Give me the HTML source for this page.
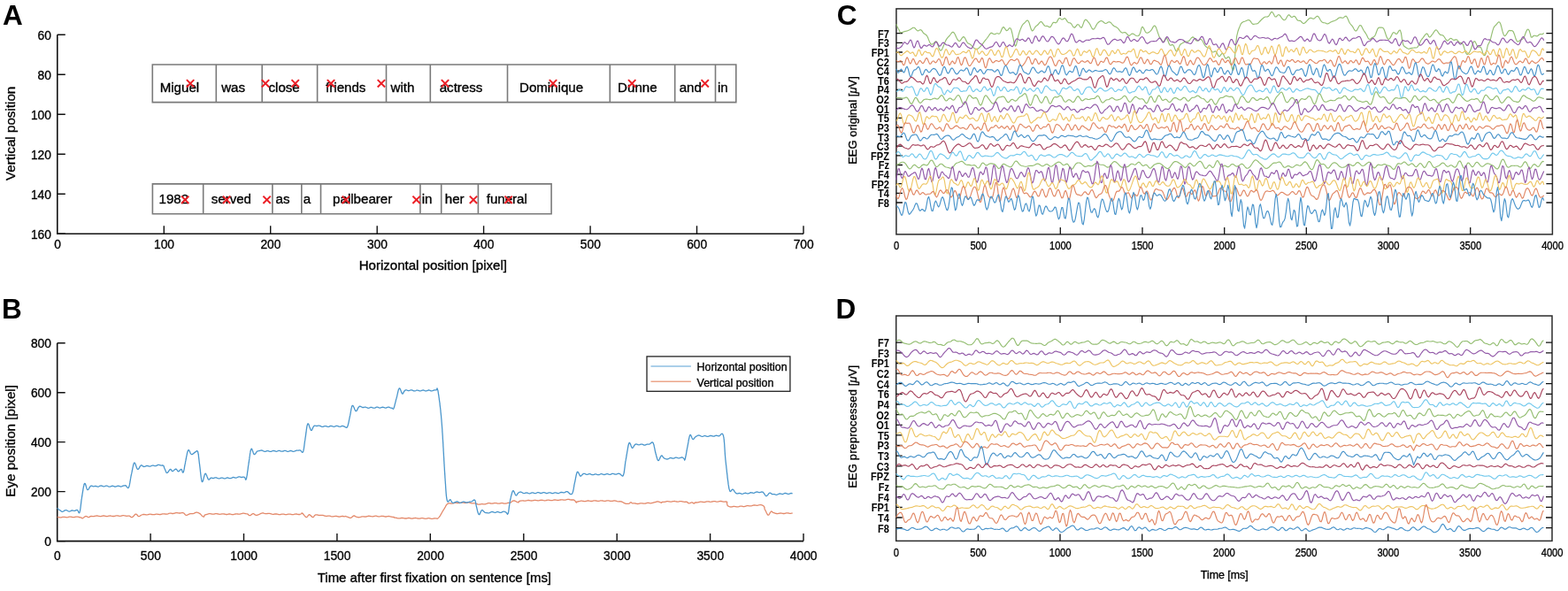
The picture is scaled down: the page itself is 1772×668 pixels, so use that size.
<!DOCTYPE html>
<html><head><meta charset="utf-8"><title>Eye tracking and EEG figure</title>
<style>html,body{margin:0;padding:0;background:#fff;}svg{display:block;}</style></head>
<body><svg width="1772" height="668" viewBox="0 0 1772 668" font-family="'Liberation Sans', Arial, sans-serif" fill="#000">
<rect width="1772" height="668" fill="#fff"/>
<text x="2.9" y="27.9" font-size="31.5" font-weight="bold">A</text>
<path d="M64.8 39.2V264.3H908.0" fill="none" stroke="#111" stroke-width="1.6"/>
<path d="M64.8 39.2h9M64.8 84.2h9M64.8 129.2h9M64.8 174.3h9M64.8 219.3h9M64.8 264.3h9M185.3 264.3v-9M305.7 264.3v-9M426.2 264.3v-9M546.6 264.3v-9M667.1 264.3v-9M787.5 264.3v-9M908 264.3v-9" stroke="#111" stroke-width="1.4"/>
<text transform="translate(57.9 45.1) scale(0.92 1)" font-size="15" text-anchor="end" stroke="#000" stroke-width="0.35">60</text>
<text transform="translate(57.9 90.1) scale(0.92 1)" font-size="15" text-anchor="end" stroke="#000" stroke-width="0.35">80</text>
<text transform="translate(57.9 135.1) scale(0.92 1)" font-size="15" text-anchor="end" stroke="#000" stroke-width="0.35">100</text>
<text transform="translate(57.9 180.2) scale(0.92 1)" font-size="15" text-anchor="end" stroke="#000" stroke-width="0.35">120</text>
<text transform="translate(57.9 225.2) scale(0.92 1)" font-size="15" text-anchor="end" stroke="#000" stroke-width="0.35">140</text>
<text transform="translate(57.9 270.2) scale(0.92 1)" font-size="15" text-anchor="end" stroke="#000" stroke-width="0.35">160</text>
<text transform="translate(65 281.2) scale(0.92 1)" font-size="15" text-anchor="middle" stroke="#000" stroke-width="0.35">0</text>
<text transform="translate(185.5 281.2) scale(0.92 1)" font-size="15" text-anchor="middle" stroke="#000" stroke-width="0.35">100</text>
<text transform="translate(305.9 281.2) scale(0.92 1)" font-size="15" text-anchor="middle" stroke="#000" stroke-width="0.35">200</text>
<text transform="translate(426.4 281.2) scale(0.92 1)" font-size="15" text-anchor="middle" stroke="#000" stroke-width="0.35">300</text>
<text transform="translate(546.8 281.2) scale(0.92 1)" font-size="15" text-anchor="middle" stroke="#000" stroke-width="0.35">400</text>
<text transform="translate(667.3 281.2) scale(0.92 1)" font-size="15" text-anchor="middle" stroke="#000" stroke-width="0.35">500</text>
<text transform="translate(787.7 281.2) scale(0.92 1)" font-size="15" text-anchor="middle" stroke="#000" stroke-width="0.35">600</text>
<text transform="translate(908.2 281.2) scale(0.92 1)" font-size="15" text-anchor="middle" stroke="#000" stroke-width="0.35">700</text>
<text x="489.3" y="305" font-size="15.05" text-anchor="middle" stroke="#000" stroke-width="0.35">Horizontal position [pixel]</text>
<text transform="translate(16.7 150.9) rotate(-90)" font-size="15.2" text-anchor="middle" stroke="#000" stroke-width="0.35">Vertical position</text>
<path d="M172.3 73.0H831.8V115.6H172.3ZM244.3 73.0V115.6M296.2 73.0V115.6M358.6 73.0V115.6M436.5 73.0V115.6M486.3 73.0V115.6M573.5 73.0V115.6M689.3 73.0V115.6M762.7 73.0V115.6M808.5 73.0V115.6" fill="none" stroke="#7a7a7a" stroke-width="1.6"/>
<path d="M172.4 207.9H623.1V241.7H172.4ZM229.7 207.9V241.7M307.9 207.9V241.7M340.8 207.9V241.7M362.5 207.9V241.7M474.9 207.9V241.7M498.7 207.9V241.7M540.4 207.9V241.7" fill="none" stroke="#7a7a7a" stroke-width="1.6"/>
<text x="180.7" y="104.3" font-size="15.1" stroke="#000" stroke-width="0.35">Miguel</text>
<text x="250.2" y="104.3" font-size="15.1" stroke="#000" stroke-width="0.35">was</text>
<text x="303.5" y="104.3" font-size="15.1" stroke="#000" stroke-width="0.35">close</text>
<text x="368.1" y="104.3" font-size="15.1" stroke="#000" stroke-width="0.35">friends</text>
<text x="441.6" y="104.3" font-size="15.1" stroke="#000" stroke-width="0.35">with</text>
<text x="496.7" y="104.3" font-size="15.1" stroke="#000" stroke-width="0.35">actress</text>
<text x="587" y="104.3" font-size="15.1" stroke="#000" stroke-width="0.35">Dominique</text>
<text x="698.1" y="104.3" font-size="15.1" stroke="#000" stroke-width="0.35">Dunne</text>
<text x="767.7" y="104.3" font-size="15.1" stroke="#000" stroke-width="0.35">and</text>
<text x="811" y="104.3" font-size="15.1" stroke="#000" stroke-width="0.35">in</text>
<text x="179.5" y="229.6" font-size="15.1" stroke="#000" stroke-width="0.35">1982</text>
<text x="238.7" y="229.6" font-size="15.1" stroke="#000" stroke-width="0.35">served</text>
<text x="311.6" y="229.6" font-size="15.1" stroke="#000" stroke-width="0.35">as</text>
<text x="342.7" y="229.6" font-size="15.1" stroke="#000" stroke-width="0.35">a</text>
<text x="376.1" y="229.6" font-size="15.1" stroke="#000" stroke-width="0.35">pallbearer</text>
<text x="476.7" y="229.6" font-size="15.1" stroke="#000" stroke-width="0.35">in</text>
<text x="502.8" y="229.6" font-size="15.1" stroke="#000" stroke-width="0.35">her</text>
<text x="549.7" y="229.6" font-size="15.1" stroke="#000" stroke-width="0.35">funeral</text>
<path d="M210.9 90.1l8.4 8.4M210.9 98.5l8.4 -8.4M295.8 90.1l8.4 8.4M295.8 98.5l8.4 -8.4M329.5 90.1l8.4 8.4M329.5 98.5l8.4 -8.4M369.8 90.1l8.4 8.4M369.8 98.5l8.4 -8.4M426.7 90.1l8.4 8.4M426.7 98.5l8.4 -8.4M498.8 90.1l8.4 8.4M498.8 98.5l8.4 -8.4M620.8 90.1l8.4 8.4M620.8 98.5l8.4 -8.4M710 90.1l8.4 8.4M710 98.5l8.4 -8.4M792.5 90.1l8.4 8.4M792.5 98.5l8.4 -8.4M205 221.6l8.4 8.4M205 230l8.4 -8.4M251.9 221.6l8.4 8.4M251.9 230l8.4 -8.4M297.4 221.6l8.4 8.4M297.4 230l8.4 -8.4M386.7 221.6l8.4 8.4M386.7 230l8.4 -8.4M466.4 221.6l8.4 8.4M466.4 230l8.4 -8.4M530.8 221.6l8.4 8.4M530.8 230l8.4 -8.4M570.4 221.6l8.4 8.4M570.4 230l8.4 -8.4" stroke="#ec1f26" stroke-width="2"/>
<text x="1.9" y="360.2" font-size="31.5" font-weight="bold">B</text>
<path d="M64.7 387.7V611.6H908.0" fill="none" stroke="#111" stroke-width="1.6"/>
<path d="M64.7 611.6h9M64.7 555.6h9M64.7 499.6h9M64.7 443.7h9M64.7 387.7h9M170.1 611.6v-8.5M275.5 611.6v-8.5M380.9 611.6v-8.5M486.3 611.6v-8.5M591.8 611.6v-8.5M697.2 611.6v-8.5M802.6 611.6v-8.5M908 611.6v-8.5" stroke="#111" stroke-width="1.4"/>
<text transform="translate(57.9 617.2) scale(0.92 1)" font-size="15" text-anchor="end" stroke="#000" stroke-width="0.35">0</text>
<text transform="translate(57.9 561.2) scale(0.92 1)" font-size="15" text-anchor="end" stroke="#000" stroke-width="0.35">200</text>
<text transform="translate(57.9 505.2) scale(0.92 1)" font-size="15" text-anchor="end" stroke="#000" stroke-width="0.35">400</text>
<text transform="translate(57.9 449.3) scale(0.92 1)" font-size="15" text-anchor="end" stroke="#000" stroke-width="0.35">600</text>
<text transform="translate(57.9 393.3) scale(0.92 1)" font-size="15" text-anchor="end" stroke="#000" stroke-width="0.35">800</text>
<text transform="translate(64.9 632.5) scale(0.92 1)" font-size="15" text-anchor="middle" stroke="#000" stroke-width="0.35">0</text>
<text transform="translate(170.3 632.5) scale(0.92 1)" font-size="15" text-anchor="middle" stroke="#000" stroke-width="0.35">500</text>
<text transform="translate(275.7 632.5) scale(0.92 1)" font-size="15" text-anchor="middle" stroke="#000" stroke-width="0.35">1000</text>
<text transform="translate(381.1 632.5) scale(0.92 1)" font-size="15" text-anchor="middle" stroke="#000" stroke-width="0.35">1500</text>
<text transform="translate(486.5 632.5) scale(0.92 1)" font-size="15" text-anchor="middle" stroke="#000" stroke-width="0.35">2000</text>
<text transform="translate(592 632.5) scale(0.92 1)" font-size="15" text-anchor="middle" stroke="#000" stroke-width="0.35">2500</text>
<text transform="translate(697.4 632.5) scale(0.92 1)" font-size="15" text-anchor="middle" stroke="#000" stroke-width="0.35">3000</text>
<text transform="translate(802.8 632.5) scale(0.92 1)" font-size="15" text-anchor="middle" stroke="#000" stroke-width="0.35">3500</text>
<text transform="translate(908.2 632.5) scale(0.92 1)" font-size="15" text-anchor="middle" stroke="#000" stroke-width="0.35">4000</text>
<text x="490.9" y="657.9" font-size="14.95" text-anchor="middle" stroke="#000" stroke-width="0.35">Time after first fixation on sentence [ms]</text>
<text transform="translate(16.7 498.4) rotate(-90)" font-size="15.2" text-anchor="middle" stroke="#000" stroke-width="0.35">Eye position [pixel]</text>
<path d="M64.7 584.4l0.4 0l0.4 0.1l0.5 0.1l0.6 0.1l0.6 0.2l0.6 0l0.7 0l0.7 -0.1l0.7 -0.2l0.8 -0.2l0.8 -0.1l0.8 0l0.9 0.1l0.8 0.2l0.9 0.1l0.9 0.1l0.8 -0.1l0.9 -0.3l0.9 -0.2l0.9 -0.1l0.8 0l0.9 0.2l0.8 0.2l0.9 0.1l0.8 0l0.7 -0.1l0.8 -0.1l0.7 -0.2l0.7 -0.1l0.6 0l0.6 0l0.6 0.1l0.5 0.1l0.4 0.2l1.9 0.4l1 0.2l0.4 0.3l0.2 0.3l0.2 0.2l0.4 -0.1l0.7 -0.3l0.7 -0.5l0.6 -0.6l0.7 -0.4l0.7 -0.4l0.6 -0.1l0.7 0.2l0.7 0.3l0.6 0.4l0.7 0.3l0.7 0l0.5 -0.2l0.2 -0.3l0.3 -0.3l0.5 -0.3l1 -0.2l1.6 0.2l0.4 0l0.5 0.1l0.5 -0.1l0.6 -0.1l0.6 -0.1l0.6 -0.2l0.6 -0.1l0.7 -0.1l0.6 0l0.8 0.1l0.7 0.2l0.7 0.1l0.8 0.2l0.7 0l0.8 -0.1l0.8 -0.2l0.8 -0.2l0.8 -0.1l0.8 0l0.8 0.2l0.7 0.2l0.8 0.1l0.8 0.1l0.8 0l0.7 -0.2l0.8 -0.2l0.7 -0.1l0.7 -0.1l0.7 0l0.7 0.2l0.8 0.1l0.7 0.2l0.8 0l0.8 0l0.8 -0.2l0.8 -0.2l0.8 -0.2l0.8 -0.1l0.8 0.1l0.7 0.1l0.8 0.2l0.8 0.1l0.8 0l0.7 -0.1l0.7 -0.2l0.8 -0.2l0.7 -0.1l0.7 -0.1l0.6 0.1l0.7 0.1l0.6 0.2l0.6 0.1l0.5 0.1l0.5 0.1l0.5 0l0.5 -0.1l1.4 -0.1l1 0.1l0.6 0.4l0.5 0.4l0.3 0.3l0.4 0.3l0.5 0.1l0.6 -0.1l0.6 -0.3l0.5 -0.5l0.6 -0.5l0.6 -0.7l0.5 -0.6l0.6 -0.5l0.5 -0.4l0.6 0l0.6 0.4l0.6 0.5l0.5 0.7l0.6 0.6l0.7 0.3l0.5 0.1l0.3 -0.2l0.4 -0.2l0.4 -0.3l0.7 -0.5l1 -0.5l1.5 -0.5l0.5 0l0.5 0l0.5 0l0.6 0.1l0.6 0.1l0.6 0.2l0.7 0l0.7 -0.1l0.7 -0.1l0.7 -0.2l0.8 -0.2l0.7 -0.1l0.8 0l0.8 0.1l0.8 0.2l0.8 0.2l0.8 0l0.8 -0.1l0.8 -0.1l0.8 -0.2l0.8 -0.2l0.7 0l0.8 0l0.7 0.2l0.7 0.1l0.7 0.1l0.7 0.1l0.6 -0.1l0.6 -0.1l0.9 -0.3l0.8 -0.2l0.8 -0.1l0.8 0l0.8 0.1l0.8 0.1l0.7 0.1l0.7 0l0.7 -0.1l0.7 -0.2l0.6 -0.2l0.7 -0.3l0.7 -0.1l0.6 -0.1l0.6 0.1l0.7 0l0.6 0.2l0.7 0.1l0.6 0l0.8 -0.1l0.8 -0.2l0.9 -0.2l0.8 -0.3l0.8 -0.1l0.8 0l0.8 0.2l0.7 0.1l0.8 0.1l0.7 0l0.7 -0.1l0.6 -0.1l0.6 -0.1l0.6 -0.1l0.5 -0.1l1 0.3l0.8 0.5l0.5 0.6l0.5 0.6l0.5 0.5l0.7 0.3l0.6 0l0.6 -0.2l0.7 -0.2l0.7 -0.4l0.7 -0.4l0.7 -0.3l0.8 -0.2l0.9 0l0.6 0.1l0.7 0l0.7 -0.1l0.8 -0.2l0.7 -0.3l0.8 -0.4l0.8 -0.3l0.8 -0.2l0.7 0l0.7 0.1l0.7 0.2l0.6 0.3l0.7 0.4l0.6 0.4l0.6 0.5l0.5 0.5l0.5 0.5l0.5 0.6l0.5 0.5l0.5 0.4l0.5 0.3l0.5 0.2l0.5 0l0.2 -0.2l0.1 -0.5l0.1 -0.5l0.3 -0.6l0.7 -0.4l1.1 -0.3l1.7 -0.5l0.4 -0.2l0.5 -0.1l0.5 -0.1l0.5 -0.1l0.6 0l0.6 0l0.6 0.2l0.7 0.1l0.7 0.2l0.7 0l0.7 0l0.7 -0.1l0.8 -0.2l0.8 -0.1l0.7 -0.1l0.8 0l0.9 0.2l0.8 0.2l0.8 0.2l0.8 0.1l0.8 -0.1l0.9 -0.1l0.8 -0.2l0.8 -0.1l0.9 0l0.8 0.2l0.8 0.2l0.8 0.2l0.8 0.1l0.8 0l0.7 -0.2l0.8 -0.2l0.7 -0.1l0.7 0l0.7 0l0.7 0.2l0.6 0.1l0.7 0.2l0.5 0.1l0.6 0l1 -0.1l1 -0.3l0.9 -0.2l0.9 -0.1l0.9 0l0.8 0.1l0.8 0.1l0.8 0.1l0.8 -0.1l0.7 -0.2l0.7 -0.2l0.6 -0.2l0.7 -0.2l0.6 -0.1l0.6 0l0.5 0l0.5 0.1l0.6 0.1l0.5 0.1l0.4 0.1l0.5 0.1l1.3 0.2l0.9 0.3l0.5 0.5l0.5 0.5l0.4 0.3l0.5 0.2l0.7 -0.1l0.6 -0.4l0.6 -0.5l0.7 -0.5l0.6 -0.4l0.6 -0.2l0.6 0.1l0.6 0.3l0.6 0.4l0.6 0.5l0.6 0.3l0.7 0.2l0.6 0l0.6 -0.2l0.7 -0.2l0.7 -0.3l0.7 -0.3l0.7 -0.4l0.7 -0.3l0.6 -0.3l0.6 -0.2l0.5 -0.2l0.5 -0.1l0.7 0l0.7 0.1l1 0.3l1.1 0.3l0.5 0l0.5 0l0.6 0l0.6 -0.1l0.6 -0.1l0.6 0l0.6 -0.1l0.7 0.1l0.6 0.1l0.7 0.2l0.8 0.3l0.7 0.2l0.8 0.1l0.8 0l0.8 -0.2l0.8 -0.1l0.9 -0.1l0.9 0.1l0.9 0.2l1 0.2l0.6 0.2l0.6 0l0.7 0l0.6 -0.1l0.8 -0.2l0.7 -0.1l0.7 -0.1l0.8 0l0.8 0.1l0.8 0.2l0.8 0.2l0.9 0.1l0.8 -0.1l0.8 -0.2l0.9 -0.2l0.8 -0.1l0.8 0l0.9 0.1l0.8 0.2l0.8 0.2l0.8 0.1l0.8 -0.1l0.8 -0.2l0.7 -0.2l0.8 -0.1l0.7 -0.1l0.6 0l0.7 0.1l0.6 0.2l0.6 0.1l0.5 0.1l0.5 0l0.5 0l0.4 0l2.3 -1l-0.1 -0.6l0.2 0l0.5 0.2l0.5 0.4l0.5 0.6l0.6 0.7l0.6 0.8l0.7 0.8l0.5 0.6l0.6 0.4l0.5 0.2l0.8 -0.3l0.6 -0.7l0.7 -0.9l0.6 -0.7l0.7 -0.3l0.6 0.2l0.7 0.6l0.7 0.7l0.7 0.7l0.7 0.5l0.7 0.2l0.6 -0.3l0.4 -0.5l0.4 -0.6l0.6 -0.7l0.8 -0.6l1.2 -0.1l0.5 0l0.5 0.2l0.6 0.1l0.6 0.2l0.6 0.1l0.7 0.1l0.7 -0.1l0.7 0l0.8 -0.1l0.7 0l0.8 0.1l0.8 0.3l0.8 0.3l0.8 0.2l0.8 0.2l0.8 0l0.8 0l0.8 -0.2l0.8 -0.1l0.7 0l0.7 0.1l0.7 0.2l0.7 0.2l0.8 0.2l0.8 0.1l0.8 0l0.7 -0.2l0.8 -0.1l0.8 -0.2l0.8 0l0.8 0.1l0.8 0.2l0.8 0.2l0.7 0.1l0.7 0.1l0.7 -0.1l0.7 -0.1l0.6 -0.2l0.6 -0.1l0.5 -0.1l0.5 0l0.5 0l1.7 0.3l0.7 -0.1l0.4 -0.2l0.6 0.1l0.6 0.2l0.7 0.2l0.7 0.3l0.7 0.3l0.7 0.3l0.6 0.3l0.7 0.2l0.6 0l0.6 -0.2l0.6 -0.4l0.6 -0.5l0.5 -0.5l0.6 -0.5l0.6 -0.3l0.6 -0.1l0.4 0.2l0.4 0.3l0.5 0.3l0.9 0.4l1.3 0.4l0.5 0.1l0.5 0.1l0.5 0.1l0.5 -0.1l0.6 0l0.6 -0.2l0.6 -0.2l0.7 -0.2l0.6 -0.2l0.7 -0.1l0.7 0l0.8 0.1l0.8 0.1l0.7 0.1l0.8 -0.1l0.9 -0.1l0.8 -0.3l0.9 -0.2l0.9 -0.2l0.9 0.1l0.9 0.2l0.6 0.1l0.6 0.1l0.7 0.1l0.7 0l0.7 -0.2l0.7 -0.1l0.7 -0.2l0.8 -0.1l0.8 0l0.8 0.2l0.8 0.2l0.8 0.2l0.8 0l0.8 0l0.9 -0.2l0.8 -0.2l0.8 -0.1l0.8 0l0.9 0.2l0.8 0.2l0.8 0.2l0.7 0.1l0.8 0l0.7 -0.1l0.8 -0.2l0.7 -0.1l0.7 -0.1l0.6 0l0.6 0.2l0.6 0.1l0.6 0.2l0.5 0.1l0.5 0.1l0.4 0.1l1.6 0l0.6 0.1l-0.1 0.3l0 0.3l0.5 0.2l1.5 0l0.4 0.1l0.5 0.1l0.5 0.1l0.6 0.2l0.5 0.1l0.6 0.1l0.7 0l0.6 0l0.7 -0.1l0.7 -0.2l0.7 -0.1l0.8 -0.1l0.7 0.1l0.8 0.1l0.8 0.2l0.7 0.2l0.8 0l0.8 0l0.9 -0.2l0.8 -0.2l0.8 -0.1l0.8 0l0.8 0.1l0.8 0.2l0.8 0.2l0.8 0.1l0.8 -0.1l0.8 -0.1l0.7 -0.2l0.8 -0.1l0.7 -0.1l0.7 0l0.7 0.2l0.8 0.2l0.7 0.1l0.8 0.1l0.8 0l0.8 -0.1l0.8 -0.2l0.8 -0.1l0.8 -0.1l0.8 0.1l0.8 0.2l0.8 0.2l0.8 0.1l0.8 0.1l0.8 -0.1l0.7 -0.2l0.8 -0.2l0.8 -0.1l0.7 0l0.7 0.2l0.7 0.1l0.7 0.2l0.7 0.1l0.6 0.1l0.6 -0.1l0.6 -0.1l0.5 -0.1l0.5 -0.1l0.5 -0.1l0.5 -0.1l0.4 0l2.3 0.4l0.1 0.1l0.3 -0.3l0.5 -0.3l0.4 -0.3l0.5 -0.5l0.5 -0.6l0.5 -0.7l0.6 -0.8l0.5 -0.9l0.3 -0.6l0.4 -0.6l0.4 -0.7l0.3 -0.7l0.4 -0.7l0.4 -0.6l0.4 -0.6l0.3 -0.6l0.4 -0.6l0.4 -0.5l0.3 -0.5l0.4 -0.7l0.4 -0.7l0.4 -0.7l0.3 -0.7l0.4 -0.7l0.4 -0.7l0.5 -0.6l0.6 -0.6l0.5 -0.4l0.6 -0.3l0.5 -0.2l0.6 -0.1l0.6 0.1l0.7 0.1l0.9 0.2l1.1 0l1.2 -0.3l0.5 -0.1l0.6 -0.2l0.5 -0.2l0.6 0l0.7 -0.1l0.7 0.1l0.7 0.1l0.7 0.2l0.7 0l0.8 0l0.7 -0.2l0.8 -0.2l0.8 -0.2l0.8 -0.1l0.7 0l0.8 0.1l0.8 0.1l0.8 0.2l0.7 0.1l0.8 -0.1l0.7 -0.1l0.7 -0.2l0.7 -0.1l0.7 -0.1l0.6 0l0.8 0.2l0.8 0.2l0.8 0.3l0.7 0.2l0.8 0.1l0.7 0l0.7 -0.1l0.7 0l0.7 0l0.7 0.1l0.7 0.2l0.7 0.3l0.6 0.2l0.7 0.3l0.6 0.2l0.7 0l0.6 0l0.7 -0.1l0.6 -0.1l0.8 -0.1l0.7 -0.1l0.7 0l0.6 0.1l0.7 0.1l0.6 0l0.6 0l0.6 -0.1l0.7 -0.2l0.7 -0.2l0.7 -0.3l0.8 -0.2l0.8 -0.2l0.9 0l1 0.2l0.6 0.1l0.6 0.1l0.6 0.1l0.6 -0.1l0.7 -0.1l0.7 -0.2l0.8 -0.2l0.7 0l0.8 0l0.8 0.1l0.8 0.2l0.8 0.2l0.8 0.1l0.8 -0.1l0.8 -0.1l0.8 -0.2l0.8 -0.2l0.8 0l0.7 0.1l0.8 0.2l0.7 0.2l0.7 0.1l0.7 0l0.7 -0.1l0.6 -0.1l0.6 -0.2l0.5 -0.2l0.5 -0.1l0.5 -0.1l1.4 -0.1l1 -0.1l0.7 -0.3l0.5 -0.4l0.4 -0.4l0.4 -0.4l0.4 -0.3l0.6 -0.3l0.7 -0.1l0.6 -0.1l0.7 0.1l0.7 0.3l0.7 0.4l0.7 0.4l0.7 0.4l0.7 0.3l0.6 0.1l0.5 -0.1l0 -0.2l-0.1 -0.2l0 -0.3l0.6 -0.4l1.3 -0.6l2.4 -0.3l0.4 0.1l0.4 0l0.5 0.1l0.5 0.1l0.5 0.1l0.6 0l0.5 -0.1l0.6 -0.1l0.6 -0.2l0.7 -0.1l0.6 -0.2l0.7 0l0.7 0l0.7 0.1l0.7 0.2l0.7 0.1l0.8 0.1l0.7 -0.1l0.8 -0.1l0.8 -0.2l0.8 -0.2l0.8 -0.1l0.8 0.1l0.8 0.2l0.8 0.1l0.8 0.2l0.9 0l0.8 -0.2l0.8 -0.2l0.8 -0.2l0.9 -0.1l0.8 0.1l0.8 0.1l0.8 0.2l0.9 0.2l0.8 0l0.8 -0.1l0.8 -0.2l0.8 -0.2l0.7 -0.1l0.8 0l0.7 0.1l0.8 0.1l0.7 0.2l0.7 0.1l0.7 0l0.7 -0.1l0.7 -0.2l0.6 -0.2l0.6 -0.1l0.6 -0.1l0.6 0l0.6 0.1l0.5 0.1l1.1 0.2l1 0.1l1 -0.1l0.9 -0.2l0.9 -0.2l0.9 -0.2l0.9 0l0.8 0.1l0.8 0.2l0.8 0.1l0.7 0l0.7 -0.1l0.7 -0.2l0.6 -0.2l0.7 -0.1l0.6 -0.2l0.6 0l0.5 0l0.6 0.1l0.5 0.1l0.5 0.2l0.5 0.1l0.5 0.1l0.5 0l0.5 0l0.4 0l1.2 0l1 0.2l0.6 0.4l0.5 0.6l0.3 0.5l0.4 0.6l0.3 0.4l0.5 0.3l0.3 0.1l-0.3 -0.3l-0.2 -0.4l0.2 -0.3l1.2 -0.1l2.8 -0.6l0.4 -0.1l0.4 -0.1l0.5 0l0.5 -0.1l0.5 0.1l0.5 0.1l0.6 0.1l0.6 0.1l0.6 0.1l0.6 0l0.6 0l0.7 -0.1l0.7 -0.2l0.7 -0.2l0.7 -0.1l0.7 0l0.8 0l0.7 0.2l0.8 0.2l0.8 0.1l0.8 0l0.8 -0.2l0.8 -0.2l0.8 -0.2l0.8 -0.1l0.8 0.1l0.9 0.1l0.8 0.2l0.8 0.2l0.9 0l0.8 -0.1l0.9 -0.2l0.8 -0.2l0.8 -0.1l0.9 0l0.8 0.2l0.8 0.2l0.8 0.1l0.8 0.1l0.8 -0.1l0.8 -0.2l0.8 -0.2l0.8 -0.1l0.7 0l0.7 0.1l0.8 0.2l0.7 0.2l0.7 0.1l0.7 0l0.6 0l0.7 -0.1l0.6 -0.2l0.6 -0.1l0.5 -0.1l0.6 0l0.5 0.1l0.5 0.1l0.5 0.1l1.3 0.4l1.3 0.2l1.1 0l1 -0.1l0.9 0.1l0.9 0.2l0.7 0.3l0.7 0.4l0.6 0.4l0.6 0.3l0.5 0.3l0.5 0.2l0.4 0.2l0.4 0.1l0.4 0.1l0.4 0l0.4 0l0.5 0l0.4 0l1.2 0l0.8 -0.2l0.6 -0.4l0.4 -0.4l0.4 -0.4l0.6 -0.1l0.5 0.1l0.2 0.3l0.3 0.3l0.4 0.3l1 0.1l1.6 0l0.5 0l0.5 0.1l0.5 0.1l0.6 0.2l0.7 0.1l0.7 0.1l0.7 0l0.7 -0.2l0.8 -0.2l0.8 -0.2l0.8 -0.1l0.8 0l0.9 0.1l0.8 0.2l0.9 0.1l0.8 0l0.9 -0.2l0.8 -0.2l0.8 -0.3l0.9 -0.1l0.7 0l0.8 0.1l0.7 0.2l0.7 0.1l0.7 0l0.6 -0.1l0.6 -0.1l0.5 -0.2l0.5 -0.1l1.4 -0.5l1 -0.2l0.8 -0.1l0.5 -0.2l0.4 -0.2l0.4 -0.1l0.4 -0.1l0.5 0l0.7 0.1l0.7 0.1l0.7 0.2l0.6 0.3l0.7 0.3l0.6 0.3l0.5 0.1l0.3 -0.1l-0.1 -0.4l0.4 -0.5l2.1 0.1l0.4 0l0.5 -0.1l0.5 -0.1l0.6 -0.1l0.6 -0.2l0.6 -0.2l0.7 0l0.7 0l0.8 0.1l0.7 0.1l0.8 0.2l0.8 0.1l0.9 -0.1l0.8 -0.2l0.9 -0.2l0.8 -0.1l0.9 -0.1l0.8 0.2l0.9 0.2l0.8 0.1l0.8 0.1l0.9 0l0.8 -0.2l0.7 -0.2l0.8 -0.1l0.7 0l0.7 0l0.7 0.2l0.6 0.2l0.6 0.1l0.6 0.1l0.5 0.1l0.4 0l1.6 -0.1l1.1 0.1l0.6 0.3l0.3 0.4l0.2 0.3l0.3 0.3l0.4 0.2l0.8 0.1l0.7 -0.2l0.8 -0.3l0.7 -0.4l0.6 -0.2l0.7 0.1l0.6 0.5l0.6 0.4l0.8 0.2l0.4 -0.1l0 -0.2l0.2 -0.4l0.5 -0.3l1.2 0l2.2 -0.2l0.4 -0.1l0.5 -0.1l0.5 -0.2l0.6 -0.1l0.5 -0.1l0.7 -0.1l0.6 0l0.7 0.2l0.7 0.1l0.7 0.1l0.8 0.1l0.7 -0.1l0.8 -0.2l0.8 -0.2l0.8 -0.2l0.9 -0.1l0.8 0.1l0.9 0.1l0.8 0.2l0.9 0.1l0.9 -0.1l0.8 -0.2l0.9 -0.2l0.8 -0.2l0.9 0l0.8 0.1l0.8 0.2l0.9 0.2l0.8 0l0.7 0l0.8 -0.2l0.7 -0.2l0.8 -0.1l0.6 -0.1l0.7 0l0.6 0.1l0.6 0.2l0.6 0.1l0.5 0.2l0.5 0l0.5 0.1l0.4 0l2.3 -0.2l0.8 0.4l0 0.6l-0.3 0.6l0.1 0.6l0.3 0.6l0.1 0.7l0.1 0.7l0.6 0.7l1.4 0.6l0.4 0.2l0.5 0.1l0.6 0.1l0.5 0.1l0.6 -0.1l0.7 -0.1l0.6 -0.2l0.7 -0.1l0.7 -0.1l0.8 0l0.7 0.2l0.8 0.1l0.8 0.2l0.8 0l0.9 -0.1l0.8 -0.2l0.9 -0.3l0.8 -0.1l0.9 -0.1l0.8 0.1l0.9 0.2l0.8 0.2l0.6 0l0.7 -0.1l0.7 -0.2l0.7 -0.2l0.7 -0.2l0.8 -0.2l0.7 0l0.8 0l0.8 0.1l0.8 0.1l0.8 0l0.8 -0.1l0.8 -0.2l0.8 -0.3l0.8 -0.2l0.8 -0.1l0.8 0l0.7 0.1l0.8 0.1l0.7 0.1l0.7 0l0.7 -0.1l0.7 -0.2l0.6 -0.2l0.7 -0.1l0.5 -0.1l0.6 0l0.5 0.1l0.5 0.1l0.4 0.1l1.3 0.6l0.8 0.6l0.5 0.5l0.2 0.7l0.2 0.7l0 0.7l0.2 0.8l0.3 0.6l0.4 0.6l0.3 0.6l0.3 0.7l0.4 0.8l0.3 0.7l0.4 0.8l0.4 0.6l0.3 0.6l0.3 0.4l0.4 0.3l0.4 0l0.5 -0.3l0.4 -0.6l0.4 -0.7l0.4 -0.8l0.5 -0.7l0.4 -0.6l0.5 -0.4l0.5 -0.1l0.3 0.2l0.3 0.3l0.4 0.4l0.6 0.4l1 0.3l1.4 0.5l0.5 0.2l0.5 0.1l0.6 0.1l0.6 0.1l0.6 0l0.8 -0.2l0.7 -0.1l0.8 -0.2l0.8 -0.1l0.8 0.1l0.8 0.1l0.9 0.2l0.8 0.1l0.9 0l0.8 -0.1l0.9 -0.3l0.8 -0.2l0.8 0l0.8 0l0.8 0.1l0.7 0.2l0.7 0.1l0.7 0.1l0.6 -0.1l0.6 -0.1l0.5 -0.1l0.4 -0.1l0.4 -0.1" fill="none" stroke="#e3896a" stroke-width="1.3" stroke-linejoin="round"/>
<path d="M64.7 574.2l0.3 0.4l0.5 0.5l0.5 0.4l0.5 0.5l0.6 0.4l0.7 0.3l0.6 0.5l0.5 0.4l0.5 0.4l0.7 0.4l0.7 -0.1l0.6 -0.3l0.7 -0.4l0.7 -0.5l0.7 -0.2l0.7 -0.2l0.8 0l0.8 0.3l0.9 0.5l0.8 0.4l0.7 0.2l0.8 -0.2l0.8 -0.3l0.8 -0.4l0.8 -0.2l0.8 0l0.7 0.2l0.9 0.2l0.9 -0.1l0.8 -0.4l0.8 -0.4l0.7 -0.2l0.7 0.4l0.6 1.1l0.5 1.3l0.6 0.7l0.5 -0.5l0.1 -0.3l0.1 -0.3l0.1 -0.5l0.1 -0.5l0.2 -0.5l0.1 -0.6l0.1 -0.6l0.1 -0.7l0.1 -0.8l0.1 -0.7l0.1 -0.8l0.1 -0.8l0.1 -0.9l0.1 -0.8l0.1 -0.9l0.1 -0.8l0.1 -0.9l0.1 -0.9l0.1 -0.8l0.1 -0.9l0.1 -0.8l0.2 -0.8l0.1 -0.8l0.1 -0.7l0.1 -0.8l0.2 -0.9l0.1 -0.9l0.1 -0.9l0.2 -0.9l0.1 -0.9l0.2 -0.9l0.1 -1l0.2 -0.9l0.1 -0.9l0.1 -0.8l0.2 -0.8l0.1 -0.8l0.2 -0.8l0.1 -0.7l0.2 -0.6l0.1 -0.6l0.2 -0.5l0.1 -0.4l0.2 -0.3l0.1 -0.3l0.2 -0.2l0.3 0l0.3 0.3l0.3 0.7l0.3 0.9l0.3 1l0.3 1.1l0.3 1l0.3 1l0.3 0.7l0.4 0.5l0.3 0.1l0.5 -0.2l0.5 -0.7l0.5 -0.8l0.5 -0.8l0.5 -0.8l0.5 -0.7l0.5 -0.4l0.5 -0.2l0.6 0l0.6 0.3l0.5 0.3l0.7 0.2l1 -0.2l0.5 -0.2l0.6 -0.1l0.6 0.1l0.7 0.2l0.7 0.2l0.7 0.2l0.8 0l0.8 -0.3l0.7 -0.4l0.8 -0.3l0.8 -0.1l0.8 0.1l0.7 0.3l0.6 0.3l0.7 0.2l0.6 0l0.7 -0.2l0.6 -0.2l0.7 -0.3l0.7 -0.1l0.7 0.1l0.8 0.3l0.7 0.3l0.8 0.3l0.8 0l0.9 -0.2l0.6 -0.3l0.7 -0.3l0.7 -0.1l0.8 0.2l0.8 0.2l0.8 0.4l0.8 0.1l0.8 -0.1l0.9 -0.4l0.8 -0.3l0.8 -0.1l0.8 0.1l0.8 0.2l0.8 0.3l0.7 0.2l0.7 -0.1l0.6 -0.2l0.6 -0.3l0.5 -0.2l0.5 -0.2l1.5 -0.1l0.5 -0.1l0.3 -0.2l0.4 0.2l0.6 0.7l0.7 1.1l0.7 0.7l0.7 0.2l0.7 -0.9l0.1 -0.4l0.2 -0.4l0.1 -0.5l0.2 -0.6l0.1 -0.6l0.2 -0.7l0.1 -0.7l0.1 -0.8l0.2 -0.7l0.1 -0.8l0.1 -0.8l0.2 -0.8l0.1 -0.8l0.1 -0.8l0.2 -0.8l0.1 -0.8l0.1 -0.7l0.2 -0.8l0.1 -0.7l0.2 -0.6l0.1 -0.7l0.2 -0.7l0.1 -0.7l0.2 -0.8l0.2 -0.9l0.1 -0.8l0.2 -0.9l0.2 -0.8l0.1 -0.9l0.2 -0.9l0.2 -0.8l0.1 -0.8l0.2 -0.7l0.2 -0.7l0.2 -0.7l0.1 -0.6l0.2 -0.5l0.2 -0.4l0.2 -0.3l0.3 -0.2l0.3 0.2l0.4 0.4l0.3 0.7l0.4 0.9l0.3 1l0.4 1l0.3 1.1l0.4 0.9l0.3 0.7l0.4 0.4l0.6 0.1l0.6 -0.4l0.6 -0.8l0.5 -1l0.6 -1l0.6 -0.9l0.5 -0.4l0.7 -0.1l0.5 0.4l0.6 0.6l1.2 0.6l0.5 0.1l0.6 -0.2l0.6 -0.2l0.7 -0.3l0.7 -0.3l0.8 0l0.8 0.1l0.8 0.3l0.8 0.3l0.8 0l0.9 -0.3l0.8 -0.4l0.8 -0.3l0.7 -0.1l0.7 0.1l0.7 0.2l0.8 0.2l0.8 0.1l0.8 -0.2l0.8 -0.4l0.8 -0.5l0.8 -0.2l0.7 0l0.7 0.2l0.7 0.2l0.7 0.2l0.6 0.1l0.5 0l0.5 -0.1l0.8 0l0.6 0.3l0.4 0.6l0.2 0.6l0.2 0.7l0.2 0.7l0.3 0.7l0.4 0.7l0.3 0.9l0.4 0.9l0.4 0.9l0.3 0.8l0.4 0.5l0.5 0.2l0.5 -0.1l0.6 -0.6l0.6 -0.9l0.7 -1l0.6 -0.8l0.5 -0.6l0.5 -0.2l0.8 0.6l0.5 1.1l0.8 0.7l0.6 -0.1l0.6 -0.5l0.8 -0.7l0.7 -0.7l0.7 -0.5l0.6 -0.1l0.8 0.5l0.6 0.9l0.6 0.9l0.7 0.5l0.7 -0.2l0.7 -0.7l0.7 -0.8l0.7 -0.7l0.6 -0.2l0.5 0.6l0.4 1.2l0.4 1.3l0.4 0.8l0.5 -0.2l0.1 -0.3l0.2 -0.3l0.1 -0.5l0.1 -0.5l0.2 -0.5l0.1 -0.7l0.2 -0.6l0.1 -0.8l0.2 -0.8l0.1 -0.8l0.1 -0.8l0.2 -0.9l0.1 -0.8l0.2 -0.9l0.2 -0.9l0.1 -0.8l0.2 -0.9l0.1 -0.8l0.2 -0.7l0.1 -0.7l0.2 -0.9l0.2 -0.9l0.1 -1l0.2 -0.9l0.2 -0.9l0.2 -1l0.2 -0.8l0.1 -0.9l0.2 -0.8l0.2 -0.7l0.2 -0.7l0.2 -0.6l0.2 -0.4l0.2 -0.4l0.2 -0.3l0.2 -0.2l0.4 0.1l0.4 0.5l0.4 0.7l0.4 0.9l0.4 1l0.5 0.8l0.5 0.6l0.5 0.4l0.5 0.1l0.5 -0.3l0.6 -0.5l0.7 -0.5l0.6 -0.5l0.7 -0.5l0.7 -0.5l0.6 -0.5l0.6 -0.5l0.5 -0.3l0.5 0.2l0.2 0.2l0.2 0.3l0.1 0.3l0.2 0.4l0.1 0.5l0.1 0.6l0.1 0.6l0.1 0.6l0.2 0.7l0.1 0.7l0 0.8l0.1 0.8l0.1 0.8l0.1 0.8l0.1 0.9l0.1 0.8l0.1 0.9l0.1 0.8l0.1 0.9l0.1 0.9l0.1 0.8l0.1 0.8l0.1 0.7l0.1 0.8l0.1 0.8l0.1 0.8l0.1 0.8l0.1 0.9l0.1 0.9l0.1 0.9l0.1 0.9l0.1 1l0.1 0.9l0.1 0.9l0.1 0.9l0.1 0.9l0.1 0.9l0.1 0.8l0.1 0.9l0.2 0.7l0.1 0.8l0.1 0.7l0.1 0.6l0.1 0.6l0.1 0.5l0.1 0.4l0.2 0.4l0.1 0.3l0.1 0.2l0.3 0.1l0.2 -0.3l0.3 -0.6l0.3 -0.8l0.3 -1l0.3 -1.2l0.3 -1.1l0.3 -1.2l0.3 -1.1l0.3 -0.9l0.3 -0.7l0.3 -0.5l0.3 -0.1l0.3 0.2l0.4 0.5l0.3 0.7l0.4 0.8l0.3 1l0.4 0.9l0.3 0.8l0.3 0.8l0.4 0.7l0.3 0.4l0.3 0.2l0.6 -0.1l0.5 -0.6l0.5 -0.7l0.6 -0.6l1.1 0l0.5 0.2l0.6 0.1l0.6 0.1l0.7 -0.1l0.7 -0.3l0.8 -0.3l0.7 -0.1l0.8 0.1l0.8 0.4l0.9 0.4l0.8 0.2l0.8 0l0.8 -0.3l0.7 -0.3l0.6 -0.2l0.7 0l0.6 0.1l0.7 0.2l0.6 0.3l0.7 0.2l0.7 0l0.7 -0.1l0.7 -0.3l0.7 -0.3l0.8 -0.2l0.7 0l0.8 0.3l0.8 0.3l0.8 0.1l0.6 0l0.7 -0.3l0.8 -0.3l0.7 -0.4l0.8 -0.2l0.8 0.1l0.8 0.2l0.8 0.3l0.8 0l0.8 -0.2l0.8 -0.4l0.8 -0.4l0.8 -0.2l0.7 0l0.8 0.2l0.7 0.3l0.6 0.1l0.6 0l0.6 -0.1l0.5 -0.2l0.5 -0.1l1.4 0.2l0.7 1.2l0.3 1.2l0.3 0.6l0.4 -0.5l0.1 -0.3l0.1 -0.4l0.2 -0.4l0.1 -0.4l0.1 -0.5l0.1 -0.6l0.1 -0.6l0.1 -0.7l0.2 -0.7l0.1 -0.7l0.1 -0.8l0.1 -0.8l0.1 -0.8l0.1 -0.8l0.1 -0.8l0.2 -0.9l0.1 -0.9l0.1 -0.8l0.1 -0.9l0.1 -0.8l0.1 -0.9l0.1 -0.8l0.2 -0.8l0.1 -0.8l0.1 -0.7l0.1 -0.8l0.2 -0.9l0.1 -0.9l0.1 -0.9l0.1 -0.9l0.2 -0.9l0.1 -0.9l0.1 -0.9l0.1 -1l0.2 -0.9l0.1 -0.8l0.1 -0.9l0.1 -0.8l0.2 -0.8l0.1 -0.8l0.1 -0.7l0.2 -0.6l0.1 -0.6l0.1 -0.5l0.2 -0.5l0.1 -0.3l0.2 -0.3l0.1 -0.3l0.4 -0.1l0.3 0.5l0.4 0.8l0.4 1.1l0.4 1.2l0.4 1.2l0.4 0.9l0.5 0.7l0.4 0.1l0.5 -0.3l0.5 -0.5l0.5 -0.8l0.5 -0.8l0.5 -0.7l0.6 -0.5l0.7 -0.3l0.7 -0.1l0.6 -0.1l0.5 -0.1l0.6 -0.1l0.6 -0.2l0.7 -0.1l0.6 -0.1l0.8 0.2l0.7 0.4l0.9 0.4l0.9 0.4l1 -0.1l0.6 -0.1l0.5 -0.3l0.6 -0.2l0.7 -0.1l0.6 0l0.7 0.2l0.6 0.3l0.7 0.2l0.8 0.1l0.7 -0.1l0.7 -0.3l0.8 -0.3l0.7 -0.2l0.8 0l0.8 0.2l0.7 0.3l0.8 0.2l0.8 0.1l0.8 -0.3l0.8 -0.3l0.8 -0.3l0.7 0l0.6 0.1l0.7 0.3l0.8 0.3l0.7 0.1l0.8 0l0.8 -0.2l0.7 -0.4l0.8 -0.2l0.8 0l0.8 0.3l0.8 0.3l0.8 0.3l0.8 0l0.8 -0.2l0.7 -0.3l0.8 -0.3l0.7 -0.1l0.7 0.2l0.7 0.2l0.6 0.3l0.7 0.2l0.5 0l0.6 -0.1l0.5 -0.2l0.5 -0.2l1.5 -0.6l1 -0.1l0.8 0.1l0.6 -0.1l0.5 -0.1l0.4 -0.1l0.6 0l0.7 0.2l0.7 0.6l0.6 0.7l0.5 0.7l0.6 0.3l0.5 -0.5l0.1 -0.3l0.2 -0.3l0.1 -0.4l0.1 -0.5l0.1 -0.5l0.1 -0.6l0.2 -0.6l0.1 -0.7l0.1 -0.7l0.1 -0.7l0.1 -0.7l0.1 -0.8l0.1 -0.8l0.1 -0.8l0.1 -0.8l0.1 -0.8l0.1 -0.8l0.1 -0.8l0.1 -0.8l0.2 -0.8l0.1 -0.8l0.1 -0.7l0.1 -0.8l0.1 -0.7l0.1 -0.8l0.2 -0.9l0.1 -0.8l0.1 -0.9l0.1 -0.9l0.1 -0.9l0.2 -1l0.1 -0.9l0.1 -0.9l0.1 -0.9l0.1 -0.9l0.2 -0.8l0.1 -0.8l0.1 -0.8l0.1 -0.7l0.2 -0.7l0.1 -0.5l0.2 -0.6l0.1 -0.4l0.1 -0.4l0.2 -0.2l0.3 -0.2l0.4 0.2l0.3 0.6l0.4 0.9l0.3 1l0.4 1.2l0.4 1.1l0.4 1.1l0.4 0.8l0.3 0.6l0.4 0.2l0.4 -0.2l0.4 -0.5l0.4 -0.7l0.3 -0.9l0.4 -0.9l0.5 -0.9l0.5 -0.7l0.5 -0.5l0.7 -0.1l0.5 0.1l0.6 0.1l0.5 0.2l0.6 0l0.7 -0.1l0.6 -0.2l0.7 -0.1l0.7 0l0.8 0.2l0.8 0.4l0.8 0.4l0.9 0.3l0.9 -0.1l0.6 -0.2l0.6 -0.2l0.7 -0.2l0.7 -0.1l0.7 0.1l0.7 0.2l0.8 0.3l0.7 0.2l0.8 0l0.8 -0.3l0.8 -0.4l0.8 -0.2l0.8 0l0.7 0.2l0.8 0.3l0.7 0.2l0.7 0.1l0.7 -0.2l0.7 -0.2l0.6 -0.3l0.6 -0.2l0.9 0l0.9 0.2l0.8 0.4l0.8 0.2l0.8 0.1l0.7 -0.2l0.7 -0.3l0.7 -0.3l0.6 0l0.6 0l0.6 0.2l0.5 0.2l0.5 0.3l1.1 0.5l0.8 0.5l0.6 0.2l0.5 -0.3l0.6 -0.9l0.2 -0.4l0.1 -0.5l0.2 -0.6l0.2 -0.6l0.1 -0.6l0.2 -0.7l0.2 -0.7l0.1 -0.7l0.2 -0.8l0.1 -0.7l0.2 -0.8l0.1 -0.7l0.2 -0.8l0.1 -0.7l0.2 -0.8l0.1 -0.7l0.2 -0.6l0.1 -0.7l0.2 -0.7l0.1 -0.7l0.2 -0.9l0.1 -0.8l0.2 -0.9l0.1 -0.9l0.2 -0.8l0.1 -0.9l0.2 -0.9l0.1 -0.7l0.2 -0.8l0.2 -0.7l0.1 -0.6l0.2 -0.5l0.2 -0.5l0.2 -0.3l0.3 -0.2l0.4 0.2l0.4 0.5l0.4 0.7l0.4 0.9l0.4 1l0.4 1l0.5 0.9l0.4 0.8l0.4 0.4l0.5 0l0.4 -0.3l0.4 -0.7l0.5 -0.8l0.4 -1l0.5 -1l0.7 -0.9l0.7 -0.6l0.5 -0.2l0.6 0.1l0.6 0.3l0.7 0.3l0.6 0.4l0.7 0.2l0.8 0l0.7 -0.2l0.9 -0.1l0.8 0l0.9 0.3l1 0.4l0.6 0.3l0.6 0.1l0.6 -0.1l0.7 -0.2l0.7 -0.3l0.7 -0.3l0.7 0l0.8 0.1l0.7 0.3l0.8 0.3l0.8 0.1l0.7 -0.1l0.8 -0.3l0.8 -0.4l0.7 -0.2l0.8 0l0.7 0.2l0.7 0.3l0.8 0.3l0.6 0.1l0.7 -0.2l0.8 -0.3l0.8 -0.3l0.8 -0.1l0.9 0.1l0.8 0.3l0.8 0.3l0.8 0.2l0.8 -0.1l0.7 -0.3l0.8 -0.3l0.7 -0.2l0.7 0l0.6 0.2l0.7 0.3l0.5 0.3l0.5 0.2l0.5 0l1.3 0.3l0.6 0.6l0.3 0.3l0.5 -0.8l0.2 -0.4l0.1 -0.4l0.2 -0.6l0.2 -0.6l0.2 -0.6l0.2 -0.7l0.1 -0.7l0.2 -0.8l0.2 -0.7l0.2 -0.8l0.2 -0.7l0.2 -0.8l0.2 -0.7l0.1 -0.8l0.2 -0.7l0.2 -0.6l0.2 -0.7l0.2 -0.7l0.2 -0.8l0.2 -0.8l0.2 -0.9l0.2 -0.9l0.2 -0.9l0.2 -0.9l0.2 -0.9l0.2 -0.9l0.2 -0.8l0.2 -0.8l0.2 -0.6l0.3 -0.6l0.2 -0.5l0.2 -0.3l0.4 -0.1l0.4 0.2l0.4 0.7l0.4 0.9l0.4 1.1l0.4 1.1l0.4 1l0.4 0.8l0.4 0.4l0.4 0l0.4 -0.4l0.3 -0.6l0.4 -0.8l0.5 -0.9l0.7 -0.9l0.9 -0.6l0.5 -0.1l0.6 0l0.5 0.2l0.7 0.3l0.6 0.2l0.7 0.1l0.8 -0.2l0.7 -0.2l0.8 -0.3l0.8 -0.1l0.8 0.2l0.9 0.4l0.8 0.4l0.8 0.1l0.9 -0.1l0.8 -0.3l0.7 -0.3l0.6 -0.1l0.7 0l0.8 0.2l0.7 0.4l0.8 0.2l0.8 0l0.8 -0.2l0.7 -0.3l0.8 -0.3l0.8 -0.1l0.8 0.2l0.8 0.3l0.7 0.3l0.7 0.1l0.7 -0.1l0.7 -0.3l0.7 -0.2l0.6 -0.3l0.6 0l0.5 0l1.1 0.4l1 0.4l0.9 0l0.8 -0.1l0.7 -0.3l0.6 -0.3l0.5 -0.1l0.5 -0.1l0.5 0l1.2 0l0.6 -0.2l0.6 -1.9l0.9 2.6l0.1 0.3l0 0.4l0.1 0.4l0 0.4l0.1 0.4l0.1 0.4l0 0.4l0.1 0.5l0.1 0.4l0 0.5l0.1 0.5l0.1 0.5l0.1 0.5l0.1 0.6l0 0.5l0.1 0.6l0.1 0.6l0.1 0.5l0.1 0.6l0 0.7l0.1 0.6l0.1 0.6l0.1 0.7l0.1 0.6l0.1 0.7l0.1 0.7l0.1 0.7l0.1 0.7l0 0.8l0.1 0.7l0.1 0.8l0.1 0.8l0.1 0.7l0.1 0.8l0.1 0.8l0.1 0.9l0.1 0.8l0.1 0.8l0 0.9l0.1 0.8l0.1 0.9l0.1 0.9l0.1 0.9l0.1 0.9l0.1 0.9l0 0.9l0.1 0.9l0.1 0.9l0.1 1l0.1 0.9l0 0.9l0.1 1l0.1 0.9l0 0.6l0.1 0.6l0 0.6l0.1 0.7l0 0.6l0.1 0.6l0 0.7l0.1 0.7l0 0.6l0.1 0.7l0 0.7l0.1 0.7l0 0.7l0 0.7l0.1 0.7l0 0.7l0.1 0.8l0 0.7l0.1 0.7l0 0.8l0.1 0.7l0 0.8l0.1 0.7l0 0.8l0 0.7l0.1 0.8l0 0.8l0.1 0.7l0 0.8l0.1 0.8l0 0.8l0.1 0.7l0 0.8l0.1 0.8l0 0.8l0 0.8l0.1 0.8l0 0.7l0.1 0.8l0 0.8l0.1 0.8l0 0.8l0 0.8l0.1 0.7l0 0.8l0.1 0.8l0 0.8l0.1 0.7l0 0.8l0 0.8l0.1 0.7l0 0.8l0.1 0.7l0 0.8l0.1 0.7l0 0.8l0 0.7l0.1 0.7l0 0.8l0.1 0.7l0 0.7l0 0.7l0.1 0.7l0 0.7l0.1 0.7l0 0.7l0 0.7l0.1 0.6l0 0.7l0.1 0.6l0 0.7l0 0.6l0.1 0.7l0 0.6l0 0.6l0.1 0.6l0 0.6l0.1 0.6l0 0.5l0 0.6l0.1 0.5l0 0.6l0 0.5l0.1 0.5l0 0.5l0.1 1.1l0 1.1l0.1 1l0.1 1l0 1l0.1 1l0.1 0.9l0 1l0.1 0.9l0.1 0.9l0 0.8l0.1 0.9l0 0.8l0.1 0.8l0 0.8l0.1 0.8l0 0.7l0.1 0.7l0 0.7l0.1 0.7l0 0.7l0.1 0.7l0 0.6l0.1 0.6l0 0.6l0.1 0.6l0 0.5l0.1 0.6l0 0.5l0.1 0.5l0.1 0.5l0 0.5l0.1 0.5l0.1 0.4l0 0.5l0.1 0.4l0.1 0.4l0 0.4l0.1 0.4l0.7 1.8l0.7 0.3l0.8 -0.8l0.7 -1.2l0.7 -0.5l0.5 0.2l0.3 0.6l0.4 0.7l0.3 0.7l0.4 0.7l0.5 0.4l0.7 0.3l0.7 0l0.8 -0.1l0.8 -0.4l0.9 -0.4l0.7 -0.3l0.6 -0.1l0.8 0l0.7 0.3l0.7 0.5l0.8 0.4l0.7 0.2l0.7 0l0.7 -0.3l0.7 -0.4l0.8 -0.4l0.7 -0.2l0.7 0l0.7 0.2l0.7 0.4l0.7 0.2l0.7 0.2l0.7 -0.1l0.7 -0.2l0.7 -0.2l0.8 -0.2l0.7 -0.2l0.7 0l0.8 -0.1l0.7 -0.2l0.8 -0.4l0.8 -0.6l0.7 -0.5l0.6 -0.4l0.5 0.1l0.4 0.3l0.3 0.5l0.2 0.7l0.2 0.7l0.2 0.9l0.1 0.9l0.2 1l0.2 0.9l0.2 1.1l0.2 0.7l0.2 0.8l0.2 0.8l0.2 0.9l0.2 0.9l0.2 0.9l0.2 0.9l0.3 0.8l0.2 0.7l0.2 0.7l0.3 0.6l0.2 0.4l0.3 0.3l0.2 0.1l0.4 -0.1l0.4 -0.5l0.3 -0.8l0.4 -0.8l0.4 -0.9l0.4 -0.8l0.5 -0.7l0.4 -0.4l0.4 -0.1l0.5 0.3l0.6 0.6l0.5 0.6l0.6 0.6l0.6 0.5l0.6 0.3l0.7 0.2l0.6 0l0.7 0.1l0.6 0.1l0.7 0.1l0.7 0l0.8 -0.3l0.9 -0.4l0.9 -0.5l0.6 -0.2l0.6 -0.1l0.7 0.2l0.8 0.3l0.7 0.3l0.8 0.1l0.8 0l0.7 -0.3l0.8 -0.3l0.8 -0.2l0.7 0.1l0.7 0.2l0.7 0.3l0.6 0.2l0.9 0.1l0.9 -0.3l0.8 -0.4l0.7 -0.4l0.8 -0.2l0.6 0.1l0.7 0.1l0.6 0.3l0.5 0.2l1 0.9l0.6 1l0.5 0.5l0.6 -0.8l0.1 -0.4l0.1 -0.5l0.2 -0.6l0.1 -0.6l0.1 -0.7l0.1 -0.7l0.1 -0.8l0.1 -0.8l0.1 -0.8l0.1 -0.8l0.1 -0.9l0.1 -0.9l0.2 -0.8l0.1 -0.9l0.1 -0.8l0.1 -0.8l0.1 -0.8l0.1 -0.7l0.2 -0.7l0.1 -0.7l0.2 -0.7l0.1 -0.7l0.2 -0.8l0.2 -0.8l0.1 -0.7l0.2 -0.8l0.2 -0.8l0.2 -0.7l0.2 -0.7l0.2 -0.7l0.2 -0.7l0.1 -0.6l0.2 -0.6l0.2 -0.5l0.2 -0.4l0.2 -0.4l0.2 -0.3l0.4 -0.2l0.3 0.2l0.4 0.5l0.4 0.8l0.4 0.9l0.4 0.9l0.3 0.9l0.4 0.7l0.4 0.4l0.4 0.1l0.4 -0.2l0.4 -0.5l0.4 -0.7l0.4 -0.7l0.6 -0.6l0.8 -0.6l0.5 -0.3l0.6 -0.2l0.5 -0.2l0.6 0.1l0.7 0.2l0.7 0.4l0.7 0.4l0.8 0.3l0.8 0.2l0.8 -0.2l0.9 -0.3l1 -0.1l0.6 0l0.6 0.2l0.6 0.3l0.6 0.2l0.6 0.1l0.7 0l0.6 -0.2l0.7 -0.3l0.7 -0.3l0.7 -0.1l0.8 0l0.7 0.2l0.7 0.3l0.8 0.2l0.8 0l0.7 -0.2l0.8 -0.4l0.8 -0.3l0.9 0l0.8 0.2l0.8 0.3l0.6 0.3l0.7 0l0.7 0l0.7 -0.3l0.7 -0.3l0.7 -0.2l0.8 0l0.7 0.2l0.8 0.3l0.7 0.3l0.8 0.1l0.8 -0.1l0.8 -0.3l0.7 -0.3l0.8 -0.1l0.8 0.1l0.8 0.3l0.7 0.3l0.8 0.2l0.7 -0.1l0.7 -0.2l0.7 -0.3l0.7 -0.2l0.7 -0.1l0.6 0.1l0.6 0.2l0.6 0.2l0.6 0.2l1 0.1l1 -0.3l0.9 -0.5l0.8 -0.3l0.8 -0.1l0.8 0.1l0.7 0.2l0.7 0.2l0.7 -0.1l0.7 -0.2l0.6 -0.3l0.6 -0.3l0.6 -0.3l0.5 -0.1l0.6 0.1l1 0.5l0.8 0.9l0.8 0.7l0.7 0.6l0.6 0.3l0.6 0l0.6 -0.2l0.5 -0.6l0.2 -0.4l0.2 -0.4l0.2 -0.5l0.2 -0.5l0.2 -0.6l0.1 -0.7l0.2 -0.7l0.1 -0.7l0.2 -0.7l0.1 -0.8l0.1 -0.7l0.2 -0.8l0.1 -0.8l0.1 -0.8l0.1 -0.7l0.2 -0.8l0.1 -0.7l0.2 -0.6l0.1 -0.7l0.2 -0.7l0.2 -0.8l0.1 -0.8l0.2 -0.9l0.2 -0.8l0.1 -0.9l0.2 -0.9l0.2 -0.9l0.1 -0.8l0.2 -0.8l0.2 -0.8l0.2 -0.7l0.1 -0.6l0.2 -0.5l0.2 -0.5l0.2 -0.4l0.5 -0.3l0.4 0.3l0.5 0.8l0.5 1l0.6 1.2l0.5 1l0.5 0.6l0.5 0.1l0.5 -0.3l0.4 -0.5l0.6 -0.6l0.7 -0.8l1 -0.6l0.5 -0.1l0.5 0l0.6 0.2l0.6 0.3l0.6 0.3l0.7 0.2l0.7 0l0.7 -0.1l0.7 -0.3l0.8 -0.2l0.8 0l0.8 0.2l0.8 0.4l0.9 0.4l0.8 0l0.6 -0.1l0.7 -0.2l0.6 -0.3l0.7 -0.2l0.7 -0.1l0.7 0.2l0.7 0.3l0.7 0.2l0.7 0.2l0.7 -0.1l0.8 -0.3l0.7 -0.3l0.8 -0.3l0.7 0l0.8 0.2l0.7 0.3l0.8 0.2l0.7 0.1l0.8 -0.1l0.7 -0.3l0.7 -0.3l0.7 -0.2l0.8 0l0.7 0.2l0.8 0.3l0.8 0.2l0.8 0l0.8 -0.2l0.8 -0.4l0.8 -0.3l0.8 -0.1l0.7 0.2l0.8 0.3l0.8 0.2l0.7 0.1l0.7 -0.1l0.7 -0.2l0.6 -0.3l0.6 -0.2l0.6 -0.1l0.5 0.1l0.5 0.1l1.4 0.9l0.9 0.9l0.7 0.6l0.5 0.3l0.5 -0.2l0.5 -1l0.1 -0.5l0.2 -0.4l0.1 -0.5l0.1 -0.6l0.2 -0.5l0.1 -0.7l0.1 -0.6l0.1 -0.7l0.1 -0.7l0.1 -0.8l0.1 -0.7l0.1 -0.8l0.1 -0.8l0.1 -0.8l0.1 -0.8l0.1 -0.8l0.1 -0.8l0.1 -0.8l0.1 -0.8l0.1 -0.8l0.1 -0.8l0.1 -0.7l0.2 -0.8l0.1 -0.7l0.1 -0.6l0.1 -0.7l0.2 -0.7l0.1 -0.7l0.1 -0.7l0.1 -0.8l0.2 -0.8l0.1 -0.8l0.1 -0.8l0.2 -0.8l0.1 -0.9l0.1 -0.8l0.2 -0.8l0.1 -0.8l0.2 -0.8l0.1 -0.8l0.1 -0.8l0.2 -0.8l0.1 -0.7l0.1 -0.7l0.2 -0.7l0.1 -0.6l0.2 -0.6l0.1 -0.5l0.1 -0.5l0.2 -0.4l0.1 -0.4l0.4 -0.6l0.5 0.1l0.4 0.7l0.5 1.1l0.4 1.2l0.5 1.3l0.4 1l0.5 0.5l0.5 0l0.4 -0.3l0.5 -0.7l0.4 -0.8l0.5 -0.9l0.6 -0.8l0.7 -0.6l0.6 -0.2l0.6 0l0.7 0.2l0.7 0.3l0.7 0.2l0.7 0.1l0.8 -0.1l0.7 -0.3l0.8 -0.3l0.7 0l0.7 0.1l0.7 0.2l0.7 0.4l0.8 0.2l0.7 0.1l0.7 -0.1l0.7 -0.3l0.7 -0.3l0.7 -0.2l0.6 0l0.8 0l0.8 -0.1l0.7 -0.3l0.8 -0.5l0.7 -0.7l0.7 -0.5l0.6 -0.3l0.6 0.3l0.3 0.3l0.2 0.4l0.2 0.5l0.2 0.7l0.3 0.6l0.2 0.8l0.1 0.8l0.2 0.9l0.2 0.8l0.2 0.9l0.2 0.9l0.1 0.9l0.2 0.8l0.2 0.9l0.1 0.7l0.2 0.8l0.2 0.6l0.2 0.9l0.3 0.8l0.2 0.9l0.2 0.8l0.2 0.8l0.3 0.8l0.2 0.8l0.2 0.6l0.2 0.6l0.3 0.5l0.2 0.3l0.3 0.3l0.2 0.1l0.3 -0.1l0.4 -0.4l0.3 -0.6l0.4 -0.8l0.4 -0.8l0.3 -0.8l0.4 -0.8l0.4 -0.6l0.3 -0.5l0.4 -0.3l0.5 0.1l0.4 0.4l0.4 0.6l0.4 0.7l0.5 0.6l0.6 0.5l0.8 0.4l0.5 0.2l0.6 0.2l0.7 0.2l0.6 0.2l0.7 0l0.8 -0.3l0.8 -0.4l0.7 -0.5l0.9 -0.3l0.8 0l0.8 0.3l0.9 0.2l0.6 0.1l0.7 -0.1l0.7 -0.2l0.8 -0.4l0.8 -0.3l0.8 0l0.8 0.2l0.8 0.3l0.8 0.2l0.7 0l0.8 -0.1l0.7 -0.4l0.7 -0.2l0.6 -0.1l0.6 0l0.6 0.2l0.4 0.2l1.4 1.5l0.3 1.3l0.4 -0.6l0.1 -0.3l0.2 -0.5l0.1 -0.5l0.1 -0.6l0.2 -0.7l0.1 -0.7l0.2 -0.7l0.1 -0.8l0.2 -0.9l0.2 -0.8l0.1 -0.9l0.2 -0.9l0.1 -0.9l0.2 -0.9l0.1 -0.9l0.2 -0.9l0.1 -0.8l0.2 -0.8l0.2 -0.8l0.1 -0.7l0.1 -0.8l0.2 -0.7l0.1 -0.8l0.2 -0.8l0.1 -0.8l0.2 -0.8l0.1 -0.8l0.1 -0.8l0.2 -0.8l0.1 -0.8l0.2 -0.7l0.1 -0.8l0.2 -0.6l0.1 -0.6l0.1 -0.6l0.2 -0.5l0.1 -0.5l0.2 -0.4l0.1 -0.3l0.2 -0.2l0.3 -0.1l0.4 0.3l0.3 0.6l0.4 0.9l0.4 0.9l0.3 0.9l0.4 0.8l0.4 0.5l0.4 0.3l0.4 -0.1l0.4 -0.4l0.4 -0.5l0.5 -0.6l0.4 -0.6l0.5 -0.5l0.6 -0.5l0.7 -0.4l0.6 -0.2l0.6 -0.4l0.6 -0.2l0.7 -0.2l0.7 0.1l0.7 0.2l0.8 0.5l0.8 0.4l0.8 0.1l0.8 0l0.8 -0.3l0.7 -0.3l0.6 -0.1l0.8 0l0.7 0.2l0.7 0.3l0.8 0.3l0.8 0l0.7 -0.2l0.8 -0.4l0.7 -0.3l0.7 -0.1l0.7 0.1l0.7 0.2l0.6 0.2l0.8 0.3l0.8 0l0.8 -0.2l0.7 -0.4l0.7 -0.2l0.7 -0.2l0.6 0.1l0.6 0.2l0.7 0.2l0.6 0.2l0.9 -0.1l0.9 -0.8l0.8 -0.9l0.8 -0.8l0.8 -0.1l0.7 0.7l0.6 1.6l0.1 0.4l0.1 0.5l0.1 0.5l0.1 0.4l0.1 0.6l0 0.5l0.1 0.6l0.1 0.6l0.1 0.6l0 0.6l0.1 0.7l0 0.6l0.1 0.7l0.1 0.7l0 0.8l0.1 0.7l0 0.7l0.1 0.8l0 0.8l0.1 0.8l0 0.8l0.1 0.7l0 0.9l0.1 0.8l0 0.8l0.1 0.8l0 0.8l0.1 0.9l0 0.8l0.1 0.8l0 0.8l0.1 0.8l0.1 0.9l0 0.8l0.1 0.8l0.1 0.7l0 0.8l0.1 0.8l0.1 0.7l0.1 0.7l0 0.6l0.1 0.7l0.1 0.7l0.1 0.6l0 0.7l0.1 0.8l0.1 0.7l0.1 0.7l0.1 0.7l0 0.8l0.1 0.7l0.1 0.8l0.1 0.8l0.1 0.7l0.1 0.8l0 0.8l0.1 0.8l0.1 0.8l0.1 0.7l0.1 0.8l0.1 0.8l0.1 0.8l0.1 0.7l0 0.8l0.1 0.8l0.1 0.7l0.1 0.8l0.1 0.7l0.1 0.8l0.1 0.7l0.1 0.7l0.1 0.7l0.1 0.7l0 0.7l0.1 0.6l0.1 0.7l0.1 0.6l0.1 0.6l0.1 0.6l0.1 0.6l0.1 0.5l0.1 0.5l0 0.5l0.1 0.5l0.1 0.4l0.1 0.4l0.8 2.5l0.7 0.4l0.8 -0.8l0.8 -1.1l0.8 -0.5l0.5 0.2l0.4 0.4l0.4 0.5l0.5 0.6l0.4 0.8l0.6 0.8l0.6 0.7l0.7 0.6l0.9 0.3l0.5 -0.1l0.6 -0.1l0.6 -0.2l0.6 -0.1l0.6 0l0.7 0.2l0.7 0.2l0.7 0.3l0.7 0.1l0.8 -0.1l0.8 -0.3l0.8 -0.4l0.7 -0.2l0.9 -0.1l0.8 0.3l0.8 0.3l0.8 0.1l0.7 0l0.6 -0.3l0.7 -0.3l0.8 -0.4l0.7 -0.2l0.8 0.1l0.8 0.2l0.8 0.2l0.8 0.1l0.8 -0.2l0.8 -0.4l0.8 -0.4l0.8 -0.3l0.8 0l0.7 0.2l0.7 0.3l0.7 0.1l0.7 0l0.6 -0.1l0.6 -0.2l0.6 -0.2l0.5 -0.1l1.1 0.1l0.8 0.7l0.7 0.9l0.6 0.8l0.5 0.8l0.4 0.6l0.4 0.5l0.4 0.2l0.5 0l0.7 -0.4l0.6 -0.7l0.6 -0.7l0.5 -0.7l0.6 -0.6l0.5 -0.3l0.6 0l0.6 0.2l0.5 0.3l0.4 0.5l0.6 0.3l0.8 0.2l1 -0.1l0.5 0l0.6 0.1l0.6 0.2l0.7 0.2l0.7 0.2l0.7 -0.1l0.8 -0.3l0.8 -0.4l0.8 -0.4l0.8 -0.2l0.8 0.1l0.7 0.2l0.8 0.2l0.8 0.1l0.7 -0.2l0.7 -0.3l0.8 -0.3l0.8 -0.2l0.8 0l0.8 0.3l0.9 0.4l0.8 0.2l0.8 -0.1l0.7 -0.2l0.8 -0.3l0.6 -0.2l0.7 -0.1l0.5 0.1l0.5 0.2l0.4 0.2" fill="none" stroke="#4a96cc" stroke-width="1.3" stroke-linejoin="round"/>
<rect x="731" y="402.9" width="161.9" height="39.4" fill="#fff" stroke="#222" stroke-width="1.3"/>
<path d="M735.5 414.1H780.9" stroke="#8fbfe2" stroke-width="1.5"/>
<path d="M735.5 431.3H780.9" stroke="#eca68a" stroke-width="1.5"/>
<text x="787.6" y="419" font-size="12.4" stroke="#000" stroke-width="0.35">Horizontal position</text>
<text x="787.6" y="436.6" font-size="12.4" stroke="#000" stroke-width="0.35">Vertical position</text>
<text x="945.8" y="28.4" font-size="31.5" font-weight="bold">C</text>
<rect x="1012.9" y="9.9" width="741.5" height="255" fill="none" stroke="#2b2b2b" stroke-width="1.5"/>
<path d="M1105.6 9.9v8M1105.6 264.9v-8M1198.3 9.9v8M1198.3 264.9v-8M1291 9.9v8M1291 264.9v-8M1383.7 9.9v8M1383.7 264.9v-8M1476.3 9.9v8M1476.3 264.9v-8M1569 9.9v8M1569 264.9v-8M1661.7 9.9v8M1661.7 264.9v-8M1012.9 37.7h7M1754.4 37.7h-7M1012.9 48.3h7M1754.4 48.3h-7M1012.9 59h7M1754.4 59h-7M1012.9 69.6h7M1754.4 69.6h-7M1012.9 80.2h7M1754.4 80.2h-7M1012.9 90.8h7M1754.4 90.8h-7M1012.9 101.5h7M1754.4 101.5h-7M1012.9 112.1h7M1754.4 112.1h-7M1012.9 122.7h7M1754.4 122.7h-7M1012.9 133.4h7M1754.4 133.4h-7M1012.9 144h7M1754.4 144h-7M1012.9 154.6h7M1754.4 154.6h-7M1012.9 165.2h7M1754.4 165.2h-7M1012.9 175.9h7M1754.4 175.9h-7M1012.9 186.5h7M1754.4 186.5h-7M1012.9 197.1h7M1754.4 197.1h-7M1012.9 207.7h7M1754.4 207.7h-7M1012.9 218.4h7M1754.4 218.4h-7M1012.9 229h7M1754.4 229h-7" stroke="#111" stroke-width="1.3"/>
<path d="M1012.9 27.3l1.1 2.6l1.1 2.4l1.1 1.8l1.1 2.8l1.2 -0.1l1.1 -0.3l1.1 -0.4l1.1 -0.4l1.1 -0.3l1.1 -0.2l1.1 -0.3l1.1 -0.4l1.2 -0.5l1.1 -0.6l1.1 -0.7l1.1 -0.7l1.1 -0.7l1.1 -0.1l1.1 0.6l1.1 1.3l1.2 1.3l1.1 0.5l1.1 -0.4l1.1 -0.7l1.1 -0.1l1.1 1l1.1 1.6l1.1 1.5l1.2 0.8l1.1 0.7l1.1 1l1.1 2l1.1 2.8l1.1 2.7l1.1 1.8l1.1 0.6l1.2 -0.3l1.1 -1.1l1.1 -1.2l1.1 -0.8l1.1 0.3l1.1 2.4l1.1 3.7l1.1 2.9l1.2 1.1l1.1 -0.7l1.1 -2.1l1.1 -2.7l1.1 -2.8l1.1 -2.5l1.1 -2l1.1 -1.5l1.1 -1.2l1.2 -1.2l1.1 -1.5l1.1 -1.5l1.1 -1.1l1.1 -0.1l1.1 1.2l1.1 2.1l1.1 2.5l1.2 2.3l1.1 1.5l1.1 0.7l1.1 -0.7l1.1 -1.5l1.1 -1.7l1.1 -1.1l1.1 0.3l1.2 1.6l1.1 2.4l1.1 1.9l1.1 1.2l1.1 0.5l1.1 0.5l1.1 0.9l1.1 1.3l1.2 1.2l1.1 1l1.1 0.7l1.1 0.4l1.1 0.1l1.1 -0.5l1.1 -0.9l1.1 -1.1l1.2 -1.2l1.1 -1.3l1.1 -1.4l1.1 -1.5l1.1 -1.5l1.1 -1.4l1.1 -1.3l1.1 -1.5l1.2 -1.7l1.1 -1.7l1.1 -1.2l1.1 -0.2l1.1 0.7l1.1 0.7l1.1 0.2l1.1 -0.5l1.1 -0.5l1.2 0l1.1 0.5l1.1 -0.3l1.1 -1.7l1.1 -2.8l1.1 -2.3l1.1 -0.7l1.1 1.1l1.2 1.9l1.1 1.1l1.1 -0.3l1.1 -1.4l1.1 -1.2l1.1 0.1l1.1 2.3l1.1 4.4l1.2 5.9l1.1 5.4l1.1 2.4l1.1 -1.6l1.1 -5.1l1.1 -5.2l1.1 -3.5l1.1 -3.2l1.2 -2.9l1.1 -2.2l1.1 -1.4l1.1 -0.9l1.1 -1.1l1.1 -1.3l1.1 -0.8l1.1 0.4l1.2 2.4l1.1 3.7l1.1 3.6l1.1 1.8l1.1 -0.4l1.1 -1.8l1.1 -1.9l1.1 -1.2l1.2 -0.8l1.1 -1l1.1 -1.4l1.1 -1.3l1.1 -0.6l1.1 0.6l1.1 1.5l1.1 1.7l1.1 1l1.2 0.2l1.1 -0.2l1.1 0.4l1.1 0.7l1.1 0.4l1.1 -0.8l1.1 -1.9l1.1 -2.1l1.2 -0.8l1.1 0.3l1.1 0.4l1.1 -0.8l1.1 -2l1.1 -2l1.1 -0.6l1.1 0.6l1.2 0.9l1.1 0l1.1 -0.8l1.1 -0.6l1.1 0.6l1.1 1.7l1.1 1.7l1.1 1l1.2 0.2l1.1 0.3l1.1 1.1l1.1 1.8l1.1 1.7l1.1 0.6l1.1 -0.7l1.1 -1.6l1.2 -1.3l1.1 0l1.1 1.3l1.1 1.7l1.1 0.6l1.1 -1.4l1.1 -3l1.1 -3.1l1.2 -1.6l1.1 0.1l1.1 1.2l1.1 1.4l1.1 1.3l1.1 1.7l1.1 2.4l1.1 2l1.1 0.9l1.2 -0.5l1.1 -1.7l1.1 -2.1l1.1 -1.9l1.1 -1.3l1.1 -1l1.1 -0.7l1.1 -0.4l1.2 0.2l1.1 0.7l1.1 1l1.1 0.8l1.1 0.2l1.1 -0.5l1.1 -0.7l1.1 -0.5l1.2 0.1l1.1 0.8l1.1 1.3l1.1 1.3l1.1 1l1.1 0.6l1.1 0.4l1.1 0.6l1.2 1l1.1 1.3l1.1 1.5l1.1 1.3l1.1 0.8l1.1 0.3l1.1 -0.3l1.1 -0.2l1.2 0.3l1.1 1l1.1 1.4l1.1 1l1.1 0l1.1 -0.9l1.1 -1l1.1 -0.4l1.2 0.4l1.1 0.7l1.1 0.8l1.1 0.6l1.1 0.2l1.1 -0.2l1.1 -1l1.1 -2.4l1.2 -5l1.1 -1.9l1.1 1.1l1.1 2.3l1.1 2.2l1.1 1.2l1.1 0.2l1.1 -0.3l1.1 -0.6l1.2 -0.9l1.1 -1.2l1.1 -1.8l1.1 -2l1.1 -1.4l1.1 0.2l1.1 1.9l1.1 3.3l1.2 3.5l1.1 3l1.1 2.2l1.1 1.5l1.1 1.4l1.1 1.2l1.1 0.2l1.1 -2.2l1.2 -2.4l1.1 0.7l1.1 2.5l1.1 3.1l1.1 1.9l1.1 0.3l1.1 -0.7l1.1 -0.1l1.2 1.6l1.1 2.8l1.1 2.5l1.1 0.8l1.1 -1.3l1.1 -2.8l1.1 -2.7l1.1 -1.6l1.2 -0.6l1.1 -0.6l1.1 -0.7l1.1 -0.6l1.1 -0.3l1.1 0.1l1.1 0l1.1 -0.5l1.2 -1.1l1.1 -1.5l1.1 -1.3l1.1 -0.8l1.1 0.2l1.1 1.2l1.1 1.5l1.1 1.2l1.1 0.3l1.2 -0.5l1.1 -0.9l1.1 -0.6l1.1 0.4l1.1 1.3l1.1 2l1.1 2.2l1.1 1.6l1.2 1.2l1.1 0.9l1.1 0.1l1.1 0.2l1.1 1.2l1.1 1.8l1.1 1.5l1.1 0.3l1.2 -0.6l1.1 -0.6l1.1 0.6l1.1 2l1.1 2.3l1.1 1.3l1.1 -0.7l1.1 -1.7l1.2 -1.3l1.1 0.5l1.1 2.1l1.1 2.3l1.1 1l1.1 -0.7l1.1 -1.2l1.1 0l1.2 2.3l1.1 4.7l1.1 5.5l1.1 2.9l1.1 -2l1.1 -12.5l1.1 -15.3l1.1 -9.1l1.2 -5l1.1 -3.3l1.1 -2.6l1.1 -2.7l1.1 -1.4l1.1 -0.8l1.1 -0.5l1.1 -0.3l1.1 -0.4l1.2 -0.6l1.1 -0.5l1.1 -0.1l1.1 0.4l1.1 1.2l1.1 1.6l1.1 1.3l1.1 0.3l1.2 -0.2l1.1 -0.2l1.1 -0.1l1.1 -0.3l1.1 -0.7l1.1 -1.2l1.1 -1.2l1.1 -1.2l1.2 -1l1.1 -1l1.1 -0.8l1.1 -0.5l1.1 0l1.1 0.1l1.1 -0.5l1.1 -1.3l1.2 -2.1l1.1 -1.6l1.1 -0.1l1.1 1.5l1.1 2.3l1.1 1.7l1.1 0l1.1 -1.2l1.2 -1.1l1.1 0l1.1 1l1.1 1.6l1.1 1.5l1.1 1.2l1.1 0.7l1.1 -0.2l1.2 -1.4l1.1 -2.1l1.1 -1.8l1.1 -0.5l1.1 1l1.1 1.4l1.1 0.5l1.1 -0.6l1.1 -0.7l1.2 0.3l1.1 1.5l1.1 1.9l1.1 1.1l1.1 0.2l1.1 0l1.1 0.5l1.1 1.2l1.2 1.2l1.1 0.4l1.1 -0.5l1.1 -1.1l1.1 -1.2l1.1 -1.2l1.1 -1.1l1.1 -0.9l1.2 -0.3l1.1 0.2l1.1 0.6l1.1 0.2l1.1 -0.6l1.1 -1.1l1.1 -1l1.1 -0.4l1.2 0.8l1.1 1.7l1.1 2l1.1 1.7l1.1 0.9l1.1 0.3l1.1 0.1l1.1 0.3l1.2 0.6l1.1 0.3l1.1 -0.2l1.1 -0.6l1.1 -0.8l1.1 -0.6l1.1 -0.4l1.1 -0.4l1.2 -0.4l1.1 -0.5l1.1 -0.5l1.1 -0.8l1.1 -0.9l1.1 -0.8l1.1 -0.3l1.1 0.2l1.1 0.4l1.2 -0.1l1.1 -0.8l1.1 -1l1.1 -0.2l1.1 1.2l1.1 2.4l1.1 2.7l1.1 2l1.2 1.4l1.1 1.2l1.1 1.6l1.1 2l1.1 1.7l1.1 0.7l1.1 -0.8l1.1 -2l1.2 -2.3l1.1 -1.5l1.1 0.2l1.1 1.5l1.1 2.2l1.1 2.1l1.1 1.6l1.1 1.6l1.2 2.1l1.1 2.4l1.1 1.8l1.1 0.6l1.1 -0.6l1.1 -1l1.1 -0.7l1.1 -0.4l1.2 -1l1.1 -2.2l1.1 -3l1.1 -2.8l1.1 -1.6l1.1 -0.3l1.1 0.1l1.1 0l1.2 0.1l1.1 0.9l1.1 2.3l1.1 3.3l1.1 3.4l1.1 2.3l1.1 1l1.1 -0.4l1.1 -1.4l1.2 -2.2l1.1 -2.3l1.1 -1.4l1.1 0l1.1 1.1l1.1 0.8l1.1 -0.6l1.1 -1.9l1.2 -1.9l1.1 -0.1l1.1 3.5l1.1 7.7l1.1 5.1l1.1 1.8l1.1 0.8l1.1 0.8l1.2 0.8l1.1 0.5l1.1 0.1l1.1 -0.3l1.1 -0.3l1.1 -0.2l1.1 -0.2l1.1 -0.2l1.2 -0.1l1.1 0.1l1.1 -0.2l1.1 -1.1l1.1 -2l1.1 -2.4l1.1 -2.3l1.1 -1.7l1.2 -1.5l1.1 -1.5l1.1 -1.5l1.1 -1.3l1.1 -0.6l1.1 0.8l1.1 2.6l1.1 0.8l1.2 -0.9l1.1 -1.5l1.1 -1.4l1.1 -1.7l1.1 -1.6l1.1 -1.1l1.1 0.1l1.1 1.3l1.1 1.9l1.2 1.5l1.1 0.7l1.1 0.2l1.1 0.1l1.1 0.8l1.1 1.5l1.1 1.8l1.1 1.6l1.2 0.7l1.1 -0.6l1.1 -1.3l1.1 -0.8l1.1 0.1l1.1 0.9l1.1 0.8l1.1 0.2l1.2 -0.5l1.1 -0.2l1.1 0.6l1.1 1.4l1.1 1.2l1.1 0.5l1.1 0.1l1.1 0.5l1.2 1.8l1.1 3.3l1.1 3.7l1.1 2.6l1.1 1.1l1.1 -0.4l1.1 -1.4l1.1 -2l1.2 -2.7l1.1 -3.2l1.1 -3.2l1.1 -1.9l1.1 0.1l1.1 2.1l1.1 2.6l1.1 1.6l1.2 0.1l1.1 -0.3l1.1 0.8l1.1 2.7l1.1 3.5l1.1 2.5l1.1 0.3l1.1 -2l1.1 -4.2l1.2 -5.4l1.1 -2.2l1.1 -2.1l1.1 -3.4l1.1 -4.5l1.1 -4.3l1.1 -3.2l1.1 -1.8l1.2 -1.1l1.1 -1.2l1.1 -1.4l1.1 -1l1.1 0.1l1.1 2l1.1 3.8l1.1 4.6l1.2 3.6l1.1 1.6l1.1 -0.4l1.1 -1.5l1.1 -1.8l1.1 -1.8l1.1 -0.7l1.1 0.2l1.2 0l1.1 0.2l1.1 1.2l1.1 2.7l1.1 3.5l1.1 3l1.1 1.7l1.1 0.1l1.2 -0.8l1.1 -0.9l1.1 -0.5l1.1 -0.4l1.1 -0.8l1.1 -1.9l1.1 -2.9l1.1 -3.1l1.2 -2.1l1.1 -0.5l1.1 1.2l1.1 3.6l1.1 4.1l1.1 0.2l1.1 -1.2l1.1 -0.8l1.2 0.1l1.1 0.5l1.1 0.1l1.1 -0.6l1.1 -1l1.1 -0.6l1.1 0l1.1 0.1l1.1 -0.4l1.2 -1.1" fill="none" stroke="#94be72" stroke-width="1.15" stroke-linejoin="round"/>
<path d="M1012.9 53.5l1.1 1l1.1 0.1l1.1 -0.3l1.1 -0.6l1.2 -0.9l1.1 -1.5l1.1 -2l1.1 -1.5l1.1 0l1.1 1.1l1.1 1l1.1 -0.6l1.2 -2.1l1.1 -2l1.1 0.1l1.1 2.8l1.1 3.9l1.1 2.1l1.1 -1.2l1.1 -3.5l1.2 -3l1.1 -0.2l1.1 2.7l1.1 3.5l1.1 2l1.1 -0.3l1.1 -1.7l1.1 -1.2l1.2 0l1.1 0.7l1.1 0.3l1.1 -0.7l1.1 -0.9l1.1 0l1.1 1l1.1 1.2l1.2 0.1l1.1 -1.5l1.1 -2.4l1.1 -1.6l1.1 0.2l1.1 1.8l1.1 2l1.1 0.9l1.2 -0.8l1.1 -1.7l1.1 -1.4l1.1 -0.3l1.1 0.8l1.1 1.2l1.1 0.7l1.1 0.2l1.1 0.1l1.2 0.5l1.1 0.9l1.1 0.6l1.1 -0.4l1.1 -1.6l1.1 -1.8l1.1 -0.9l1.1 0.7l1.2 1.9l1.1 1.9l1.1 0.7l1.1 -0.9l1.1 -2l1.1 -1.9l1.1 -0.8l1.1 0.6l1.2 1.4l1.1 1.6l1.1 1.1l1.1 0.8l1.1 0.6l1.1 0.6l1.1 0.2l1.1 -0.6l1.2 -2l1.1 -2.8l1.1 -2.8l1.1 -1.6l1.1 0.1l1.1 1.2l1.1 1.5l1.1 1.1l1.2 0.7l1.1 0.8l1.1 1.2l1.1 1.4l1.1 1.3l1.1 0.7l1.1 0.1l1.1 -0.6l1.2 -0.7l1.1 -0.5l1.1 -0.3l1.1 -0.2l1.1 -0.7l1.1 -1.4l1.1 -1.9l1.1 -1.4l1.1 0l1.2 1.8l1.1 2.4l1.1 1.3l1.1 -0.9l1.1 -2.4l1.1 -2l1.1 -0.2l1.1 1.8l1.2 2.4l1.1 1.3l1.1 -0.4l1.1 -1.1l1.1 -0.8l1.1 0.4l1.1 1.1l1.1 0.4l1.2 -1.2l1.1 -2.7l1.1 -2.9l1.1 -1.8l1.1 -0.2l1.1 0.8l1.1 0.8l1.1 0l1.2 -0.7l1.1 -0.4l1.1 0.7l1.1 1.1l1.1 0.7l1.1 -0.7l1.1 -1.8l1.1 -1.4l1.2 0.3l1.1 2.3l1.1 2.6l1.1 0.9l1.1 -1.8l1.1 -3.5l1.1 -2.7l1.1 -0.2l1.2 2.1l1.1 2.6l1.1 1.2l1.1 -1l1.1 -2.3l1.1 -2l1.1 -0.7l1.1 0.9l1.1 1.9l1.2 2l1.1 1.3l1.1 0.2l1.1 -1.1l1.1 -1.8l1.1 -1.8l1.1 -1l1.1 0.2l1.2 1.1l1.1 1.7l1.1 1.9l1.1 1.8l1.1 1.4l1.1 0.5l1.1 -0.9l1.1 -1.9l1.2 -2.3l1.1 -1.6l1.1 -0.3l1.1 1l1.1 1.7l1.1 1.2l1.1 0l1.1 -1.6l1.2 -2.7l1.1 -2.8l1.1 -1.5l1.1 0.5l1.1 2.5l1.1 3.3l1.1 2.7l1.1 0.9l1.2 -0.6l1.1 -1.3l1.1 -0.7l1.1 0.3l1.1 0.9l1.1 0.7l1.1 0.1l1.1 -0.7l1.2 -0.9l1.1 -0.6l1.1 0l1.1 0.1l1.1 0l1.1 -0.5l1.1 -0.6l1.1 -0.6l1.1 -0.1l1.2 0.1l1.1 0.1l1.1 -0.1l1.1 -0.3l1.1 0l1.1 0.2l1.1 0.3l1.1 -0.1l1.2 -0.8l1.1 -0.7l1.1 0.2l1.1 1.6l1.1 2.6l1.1 2.4l1.1 1.2l1.1 -0.3l1.2 -1.2l1.1 -1.4l1.1 -1.2l1.1 -1l1.1 -0.7l1.1 -0.3l1.1 0.4l1.1 0.8l1.2 0.4l1.1 -0.3l1.1 -0.7l1.1 -0.1l1.1 1l1.1 1.8l1.1 1.2l1.1 -0.7l1.2 -2.6l1.1 -2.8l1.1 -1.2l1.1 0.9l1.1 2.3l1.1 1.7l1.1 0.3l1.1 -1l1.2 -1l1.1 -0.1l1.1 0.9l1.1 1l1.1 0.3l1.1 -0.7l1.1 -1.5l1.1 -1.6l1.2 -1.1l1.1 -0.2l1.1 1l1.1 1.9l1.1 2.3l1.1 1.8l1.1 0.7l1.1 -0.4l1.1 -0.9l1.2 -0.8l1.1 -0.4l1.1 -0.1l1.1 -0.1l1.1 0l1.1 0.1l1.1 -0.2l1.1 -0.8l1.2 -1.3l1.1 -1.3l1.1 -0.1l1.1 1.4l1.1 2.2l1.1 1.5l1.1 -0.5l1.1 -2.3l1.2 -2.6l1.1 -1.2l1.1 0.8l1.1 2l1.1 1.8l1.1 0.9l1.1 0.2l1.1 0.2l1.2 0.5l1.1 0.2l1.1 -0.3l1.1 -1l1.1 -1.1l1.1 -0.8l1.1 -0.3l1.1 0l1.2 0.1l1.1 0.3l1.1 0.8l1.1 1l1.1 0.9l1.1 0.5l1.1 0.2l1.1 0.3l1.2 0.5l1.1 0.3l1.1 -0.8l1.1 -1.7l1.1 -2.2l1.1 -1.3l1.1 0l1.1 1.1l1.1 1.1l1.2 0.1l1.1 -1.2l1.1 -1.8l1.1 -1.4l1.1 0l1.1 1.7l1.1 3l1.1 3l1.2 1.3l1.1 -1l1.1 -2.8l1.1 -2.5l1.1 -0.6l1.1 1.8l1.1 2.6l1.1 2.3l1.2 0.4l1.1 -0.6l1.1 -0.1l1.1 1.3l1.1 2.1l1.1 1.1l1.1 -0.8l1.1 -2.4l1.2 -2l1.1 -0.3l1.1 2l1.1 3.2l1.1 2.1l1.1 -0.4l1.1 -2.3l1.1 -3.5l1.2 -3.5l1.1 -2l1.1 0.1l1.1 1.9l1.1 2.5l1.1 1.6l1.1 -0.2l1.1 -1.9l1.2 -2.8l1.1 -2.6l1.1 -0.8l1.1 0.2l1.1 0.5l1.1 0.5l1.1 -0.1l1.1 -0.9l1.1 -1.2l1.2 -0.7l1.1 0.3l1.1 1.4l1.1 1.7l1.1 0.9l1.1 -0.4l1.1 -1.5l1.1 -1.5l1.2 -1l1.1 0l1.1 0.6l1.1 0.8l1.1 0.7l1.1 0.4l1.1 0l1.1 -0.3l1.2 -0.2l1.1 0l1.1 0.3l1.1 0.3l1.1 0.1l1.1 -0.3l1.1 0l1.1 0.5l1.2 1l1.1 0.8l1.1 0l1.1 -0.9l1.1 -0.8l1.1 -0.2l1.1 0.4l1.1 0.3l1.2 -0.4l1.1 -0.8l1.1 -0.6l1.1 -0.4l1.1 -0.4l1.1 -1l1.1 -1.4l1.1 -0.8l1.2 1l1.1 2.4l1.1 2.8l1.1 1.7l1.1 0.4l1.1 -0.4l1.1 -0.1l1.1 0.4l1.1 0.3l1.2 -0.3l1.1 -0.8l1.1 -1l1.1 -0.9l1.1 -1l1.1 -1l1.1 -0.5l1.1 0.7l1.2 1.9l1.1 1.9l1.1 0.8l1.1 -0.8l1.1 -1.3l1.1 -0.3l1.1 1.2l1.1 1.5l1.2 -0.3l1.1 -2.4l1.1 -3.6l1.1 -2.4l1.1 0l1.1 2l1.1 2.6l1.1 1.9l1.2 0.9l1.1 0.4l1.1 -0.1l1.1 -1l1.1 -2l1.1 -2.5l1.1 -1.7l1.1 0.5l1.2 2.7l1.1 3.6l1.1 2.9l1.1 0.8l1.1 -1.4l1.1 -2.2l1.1 -1.3l1.1 0.7l1.2 2.5l1.1 2.5l1.1 0.8l1.1 -1.6l1.1 -3l1.1 -2.5l1.1 -0.4l1.1 1.1l1.1 1.3l1.2 -0.1l1.1 -1.5l1.1 -1.6l1.1 -0.3l1.1 1.3l1.1 1.8l1.1 1.1l1.1 -0.2l1.2 -1.1l1.1 -1.1l1.1 -0.6l1.1 -0.2l1.1 0.1l1.1 -0.2l1.1 -0.5l1.1 -0.7l1.2 -0.5l1.1 0.2l1.1 1.7l1.1 2.9l1.1 3.2l1.1 2.1l1.1 0.2l1.1 -1.5l1.2 -1.9l1.1 -1.1l1.1 -0.4l1.1 -0.2l1.1 -0.8l1.1 -1.3l1.1 -1l1.1 0.2l1.2 1.3l1.1 1.5l1.1 0.9l1.1 -0.2l1.1 -0.8l1.1 -0.7l1.1 -0.3l1.1 0l1.2 0l1.1 -0.1l1.1 0.1l1.1 0.1l1.1 0.1l1.1 0l1.1 0.3l1.1 0.8l1.1 1.2l1.2 1l1.1 -0.1l1.1 -1.7l1.1 -2.2l1.1 -1.3l1.1 1l1.1 2.9l1.1 3.1l1.2 1.3l1.1 -1.1l1.1 -2.4l1.1 -2l1.1 -0.7l1.1 0.5l1.1 0.5l1.1 -0.1l1.2 -0.4l1.1 0.2l1.1 1.3l1.1 1.4l1.1 0.5l1.1 -1.4l1.1 -2.8l1.1 -2.6l1.2 -1.1l1.1 1l1.1 2.5l1.1 2.8l1.1 2.1l1.1 1.1l1.1 0l1.1 -0.7l1.2 -1.2l1.1 -1.6l1.1 -1.7l1.1 -1.3l1.1 -0.4l1.1 1.2l1.1 2l1.1 1.9l1.2 0.4l1.1 -1.3l1.1 -2l1.1 -1l1.1 1.1l1.1 2.8l1.1 3.3l1.1 2.3l1.1 0.9l1.2 -0.4l1.1 -1.4l1.1 -2.1l1.1 -2.4l1.1 -2.3l1.1 -1l1.1 0.6l1.1 1.7l1.2 1.4l1.1 -0.1l1.1 -1.5l1.1 -1.3l1.1 0.1l1.1 1.7l1.1 2l1.1 0.7l1.2 -1.2l1.1 -1.9l1.1 -1.1l1.1 0.4l1.1 1.4l1.1 1l1.1 -0.4l1.1 -1.4l1.2 -1.2l1.1 0l1.1 1.5l1.1 1.9l1.1 1l1.1 -0.6l1.1 -2.2l1.1 -2.2l1.2 -0.6l1.1 1.6l1.1 3.4l1.1 3.3l1.1 1.6l1.1 -0.6l1.1 -1.8l1.1 -1.5l1.2 -0.3l1.1 0.2l1.1 -0.5l1.1 -2l1.1 -2.7l1.1 -2.2l1.1 -0.8l1.1 0.4l1.1 0.7l1.2 0.3l1.1 -0.1l1.1 0.2l1.1 0.7l1.1 1.1l1.1 0.7l1.1 0.3l1.1 0.1l1.2 0.6l1.1 1.1l1.1 1l1.1 -0.1l1.1 -1.4l1.1 -2.5l1.1 -2.3l1.1 -1.3l1.2 0.2l1.1 1.5l1.1 1.9l1.1 1.3l1.1 0.1l1.1 -1l1.1 -1.5l1.1 -1l1.2 0l1.1 0.9l1.1 1.2l1.1 1.1l1.1 0.8l1.1 0.8l1.1 0.8l1.1 0.4l1.2 -0.9l1.1 -2.1l1.1 -2.8l1.1 -2.4l1.1 -0.9l1.1 0.9l1.1 2.1l1.1 2.2l1.2 1.4l1.1 0.2l1.1 -0.5l1.1 -0.4l1.1 0.5l1.1 1.5l1.1 1.8l1.1 1.3l1.2 0.1l1.1 -0.9l1.1 -1.4l1.1 -1.5l1.1 -1.7l1.1 -1.9l1.1 -1.7l1.1 -0.7l1.1 0.8l1.2 2.2" fill="none" stroke="#9259a8" stroke-width="1.15" stroke-linejoin="round"/>
<path d="M1012.9 59.8l1.1 -1.3l1.1 0.2l1.1 1.8l1.1 1.8l1.2 0.5l1.1 -0.8l1.1 -1.1l1.1 -0.8l1.1 -0.8l1.1 -1l1.1 -0.7l1.1 0.4l1.2 1.2l1.1 1.1l1.1 -0.2l1.1 -1l1.1 0l1.1 1.8l1.1 2.2l1.1 0.4l1.2 -2.4l1.1 -3.5l1.1 -1.6l1.1 1.6l1.1 3.1l1.1 1.9l1.1 -0.9l1.1 -2.2l1.2 -1.5l1.1 0.2l1.1 1l1.1 0.5l1.1 -0.2l1.1 0.2l1.1 1.5l1.1 2l1.2 0.7l1.1 -1.8l1.1 -3.3l1.1 -3.1l1.1 -1.3l1.1 0.8l1.1 2.3l1.1 2.9l1.2 2.8l1.1 1.9l1.1 -0.1l1.1 -2.3l1.1 -3.7l1.1 -2.9l1.1 -0.4l1.1 2.2l1.1 2.9l1.2 1.2l1.1 -1.1l1.1 -2.3l1.1 -1.5l1.1 0.4l1.1 1.7l1.1 1.8l1.1 0.7l1.2 -0.1l1.1 -0.4l1.1 -0.2l1.1 -0.3l1.1 -0.8l1.1 -1l1.1 -0.7l1.1 0.3l1.2 0.9l1.1 0.3l1.1 -1l1.1 -1.6l1.1 -0.4l1.1 2.2l1.1 3.9l1.1 3.1l1.2 -0.4l1.1 -3.8l1.1 -4.6l1.1 -2.3l1.1 1.3l1.1 3l1.1 2l1.1 -0.3l1.2 -1.8l1.1 -1.2l1.1 0.5l1.1 1.6l1.1 1.7l1.1 1l1.1 -0.1l1.1 -1.1l1.2 -1.9l1.1 -2.1l1.1 -1.4l1.1 0.5l1.1 2.1l1.1 2.6l1.1 1.4l1.1 -0.7l1.1 -2.3l1.2 -2.3l1.1 -0.5l1.1 1.8l1.1 3.3l1.1 2.6l1.1 0l1.1 -3.1l1.1 -4.6l1.2 -3.5l1.1 -0.4l1.1 2.8l1.1 4.3l1.1 3.4l1.1 1.4l1.1 -0.5l1.1 -1.6l1.2 -2.2l1.1 -2.4l1.1 -2.1l1.1 -0.7l1.1 1.3l1.1 2.8l1.1 2.6l1.1 0.4l1.2 -1.7l1.1 -2.4l1.1 -1l1.1 1.3l1.1 2.3l1.1 1.2l1.1 -0.9l1.1 -2.2l1.2 -1.5l1.1 0.4l1.1 1.9l1.1 1.5l1.1 0.1l1.1 -1.4l1.1 -1.8l1.1 -1.1l1.2 0.2l1.1 1.2l1.1 1.6l1.1 1.5l1.1 0.7l1.1 -0.8l1.1 -1.9l1.1 -2l1.1 -0.5l1.2 1.5l1.1 2.2l1.1 0.7l1.1 -1.7l1.1 -2.7l1.1 -1.2l1.1 1.8l1.1 3.8l1.2 2.8l1.1 -0.2l1.1 -3.2l1.1 -3.7l1.1 -2l1.1 0.4l1.1 2.1l1.1 2.1l1.2 1.3l1.1 0.4l1.1 -0.1l1.1 -0.4l1.1 -0.6l1.1 -0.7l1.1 -1l1.1 -1.1l1.2 -0.8l1.1 0.2l1.1 1.6l1.1 2.6l1.1 1.9l1.1 -0.3l1.1 -2.7l1.1 -3.3l1.2 -1.6l1.1 1.5l1.1 3.3l1.1 2.7l1.1 0.1l1.1 -2l1.1 -2.2l1.1 -0.9l1.2 0.7l1.1 0.9l1.1 -0.2l1.1 -1.4l1.1 -1.1l1.1 0.7l1.1 2.7l1.1 3.2l1.1 1.5l1.2 -1.7l1.1 -3.9l1.1 -3.7l1.1 -0.8l1.1 2.4l1.1 3.5l1.1 2.1l1.1 -0.6l1.2 -2.4l1.1 -2.3l1.1 -1l1.1 0.3l1.1 1.5l1.1 2l1.1 2.1l1.1 0.9l1.2 -1.1l1.1 -2.5l1.1 -2.2l1.1 0l1.1 1.8l1.1 1.5l1.1 -0.6l1.1 -2.3l1.2 -1.8l1.1 0.5l1.1 2.3l1.1 2.2l1.1 0.5l1.1 -0.7l1.1 -0.4l1.1 0.4l1.2 0.3l1.1 -0.7l1.1 -1.5l1.1 -0.9l1.1 0.2l1.1 0.5l1.1 -0.7l1.1 -1.8l1.2 -1l1.1 1.8l1.1 4.2l1.1 3.8l1.1 0.8l1.1 -2.8l1.1 -4.1l1.1 -2.5l1.2 0.1l1.1 1.4l1.1 0.9l1.1 -0.4l1.1 -0.7l1.1 0.2l1.1 1.3l1.1 1.4l1.1 0.4l1.2 -0.5l1.1 -0.9l1.1 -0.6l1.1 -0.1l1.1 0.3l1.1 0.6l1.1 0.6l1.1 0.5l1.2 -0.4l1.1 -1.6l1.1 -2.1l1.1 -1.4l1.1 0.5l1.1 2.2l1.1 2.7l1.1 1.6l1.2 0l1.1 -1.2l1.1 -1.6l1.1 -1.6l1.1 -1.1l1.1 -0.3l1.1 1.2l1.1 2.5l1.2 2.5l1.1 0.6l1.1 -2.2l1.1 -3.9l1.1 -2.8l1.1 0.2l1.1 3.2l1.1 3.7l1.2 1.3l1.1 -2.1l1.1 -3.5l1.1 -1.9l1.1 1.3l1.1 3.6l1.1 3.1l1.1 0.4l1.2 -2.3l1.1 -3.2l1.1 -1.7l1.1 0.4l1.1 1.4l1.1 0.9l1.1 -0.2l1.1 -1l1.1 -0.9l1.2 -0.2l1.1 0.5l1.1 1.1l1.1 1.7l1.1 1.9l1.1 1.6l1.1 0.4l1.1 -1.3l1.2 -3.2l1.1 -3.9l1.1 -3.1l1.1 -0.9l1.1 1.8l1.1 3.9l1.1 4.3l1.1 3l1.2 0.6l1.1 -1.8l1.1 -3.1l1.1 -3l1.1 -1.9l1.1 -0.4l1.1 0.9l1.1 1.8l1.2 1.6l1.1 1.3l1.1 0.4l1.1 -0.8l1.1 -2l1.1 -2.5l1.1 -2l1.1 -0.7l1.2 0.4l1.1 1.4l1.1 1.4l1.1 1.5l1.1 1.4l1.1 1l1.1 -0.8l1.1 -2.9l1.2 -3.9l1.1 -2.1l1.1 1.7l1.1 4.8l1.1 4.4l1.1 0.3l1.1 -4.2l1.1 -5.5l1.1 -2.7l1.2 1.9l1.1 4.9l1.1 4.2l1.1 1.1l1.1 -1.4l1.1 -2l1.1 -0.8l1.1 0l1.2 -0.4l1.1 -1.5l1.1 -2.3l1.1 -1.6l1.1 0.7l1.1 3.1l1.1 4.1l1.1 2.5l1.2 -0.7l1.1 -3.4l1.1 -3.5l1.1 -0.9l1.1 2.4l1.1 3.4l1.1 1.6l1.1 -1.9l1.2 -3.9l1.1 -2.8l1.1 0.5l1.1 3.7l1.1 4.2l1.1 1.8l1.1 -2l1.1 -4.6l1.2 -4.3l1.1 -1.1l1.1 3.4l1.1 5.7l1.1 4.2l1.1 -0.1l1.1 -4.2l1.1 -4.8l1.2 -1.7l1.1 1.9l1.1 3l1.1 1.1l1.1 -1.3l1.1 -1.5l1.1 0.3l1.1 1.7l1.1 0.7l1.2 -1.5l1.1 -2.4l1.1 -0.4l1.1 2.7l1.1 3.8l1.1 1.6l1.1 -2.1l1.1 -4.2l1.2 -3l1.1 0.3l1.1 2.8l1.1 2.8l1.1 1l1.1 -1l1.1 -1.7l1.1 -1.2l1.2 -0.1l1.1 0.8l1.1 1.1l1.1 0.8l1.1 0.2l1.1 -0.5l1.1 -0.7l1.1 -0.6l1.2 -0.1l1.1 0.1l1.1 0.1l1.1 0.2l1.1 0.1l1.1 0.2l1.1 0.4l1.1 0.5l1.2 0.3l1.1 -0.2l1.1 -0.7l1.1 -0.8l1.1 -0.2l1.1 0.5l1.1 0.6l1.1 0l1.2 -0.9l1.1 -0.7l1.1 0.7l1.1 2l1.1 1.5l1.1 -0.6l1.1 -2.7l1.1 -2.4l1.1 0l1.2 2.7l1.1 2.9l1.1 0.7l1.1 -2l1.1 -2.5l1.1 -1l1.1 0.9l1.1 1.2l1.2 0.4l1.1 -0.2l1.1 0.1l1.1 0.9l1.1 0.5l1.1 -0.9l1.1 -2l1.1 -1.6l1.2 0.6l1.1 2.5l1.1 2.9l1.1 1.4l1.1 -0.9l1.1 -2.5l1.1 -2.7l1.1 -1.7l1.2 0.3l1.1 1.9l1.1 2.2l1.1 0.8l1.1 -1.4l1.1 -2.4l1.1 -1.1l1.1 1.8l1.2 3.7l1.1 3.2l1.1 0.3l1.1 -2.7l1.1 -3.7l1.1 -2.4l1.1 -0.4l1.1 1.1l1.2 1.2l1.1 0.8l1.1 0.4l1.1 0l1.1 -0.2l1.1 -0.1l1.1 0.5l1.1 1.2l1.1 1.1l1.2 0l1.1 -1.3l1.1 -1.6l1.1 -0.4l1.1 1.1l1.1 1.2l1.1 -0.3l1.1 -1.9l1.2 -2l1.1 -0.5l1.1 1.3l1.1 1.7l1.1 1.2l1.1 0.3l1.1 0.2l1.1 0.6l1.2 0.7l1.1 -0.1l1.1 -1.1l1.1 -1.6l1.1 -1.3l1.1 -0.8l1.1 0.2l1.1 0.8l1.2 1.1l1.1 0.9l1.1 0.2l1.1 -0.4l1.1 -0.3l1.1 0.4l1.1 0.7l1.1 0l1.2 -0.7l1.1 -0.8l1.1 0.4l1.1 1.2l1.1 0.2l1.1 -2l1.1 -3.1l1.1 -1.5l1.2 2.4l1.1 5.3l1.1 4.5l1.1 0.3l1.1 -4.2l1.1 -5.7l1.1 -3.5l1.1 0.6l1.1 3.6l1.2 3.7l1.1 1.9l1.1 -0.5l1.1 -1.9l1.1 -1.7l1.1 -0.7l1.1 0.4l1.1 0.9l1.2 0.7l1.1 -0.1l1.1 -0.6l1.1 -0.8l1.1 -0.2l1.1 0.4l1.1 0.9l1.1 0.9l1.2 0.5l1.1 -0.3l1.1 -0.9l1.1 -1.1l1.1 -0.4l1.1 0.5l1.1 0.8l1.1 0.4l1.2 -0.5l1.1 -1l1.1 -0.6l1.1 0.3l1.1 1.3l1.1 1.4l1.1 0.8l1.1 0l1.2 -0.8l1.1 -1l1.1 -0.9l1.1 -0.6l1.1 0l1.1 0.4l1.1 0.3l1.1 0.1l1.2 -0.3l1.1 -0.1l1.1 0.5l1.1 1.1l1.1 1.1l1.1 0.4l1.1 -0.9l1.1 -1.8l1.1 -1.4l1.2 0.3l1.1 1.9l1.1 1.9l1.1 -0.1l1.1 -2.3l1.1 -2.7l1.1 -0.6l1.1 2.5l1.2 3.6l1.1 1.6l1.1 -2.1l1.1 -4.1l1.1 -2.6l1.1 1.4l1.1 4.6l1.1 4.1l1.2 0.4l1.1 -3.7l1.1 -4.8l1.1 -2.4l1.1 1.5l1.1 3.8l1.1 2.8l1.1 -0.5l1.2 -3.2l1.1 -3l1.1 0.3l1.1 3.6l1.1 4.5l1.1 2l1.1 -1.9l1.1 -4.3l1.2 -3.5l1.1 -0.8l1.1 1.2l1.1 1.3l1.1 0.1l1.1 -0.6l1.1 0.4l1.1 2.2l1.2 3l1.1 1.8l1.1 -0.6l1.1 -2.6l1.1 -3l1.1 -1.8l1.1 -0.3l1.1 0.5l1.2 0.7l1.1 0.8l1.1 1.4l1.1 1.8l1.1 1.1l1.1 -0.9l1.1 -3l1.1 -3.4l1.1 -1l1.2 2.5" fill="none" stroke="#eec564" stroke-width="1.15" stroke-linejoin="round"/>
<path d="M1012.9 68.4l1.1 0.9l1.1 0.6l1.1 -0.4l1.1 -0.9l1.2 0.4l1.1 2.1l1.1 2.4l1.1 0.1l1.1 -2.9l1.1 -4.1l1.1 -1.9l1.1 1.7l1.2 3.5l1.1 2.2l1.1 -1l1.1 -2.9l1.1 -1.9l1.1 0.9l1.1 2.9l1.1 2.5l1.2 0.3l1.1 -1.7l1.1 -2l1.1 -0.8l1.1 0.9l1.1 1.6l1.1 0.8l1.1 -0.9l1.2 -2.4l1.1 -2.3l1.1 -0.5l1.1 1.8l1.1 2.9l1.1 2l1.1 -0.1l1.1 -1.8l1.2 -1.4l1.1 0l1.1 1.2l1.1 0.7l1.1 -0.9l1.1 -2l1.1 -1.5l1.1 0.5l1.2 2.6l1.1 3.2l1.1 1.5l1.1 -1.6l1.1 -4l1.1 -3.7l1.1 -0.7l1.1 2.8l1.1 4.1l1.2 2.3l1.1 -0.9l1.1 -2.5l1.1 -1.2l1.1 1.2l1.1 1.8l1.1 -0.3l1.1 -3l1.2 -3.3l1.1 -0.7l1.1 2.9l1.1 4.1l1.1 2.2l1.1 -1.2l1.1 -3.6l1.1 -3.2l1.2 -1l1.1 1.7l1.1 3.2l1.1 3.1l1.1 1.7l1.1 -0.1l1.1 -1.4l1.1 -1.8l1.2 -1.8l1.1 -1.7l1.1 -1.4l1.1 -0.3l1.1 1.2l1.1 2.2l1.1 1.3l1.1 -1l1.2 -2.6l1.1 -1.8l1.1 1.4l1.1 4.4l1.1 4.5l1.1 1.3l1.1 -2.7l1.1 -4.7l1.2 -3.3l1.1 -0.5l1.1 1.8l1.1 2.2l1.1 1.2l1.1 -0.3l1.1 -1.1l1.1 -0.9l1.1 -0.1l1.2 0.6l1.1 0.5l1.1 -0.3l1.1 -1l1.1 -0.8l1.1 0.5l1.1 2l1.1 2.4l1.2 1.3l1.1 -0.3l1.1 -1.5l1.1 -1.8l1.1 -1.5l1.1 -1l1.1 -0.4l1.1 0.3l1.2 0.8l1.1 0.3l1.1 -0.5l1.1 -1.2l1.1 -0.4l1.1 1.3l1.1 2.9l1.1 2.9l1.2 1.4l1.1 -0.3l1.1 -1.3l1.1 -1.5l1.1 -1.6l1.1 -2.1l1.1 -2.5l1.1 -1.5l1.2 0.6l1.1 2.8l1.1 3.3l1.1 1.7l1.1 -1.1l1.1 -2.9l1.1 -2.2l1.1 0.3l1.2 2.4l1.1 2.6l1.1 0.8l1.1 -1.3l1.1 -1.8l1.1 -0.3l1.1 1.6l1.1 2.1l1.1 1l1.2 -1.1l1.1 -2.4l1.1 -2.7l1.1 -2.2l1.1 -1.2l1.1 -0.2l1.1 1.3l1.1 2.7l1.2 3.4l1.1 2.6l1.1 0.6l1.1 -1.6l1.1 -2.7l1.1 -2l1.1 -0.3l1.1 1.4l1.2 1.8l1.1 0.7l1.1 -1.4l1.1 -2.9l1.1 -2.3l1.1 0l1.1 2.8l1.1 3.9l1.2 2.5l1.1 -0.4l1.1 -2.8l1.1 -3.3l1.1 -2.1l1.1 0l1.1 1.4l1.1 2l1.2 1.7l1.1 0.8l1.1 -0.4l1.1 -1.2l1.1 -1.2l1.1 -0.3l1.1 0.7l1.1 0.8l1.2 0.1l1.1 -0.8l1.1 -0.9l1.1 0.3l1.1 1.4l1.1 1.4l1.1 -0.3l1.1 -2.2l1.1 -2.9l1.2 -1.3l1.1 1.4l1.1 3.4l1.1 3.2l1.1 1.1l1.1 -1.4l1.1 -2.3l1.1 -1.2l1.2 0.4l1.1 0.8l1.1 -0.5l1.1 -2.1l1.1 -2.3l1.1 -0.6l1.1 2l1.1 3.3l1.2 2.3l1.1 0.3l1.1 -1.4l1.1 -1.5l1.1 -0.6l1.1 0.3l1.1 0.4l1.1 -0.1l1.2 -0.3l1.1 -0.1l1.1 0.2l1.1 0.6l1.1 0.6l1.1 0.3l1.1 -0.5l1.1 -1.8l1.2 -2.5l1.1 -2l1.1 -0.1l1.1 2.3l1.1 3.6l1.1 2.9l1.1 0.7l1.1 -1.2l1.2 -1.6l1.1 -0.6l1.1 0.8l1.1 0.9l1.1 -0.3l1.1 -1.9l1.1 -2.9l1.1 -2l1.2 0.1l1.1 2.3l1.1 3l1.1 1.6l1.1 -0.9l1.1 -2.3l1.1 -1.7l1.1 0.6l1.1 2.5l1.2 2.3l1.1 0.2l1.1 -1.6l1.1 -2.1l1.1 -0.9l1.1 0.4l1.1 0.6l1.1 0.4l1.2 0.4l1.1 1.2l1.1 1.6l1.1 0.6l1.1 -2.1l1.1 -4.2l1.1 -3.9l1.1 -0.8l1.2 3.2l1.1 5.1l1.1 3.7l1.1 0.3l1.1 -2.5l1.1 -2.8l1.1 -1.1l1.1 0.9l1.2 1.2l1.1 0.2l1.1 -1l1.1 -1l1.1 0.5l1.1 1.9l1.1 1.6l1.1 -0.6l1.2 -3.1l1.1 -3.7l1.1 -1.6l1.1 1.9l1.1 4.3l1.1 3.7l1.1 0.6l1.1 -2.2l1.2 -2.8l1.1 -0.8l1.1 1.7l1.1 2.3l1.1 0.9l1.1 -1.6l1.1 -2.9l1.1 -2.5l1.1 -1.1l1.2 0.4l1.1 1.3l1.1 1.9l1.1 1.9l1.1 1.7l1.1 1.1l1.1 0.2l1.1 -0.4l1.2 -1.1l1.1 -1.7l1.1 -2.1l1.1 -1.9l1.1 -0.7l1.1 1l1.1 2l1.1 1.3l1.2 -0.2l1.1 -0.9l1.1 0.1l1.1 1.8l1.1 2.3l1.1 0.5l1.1 -2l1.1 -3.2l1.2 -2l1.1 0.6l1.1 2.1l1.1 1.6l1.1 -0.2l1.1 -1.6l1.1 -0.8l1.1 1l1.2 2.3l1.1 2l1.1 0l1.1 -2.3l1.1 -3.2l1.1 -2.3l1.1 0.2l1.1 2.6l1.2 3.1l1.1 1.3l1.1 -1.6l1.1 -3.5l1.1 -2.5l1.1 0.2l1.1 2.7l1.1 3.3l1.1 1.7l1.2 -0.1l1.1 -0.5l1.1 0.1l1.1 0.4l1.1 -0.5l1.1 -1.9l1.1 -2.7l1.1 -1.7l1.2 -0.3l1.1 0.4l1.1 0.2l1.1 -0.1l1.1 0.8l1.1 2.2l1.1 2.5l1.1 1.1l1.2 -1l1.1 -1.7l1.1 -0.5l1.1 1.2l1.1 1.3l1.1 -0.4l1.1 -1.7l1.1 -0.9l1.2 1.1l1.1 1.8l1.1 -0.4l1.1 -3.6l1.1 -4.4l1.1 -1.5l1.1 2.8l1.1 4.7l1.2 2.6l1.1 -1.1l1.1 -2.7l1.1 -0.6l1.1 2.4l1.1 3.5l1.1 1.3l1.1 -1.9l1.2 -3.2l1.1 -2l1.1 0.2l1.1 1l1.1 0.2l1.1 -1.1l1.1 -1l1.1 0.4l1.1 1.5l1.2 1.3l1.1 -0.1l1.1 -1.1l1.1 -0.8l1.1 0.4l1.1 1.1l1.1 0.6l1.1 -0.6l1.2 -1l1.1 -0.2l1.1 1.2l1.1 1.5l1.1 0.5l1.1 -1.2l1.1 -2l1.1 -1.4l1.2 -0.1l1.1 0.9l1.1 0.9l1.1 0.8l1.1 0.8l1.1 0.8l1.1 0.2l1.1 -0.7l1.2 -1.3l1.1 -0.9l1.1 -0.2l1.1 0.2l1.1 -0.2l1.1 -0.9l1.1 -0.4l1.1 0.8l1.2 1.8l1.1 1.3l1.1 -0.2l1.1 -1.7l1.1 -1.4l1.1 0.5l1.1 2.4l1.1 2.9l1.2 1.5l1.1 -0.9l1.1 -3.1l1.1 -4l1.1 -3.1l1.1 -0.5l1.1 2.1l1.1 3.2l1.1 2.2l1.2 -0.1l1.1 -1.5l1.1 -0.8l1.1 0.9l1.1 1.8l1.1 0.7l1.1 -1.1l1.1 -1.9l1.2 -0.6l1.1 1.1l1.1 1.3l1.1 -0.1l1.1 -1.8l1.1 -1.3l1.1 0.8l1.1 2.5l1.2 1.9l1.1 -0.7l1.1 -3l1.1 -3l1.1 -1l1.1 1.4l1.1 2.1l1.1 1l1.2 -0.3l1.1 -0.4l1.1 0.9l1.1 2.1l1.1 1.6l1.1 -0.5l1.1 -2.6l1.1 -2.6l1.2 -0.3l1.1 2.3l1.1 2.7l1.1 0.3l1.1 -3l1.1 -4.3l1.1 -2.1l1.1 1.5l1.2 3.9l1.1 3.3l1.1 0.7l1.1 -1.7l1.1 -2.4l1.1 -1.4l1.1 0l1.1 0.9l1.1 1.5l1.2 1.7l1.1 1.5l1.1 0.7l1.1 -0.7l1.1 -1.6l1.1 -2l1.1 -1.7l1.1 -1.1l1.2 -0.1l1.1 1.1l1.1 1.9l1.1 1.3l1.1 -0.8l1.1 -2.9l1.1 -2.7l1.1 0.2l1.2 4.1l1.1 5.5l1.1 3.1l1.1 -1.3l1.1 -4.3l1.1 -3.9l1.1 -1.2l1.1 1.2l1.2 1.8l1.1 0.9l1.1 0.2l1.1 -0.2l1.1 -0.5l1.1 -1.2l1.1 -1.7l1.1 -1.1l1.2 0.1l1.1 1.5l1.1 1.9l1.1 1.5l1.1 0.8l1.1 0.3l1.1 0l1.1 -0.7l1.2 -1.1l1.1 -1l1.1 -0.2l1.1 0.5l1.1 0.5l1.1 -0.2l1.1 -1l1.1 -1.4l1.1 -0.8l1.2 0.2l1.1 1.1l1.1 1.7l1.1 1.4l1.1 0.7l1.1 0l1.1 -0.5l1.1 -0.3l1.2 0.1l1.1 0.2l1.1 -0.5l1.1 -1.1l1.1 -1.6l1.1 -1.6l1.1 -1.5l1.1 -1.1l1.2 0.1l1.1 2.3l1.1 4.4l1.1 4.9l1.1 2.4l1.1 -1.4l1.1 -4l1.1 -3.4l1.2 -0.8l1.1 1.3l1.1 0.8l1.1 -1.6l1.1 -3.2l1.1 -2.1l1.1 1.1l1.1 3.6l1.2 3.3l1.1 0.5l1.1 -2.4l1.1 -2.7l1.1 -0.2l1.1 3.1l1.1 4.4l1.1 2.1l1.2 -2l1.1 -4.7l1.1 -3.9l1.1 0l1.1 3.4l1.1 3.5l1.1 0.3l1.1 -3.6l1.1 -4.6l1.2 -1.8l1.1 2.3l1.1 4.4l1.1 3.2l1.1 0.3l1.1 -1.3l1.1 -0.6l1.1 0.7l1.2 0.3l1.1 -2.3l1.1 -4.5l1.1 -3.5l1.1 0.9l1.1 5.2l1.1 6.2l1.1 2.6l1.2 -2.2l1.1 -4.2l1.1 -2.3l1.1 0.9l1.1 2l1.1 0.1l1.1 -2.6l1.1 -3.2l1.2 -1.4l1.1 1.5l1.1 3.1l1.1 2.7l1.1 1.4l1.1 0.1l1.1 -0.9l1.1 -1.4l1.2 -1.2l1.1 -0.3l1.1 0.9l1.1 1l1.1 -0.4l1.1 -2.1l1.1 -2.2l1.1 -0.2l1.2 2.1l1.1 2.9l1.1 1.2l1.1 -0.9l1.1 -1.8l1.1 -0.8l1.1 0.7l1.1 1.2l1.2 0.7l1.1 0l1.1 -0.6l1.1 -0.8l1.1 -1.1l1.1 -1.5l1.1 -1.3l1.1 -0.5l1.1 0.8l1.2 2.2" fill="none" stroke="#e18764" stroke-width="1.15" stroke-linejoin="round"/>
<path d="M1012.9 77.9l1.1 3.1l1.1 1.4l1.1 -1.1l1.1 -2.2l1.2 -0.9l1.1 1.3l1.1 2.1l1.1 0.3l1.1 -2.4l1.1 -3.2l1.1 -1.2l1.1 2.6l1.2 4.8l1.1 3.8l1.1 0.4l1.1 -2.6l1.1 -3.1l1.1 -1.7l1.1 -0.4l1.1 -0.4l1.2 -1.4l1.1 -1.5l1.1 0.2l1.1 2.5l1.1 3.8l1.1 2.6l1.1 -0.1l1.1 -2.3l1.2 -2.7l1.1 -1.2l1.1 0.7l1.1 1.6l1.1 1.1l1.1 -0.1l1.1 -1.3l1.1 -1.5l1.2 -1.1l1.1 -0.4l1.1 0.3l1.1 0.8l1.1 1.5l1.1 1.9l1.1 2.1l1.1 1.3l1.2 -0.4l1.1 -2.4l1.1 -3.6l1.1 -2.9l1.1 -0.7l1.1 1.8l1.1 3.1l1.1 2.4l1.1 0.3l1.2 -1.7l1.1 -2.5l1.1 -1.6l1.1 0l1.1 1.4l1.1 2.1l1.1 1.9l1.1 1.1l1.2 0l1.1 -1.1l1.1 -1.7l1.1 -1.3l1.1 -0.4l1.1 0.5l1.1 0.6l1.1 -0.4l1.2 -1.5l1.1 -1.4l1.1 0.1l1.1 2.3l1.1 3.3l1.1 2.4l1.1 -0.3l1.1 -2.9l1.2 -3.4l1.1 -1.8l1.1 0.7l1.1 2.2l1.1 1.8l1.1 0l1.1 -1.4l1.1 -1.3l1.2 0.3l1.1 1.9l1.1 2l1.1 0.8l1.1 -1l1.1 -2l1.1 -1.6l1.1 -0.5l1.2 0.3l1.1 0.1l1.1 -0.1l1.1 0l1.1 0.7l1.1 1.2l1.1 0.6l1.1 -0.6l1.1 -1.5l1.2 -0.6l1.1 1.2l1.1 2.8l1.1 2.5l1.1 0.3l1.1 -2.5l1.1 -4l1.1 -3.5l1.2 -1.3l1.1 1l1.1 2.5l1.1 2.7l1.1 1.9l1.1 0.5l1.1 -0.4l1.1 -0.6l1.2 0.2l1.1 1.1l1.1 1.4l1.1 -0.1l1.1 -2.4l1.1 -4l1.1 -3.6l1.1 -1.1l1.2 1.6l1.1 3l1.1 2.6l1.1 1.3l1.1 0.4l1.1 0.4l1.1 0.9l1.1 0.6l1.2 -0.5l1.1 -2l1.1 -2.7l1.1 -2.1l1.1 -0.7l1.1 0.9l1.1 1.7l1.1 1.9l1.2 1.4l1.1 0.7l1.1 -0.3l1.1 -1.1l1.1 -1l1.1 -0.2l1.1 0.9l1.1 1.1l1.1 -0.1l1.2 -1.9l1.1 -3.1l1.1 -2.2l1.1 0.4l1.1 3.3l1.1 4.1l1.1 2.5l1.1 -0.6l1.2 -2.7l1.1 -2.5l1.1 -0.3l1.1 2l1.1 2.4l1.1 0.6l1.1 -2.3l1.1 -4l1.2 -3.3l1.1 -0.6l1.1 2.4l1.1 4l1.1 3.5l1.1 1.2l1.1 -1.1l1.1 -2.1l1.2 -1.3l1.1 0.2l1.1 1l1.1 0.3l1.1 -1.8l1.1 -3.1l1.1 -2.4l1.1 0.5l1.2 3.7l1.1 4.7l1.1 2.7l1.1 -0.9l1.1 -3.6l1.1 -3.4l1.1 -1.1l1.1 1.4l1.2 2.2l1.1 1l1.1 -0.7l1.1 -1.4l1.1 -0.7l1.1 0.6l1.1 1.1l1.1 0.6l1.1 -0.2l1.2 -0.8l1.1 -0.6l1.1 0l1.1 0.4l1.1 0.3l1.1 0.2l1.1 0l1.1 -0.1l1.2 0l1.1 -0.3l1.1 -0.6l1.1 -0.7l1.1 -0.2l1.1 0.8l1.1 1.8l1.1 1.9l1.2 0.8l1.1 -1l1.1 -2.5l1.1 -2.6l1.1 -1.1l1.1 0.8l1.1 1.8l1.1 1.5l1.2 0.4l1.1 -0.3l1.1 -0.2l1.1 0.4l1.1 0.5l1.1 -0.3l1.1 -1.6l1.1 -2.1l1.2 -1l1.1 1.2l1.1 3.1l1.1 3.2l1.1 1.3l1.1 -1.4l1.1 -3.5l1.1 -3.3l1.2 -1.3l1.1 1.2l1.1 2.5l1.1 1.9l1.1 0l1.1 -1.3l1.1 -1.1l1.1 0.4l1.2 1.6l1.1 1.5l1.1 0.2l1.1 -1.3l1.1 -1.7l1.1 -1l1.1 0.1l1.1 0.6l1.1 0.3l1.2 -0.4l1.1 -0.6l1.1 -0.3l1.1 0.6l1.1 1.3l1.1 1.8l1.1 1.5l1.1 0.3l1.2 -1.5l1.1 -3.1l1.1 -3.1l1.1 -1.4l1.1 1.7l1.1 4.1l1.1 4.3l1.1 1.8l1.2 -1.9l1.1 -4.4l1.1 -4.3l1.1 -2.1l1.1 0.8l1.1 2.5l1.1 2.4l1.1 1.3l1.2 0.8l1.1 1l1.1 1.3l1.1 0.8l1.1 -1.1l1.1 -3.1l1.1 -3.6l1.1 -2.1l1.2 0.7l1.1 2.7l1.1 2.8l1.1 1.2l1.1 -0.6l1.1 -1.5l1.1 -1.1l1.1 -0.5l1.2 0.1l1.1 0.4l1.1 1.1l1.1 1.8l1.1 1.8l1.1 0.6l1.1 -1.4l1.1 -3.3l1.1 -3.7l1.2 -2.5l1.1 -0.1l1.1 2.8l1.1 4.6l1.1 4.6l1.1 2.4l1.1 -1.4l1.1 -4.9l1.2 -5.8l1.1 -3.3l1.1 1.6l1.1 5.3l1.1 5.5l1.1 2l1.1 -2.5l1.1 -4.5l1.2 -3.1l1.1 0.2l1.1 2.4l1.1 2.1l1.1 -0.2l1.1 -2.3l1.1 -2.4l1.1 -0.5l1.2 1.7l1.1 3.1l1.1 2.5l1.1 0.4l1.1 -1.6l1.1 -2l1.1 -0.6l1.1 1.4l1.2 2.5l1.1 1.1l1.1 -1.9l1.1 -4.4l1.1 -4.5l1.1 -1.5l1.1 2.4l1.1 4.8l1.2 4.1l1.1 0.8l1.1 -2.7l1.1 -3.7l1.1 -1.8l1.1 1.9l1.1 4.7l1.1 4.6l1.1 1.4l1.2 -3.2l1.1 -6.3l1.1 -5.6l1.1 -1.9l1.1 2.1l1.1 3.8l1.1 2.4l1.1 0.1l1.2 -0.7l1.1 1.2l1.1 3.5l1.1 3.5l1.1 0.3l1.1 -3.8l1.1 -5.9l1.1 -4.4l1.2 -0.4l1.1 2.7l1.1 3.1l1.1 1.1l1.1 -0.9l1.1 -1.3l1.1 0l1.1 2l1.2 2.8l1.1 2.2l1.1 0.3l1.1 -1.8l1.1 -3.2l1.1 -3.2l1.1 -1.6l1.1 0.4l1.2 1.8l1.1 2.1l1.1 1.3l1.1 0.4l1.1 0.2l1.1 0.3l1.1 0.2l1.1 -0.7l1.2 -2.1l1.1 -2.7l1.1 -1.7l1.1 0.3l1.1 2.5l1.1 3.3l1.1 2.5l1.1 0.8l1.1 -1l1.2 -2l1.1 -1.8l1.1 -0.8l1.1 0l1.1 0.1l1.1 -0.4l1.1 -0.9l1.1 -0.3l1.2 1.4l1.1 3.1l1.1 3.2l1.1 1l1.1 -2.5l1.1 -5l1.1 -4.6l1.1 -1.4l1.2 2.5l1.1 4.7l1.1 3.8l1.1 0.8l1.1 -2.3l1.1 -3.5l1.1 -1.8l1.1 1.6l1.2 4.1l1.1 3.9l1.1 0.8l1.1 -3.2l1.1 -5.5l1.1 -4.6l1.1 -1.2l1.1 2.3l1.2 3.4l1.1 1.9l1.1 -0.4l1.1 -1.5l1.1 -0.1l1.1 2.3l1.1 3.7l1.1 2.9l1.2 0.4l1.1 -2.2l1.1 -4l1.1 -4.2l1.1 -3.3l1.1 -1.7l1.1 0.4l1.1 2.6l1.1 3.8l1.2 3.6l1.1 2.1l1.1 0.2l1.1 -1.3l1.1 -1.7l1.1 -1.3l1.1 -0.8l1.1 -0.1l1.2 0.3l1.1 0.1l1.1 -0.5l1.1 -1.1l1.1 -0.9l1.1 0l1.1 1.1l1.1 1.5l1.2 0.4l1.1 -0.8l1.1 -1l1.1 0.5l1.1 2.3l1.1 2.4l1.1 0l1.1 -3.2l1.2 -4.1l1.1 -1.7l1.1 2.7l1.1 5.5l1.1 4.2l1.1 -0.3l1.1 -5l1.1 -6.5l1.2 -4.1l1.1 0.6l1.1 4.2l1.1 5.2l1.1 3l1.1 -0.6l1.1 -3.5l1.1 -3.7l1.2 -1.1l1.1 2.8l1.1 5.2l1.1 4.2l1.1 0.2l1.1 -4.1l1.1 -5.6l1.1 -3.6l1.1 0l1.2 2.4l1.1 2.2l1.1 0.3l1.1 -0.7l1.1 -0.1l1.1 1.6l1.1 2.3l1.1 1.2l1.2 -1.1l1.1 -2.9l1.1 -3l1.1 -1.5l1.1 0.8l1.1 2.4l1.1 2.7l1.1 1.6l1.2 0l1.1 -0.8l1.1 -0.5l1.1 0.9l1.1 1.4l1.1 0.1l1.1 -3l1.1 -5.4l1.2 -4.5l1.1 -0.5l1.1 4.4l1.1 6.7l1.1 4.7l1.1 0.1l1.1 -4l1.1 -4.7l1.2 -2.4l1.1 0.8l1.1 2.9l1.1 3.4l1.1 2.6l1.1 1.4l1.1 -0.3l1.1 -2.4l1.2 -4.3l1.1 -4.5l1.1 -2.3l1.1 1l1.1 3.3l1.1 3l1.1 0.6l1.1 -1.5l1.1 -1.6l1.2 0.8l1.1 3.1l1.1 3.4l1.1 1.1l1.1 -1.7l1.1 -2.6l1.1 -0.9l1.1 1.1l1.2 0.9l1.1 -1.9l1.1 -5.1l1.1 -5.1l1.1 -0.9l1.1 4.9l1.1 8l1.1 6.2l1.2 0.8l1.1 -4.4l1.1 -6.2l1.1 -4.1l1.1 -0.5l1.1 2.1l1.1 2.5l1.1 1.8l1.2 0.9l1.1 0.6l1.1 0.7l1.1 0.4l1.1 -0.5l1.1 -1.6l1.1 -2.6l1.1 -2.6l1.2 -1.3l1.1 1.1l1.1 3.1l1.1 3.3l1.1 1.5l1.1 -1l1.1 -2.1l1.1 -1.1l1.2 0.7l1.1 1.2l1.1 -0.5l1.1 -2.6l1.1 -3l1.1 -0.7l1.1 2.5l1.1 4.1l1.1 2.7l1.2 -0.5l1.1 -2.5l1.1 -2l1.1 0.3l1.1 2.3l1.1 2.4l1.1 0.6l1.1 -1.8l1.2 -3.5l1.1 -3.4l1.1 -2l1.1 0.6l1.1 2.8l1.1 3.5l1.1 2.1l1.1 -0.5l1.2 -2.5l1.1 -2.1l1.1 0.2l1.1 2.4l1.1 2.8l1.1 0.9l1.1 -1.4l1.1 -2.2l1.2 -1.1l1.1 0.3l1.1 0.7l1.1 -0.5l1.1 -1.9l1.1 -1.8l1.1 0.1l1.1 2.4l1.2 3.5l1.1 2.5l1.1 -0.2l1.1 -2.8l1.1 -3.8l1.1 -2.6l1.1 0.3l1.1 2.8l1.2 3.3l1.1 1.6l1.1 -1.3l1.1 -2.8l1.1 -1.7l1.1 1.3l1.1 3.6l1.1 3.1l1.2 -0.3l1.1 -4.1l1.1 -5.3l1.1 -2.9l1.1 1l1.1 4l1.1 4.1l1.1 2.1l1.1 -0.1l1.2 -1.3" fill="none" stroke="#4893ca" stroke-width="1.15" stroke-linejoin="round"/>
<path d="M1012.9 89.2l1.1 0.1l1.1 0.5l1.1 1.3l1.1 1.6l1.2 1.2l1.1 0.3l1.1 -0.6l1.1 -0.8l1.1 -0.3l1.1 -0.1l1.1 -0.3l1.1 -1l1.2 -1.5l1.1 -1.5l1.1 -0.8l1.1 0.1l1.1 0.6l1.1 1l1.1 1l1.1 1.2l1.2 1.1l1.1 0.4l1.1 -0.2l1.1 -0.2l1.1 0.5l1.1 1.4l1.1 0.9l1.1 -1l1.2 -3.2l1.1 -3.8l1.1 -1.9l1.1 1.5l1.1 3.8l1.1 3.4l1.1 0.7l1.1 -2.3l1.2 -3.1l1.1 -1.5l1.1 1l1.1 2.4l1.1 1.8l1.1 0.2l1.1 -1.1l1.1 -1.3l1.2 -0.6l1.1 -0.3l1.1 -0.5l1.1 -1l1.1 -0.8l1.1 0.2l1.1 1.7l1.1 2.8l1.1 2.5l1.2 1.1l1.1 -0.8l1.1 -2.1l1.1 -2.1l1.1 -1.1l1.1 0.1l1.1 0.5l1.1 -0.1l1.2 -0.9l1.1 -1.2l1.1 -0.2l1.1 0.9l1.1 1.7l1.1 1.3l1.1 0.5l1.1 -0.1l1.2 0.3l1.1 0.9l1.1 1.1l1.1 0.4l1.1 -0.9l1.1 -1.7l1.1 -1.5l1.1 -1.1l1.2 -1l1.1 -1.4l1.1 -1.4l1.1 -0.4l1.1 1.6l1.1 3.1l1.1 3l1.1 1l1.2 -1.4l1.1 -2.6l1.1 -1.9l1.1 -0.3l1.1 0.9l1.1 0.7l1.1 -0.1l1.1 0l1.2 1.2l1.1 2.9l1.1 3.2l1.1 1.7l1.1 -0.9l1.1 -3l1.1 -3.6l1.1 -2.7l1.1 -1.3l1.2 -0.5l1.1 0.1l1.1 0.5l1.1 1l1.1 1.3l1.1 1.2l1.1 0.9l1.1 0.5l1.2 0.4l1.1 0.6l1.1 0.4l1.1 0l1.1 -0.3l1.1 -0.3l1.1 0.2l1.1 0.5l1.2 0.3l1.1 -0.4l1.1 -1.2l1.1 -1.8l1.1 -2.1l1.1 -2.3l1.1 -1.9l1.1 -0.9l1.2 0.9l1.1 2.8l1.1 3.6l1.1 2.8l1.1 0.6l1.1 -1.6l1.1 -2.6l1.1 -2l1.2 -0.4l1.1 1.3l1.1 2.5l1.1 2.8l1.1 2.3l1.1 1.2l1.1 -0.3l1.1 -1.7l1.2 -2.1l1.1 -1.5l1.1 -0.2l1.1 0.8l1.1 0.5l1.1 -0.8l1.1 -1.9l1.1 -1.8l1.1 -0.3l1.2 1.2l1.1 1.7l1.1 0.3l1.1 -1.8l1.1 -3l1.1 -2.3l1.1 -0.1l1.1 2.2l1.2 3.1l1.1 2l1.1 0.2l1.1 -0.9l1.1 -0.5l1.1 1l1.1 2l1.1 1.5l1.2 -0.2l1.1 -2.1l1.1 -2.4l1.1 -1.1l1.1 0.8l1.1 2.2l1.1 2.2l1.1 1l1.2 -0.3l1.1 -1l1.1 -0.9l1.1 -0.6l1.1 -0.5l1.1 -0.5l1.1 -0.6l1.1 -0.8l1.2 -0.8l1.1 -0.6l1.1 -0.4l1.1 0.1l1.1 0.5l1.1 0.6l1.1 0.4l1.1 0.2l1.2 0l1.1 0l1.1 -0.3l1.1 -0.7l1.1 -1.3l1.1 -0.8l1.1 0.9l1.1 3.1l1.1 4.3l1.2 3.5l1.1 0.8l1.1 -2.2l1.1 -3.8l1.1 -3.2l1.1 -1.7l1.1 -0.8l1.1 -0.9l1.2 -1.1l1.1 -0.2l1.1 2.1l1.1 4.2l1.1 4.4l1.1 2.2l1.1 -1.2l1.1 -3.7l1.2 -3.7l1.1 -1.7l1.1 0.5l1.1 1.5l1.1 0.7l1.1 -0.7l1.1 -1.1l1.1 -0.2l1.2 1.1l1.1 1.5l1.1 0.5l1.1 -0.8l1.1 -1.6l1.1 -0.7l1.1 1l1.1 2.2l1.2 2l1.1 0.4l1.1 -1.1l1.1 -1.9l1.1 -1.6l1.1 -1l1.1 -0.5l1.1 -0.1l1.2 0.5l1.1 1.3l1.1 1.8l1.1 1.3l1.1 0.2l1.1 -1.2l1.1 -1.6l1.1 -1l1.2 0l1.1 0.4l1.1 0l1.1 -0.7l1.1 -1l1.1 -0.4l1.1 0.6l1.1 1.4l1.1 1.5l1.2 1.2l1.1 0.7l1.1 0.1l1.1 -0.4l1.1 -0.7l1.1 -0.4l1.1 0.6l1.1 1.7l1.2 2.2l1.1 1.1l1.1 -0.9l1.1 -3.1l1.1 -4.2l1.1 -3.3l1.1 -1.2l1.1 1.2l1.2 2.4l1.1 2.1l1.1 0.6l1.1 -0.9l1.1 -1.4l1.1 -0.7l1.1 0.6l1.1 1.6l1.2 1.2l1.1 0.2l1.1 -0.7l1.1 -0.7l1.1 0.2l1.1 1l1.1 1l1.1 -0.1l1.2 -1.3l1.1 -1.8l1.1 -1.1l1.1 0.3l1.1 1.4l1.1 1.8l1.1 1.6l1.1 1l1.2 0.3l1.1 -0.6l1.1 -1.3l1.1 -1.5l1.1 -1l1.1 0.1l1.1 0.7l1.1 0.5l1.1 -0.2l1.2 -0.9l1.1 -0.7l1.1 0l1.1 0.6l1.1 0.7l1.1 0l1.1 -0.6l1.1 -1l1.2 -1l1.1 -1l1.1 -0.5l1.1 0.5l1.1 2.3l1.1 3.8l1.1 4l1.1 2.1l1.2 -0.7l1.1 -2.9l1.1 -3.5l1.1 -2.2l1.1 -0.8l1.1 -0.3l1.1 -0.9l1.1 -1.3l1.2 -0.7l1.1 0.9l1.1 2.3l1.1 2.2l1.1 0.6l1.1 -1.5l1.1 -2.5l1.1 -1.7l1.2 0.2l1.1 2.1l1.1 2.8l1.1 1.8l1.1 -0.1l1.1 -1.7l1.1 -1.7l1.1 -0.4l1.2 1.6l1.1 2.8l1.1 2.5l1.1 0.8l1.1 -1.2l1.1 -2.4l1.1 -2.6l1.1 -2.1l1.1 -1.3l1.2 -0.3l1.1 0.8l1.1 1.8l1.1 2.1l1.1 1.3l1.1 -0.1l1.1 -1.3l1.1 -1.8l1.2 -1l1.1 -0.1l1.1 0.3l1.1 -0.2l1.1 -0.9l1.1 -1l1.1 -0.1l1.1 1.7l1.2 3l1.1 3.1l1.1 1.6l1.1 -0.7l1.1 -2.7l1.1 -3.3l1.1 -2.1l1.1 -0.3l1.2 1.2l1.1 1.3l1.1 0.2l1.1 -0.7l1.1 -0.5l1.1 0.9l1.1 2.6l1.1 3.4l1.2 2.2l1.1 -0.5l1.1 -3.1l1.1 -4.2l1.1 -3.3l1.1 -1.1l1.1 0.7l1.1 1.6l1.2 1.5l1.1 1.2l1.1 1.5l1.1 1.8l1.1 1.3l1.1 -0.6l1.1 -2.6l1.1 -3.4l1.1 -2.2l1.2 0.3l1.1 2.1l1.1 1.9l1.1 0l1.1 -1.5l1.1 -1.3l1.1 0.4l1.1 1.9l1.2 1.9l1.1 0.6l1.1 -0.9l1.1 -1.1l1.1 -0.5l1.1 0.1l1.1 -0.1l1.1 -0.7l1.2 -0.8l1.1 0l1.1 1.3l1.1 1.8l1.1 1.3l1.1 0.3l1.1 -0.4l1.1 -0.4l1.2 0.4l1.1 1.2l1.1 1.4l1.1 0.8l1.1 -0.5l1.1 -2.5l1.1 -4l1.1 -4.4l1.2 -2.6l1.1 0.4l1.1 3.1l1.1 3.7l1.1 2.1l1.1 -0.6l1.1 -2.5l1.1 -2.4l1.2 -0.6l1.1 1.7l1.1 3l1.1 2.8l1.1 1.4l1.1 -0.1l1.1 -1l1.1 -1l1.1 -0.6l1.2 -0.1l1.1 -0.1l1.1 -0.2l1.1 -0.4l1.1 -0.2l1.1 0.1l1.1 0.1l1.1 -0.2l1.2 -0.6l1.1 -0.7l1.1 0.2l1.1 1.1l1.1 1.7l1.1 1.4l1.1 0.5l1.1 -0.4l1.2 -1.1l1.1 -1.4l1.1 -2l1.1 -2.4l1.1 -2.6l1.1 -1.6l1.1 0.3l1.1 2.4l1.2 3.6l1.1 3.2l1.1 1.4l1.1 -0.7l1.1 -1.7l1.1 -1.1l1.1 0.7l1.1 2.2l1.2 2l1.1 -0.3l1.1 -2.6l1.1 -3.4l1.1 -1.4l1.1 1.6l1.1 3.6l1.1 2.9l1.2 -0.1l1.1 -2.6l1.1 -3.2l1.1 -1.4l1.1 0.7l1.1 1.3l1.1 0.3l1.1 -1.1l1.1 -1.1l1.2 -0.1l1.1 1.2l1.1 1.1l1.1 -0.2l1.1 -1.7l1.1 -1.9l1.1 -0.5l1.1 1.3l1.2 2.5l1.1 2l1.1 0.5l1.1 -1.1l1.1 -1.5l1.1 -0.6l1.1 0.9l1.1 2.2l1.2 2.1l1.1 1.1l1.1 -0.6l1.1 -1.7l1.1 -1.6l1.1 -0.5l1.1 0.8l1.1 1.4l1.2 1.2l1.1 0.1l1.1 -1.5l1.1 -2.8l1.1 -3.5l1.1 -2.6l1.1 -0.7l1.1 1.6l1.2 3l1.1 2.3l1.1 0.6l1.1 -1.2l1.1 -1.5l1.1 -0.1l1.1 1.6l1.1 2.1l1.2 0.9l1.1 -1.2l1.1 -2.4l1.1 -2.1l1.1 -0.5l1.1 0.8l1.1 1.2l1.1 0.6l1.1 0l1.2 0.2l1.1 1.3l1.1 2.2l1.1 2.2l1.1 1.2l1.1 0l1.1 -0.8l1.1 -0.8l1.2 -0.8l1.1 -0.9l1.1 -1.4l1.1 -1.5l1.1 -1.2l1.1 -0.3l1.1 0.3l1.1 0.4l1.2 0l1.1 -0.5l1.1 -0.9l1.1 -1l1.1 -0.9l1.1 -0.5l1.1 0.5l1.1 1.9l1.2 3.1l1.1 2.8l1.1 0.8l1.1 -1.8l1.1 -3.3l1.1 -2.4l1.1 0.6l1.1 3.6l1.2 4.3l1.1 2.2l1.1 -1.2l1.1 -3.6l1.1 -3.4l1.1 -1.6l1.1 0.5l1.1 1.3l1.2 0.7l1.1 -0.2l1.1 -0.5l1.1 0.1l1.1 0.6l1.1 0.6l1.1 0l1.1 -0.9l1.1 -1l1.2 -0.4l1.1 0.4l1.1 0.8l1.1 0.5l1.1 -0.1l1.1 -0.4l1.1 -0.1l1.1 0.4l1.2 0.5l1.1 0l1.1 -1l1.1 -1.5l1.1 -1.1l1.1 0.3l1.1 1.6l1.1 2.1l1.2 1.4l1.1 0.2l1.1 -0.5l1.1 -0.4l1.1 0.1l1.1 0.4l1.1 0l1.1 -0.8l1.2 -1.1l1.1 -0.7l1.1 -0.1l1.1 0.4l1.1 0.1l1.1 -0.5l1.1 -0.6l1.1 0.2l1.2 1.4l1.1 1.7l1.1 0.7l1.1 -1.3l1.1 -2.9l1.1 -2.6l1.1 -0.6l1.1 2.2l1.2 3.6l1.1 3l1.1 0.9l1.1 -1.5l1.1 -2.8l1.1 -2.5l1.1 -1.6l1.1 -0.8l1.2 0l1.1 0.6l1.1 1.8l1.1 2.7l1.1 2.7l1.1 1.4l1.1 -0.8l1.1 -2l1.1 -1.6l1.2 0.2" fill="none" stroke="#aa4660" stroke-width="1.15" stroke-linejoin="round"/>
<path d="M1012.9 103.4l1.1 -0.2l1.1 -1.2l1.1 -1l1.1 0.2l1.2 1.2l1.1 1l1.1 -0.4l1.1 -1.8l1.1 -2.1l1.1 -1.2l1.1 0l1.1 0.6l1.2 0.4l1.1 -0.4l1.1 -0.6l1.1 0l1.1 1.3l1.1 2.6l1.1 3.2l1.1 2.5l1.2 0.7l1.1 -1.4l1.1 -3l1.1 -2.9l1.1 -1.3l1.1 0.8l1.1 1.9l1.1 1.1l1.2 -0.7l1.1 -2.1l1.1 -1.7l1.1 0.5l1.1 2.8l1.1 3.4l1.1 1.8l1.1 -1.3l1.2 -3.8l1.1 -4.4l1.1 -2.9l1.1 -0.6l1.1 1.2l1.1 1.6l1.1 0.9l1.1 0.3l1.2 0.6l1.1 1.9l1.1 2.9l1.1 2.6l1.1 0.6l1.1 -1.5l1.1 -2.4l1.1 -1.3l1.1 0.5l1.2 1.5l1.1 0.8l1.1 -0.9l1.1 -2l1.1 -1.7l1.1 -0.8l1.1 0l1.1 0.1l1.2 0.1l1.1 0.5l1.1 1.3l1.1 1.5l1.1 0.8l1.1 -0.1l1.1 -0.5l1.1 -0.2l1.2 0.3l1.1 -0.2l1.1 -1.5l1.1 -2.3l1.1 -1.8l1.1 0.2l1.1 2.2l1.1 2.6l1.2 1.5l1.1 -0.4l1.1 -1.4l1.1 -1.1l1.1 -0.1l1.1 1l1.1 1.2l1.1 0.6l1.2 -0.4l1.1 -1.5l1.1 -2.1l1.1 -1.5l1.1 0.1l1.1 1.6l1.1 2l1.1 0.6l1.2 -1l1.1 -1.5l1.1 0.2l1.1 2.6l1.1 3.6l1.1 2.2l1.1 -1.2l1.1 -3.8l1.1 -4.1l1.2 -1.7l1.1 1l1.1 2.5l1.1 1.7l1.1 -0.3l1.1 -1.9l1.1 -1.8l1.1 -0.5l1.2 1.3l1.1 2.1l1.1 1.6l1.1 0.2l1.1 -1l1.1 -1.1l1.1 -0.2l1.1 0.5l1.2 0.3l1.1 -0.8l1.1 -1.9l1.1 -1.4l1.1 0.5l1.1 2.8l1.1 3.3l1.1 1.6l1.2 -1l1.1 -2.9l1.1 -2.5l1.1 -0.6l1.1 1.3l1.1 1.6l1.1 0.6l1.1 -0.8l1.2 -1.2l1.1 -0.5l1.1 0.7l1.1 1.3l1.1 1l1.1 0.1l1.1 -1.1l1.1 -1.6l1.2 -1.1l1.1 0.2l1.1 1.7l1.1 2.3l1.1 1.7l1.1 -0.2l1.1 -2l1.1 -2.8l1.1 -2.4l1.2 -1l1.1 0.4l1.1 1.1l1.1 1.3l1.1 1.1l1.1 0.9l1.1 0.6l1.1 0l1.2 -0.3l1.1 -0.1l1.1 0.7l1.1 1.5l1.1 1.8l1.1 0.9l1.1 -0.8l1.1 -2.2l1.2 -2.5l1.1 -1.7l1.1 -0.4l1.1 0.6l1.1 0.7l1.1 0l1.1 -0.8l1.1 -1l1.2 -0.8l1.1 0.1l1.1 1l1.1 1.5l1.1 1.4l1.1 0.6l1.1 -0.4l1.1 -1l1.2 -0.7l1.1 0.5l1.1 1.7l1.1 2.4l1.1 1.6l1.1 0.1l1.1 -1.5l1.1 -2.4l1.2 -2.1l1.1 -1.4l1.1 -0.6l1.1 -0.3l1.1 -0.1l1.1 0.1l1.1 0.9l1.1 1.5l1.1 1.8l1.2 1.4l1.1 0.6l1.1 -0.5l1.1 -1.2l1.1 -1.5l1.1 -1.3l1.1 -0.7l1.1 0.2l1.2 0.8l1.1 1.1l1.1 0.9l1.1 0.5l1.1 0l1.1 -0.4l1.1 -0.6l1.1 -0.8l1.2 -1l1.1 -0.7l1.1 0l1.1 1l1.1 1.6l1.1 1.3l1.1 0.2l1.1 -0.9l1.2 -1.2l1.1 -0.5l1.1 0.5l1.1 0.8l1.1 0l1.1 -1.4l1.1 -2l1.1 -1.3l1.2 0.5l1.1 2.1l1.1 2.6l1.1 1.9l1.1 0.7l1.1 -0.4l1.1 -0.7l1.1 -0.4l1.2 -0.1l1.1 -0.3l1.1 -1l1.1 -1.8l1.1 -2l1.1 -1.3l1.1 0.1l1.1 1.5l1.2 1.9l1.1 1l1.1 -0.7l1.1 -1.9l1.1 -1.2l1.1 0.8l1.1 3l1.1 3.5l1.1 1.9l1.2 -0.6l1.1 -2.4l1.1 -2.3l1.1 -0.9l1.1 0l1.1 -0.2l1.1 -1.3l1.1 -1.5l1.2 -0.1l1.1 2l1.1 3l1.1 1.8l1.1 -0.7l1.1 -2.7l1.1 -2.3l1.1 0l1.2 2.2l1.1 2.3l1.1 0.5l1.1 -1.7l1.1 -2.2l1.1 -0.5l1.1 1.8l1.1 2.7l1.2 1.5l1.1 -1l1.1 -2.6l1.1 -2.4l1.1 -0.6l1.1 1.1l1.1 1.5l1.1 0.6l1.2 -0.7l1.1 -1.8l1.1 -1.6l1.1 -0.8l1.1 0.4l1.1 1.5l1.1 2l1.1 1.8l1.2 1.1l1.1 -0.1l1.1 -0.8l1.1 -0.6l1.1 0.3l1.1 1.1l1.1 0.9l1.1 -0.5l1.1 -2.2l1.2 -2.8l1.1 -1.6l1.1 0.6l1.1 2.1l1.1 2l1.1 0.3l1.1 -1.4l1.1 -1.5l1.2 -0.2l1.1 1.7l1.1 2l1.1 0.6l1.1 -1.3l1.1 -2.2l1.1 -1.3l1.1 0.5l1.2 1.4l1.1 0.7l1.1 -0.5l1.1 -0.8l1.1 0.2l1.1 1.7l1.1 1.9l1.1 0.3l1.2 -1.9l1.1 -2.7l1.1 -1.6l1.1 0.8l1.1 2.3l1.1 1.9l1.1 -0.2l1.1 -1.8l1.2 -1.8l1.1 -0.3l1.1 1.2l1.1 1.5l1.1 0.4l1.1 -0.8l1.1 -1.5l1.1 -0.9l1.2 0.1l1.1 1.2l1.1 1.8l1.1 2.1l1.1 1.9l1.1 1.1l1.1 -0.2l1.1 -1.7l1.1 -2.4l1.2 -2.5l1.1 -2l1.1 -1.3l1.1 -0.8l1.1 -0.5l1.1 0.2l1.1 1.2l1.1 2.1l1.2 2.3l1.1 1.7l1.1 0.4l1.1 -0.6l1.1 -0.9l1.1 -0.4l1.1 0.3l1.1 0.8l1.2 0.5l1.1 -0.3l1.1 -1.3l1.1 -1.6l1.1 -0.7l1.1 0.8l1.1 2.1l1.1 2.1l1.2 0.4l1.1 -1.9l1.1 -3.2l1.1 -2.6l1.1 -0.3l1.1 1.9l1.1 3l1.1 2.1l1.2 0.5l1.1 -1.2l1.1 -1.7l1.1 -1.5l1.1 -0.7l1.1 0.2l1.1 0.8l1.1 1l1.2 0.5l1.1 -0.5l1.1 -1.2l1.1 -1l1.1 0.2l1.1 1.6l1.1 2.1l1.1 1.1l1.1 -0.4l1.2 -1.6l1.1 -1.5l1.1 -0.4l1.1 0.6l1.1 1.1l1.1 0.6l1.1 -0.1l1.1 -0.4l1.2 -0.5l1.1 -0.5l1.1 -0.4l1.1 -0.5l1.1 -0.3l1.1 -0.1l1.1 0.2l1.1 0.4l1.2 0.4l1.1 0.4l1.1 0.1l1.1 0l1.1 0.1l1.1 0.5l1.1 1.1l1.1 1.6l1.2 1.3l1.1 0l1.1 -1.6l1.1 -2.5l1.1 -2.2l1.1 -1.1l1.1 0.3l1.1 0.7l1.2 0.3l1.1 -0.3l1.1 -0.6l1.1 0l1.1 0.8l1.1 1.4l1.1 1l1.1 0.1l1.2 -0.8l1.1 -1l1.1 -0.2l1.1 1.1l1.1 1.9l1.1 1.8l1.1 0.3l1.1 -1.4l1.1 -2.3l1.2 -2l1.1 -0.8l1.1 0.5l1.1 1l1.1 0.8l1.1 0.5l1.1 0.5l1.1 0.6l1.2 0.5l1.1 0l1.1 -0.6l1.1 -0.9l1.1 -0.7l1.1 -0.1l1.1 0.3l1.1 0.1l1.2 -0.4l1.1 -0.6l1.1 0l1.1 0.9l1.1 1.5l1.1 0.8l1.1 -0.9l1.1 -2.6l1.2 -3.2l1.1 -1.7l1.1 1l1.1 3.7l1.1 4.4l1.1 2.7l1.1 -0.4l1.1 -2.9l1.2 -3.4l1.1 -1.7l1.1 0.8l1.1 2.5l1.1 2.5l1.1 1l1.1 -0.7l1.1 -1.8l1.2 -2.2l1.1 -1.7l1.1 -0.7l1.1 0.4l1.1 1.3l1.1 1.6l1.1 1.1l1.1 0.1l1.1 -0.6l1.2 -0.6l1.1 0l1.1 0.3l1.1 -0.3l1.1 -1.7l1.1 -2.5l1.1 -1.6l1.1 1.1l1.2 4.4l1.1 5.8l1.1 3.9l1.1 -0.4l1.1 -4.3l1.1 -5.5l1.1 -3.1l1.1 0.6l1.2 2.7l1.1 1.8l1.1 -1.1l1.1 -3.1l1.1 -2.5l1.1 0.1l1.1 2.4l1.1 2.8l1.2 1l1.1 -0.7l1.1 -1.1l1.1 0.1l1.1 1.4l1.1 1.4l1.1 0.3l1.1 -0.6l1.2 -0.6l1.1 0.3l1.1 0.8l1.1 0.2l1.1 -1l1.1 -1.9l1.1 -1.5l1.1 -0.3l1.2 0.6l1.1 1l1.1 0.8l1.1 0.7l1.1 0.7l1.1 0.2l1.1 -0.7l1.1 -1.8l1.1 -2l1.2 -0.9l1.1 1l1.1 2.6l1.1 2.3l1.1 0.5l1.1 -1.9l1.1 -2.8l1.1 -1.7l1.2 0.6l1.1 2.5l1.1 2.9l1.1 1.5l1.1 -0.1l1.1 -0.9l1.1 -0.4l1.1 0l1.2 -0.6l1.1 -2.2l1.1 -3.5l1.1 -2.6l1.1 0.4l1.1 3.9l1.1 5.1l1.1 3.2l1.2 -0.8l1.1 -4.1l1.1 -4.7l1.1 -2.7l1.1 0.3l1.1 2.6l1.1 3.2l1.1 2.2l1.2 0.6l1.1 -1l1.1 -1.7l1.1 -1.2l1.1 0.3l1.1 1.7l1.1 2.3l1.1 1.3l1.2 -0.3l1.1 -1.5l1.1 -1.5l1.1 -0.5l1.1 0.2l1.1 -0.1l1.1 -0.8l1.1 -1.4l1.1 -1.2l1.2 -0.5l1.1 0l1.1 0.3l1.1 0.4l1.1 0.7l1.1 0.6l1.1 0.2l1.1 -0.5l1.2 -0.5l1.1 0.3l1.1 1.7l1.1 2.4l1.1 1.9l1.1 0.2l1.1 -1.4l1.1 -1.8l1.2 -1l1.1 -0.2l1.1 0l1.1 -0.5l1.1 -0.5l1.1 0l1.1 1.1l1.1 1.6l1.2 0.9l1.1 -0.7l1.1 -2.2l1.1 -2.5l1.1 -1.4l1.1 0.6l1.1 1.9l1.1 2.3l1.2 1.2l1.1 -0.2l1.1 -1.2l1.1 -1l1.1 -0.1l1.1 0.6l1.1 0.4l1.1 -0.6l1.2 -1.3l1.1 -0.9l1.1 0.2l1.1 1.2l1.1 1l1.1 -0.1l1.1 -0.7l1.1 0l1.2 1.5l1.1 2.6l1.1 2.1l1.1 0l1.1 -2l1.1 -2.7l1.1 -1.7l1.1 -0.4l1.1 0.3l1.2 -0.2" fill="none" stroke="#72c9ed" stroke-width="1.15" stroke-linejoin="round"/>
<path d="M1012.9 110.2l1.1 0.2l1.1 0.1l1.1 0.1l1.1 0l1.2 0.2l1.1 0.2l1.1 0.1l1.1 -0.2l1.1 -0.5l1.1 -0.4l1.1 0.4l1.1 1.3l1.2 2.2l1.1 2.3l1.1 1.2l1.1 -0.3l1.1 -1.9l1.1 -2.5l1.1 -2l1.1 -0.5l1.2 1.2l1.1 2l1.1 2l1.1 1l1.1 -0.2l1.1 -1.1l1.1 -1.3l1.1 -1l1.2 -0.5l1.1 -0.2l1.1 0l1.1 0.2l1.1 0.2l1.1 0.1l1.1 0l1.1 -0.3l1.2 -0.6l1.1 -0.5l1.1 -0.1l1.1 0.3l1.1 0.5l1.1 0.1l1.1 -0.8l1.1 -1.4l1.2 -1.5l1.1 -0.7l1.1 0.6l1.1 1.8l1.1 2.2l1.1 1.5l1.1 0.3l1.1 -0.8l1.1 -1.3l1.2 -0.8l1.1 0l1.1 0.7l1.1 1l1.1 0.4l1.1 -0.5l1.1 -1.4l1.1 -1.8l1.2 -1.5l1.1 -0.5l1.1 0.7l1.1 2l1.1 2.8l1.1 2.7l1.1 1.8l1.1 0.4l1.2 -1.2l1.1 -2.4l1.1 -2.9l1.1 -2.4l1.1 -1.3l1.1 0.1l1.1 1.1l1.1 1.4l1.2 0.8l1.1 0l1.1 -0.5l1.1 -0.2l1.1 1l1.1 2.2l1.1 2.9l1.1 2.1l1.2 0.3l1.1 -1.8l1.1 -3.2l1.1 -3.3l1.1 -2.2l1.1 -0.6l1.1 0.8l1.1 1.5l1.2 1.7l1.1 1.6l1.1 1.5l1.1 1.4l1.1 0.8l1.1 0l1.1 -1.1l1.1 -1.9l1.1 -2l1.2 -1.4l1.1 -0.7l1.1 -0.1l1.1 -0.1l1.1 -0.4l1.1 -0.4l1.1 0.1l1.1 0.9l1.2 1.8l1.1 2.1l1.1 1.5l1.1 0.4l1.1 -0.8l1.1 -1.4l1.1 -1.1l1.1 -0.2l1.2 0.6l1.1 0.9l1.1 0.5l1.1 -0.5l1.1 -1.2l1.1 -1.5l1.1 -1.2l1.1 -0.7l1.2 -0.5l1.1 -0.7l1.1 -1.1l1.1 -1l1.1 -0.2l1.1 1.5l1.1 3.1l1.1 4l1.2 3.4l1.1 1.5l1.1 -0.9l1.1 -2.7l1.1 -3.5l1.1 -3l1.1 -1.7l1.1 -0.1l1.2 1.1l1.1 2l1.1 2.4l1.1 2.1l1.1 1.3l1.1 -0.1l1.1 -1.6l1.1 -2.5l1.1 -2.2l1.2 -0.8l1.1 1.1l1.1 2.7l1.1 2.8l1.1 1.7l1.1 -0.3l1.1 -1.9l1.1 -2.6l1.2 -2.1l1.1 -0.8l1.1 0l1.1 0.3l1.1 -0.3l1.1 -0.7l1.1 -0.8l1.1 0l1.2 1.1l1.1 2l1.1 2.2l1.1 1.6l1.1 0.3l1.1 -0.6l1.1 -1.1l1.1 -0.8l1.2 -0.1l1.1 0.7l1.1 1.1l1.1 0.9l1.1 0.1l1.1 -1l1.1 -1.9l1.1 -2.1l1.2 -1.4l1.1 -0.2l1.1 1.1l1.1 1.7l1.1 1.6l1.1 0.6l1.1 -0.4l1.1 -1l1.2 -0.7l1.1 -0.1l1.1 0.4l1.1 0.4l1.1 0l1.1 -0.4l1.1 -0.4l1.1 -0.2l1.1 0l1.2 -0.1l1.1 -0.6l1.1 -1.2l1.1 -1.1l1.1 -0.2l1.1 1.1l1.1 2.3l1.1 2.4l1.2 1.7l1.1 0.3l1.1 -0.8l1.1 -1.2l1.1 -0.9l1.1 -0.4l1.1 0l1.1 -0.3l1.2 -0.7l1.1 -0.7l1.1 -0.5l1.1 0.2l1.1 0.8l1.1 0.9l1.1 0.5l1.1 0.1l1.2 -0.2l1.1 -0.3l1.1 -0.3l1.1 -0.4l1.1 -0.8l1.1 -1.2l1.1 -1.1l1.1 -0.5l1.2 0.5l1.1 1.6l1.1 2.1l1.1 1.8l1.1 1l1.1 0l1.1 -1.1l1.1 -1.5l1.2 -1.6l1.1 -1.3l1.1 -0.5l1.1 0.3l1.1 0.8l1.1 0.9l1.1 0.6l1.1 0.1l1.2 -0.3l1.1 0l1.1 0.7l1.1 1.5l1.1 1.8l1.1 1.1l1.1 -0.5l1.1 -2.1l1.1 -2.8l1.2 -2.2l1.1 -0.3l1.1 1.7l1.1 2.6l1.1 2l1.1 0.2l1.1 -1.9l1.1 -2.8l1.2 -2.3l1.1 -0.6l1.1 1.2l1.1 2.1l1.1 1.8l1.1 0.6l1.1 -0.5l1.1 -0.7l1.2 -0.1l1.1 0.8l1.1 1.3l1.1 1.1l1.1 0.1l1.1 -0.8l1.1 -1.4l1.1 -1.5l1.2 -0.9l1.1 -0.4l1.1 0.1l1.1 0.5l1.1 0.7l1.1 0.7l1.1 0.5l1.1 -0.1l1.2 -0.8l1.1 -1.1l1.1 -0.8l1.1 0.1l1.1 1.1l1.1 1.6l1.1 1.1l1.1 0.1l1.2 -1l1.1 -1.3l1.1 -1.1l1.1 -0.5l1.1 0l1.1 -0.2l1.1 -0.6l1.1 -0.8l1.1 -0.6l1.2 0.2l1.1 0.9l1.1 1l1.1 0.8l1.1 0.3l1.1 0.2l1.1 0.7l1.1 1.3l1.2 1.4l1.1 0.8l1.1 -0.3l1.1 -1.3l1.1 -1.5l1.1 -0.6l1.1 0.8l1.1 2l1.2 2.2l1.1 1.2l1.1 -0.3l1.1 -1.7l1.1 -2.3l1.1 -1.9l1.1 -1.2l1.1 -0.3l1.2 -0.1l1.1 -0.2l1.1 -0.7l1.1 -0.7l1.1 -0.5l1.1 0.1l1.1 0.5l1.1 0.4l1.2 0.1l1.1 -0.3l1.1 0.1l1.1 1l1.1 2.1l1.1 2.7l1.1 2.3l1.1 0.9l1.2 -1l1.1 -2.5l1.1 -2.8l1.1 -2.3l1.1 -1l1.1 0.2l1.1 1.1l1.1 1.6l1.1 1.8l1.2 1.5l1.1 1l1.1 -0.1l1.1 -1l1.1 -1.7l1.1 -1.7l1.1 -0.9l1.1 0.1l1.2 1l1.1 1.2l1.1 0.7l1.1 0l1.1 -0.7l1.1 -0.9l1.1 -0.4l1.1 0.2l1.2 0.6l1.1 0.3l1.1 -0.4l1.1 -1l1.1 -1.2l1.1 -0.4l1.1 1l1.1 2.4l1.2 2.8l1.1 2.1l1.1 0.5l1.1 -1.2l1.1 -2.4l1.1 -2.5l1.1 -2l1.1 -1.4l1.2 -1.2l1.1 -1.3l1.1 -1.4l1.1 -0.8l1.1 0.5l1.1 2.1l1.1 3.1l1.1 3.1l1.2 2.2l1.1 0.8l1.1 -0.6l1.1 -1.3l1.1 -1.6l1.1 -1.3l1.1 -0.7l1.1 0.2l1.1 1.1l1.2 1.9l1.1 1.8l1.1 1.2l1.1 -0.1l1.1 -1.1l1.1 -1.8l1.1 -1.4l1.1 -0.7l1.2 0.2l1.1 0.5l1.1 0.2l1.1 -0.3l1.1 -1l1.1 -1.3l1.1 -1l1.1 -0.1l1.2 1.1l1.1 2.2l1.1 2.8l1.1 2.3l1.1 0.7l1.1 -1.3l1.1 -3l1.1 -3.7l1.2 -2.9l1.1 -1l1.1 0.9l1.1 2.4l1.1 2.6l1.1 2l1.1 1.1l1.1 0.3l1.2 -0.1l1.1 -0.4l1.1 -0.5l1.1 -0.4l1.1 -0.4l1.1 0l1.1 0.2l1.1 0.2l1.2 0l1.1 -0.5l1.1 -0.9l1.1 -0.9l1.1 -0.6l1.1 -0.1l1.1 0.2l1.1 -0.1l1.1 -0.6l1.2 -1.1l1.1 -0.9l1.1 -0.1l1.1 0.9l1.1 1.7l1.1 1.6l1.1 0.7l1.1 -0.4l1.2 -1.3l1.1 -1.5l1.1 -0.9l1.1 0.1l1.1 1.1l1.1 1.5l1.1 1.3l1.1 0.8l1.2 0.4l1.1 0.2l1.1 0.4l1.1 0.4l1.1 0.2l1.1 -0.1l1.1 -0.4l1.1 -0.5l1.2 0.1l1.1 0.8l1.1 1.5l1.1 1.2l1.1 0.2l1.1 -1.6l1.1 -3.2l1.1 -4.1l1.2 -3.5l1.1 -2l1.1 0l1.1 1.6l1.1 2.2l1.1 1.7l1.1 0.8l1.1 -0.1l1.2 -0.5l1.1 -0.1l1.1 0.7l1.1 1.4l1.1 1.8l1.1 1.8l1.1 1.4l1.1 0.6l1.1 -0.2l1.2 -0.9l1.1 -1.4l1.1 -1.5l1.1 -1.4l1.1 -0.9l1.1 -0.2l1.1 0.1l1.1 0.3l1.2 0.2l1.1 0l1.1 -0.2l1.1 -0.3l1.1 -0.2l1.1 -0.1l1.1 0.1l1.1 0.6l1.2 1.1l1.1 1.5l1.1 1.2l1.1 0.5l1.1 -0.7l1.1 -1.8l1.1 -2.3l1.1 -1.8l1.2 -0.6l1.1 0.8l1.1 1.7l1.1 1.7l1.1 1l1.1 -0.2l1.1 -1.1l1.1 -1.3l1.2 -1.2l1.1 -0.6l1.1 -0.1l1.1 0.5l1.1 0.9l1.1 1.2l1.1 1.1l1.1 0.9l1.2 0.2l1.1 -0.4l1.1 -0.7l1.1 -0.4l1.1 0.4l1.1 1.1l1.1 1.4l1.1 1.1l1.1 0.3l1.2 -0.6l1.1 -1.1l1.1 -1l1.1 -0.7l1.1 -0.2l1.1 -0.2l1.1 -0.3l1.1 -0.6l1.2 -0.5l1.1 0l1.1 0.7l1.1 1.4l1.1 1.6l1.1 1.1l1.1 0l1.1 -1.3l1.2 -2.3l1.1 -2.6l1.1 -2.2l1.1 -1.3l1.1 -0.1l1.1 0.9l1.1 1.3l1.1 1.4l1.2 1.3l1.1 1l1.1 1l1.1 0.8l1.1 0.4l1.1 -0.1l1.1 -0.6l1.1 -0.8l1.2 -0.6l1.1 -0.2l1.1 0.2l1.1 0.1l1.1 -0.3l1.1 -0.5l1.1 -0.2l1.1 0.7l1.2 1.4l1.1 1.7l1.1 0.8l1.1 -0.7l1.1 -2.1l1.1 -2.8l1.1 -2.2l1.1 -0.9l1.1 0.5l1.2 1.4l1.1 1.5l1.1 1.2l1.1 0.7l1.1 0.3l1.1 -0.3l1.1 -0.9l1.1 -1.4l1.2 -1.4l1.1 -0.6l1.1 0.6l1.1 1.9l1.1 2.5l1.1 2.1l1.1 1l1.1 -0.2l1.2 -1.1l1.1 -1.5l1.1 -1.5l1.1 -1.3l1.1 -1l1.1 -0.3l1.1 0.3l1.1 1l1.2 1.3l1.1 1.3l1.1 0.8l1.1 0.4l1.1 0.2l1.1 0.3l1.1 0.3l1.1 0l1.2 -0.8l1.1 -1.7l1.1 -2.1l1.1 -1.8l1.1 -1.1l1.1 0l1.1 0.8l1.1 1l1.2 0.9l1.1 0.5l1.1 0.3l1.1 0.6l1.1 0.7l1.1 0.9l1.1 0.7l1.1 0l1.2 -0.7l1.1 -1.3l1.1 -1.3l1.1 -1l1.1 -0.3l1.1 0.3l1.1 0.4l1.1 0.4l1.1 0.3l1.2 0.4" fill="none" stroke="#94be72" stroke-width="1.15" stroke-linejoin="round"/>
<path d="M1012.9 124.7l1.1 -1.2l1.1 -1.3l1.1 -0.7l1.1 0l1.2 0.4l1.1 0.4l1.1 0.4l1.1 0.4l1.1 0.4l1.1 0.2l1.1 -0.1l1.1 -0.7l1.2 -1l1.1 -1.4l1.1 -1.1l1.1 -0.5l1.1 0.4l1.1 1.4l1.1 2l1.1 2.1l1.2 1.2l1.1 -0.1l1.1 -1.5l1.1 -2.4l1.1 -2.1l1.1 -0.6l1.1 1.4l1.1 2.6l1.2 2.4l1.1 0.5l1.1 -1.5l1.1 -2.5l1.1 -1.5l1.1 0.5l1.1 1.8l1.1 1.4l1.2 -0.1l1.1 -1.5l1.1 -1.2l1.1 0.3l1.1 1.5l1.1 1.4l1.1 -0.1l1.1 -1.1l1.2 -0.9l1.1 0.5l1.1 1.3l1.1 0.7l1.1 -1l1.1 -1.9l1.1 -1.4l1.1 0.4l1.1 1.4l1.2 0.6l1.1 -1.2l1.1 -2l1.1 -1l1.1 1.5l1.1 3.4l1.1 2.9l1.1 0.6l1.2 -1.7l1.1 -2.5l1.1 -1.6l1.1 -0.5l1.1 -0.2l1.1 -1.1l1.1 -2.1l1.1 -2.1l1.2 -0.8l1.1 1.1l1.1 2.8l1.1 3.7l1.1 3.5l1.1 2.6l1.1 0.8l1.1 -1l1.2 -2.5l1.1 -2.7l1.1 -1.7l1.1 0l1.1 1.2l1.1 1.4l1.1 0.6l1.1 -0.6l1.2 -1.3l1.1 -0.9l1.1 -0.1l1.1 1l1.1 1.6l1.1 1.3l1.1 0.5l1.1 -0.3l1.2 -0.7l1.1 -0.7l1.1 -0.4l1.1 -0.7l1.1 -1.6l1.1 -2.6l1.1 -2.6l1.1 -1.4l1.1 1l1.2 3.1l1.1 3.9l1.1 2.7l1.1 0.7l1.1 -1.2l1.1 -1.9l1.1 -1.4l1.1 -0.2l1.2 1l1.1 1.1l1.1 0.5l1.1 -0.9l1.1 -1.8l1.1 -1.8l1.1 -0.4l1.1 1.6l1.2 2.7l1.1 2l1.1 -0.1l1.1 -2.3l1.1 -2.8l1.1 -1.1l1.1 1.5l1.1 3.2l1.2 2.8l1.1 0.4l1.1 -2.3l1.1 -3.7l1.1 -2.9l1.1 -1.1l1.1 0.8l1.1 1.7l1.2 1.5l1.1 0.5l1.1 -0.2l1.1 -0.4l1.1 0l1.1 0.8l1.1 1.4l1.1 1.3l1.2 0.8l1.1 -0.1l1.1 -0.7l1.1 -0.7l1.1 -0.2l1.1 0.4l1.1 0.8l1.1 0.9l1.1 0.5l1.2 0.1l1.1 -0.5l1.1 -1l1.1 -1.5l1.1 -1.8l1.1 -1.6l1.1 -0.9l1.1 -0.1l1.2 0.5l1.1 0.6l1.1 0.3l1.1 -0.1l1.1 -0.6l1.1 -0.4l1.1 -0.1l1.1 0.7l1.2 1.3l1.1 1.4l1.1 0.9l1.1 0l1.1 -1.1l1.1 -1.5l1.1 -0.8l1.1 0.5l1.2 1.5l1.1 1.5l1.1 0.7l1.1 -0.5l1.1 -0.6l1.1 0l1.1 1.2l1.1 1.5l1.2 0.9l1.1 -0.5l1.1 -1.4l1.1 -1.3l1.1 -0.5l1.1 0.2l1.1 0.3l1.1 -0.4l1.2 -1l1.1 -0.9l1.1 -0.4l1.1 0.4l1.1 0.5l1.1 0.1l1.1 -0.7l1.1 -1.1l1.1 -1.2l1.2 -0.9l1.1 -0.3l1.1 0.3l1.1 1.1l1.1 1.9l1.1 2.6l1.1 2.5l1.1 1.6l1.2 0.1l1.1 -1l1.1 -1.6l1.1 -1.3l1.1 -0.8l1.1 -0.8l1.1 -1.1l1.1 -1.3l1.2 -0.6l1.1 0.8l1.1 2.3l1.1 2.4l1.1 1l1.1 -1.1l1.1 -2.5l1.1 -2.2l1.2 -0.2l1.1 1.8l1.1 2.6l1.1 1.6l1.1 -0.7l1.1 -2.9l1.1 -3.7l1.1 -2.5l1.2 0.4l1.1 3.3l1.1 4.8l1.1 3.4l1.1 -0.1l1.1 -3.4l1.1 -4.5l1.1 -2.5l1.2 1.5l1.1 4.1l1.1 3.8l1.1 1l1.1 -2l1.1 -2.8l1.1 -1.5l1.1 0.5l1.2 1l1.1 -0.2l1.1 -1.7l1.1 -1.8l1.1 -0.5l1.1 1.2l1.1 1.8l1.1 0.9l1.1 -0.1l1.2 -0.2l1.1 0.8l1.1 1.7l1.1 1.3l1.1 -0.5l1.1 -2.3l1.1 -3l1.1 -1.9l1.2 0.3l1.1 2l1.1 2.5l1.1 1.8l1.1 0.5l1.1 -0.7l1.1 -1.1l1.1 -0.8l1.2 -0.3l1.1 0.2l1.1 0.4l1.1 -0.4l1.1 -1.4l1.1 -2.3l1.1 -2l1.1 -0.3l1.2 1.9l1.1 3.1l1.1 2.6l1.1 0.7l1.1 -1.1l1.1 -1.3l1.1 0.1l1.1 1.7l1.2 1.6l1.1 -0.3l1.1 -2.9l1.1 -3.7l1.1 -2.1l1.1 1l1.1 3.2l1.1 3.2l1.2 1.3l1.1 -0.6l1.1 -1.3l1.1 -0.8l1.1 -0.4l1.1 -1l1.1 -1.7l1.1 -1.5l1.1 0.4l1.2 2.5l1.1 3.4l1.1 1.9l1.1 -0.6l1.1 -2.2l1.1 -1.8l1.1 -0.3l1.1 0.8l1.2 0.1l1.1 -1.7l1.1 -2.4l1.1 -1.1l1.1 1.7l1.1 3.7l1.1 3.3l1.1 0.7l1.2 -2.2l1.1 -3.3l1.1 -1.8l1.1 0.8l1.1 2.5l1.1 1.5l1.1 -1.1l1.1 -3.1l1.2 -2.7l1.1 0l1.1 3l1.1 4.1l1.1 2.6l1.1 -0.3l1.1 -1.9l1.1 -1.3l1.2 0.3l1.1 1.3l1.1 0.2l1.1 -2l1.1 -3.4l1.1 -2.6l1.1 -0.1l1.1 2.1l1.2 2.2l1.1 0.8l1.1 -0.8l1.1 -1l1.1 0l1.1 1.2l1.1 1.5l1.1 0.6l1.1 -0.5l1.2 -1.1l1.1 -0.8l1.1 -0.2l1.1 0.3l1.1 0.5l1.1 0.5l1.1 0.6l1.1 0.7l1.2 0.6l1.1 0.4l1.1 0l1.1 -0.5l1.1 -0.9l1.1 -1.1l1.1 -0.9l1.1 -0.6l1.2 -0.1l1.1 0.1l1.1 0.2l1.1 0.4l1.1 0.6l1.1 0.6l1.1 0.1l1.1 -0.9l1.2 -1.9l1.1 -2.3l1.1 -1.7l1.1 0l1.1 1.4l1.1 2.4l1.1 2.5l1.1 2.2l1.2 2.1l1.1 1.6l1.1 0.8l1.1 -0.4l1.1 -1.5l1.1 -1.8l1.1 -1.3l1.1 -0.2l1.2 0.6l1.1 0.5l1.1 -0.4l1.1 -1.2l1.1 -1.4l1.1 -1.3l1.1 -0.9l1.1 -1.1l1.1 -1.9l1.2 -2.5l1.1 -2.1l1.1 -0.1l1.1 2.9l1.1 5.4l1.1 5.6l1.1 3.3l1.1 -0.1l1.2 -2.7l1.1 -3l1.1 -1.3l1.1 0.8l1.1 1.8l1.1 1.2l1.1 0.2l1.1 -0.7l1.2 -0.9l1.1 -1.1l1.1 -1.5l1.1 -1.9l1.1 -1.4l1.1 0.1l1.1 1.8l1.1 2.4l1.2 1.4l1.1 -0.7l1.1 -2.4l1.1 -2.4l1.1 -1l1.1 0.8l1.1 2l1.1 2l1.2 1.2l1.1 0.4l1.1 -0.1l1.1 -0.4l1.1 -0.3l1.1 -0.2l1.1 0.3l1.1 0.6l1.2 0.9l1.1 0.4l1.1 -0.8l1.1 -1.9l1.1 -2.5l1.1 -2.1l1.1 -0.5l1.1 1.3l1.1 2.6l1.2 2.6l1.1 1.4l1.1 -0.4l1.1 -1.7l1.1 -2.1l1.1 -1.7l1.1 -0.7l1.1 0.1l1.2 0.7l1.1 1.2l1.1 1.5l1.1 1.4l1.1 1.1l1.1 0.3l1.1 -0.3l1.1 -0.9l1.2 -1.1l1.1 -1l1.1 -0.6l1.1 -0.2l1.1 0.5l1.1 0.7l1.1 0.3l1.1 -0.5l1.2 -1.3l1.1 -1.2l1.1 0l1.1 1.1l1.1 1.5l1.1 0.7l1.1 -0.7l1.1 -1.2l1.2 -0.6l1.1 0.8l1.1 2l1.1 1.9l1.1 1.1l1.1 0.1l1.1 -0.4l1.1 -0.7l1.2 -1l1.1 -1.4l1.1 -1.5l1.1 -0.9l1.1 0.3l1.1 1.2l1.1 1.2l1.1 0.2l1.1 -1.3l1.2 -2.3l1.1 -1.9l1.1 -0.5l1.1 1.1l1.1 2.2l1.1 1.7l1.1 0.5l1.1 -0.8l1.2 -1l1.1 0l1.1 1.2l1.1 1.6l1.1 0.7l1.1 -0.5l1.1 -0.9l1.1 0.3l1.2 1.8l1.1 2.1l1.1 0.3l1.1 -2.4l1.1 -3.9l1.1 -3l1.1 -0.5l1.1 1.6l1.2 1.4l1.1 0l1.1 -1l1.1 0.2l1.1 2.5l1.1 3.7l1.1 2.3l1.1 -1.3l1.2 -4.3l1.1 -4.6l1.1 -2.1l1.1 1.4l1.1 3.5l1.1 2.9l1.1 0.9l1.1 -1.2l1.2 -1.7l1.1 -0.7l1.1 0.9l1.1 1.9l1.1 1.6l1.1 -0.2l1.1 -2.3l1.1 -3.3l1.1 -2.5l1.2 0l1.1 2.6l1.1 3.7l1.1 2.2l1.1 -0.6l1.1 -3l1.1 -3.4l1.1 -1.9l1.2 0.5l1.1 2.2l1.1 2.8l1.1 2.6l1.1 1.5l1.1 0.2l1.1 -1.3l1.1 -2.2l1.2 -2l1.1 -0.8l1.1 0.6l1.1 0.9l1.1 0.3l1.1 -0.7l1.1 -0.7l1.1 0.5l1.2 1.9l1.1 2.2l1.1 0.9l1.1 -1.3l1.1 -2.8l1.1 -2.9l1.1 -1.6l1.1 0.2l1.2 1.6l1.1 2.4l1.1 2.2l1.1 1.4l1.1 0.3l1.1 -0.7l1.1 -0.8l1.1 -0.3l1.2 -0.1l1.1 -0.6l1.1 -2.2l1.1 -3.3l1.1 -2.8l1.1 -0.5l1.1 2.6l1.1 4.6l1.1 4.1l1.2 1.7l1.1 -0.9l1.1 -2.3l1.1 -2.2l1.1 -1.2l1.1 -0.1l1.1 0.5l1.1 0.5l1.2 0.2l1.1 0l1.1 -0.3l1.1 -0.4l1.1 -0.2l1.1 0.4l1.1 1l1.1 1.2l1.2 0.8l1.1 -0.3l1.1 -1.4l1.1 -2l1.1 -2l1.1 -0.9l1.1 0.4l1.1 1.6l1.2 2.3l1.1 2.4l1.1 1.8l1.1 0.7l1.1 -0.6l1.1 -1.8l1.1 -2.3l1.1 -1.8l1.2 -0.5l1.1 0.8l1.1 1.2l1.1 0.4l1.1 -0.8l1.1 -1.6l1.1 -1.2l1.1 0.3l1.2 1.9l1.1 2.5l1.1 1.8l1.1 0.4l1.1 -1l1.1 -1.7l1.1 -1.3l1.1 -0.6l1.2 0l1.1 0.3l1.1 -0.2l1.1 -0.8l1.1 -0.9l1.1 0l1.1 1.4l1.1 2.4l1.1 2.2l1.2 0.4" fill="none" stroke="#9259a8" stroke-width="1.15" stroke-linejoin="round"/>
<path d="M1012.9 136.7l1.1 -1l1.1 -3.3l1.1 -3.4l1.1 -1.2l1.2 2l1.1 4.5l1.1 4.4l1.1 1.9l1.1 -1.2l1.1 -3.4l1.1 -3.6l1.1 -2.1l1.2 -0.5l1.1 0.4l1.1 0.5l1.1 0.6l1.1 1.2l1.1 2l1.1 2.1l1.1 0.5l1.2 -2.1l1.1 -4l1.1 -3.7l1.1 -0.6l1.1 3.6l1.1 5.6l1.1 4.2l1.1 0.2l1.2 -3.2l1.1 -3.8l1.1 -1.6l1.1 0.8l1.1 1.4l1.1 0.1l1.1 -1.3l1.1 -1.3l1.2 -0.3l1.1 0.5l1.1 0.2l1.1 -0.3l1.1 0.2l1.1 1.7l1.1 2.8l1.1 1.8l1.2 -0.9l1.1 -3.2l1.1 -3.4l1.1 -1.4l1.1 1l1.1 2.4l1.1 2.4l1.1 1.8l1.1 0.7l1.2 -0.6l1.1 -2.5l1.1 -3.8l1.1 -3.1l1.1 -0.1l1.1 3.4l1.1 4.9l1.1 3.2l1.2 -0.2l1.1 -2.8l1.1 -2.7l1.1 -0.8l1.1 0.7l1.1 0.8l1.1 -0.4l1.1 -1.6l1.2 -1.5l1.1 -0.2l1.1 1.2l1.1 1.7l1.1 1.2l1.1 0.2l1.1 -0.5l1.1 -0.5l1.2 0l1.1 0.9l1.1 1.3l1.1 1l1.1 0.2l1.1 -0.9l1.1 -2.1l1.1 -2.9l1.2 -2.5l1.1 -0.4l1.1 2.4l1.1 4.3l1.1 3.2l1.1 -0.4l1.1 -4l1.1 -4.5l1.2 -1.2l1.1 3l1.1 4.5l1.1 2.2l1.1 -1.5l1.1 -3.1l1.1 -1.3l1.1 1.9l1.1 3.1l1.2 1.1l1.1 -2.1l1.1 -3.4l1.1 -1.9l1.1 1l1.1 2.3l1.1 1.1l1.1 -1.3l1.2 -2.6l1.1 -2l1.1 -0.2l1.1 1.4l1.1 2.1l1.1 2l1.1 2.1l1.1 1.8l1.2 1.1l1.1 -0.3l1.1 -1.8l1.1 -2.4l1.1 -1.8l1.1 -0.7l1.1 -0.2l1.1 -0.2l1.2 -0.3l1.1 -0.1l1.1 0l1.1 -0.4l1.1 -1.1l1.1 -1.2l1.1 0.1l1.1 2.3l1.2 3.8l1.1 3.2l1.1 1.2l1.1 -0.7l1.1 -1.2l1.1 -0.9l1.1 -0.6l1.1 -1l1.2 -1.3l1.1 -0.8l1.1 0.1l1.1 0.5l1.1 -0.5l1.1 -1.9l1.1 -2.6l1.1 -1.6l1.1 0.6l1.2 2.4l1.1 3.1l1.1 2.7l1.1 1.6l1.1 0.3l1.1 -0.7l1.1 -1.1l1.1 -0.8l1.2 0.2l1.1 0.8l1.1 0.4l1.1 -1.1l1.1 -2.7l1.1 -2.9l1.1 -1.6l1.1 1l1.2 2.8l1.1 2.9l1.1 1l1.1 -1.1l1.1 -1.6l1.1 -0.2l1.1 1.8l1.1 2.2l1.2 0.3l1.1 -2.3l1.1 -3.5l1.1 -2l1.1 0.7l1.1 2.2l1.1 1.7l1.1 0.3l1.2 -0.3l1.1 -0.1l1.1 0.3l1.1 -0.4l1.1 -1.2l1.1 -0.8l1.1 0.9l1.1 2.3l1.2 1.9l1.1 -0.5l1.1 -2.3l1.1 -2l1.1 0.3l1.1 2.2l1.1 2.1l1.1 -0.3l1.1 -2.8l1.2 -3.7l1.1 -2.2l1.1 0.5l1.1 2.9l1.1 3.5l1.1 2.3l1.1 0.2l1.1 -1.6l1.2 -1.9l1.1 -0.9l1.1 0.4l1.1 1l1.1 0.7l1.1 0.2l1.1 -0.4l1.1 -1l1.2 -1.8l1.1 -1.6l1.1 -0.2l1.1 1.9l1.1 3.1l1.1 1.9l1.1 -0.7l1.1 -2.4l1.2 -1.9l1.1 0.3l1.1 1.8l1.1 1.4l1.1 0.1l1.1 -0.7l1.1 -0.6l1.1 -0.5l1.2 -1.4l1.1 -1.9l1.1 -0.5l1.1 2.4l1.1 4.3l1.1 3l1.1 -1.4l1.1 -5.2l1.2 -5.6l1.1 -2.3l1.1 1.9l1.1 4l1.1 3.7l1.1 2.3l1.1 1.2l1.1 0.6l1.2 -0.1l1.1 -0.8l1.1 -1.4l1.1 -1.3l1.1 -1.3l1.1 -1.8l1.1 -2.4l1.1 -2.2l1.1 -0.6l1.2 1.9l1.1 3.4l1.1 2.8l1.1 0.7l1.1 -1.3l1.1 -1.2l1.1 0.7l1.1 2.7l1.2 2.5l1.1 -0.3l1.1 -3.7l1.1 -4.6l1.1 -2.2l1.1 2l1.1 4.4l1.1 3l1.2 -1.1l1.1 -4.3l1.1 -3.6l1.1 0l1.1 3.4l1.1 4.1l1.1 1.4l1.1 -1.8l1.2 -3.3l1.1 -2.2l1.1 0.3l1.1 2.1l1.1 2.3l1.1 1.1l1.1 -0.1l1.1 -0.6l1.2 -0.4l1.1 -0.2l1.1 -1l1.1 -2l1.1 -2.5l1.1 -1l1.1 1.7l1.1 3.8l1.2 3.6l1.1 1.3l1.1 -1.2l1.1 -1.9l1.1 -0.9l1.1 -0.1l1.1 -1l1.1 -2.6l1.1 -2.9l1.2 -0.8l1.1 2.6l1.1 4.3l1.1 2.8l1.1 -0.6l1.1 -3.1l1.1 -2.6l1.1 0.1l1.2 3l1.1 3.7l1.1 2.2l1.1 -0.4l1.1 -2.8l1.1 -3.5l1.1 -2.4l1.1 -0.4l1.2 1.5l1.1 1.7l1.1 0.3l1.1 -1.3l1.1 -1.6l1.1 0.1l1.1 1.9l1.1 1.9l1.2 -0.1l1.1 -1.9l1.1 -1.4l1.1 1.2l1.1 3.3l1.1 2.1l1.1 -1.2l1.1 -3.5l1.2 -2l1.1 1.8l1.1 3.9l1.1 1.6l1.1 -2.9l1.1 -5.1l1.1 -2.6l1.1 2l1.2 4.1l1.1 2l1.1 -1.9l1.1 -3.2l1.1 -0.8l1.1 2l1.1 2.5l1.1 0.6l1.1 -0.7l1.2 0.1l1.1 1.8l1.1 1.2l1.1 -1.9l1.1 -4.3l1.1 -2.9l1.1 1.5l1.1 5l1.2 3.8l1.1 -0.9l1.1 -4.6l1.1 -4.2l1.1 -0.4l1.1 2.9l1.1 3l1.1 0.7l1.2 -1.2l1.1 -0.9l1.1 0.6l1.1 0.6l1.1 -1l1.1 -2.5l1.1 -1.8l1.1 1.6l1.2 4.8l1.1 5.1l1.1 1.4l1.1 -3.7l1.1 -6.2l1.1 -4.3l1.1 0.7l1.1 4.6l1.2 4.6l1.1 0.9l1.1 -3.6l1.1 -5.2l1.1 -3.2l1.1 0.5l1.1 3.1l1.1 3.4l1.2 2.5l1.1 1.2l1.1 0.2l1.1 -1.1l1.1 -2.7l1.1 -3l1.1 -1.1l1.1 2.2l1.1 4.1l1.2 2.9l1.1 -0.7l1.1 -3.8l1.1 -3.6l1.1 -0.5l1.1 2.5l1.1 2.9l1.1 0.9l1.2 -1.5l1.1 -2.3l1.1 -1.5l1.1 -0.3l1.1 0.3l1.1 0.5l1.1 0.4l1.1 0.7l1.2 0.6l1.1 0.2l1.1 0.1l1.1 0.5l1.1 1.1l1.1 0.9l1.1 -0.2l1.1 -1.1l1.2 -0.9l1.1 0.3l1.1 0.9l1.1 -0.4l1.1 -2.2l1.1 -2.8l1.1 -0.5l1.1 2.6l1.2 3.9l1.1 1.7l1.1 -2.1l1.1 -4.3l1.1 -2.8l1.1 0.7l1.1 3.5l1.1 3.6l1.2 1.6l1.1 -0.5l1.1 -1.7l1.1 -1.8l1.1 -1.6l1.1 -1l1.1 0.2l1.1 1.6l1.1 2.3l1.2 1.4l1.1 -0.4l1.1 -1.7l1.1 -1.6l1.1 -0.5l1.1 0.1l1.1 -0.4l1.1 -0.9l1.2 -0.7l1.1 0.7l1.1 2.2l1.1 2.4l1.1 1.4l1.1 0.1l1.1 -0.8l1.1 -1.2l1.2 -2l1.1 -2.8l1.1 -2.7l1.1 -0.6l1.1 3.1l1.1 5.8l1.1 5.3l1.1 1.1l1.2 -4l1.1 -6.8l1.1 -5.3l1.1 -0.8l1.1 3.5l1.1 5l1.1 3.2l1.1 0l1.2 -2.4l1.1 -2.6l1.1 -0.7l1.1 1.8l1.1 2.9l1.1 1.9l1.1 -0.6l1.1 -3l1.2 -3.6l1.1 -2l1.1 0.5l1.1 2l1.1 1.6l1.1 0l1.1 -1.3l1.1 -0.8l1.1 0.8l1.2 2.4l1.1 2.7l1.1 1.6l1.1 0.2l1.1 -0.9l1.1 -1.5l1.1 -1.5l1.1 -1.7l1.2 -1.7l1.1 -1.4l1.1 -0.6l1.1 0.4l1.1 1.3l1.1 1.8l1.1 1.4l1.1 0.1l1.2 -1.4l1.1 -2.3l1.1 -1.5l1.1 1l1.1 3.8l1.1 5.1l1.1 3.7l1.1 0.3l1.2 -3l1.1 -4.4l1.1 -3.5l1.1 -1.6l1.1 -0.7l1.1 -0.9l1.1 -1.4l1.1 -0.7l1.2 1.3l1.1 3.4l1.1 3.7l1.1 1.8l1.1 -1l1.1 -2.3l1.1 -1.2l1.1 1.4l1.2 3l1.1 2.5l1.1 0.1l1.1 -2.3l1.1 -3.6l1.1 -3.4l1.1 -1.8l1.1 0.1l1.1 2l1.2 3l1.1 2.3l1.1 0.4l1.1 -1.6l1.1 -2.6l1.1 -1.8l1.1 -0.4l1.1 0.5l1.2 0.9l1.1 1.2l1.1 2.1l1.1 3l1.1 2.5l1.1 0l1.1 -3l1.1 -4.4l1.2 -2.7l1.1 0.7l1.1 3.4l1.1 2.9l1.1 -0.4l1.1 -3.8l1.1 -4.7l1.1 -2.1l1.2 1.8l1.1 4.2l1.1 3.2l1.1 0.4l1.1 -1.8l1.1 -1.1l1.1 1.3l1.1 2.8l1.2 1.5l1.1 -1.2l1.1 -2.5l1.1 -1.2l1.1 1l1.1 1.6l1.1 -0.6l1.1 -3.4l1.2 -3.6l1.1 -0.7l1.1 2.9l1.1 3.8l1.1 1.8l1.1 -1.2l1.1 -2.6l1.1 -1.2l1.1 1l1.2 2.4l1.1 2l1.1 0.5l1.1 -1.2l1.1 -2.2l1.1 -2.1l1.1 -1.1l1.1 0.5l1.2 1.5l1.1 1.4l1.1 0.2l1.1 -0.5l1.1 -0.3l1.1 0.7l1.1 1.2l1.1 0.7l1.2 -0.2l1.1 -0.4l1.1 -0.1l1.1 0.1l1.1 -0.8l1.1 -2.1l1.1 -2.5l1.1 -1.1l1.2 1l1.1 1.9l1.1 0.8l1.1 -1l1.1 -1.5l1.1 0.8l1.1 4l1.1 5.5l1.2 3.4l1.1 -1.2l1.1 -5.1l1.1 -5.7l1.1 -3.1l1.1 0.4l1.1 2.2l1.1 1.5l1.2 -0.1l1.1 -1l1.1 -0.4l1.1 0.4l1.1 0.9l1.1 0.9l1.1 0.8l1.1 1.2l1.2 1.1l1.1 0l1.1 -1.3l1.1 -1.8l1.1 -0.8l1.1 0.5l1.1 1l1.1 0.1l1.1 -1.1l1.2 -1" fill="none" stroke="#eec564" stroke-width="1.15" stroke-linejoin="round"/>
<path d="M1012.9 142.8l1.1 -1.5l1.1 0.3l1.1 2.9l1.1 3.8l1.2 2l1.1 -1.5l1.1 -4.1l1.1 -4l1.1 -1.8l1.1 0l1.1 0.5l1.1 -0.2l1.2 -0.1l1.1 1.1l1.1 2.9l1.1 3.7l1.1 2.9l1.1 0.6l1.1 -1.8l1.1 -3.3l1.2 -3l1.1 -0.8l1.1 2l1.1 3.5l1.1 2.3l1.1 -0.9l1.1 -3.8l1.1 -3.9l1.2 -1.1l1.1 2.1l1.1 3.2l1.1 1.5l1.1 -1.2l1.1 -2.7l1.1 -2.2l1.1 -0.5l1.2 1.1l1.1 1.7l1.1 1.7l1.1 1.3l1.1 0.6l1.1 -0.5l1.1 -1.2l1.1 -0.7l1.2 0.9l1.1 2l1.1 1.7l1.1 -0.3l1.1 -2.7l1.1 -3.4l1.1 -2.1l1.1 0.2l1.1 1.9l1.2 2.2l1.1 1.3l1.1 0.3l1.1 -0.4l1.1 -0.8l1.1 -1l1.1 -1l1.1 -0.4l1.2 0.3l1.1 1l1.1 1.1l1.1 0.6l1.1 -0.2l1.1 -0.5l1.1 -0.1l1.1 0.5l1.2 0.9l1.1 0.5l1.1 -0.5l1.1 -1.6l1.1 -2l1.1 -1.5l1.1 -0.3l1.1 1.1l1.2 2.1l1.1 1.9l1.1 0.8l1.1 -0.6l1.1 -1.4l1.1 -0.7l1.1 0.7l1.1 1.7l1.2 1.1l1.1 -1.3l1.1 -3.3l1.1 -3.1l1.1 -0.4l1.1 2.8l1.1 4.1l1.1 2.5l1.2 -0.4l1.1 -2l1.1 -1.7l1.1 -0.3l1.1 0.3l1.1 -0.4l1.1 -1.3l1.1 -1l1.1 0.5l1.2 1.6l1.1 1.2l1.1 -0.2l1.1 -1.3l1.1 -0.7l1.1 0.7l1.1 1.4l1.1 0.5l1.2 -1l1.1 -1.4l1.1 -0.2l1.1 1.6l1.1 1.9l1.1 0.2l1.1 -1.9l1.1 -2.2l1.2 -0.3l1.1 2.3l1.1 3.2l1.1 1.4l1.1 -1.3l1.1 -3.2l1.1 -2.9l1.1 -1.2l1.2 0.4l1.1 1l1.1 1l1.1 0.9l1.1 0.7l1.1 0.2l1.1 -0.6l1.1 -1.1l1.2 -0.4l1.1 1.1l1.1 2.2l1.1 2.2l1.1 0.6l1.1 -1.3l1.1 -2.6l1.1 -2.5l1.2 -1l1.1 0.7l1.1 1.9l1.1 1.7l1.1 0.4l1.1 -0.8l1.1 -1.1l1.1 -0.5l1.1 0.2l1.2 -0.2l1.1 -1.2l1.1 -1.7l1.1 -0.2l1.1 2.3l1.1 4l1.1 3.3l1.1 0.4l1.2 -2.5l1.1 -3.6l1.1 -2.7l1.1 -0.9l1.1 0.2l1.1 0.7l1.1 0.8l1.1 1.3l1.2 1.9l1.1 1.6l1.1 0.6l1.1 -1l1.1 -2.4l1.1 -2.6l1.1 -1.5l1.1 0.4l1.2 2.2l1.1 2.7l1.1 1.7l1.1 -0.5l1.1 -2.3l1.1 -2.4l1.1 -0.9l1.1 1.5l1.2 2.6l1.1 1.8l1.1 -0.1l1.1 -1.9l1.1 -2l1.1 -0.9l1.1 0.5l1.1 1.1l1.2 0.8l1.1 0.6l1.1 0.8l1.1 1.1l1.1 0.4l1.1 -1.1l1.1 -2.7l1.1 -3l1.1 -1.7l1.2 0.2l1.1 1.5l1.1 1.6l1.1 1.4l1.1 1l1.1 0.7l1.1 -0.1l1.1 -0.8l1.2 -0.6l1.1 0.8l1.1 2.4l1.1 2.3l1.1 0.2l1.1 -2.4l1.1 -3.4l1.1 -2.1l1.2 0.1l1.1 1.1l1.1 0.6l1.1 -0.3l1.1 -0.1l1.1 0.8l1.1 1l1.1 0l1.2 -1.2l1.1 -1.2l1.1 0.2l1.1 1.3l1.1 0.8l1.1 -1.1l1.1 -2.3l1.1 -1.1l1.2 1.9l1.1 3.7l1.1 2.9l1.1 -0.1l1.1 -2.8l1.1 -3.1l1.1 -1.1l1.1 1.2l1.2 2.1l1.1 1.5l1.1 0.3l1.1 -0.5l1.1 -1l1.1 -1.3l1.1 -1.5l1.1 -0.8l1.2 0.6l1.1 1.7l1.1 1.5l1.1 -0.3l1.1 -2.1l1.1 -2.2l1.1 -0.1l1.1 2.7l1.1 3.7l1.2 2.1l1.1 -0.9l1.1 -3.3l1.1 -3.4l1.1 -1.7l1.1 0.5l1.1 1.9l1.1 1.9l1.2 1.1l1.1 0l1.1 -0.6l1.1 -0.7l1.1 -0.1l1.1 0.4l1.1 0.6l1.1 -0.2l1.2 -1l1.1 -0.7l1.1 1l1.1 2.6l1.1 2.3l1.1 -0.7l1.1 -3.9l1.1 -4.6l1.2 -1.4l1.1 3.3l1.1 5.3l1.1 2.5l1.1 -2.9l1.1 -6l1.1 -4.4l1.1 1l1.2 5.2l1.1 5.3l1.1 1.9l1.1 -1.4l1.1 -2.2l1.1 -0.7l1.1 0.4l1.1 -0.5l1.2 -2l1.1 -2.2l1.1 -0.4l1.1 2l1.1 3l1.1 1.4l1.1 -0.9l1.1 -2.2l1.1 -1.4l1.2 0.4l1.1 1.8l1.1 1.6l1.1 -0.1l1.1 -1.9l1.1 -2.8l1.1 -1.7l1.1 0.7l1.2 2.9l1.1 3.2l1.1 1.3l1.1 -1.3l1.1 -2.7l1.1 -1.8l1.1 0.1l1.1 1.7l1.2 1.8l1.1 1l1.1 0.1l1.1 -0.4l1.1 -0.9l1.1 -1.3l1.1 -1.3l1.1 -0.4l1.2 0.8l1.1 1.1l1.1 0l1.1 -1.6l1.1 -2.1l1.1 -0.8l1.1 1.2l1.1 2.3l1.2 1.7l1.1 0.3l1.1 -0.2l1.1 0.2l1.1 0.6l1.1 0.3l1.1 -0.7l1.1 -1.1l1.2 -0.5l1.1 0.6l1.1 1.4l1.1 1.2l1.1 0.4l1.1 -0.5l1.1 -1.5l1.1 -2.3l1.1 -2.9l1.2 -2.5l1.1 -0.7l1.1 1.7l1.1 3l1.1 2.8l1.1 1.1l1.1 -0.3l1.1 -0.9l1.2 -0.2l1.1 0.8l1.1 1.5l1.1 1.6l1.1 0.7l1.1 -0.8l1.1 -2.3l1.1 -3l1.2 -2.4l1.1 -0.5l1.1 1.2l1.1 2.2l1.1 2.1l1.1 1.3l1.1 0.1l1.1 -1.1l1.2 -2.1l1.1 -2.5l1.1 -1.4l1.1 0.6l1.1 2l1.1 2.1l1.1 0.8l1.1 -0.5l1.2 -0.3l1.1 0.6l1.1 1.4l1.1 0.7l1.1 -0.8l1.1 -1.6l1.1 -1.5l1.1 -0.3l1.2 0.5l1.1 0.7l1.1 0.9l1.1 0.8l1.1 0.5l1.1 -0.5l1.1 -2.1l1.1 -3l1.1 -2.4l1.2 -0.4l1.1 1.6l1.1 2.7l1.1 2.6l1.1 2l1.1 1.4l1.1 0.9l1.1 0.3l1.2 -0.8l1.1 -1.8l1.1 -2.2l1.1 -2.1l1.1 -1.5l1.1 -1l1.1 -0.3l1.1 0.7l1.2 1.7l1.1 2.7l1.1 2.7l1.1 1.1l1.1 -1.4l1.1 -3.4l1.1 -3.3l1.1 -1l1.2 2l1.1 3.5l1.1 2.5l1.1 -0.1l1.1 -2.2l1.1 -2.5l1.1 -1l1.1 0.9l1.2 1.8l1.1 1.3l1.1 0l1.1 -1.4l1.1 -1.6l1.1 -0.6l1.1 1.5l1.1 2.7l1.2 1.9l1.1 -0.7l1.1 -3.4l1.1 -4l1.1 -1.6l1.1 2l1.1 4.2l1.1 3.2l1.1 0.4l1.2 -1.9l1.1 -2.2l1.1 -1.2l1.1 -0.3l1.1 -0.2l1.1 -0.7l1.1 -0.5l1.1 0.3l1.2 1.4l1.1 1.8l1.1 1.3l1.1 0.6l1.1 -0.3l1.1 -0.6l1.1 -0.3l1.1 0.3l1.2 0.6l1.1 -0.2l1.1 -1.9l1.1 -3.5l1.1 -3.3l1.1 -0.8l1.1 2.7l1.1 4.8l1.2 4l1.1 1.2l1.1 -1.3l1.1 -1.7l1.1 -0.7l1.1 0l1.1 -0.8l1.1 -2.2l1.2 -2.3l1.1 -0.5l1.1 2l1.1 3l1.1 1.6l1.1 -0.9l1.1 -2.1l1.1 -1.4l1.2 0.5l1.1 1.6l1.1 1.3l1.1 0l1.1 -0.7l1.1 -0.7l1.1 -0.3l1.1 0.1l1.1 0.5l1.2 0.9l1.1 1.1l1.1 0l1.1 -1.8l1.1 -3.1l1.1 -2.3l1.1 0.4l1.1 2.9l1.2 3.5l1.1 1.8l1.1 -0.4l1.1 -1.2l1.1 -1l1.1 -1l1.1 -1.7l1.1 -2.3l1.2 -1.3l1.1 1.2l1.1 3.1l1.1 3l1.1 1.3l1.1 -0.5l1.1 -0.8l1.1 -0.1l1.2 0.1l1.1 -0.5l1.1 -1.2l1.1 -1l1.1 0.1l1.1 0.8l1.1 0.1l1.1 -1.3l1.2 -1.9l1.1 -1.1l1.1 0.5l1.1 1.6l1.1 1.6l1.1 1.1l1.1 0.3l1.1 -0.2l1.2 -0.6l1.1 -0.6l1.1 0.1l1.1 1.4l1.1 1.7l1.1 0.3l1.1 -1.8l1.1 -3l1.1 -1.8l1.2 1l1.1 2.7l1.1 1.9l1.1 -0.9l1.1 -2.8l1.1 -2l1.1 0.8l1.1 3.1l1.2 2.8l1.1 0.3l1.1 -2.2l1.1 -3.2l1.1 -2l1.1 0.2l1.1 1.9l1.1 2.8l1.2 2.4l1.1 0.8l1.1 -1.2l1.1 -2.8l1.1 -2.5l1.1 -0.5l1.1 1.7l1.1 2.3l1.2 0.5l1.1 -1.9l1.1 -2.7l1.1 -1.2l1.1 1.4l1.1 2.8l1.1 1.8l1.1 -0.4l1.2 -2l1.1 -1.6l1.1 0.3l1.1 1.9l1.1 2.3l1.1 1l1.1 -0.7l1.1 -1.8l1.2 -1.6l1.1 -0.4l1.1 0.7l1.1 1.1l1.1 0.3l1.1 -0.7l1.1 -1.1l1.1 -0.8l1.1 -0.1l1.2 0.2l1.1 0.2l1.1 0.5l1.1 0.8l1.1 1.2l1.1 0.8l1.1 -0.2l1.1 -1.2l1.2 -1.3l1.1 -0.8l1.1 -0.2l1.1 0l1.1 -0.3l1.1 -0.4l1.1 -0.4l1.1 0.2l1.2 1.1l1.1 2.2l1.1 3.1l1.1 2.6l1.1 0.2l1.1 -3l1.1 -4.8l1.1 -3.1l1.2 1.3l1.1 4.7l1.1 4.1l1.1 -0.6l1.1 -5.5l1.1 -6.4l1.1 -2.3l1.1 3.4l1.2 6l1.1 3.7l1.1 -1l1.1 -4.2l1.1 -3.6l1.1 -0.6l1.1 2.2l1.1 3l1.2 1.9l1.1 0.9l1.1 0.3l1.1 0l1.1 -0.7l1.1 -1.3l1.1 -1l1.1 0.5l1.2 2.3l1.1 2.2l1.1 -0.2l1.1 -3.6l1.1 -5.5l1.1 -4l1.1 0.3l1.1 4.1l1.1 4.5l1.2 1.2" fill="none" stroke="#e18764" stroke-width="1.15" stroke-linejoin="round"/>
<path d="M1012.9 154.2l1.1 -0.4l1.1 0.2l1.1 0.4l1.1 -0.1l1.2 -0.9l1.1 -1.8l1.1 -1.4l1.1 0l1.1 2l1.1 3.3l1.1 2.7l1.1 0.9l1.2 -1.1l1.1 -2.2l1.1 -1.9l1.1 -1l1.1 -0.3l1.1 -0.2l1.1 -0.4l1.1 0l1.2 1l1.1 2l1.1 2.3l1.1 1.5l1.1 0l1.1 -1.3l1.1 -1.5l1.1 -0.8l1.2 0.3l1.1 0.9l1.1 0.6l1.1 -0.3l1.1 -1.3l1.1 -1.5l1.1 -1.2l1.1 -0.5l1.2 0.1l1.1 0.1l1.1 -0.2l1.1 -0.5l1.1 -0.3l1.1 0.7l1.1 1.5l1.1 1.9l1.2 1.5l1.1 0.4l1.1 -0.7l1.1 -1.2l1.1 -1.1l1.1 -0.7l1.1 -0.4l1.1 -0.2l1.1 0l1.2 0.5l1.1 1.1l1.1 1.6l1.1 1.4l1.1 0.5l1.1 -0.5l1.1 -1.1l1.1 -1l1.2 -0.6l1.1 -0.4l1.1 -0.7l1.1 -1l1.1 -1.1l1.1 -0.3l1.1 0.5l1.1 1.2l1.2 1.2l1.1 0.8l1.1 0.6l1.1 0.6l1.1 0.6l1.1 0.1l1.1 -1l1.1 -2l1.2 -2.2l1.1 -0.8l1.1 1.6l1.1 3.2l1.1 3.2l1.1 1.1l1.1 -1.7l1.1 -3.8l1.2 -3.7l1.1 -2l1.1 0.1l1.1 1.5l1.1 1.6l1.1 1.1l1.1 0.6l1.1 0.4l1.2 0.5l1.1 0.3l1.1 -0.1l1.1 -0.4l1.1 -0.2l1.1 0.5l1.1 1.3l1.1 1.5l1.1 1.1l1.2 0.1l1.1 -0.7l1.1 -1.1l1.1 -1l1.1 -0.7l1.1 -0.8l1.1 -1l1.1 -1.3l1.2 -0.8l1.1 0.3l1.1 1.7l1.1 2.6l1.1 2.2l1.1 0.5l1.1 -1.9l1.1 -3.6l1.2 -3.5l1.1 -1.8l1.1 0.7l1.1 2.4l1.1 2.5l1.1 1.1l1.1 -0.6l1.1 -1.2l1.2 -0.6l1.1 0.8l1.1 1.4l1.1 1l1.1 -0.2l1.1 -1.1l1.1 -1.1l1.1 -0.1l1.2 1.2l1.1 2l1.1 1.9l1.1 1.2l1.1 0.4l1.1 -0.5l1.1 -1.1l1.1 -1.5l1.2 -1.6l1.1 -1.3l1.1 -0.6l1.1 -0.1l1.1 0.1l1.1 0l1.1 -0.2l1.1 -0.3l1.1 0.1l1.2 0.7l1.1 1.1l1.1 1.3l1.1 1.1l1.1 0.7l1.1 0.1l1.1 -0.6l1.1 -1l1.2 -1l1.1 -0.6l1.1 0.2l1.1 0.6l1.1 0.6l1.1 -0.1l1.1 -0.9l1.1 -1.1l1.2 -0.6l1.1 0.2l1.1 0.7l1.1 0.5l1.1 -0.1l1.1 -0.6l1.1 -0.6l1.1 -0.2l1.2 0.1l1.1 0.2l1.1 0.1l1.1 0.1l1.1 0.1l1.1 0.5l1.1 0.5l1.1 0.1l1.2 -0.4l1.1 -0.7l1.1 -0.5l1.1 -0.1l1.1 0.6l1.1 0.6l1.1 0.2l1.1 -0.2l1.2 -0.3l1.1 -0.2l1.1 0.3l1.1 0.6l1.1 0.5l1.1 0.4l1.1 0.1l1.1 0.1l1.1 0.4l1.2 0.4l1.1 0.4l1.1 0.2l1.1 -0.1l1.1 -0.4l1.1 -0.5l1.1 -0.5l1.1 -0.8l1.2 -1l1.1 -1.2l1.1 -0.9l1.1 -0.4l1.1 0.5l1.1 1.2l1.1 1.9l1.1 2l1.2 1.7l1.1 0.9l1.1 -0.1l1.1 -1.3l1.1 -2.1l1.1 -2.3l1.1 -2l1.1 -1.5l1.2 -0.8l1.1 -0.6l1.1 -0.2l1.1 0.1l1.1 0.7l1.1 1.4l1.1 1.7l1.1 1.5l1.2 1l1.1 0.2l1.1 -0.2l1.1 -0.3l1.1 0.3l1.1 0.8l1.1 1.2l1.1 1.4l1.2 1.1l1.1 0.4l1.1 -0.5l1.1 -1.3l1.1 -1.8l1.1 -1.4l1.1 -0.5l1.1 0.3l1.2 0.7l1.1 0l1.1 -1.4l1.1 -2.6l1.1 -2.9l1.1 -1.6l1.1 0.5l1.1 2.5l1.1 3.3l1.2 2.9l1.1 1.5l1.1 0.2l1.1 -0.5l1.1 -0.3l1.1 0l1.1 0.3l1.1 0.2l1.2 0.1l1.1 0.1l1.1 0.1l1.1 -0.1l1.1 -0.6l1.1 -1.2l1.1 -1.4l1.1 -1.1l1.2 -0.6l1.1 -0.2l1.1 -0.3l1.1 -0.6l1.1 -0.6l1.1 0.1l1.1 1l1.1 1.6l1.2 1.3l1.1 0.4l1.1 -0.3l1.1 -0.4l1.1 0.2l1.1 0.5l1.1 0l1.1 -1.2l1.2 -2.2l1.1 -2.2l1.1 -0.8l1.1 1.1l1.1 2.4l1.1 2.5l1.1 1.8l1.1 0.7l1.2 0.3l1.1 0.1l1.1 0.1l1.1 -0.2l1.1 -0.5l1.1 -0.7l1.1 -0.4l1.1 -0.2l1.1 -0.4l1.2 -1.2l1.1 -2.1l1.1 -2.3l1.1 -1.6l1.1 -0.1l1.1 1l1.1 1.5l1.1 1.1l1.2 0.4l1.1 0.1l1.1 0.3l1.1 0.8l1.1 1.1l1.1 1.4l1.1 1.2l1.1 1.1l1.2 0.9l1.1 0.1l1.1 -0.9l1.1 -1.8l1.1 -2.4l1.1 -1.8l1.1 -0.4l1.1 1.1l1.2 2l1.1 1.7l1.1 0.5l1.1 -0.9l1.1 -1.9l1.1 -1.6l1.1 -0.3l1.1 1.5l1.2 2.7l1.1 2.7l1.1 1.4l1.1 -0.8l1.1 -2.8l1.1 -3.6l1.1 -3l1.1 -1.7l1.2 -0.6l1.1 -0.2l1.1 -0.7l1.1 -0.9l1.1 -0.6l1.1 0.8l1.1 2.7l1.1 3.7l1.1 3.6l1.2 2l1.1 0.3l1.1 -0.8l1.1 -0.6l1.1 0.6l1.1 1.6l1.1 1.8l1.1 0.9l1.2 -0.8l1.1 -2.2l1.1 -2.8l1.1 -2.5l1.1 -2l1.1 -1.5l1.1 -1.4l1.1 -1l1.2 -0.4l1.1 0.8l1.1 1.6l1.1 1.9l1.1 1.7l1.1 1.1l1.1 0.8l1.1 0.5l1.2 0.4l1.1 -0.1l1.1 -0.4l1.1 -0.5l1.1 0.3l1.1 1.2l1.1 1.3l1.1 0.4l1.2 -1.7l1.1 -3.2l1.1 -3.3l1.1 -1.6l1.1 0.9l1.1 2.4l1.1 2.4l1.1 0.8l1.2 -0.7l1.1 -1.2l1.1 -0.9l1.1 0l1.1 0.5l1.1 0.4l1.1 0.2l1.1 0.3l1.1 0.5l1.2 0.1l1.1 -0.6l1.1 -1.3l1.1 -1.4l1.1 -0.3l1.1 1.3l1.1 2.2l1.1 1.9l1.2 0.6l1.1 -0.4l1.1 -0.5l1.1 0.4l1.1 1.2l1.1 0.7l1.1 -0.6l1.1 -2.2l1.2 -2.6l1.1 -1.6l1.1 -0.1l1.1 0.8l1.1 0.4l1.1 -0.8l1.1 -1.7l1.1 -1.4l1.2 -0.1l1.1 1.7l1.1 2.6l1.1 2.5l1.1 1.3l1.1 0.3l1.1 -0.3l1.1 -0.1l1.2 0.3l1.1 0.6l1.1 0.6l1.1 -0.1l1.1 -0.9l1.1 -1.5l1.1 -1.7l1.1 -1.5l1.2 -1.1l1.1 -0.6l1.1 -0.4l1.1 -0.3l1.1 -0.1l1.1 0.3l1.1 0.7l1.1 1l1.1 1l1.2 0.7l1.1 0.3l1.1 0.2l1.1 0.4l1.1 0.8l1.1 1l1.1 0.8l1.1 0.1l1.2 -0.5l1.1 -0.6l1.1 -0.1l1.1 0.9l1.1 1.6l1.1 1.6l1.1 0.6l1.1 -1l1.2 -2.1l1.1 -2.1l1.1 -1.1l1.1 0.2l1.1 0.7l1.1 0.2l1.1 -0.8l1.1 -1.5l1.2 -1.6l1.1 -0.8l1.1 0.1l1.1 0.3l1.1 0.2l1.1 -0.2l1.1 -0.1l1.1 0.5l1.2 1.3l1.1 1.8l1.1 1.3l1.1 0.1l1.1 -1.3l1.1 -2.4l1.1 -2.4l1.1 -1.6l1.2 0l1.1 1.2l1.1 1.6l1.1 0.7l1.1 -0.8l1.1 -1.8l1.1 -1.5l1.1 0.3l1.1 3l1.2 4.9l1.1 4.7l1.1 2.7l1.1 0l1.1 -1.8l1.1 -1.8l1.1 -0.4l1.1 1.2l1.2 1.5l1.1 -0.1l1.1 -2.5l1.1 -4.3l1.1 -4.2l1.1 -2.3l1.1 0.3l1.1 1.8l1.2 1.8l1.1 0.7l1.1 -0.3l1.1 0.1l1.1 1.4l1.1 2.7l1.1 2.2l1.1 0l1.2 -3l1.1 -4.7l1.1 -4l1.1 -1.3l1.1 1.8l1.1 3.2l1.1 2.5l1.1 0.5l1.2 -1.1l1.1 -1.1l1.1 -0.1l1.1 1.1l1.1 1.4l1.1 1.1l1.1 0.5l1.1 0.3l1.2 0l1.1 -0.6l1.1 -2l1.1 -3.1l1.1 -2.8l1.1 -0.9l1.1 2.1l1.1 4.1l1.1 4l1.2 2.1l1.1 -0.4l1.1 -1.5l1.1 -0.8l1.1 0.7l1.1 1.4l1.1 0.7l1.1 -0.9l1.2 -2.2l1.1 -2.1l1.1 -1.1l1.1 0l1.1 0.3l1.1 -0.2l1.1 -0.8l1.1 -0.8l1.2 -0.4l1.1 0.2l1.1 0.4l1.1 -0.1l1.1 -0.8l1.1 -1.2l1.1 -0.9l1.1 -0.2l1.2 1.1l1.1 2.3l1.1 3.5l1.1 3.7l1.1 2.8l1.1 0.7l1.1 -1.6l1.1 -2.8l1.2 -2.4l1.1 -0.7l1.1 0.8l1.1 0.8l1.1 -0.7l1.1 -2.3l1.1 -2.6l1.1 -1.1l1.2 1.4l1.1 3.3l1.1 3.3l1.1 1.3l1.1 -1.1l1.1 -2.6l1.1 -2.7l1.1 -1.9l1.1 -1l1.2 -0.6l1.1 -0.5l1.1 -0.1l1.1 0.9l1.1 1.8l1.1 2.3l1.1 1.7l1.1 0.3l1.2 -1.2l1.1 -1.8l1.1 -1.4l1.1 -0.2l1.1 1.1l1.1 1.6l1.1 1.3l1.1 0.4l1.2 0l1.1 -0.1l1.1 0.2l1.1 0.4l1.1 -0.2l1.1 -1.2l1.1 -2l1.1 -2.2l1.2 -1.3l1.1 0.1l1.1 1.3l1.1 1.8l1.1 1.5l1.1 1l1.1 0.3l1.1 0.2l1.2 0.1l1.1 0.3l1.1 0.2l1.1 0.3l1.1 0.2l1.1 0.3l1.1 0l1.1 -0.3l1.2 -1l1.1 -1.3l1.1 -1.4l1.1 -1l1.1 -0.1l1.1 0.9l1.1 1.6l1.1 1.8l1.2 1.2l1.1 0.1l1.1 -1l1.1 -1.4l1.1 -1.2l1.1 -0.4l1.1 0.4l1.1 0.6l1.1 0.3l1.2 -0.5" fill="none" stroke="#4893ca" stroke-width="1.15" stroke-linejoin="round"/>
<path d="M1012.9 167.4l1.1 -1.1l1.1 -1.6l1.1 -1.2l1.1 -0.4l1.2 0.6l1.1 1.1l1.1 1.2l1.1 0.8l1.1 0.4l1.1 0.3l1.1 0.5l1.1 0.4l1.2 -0.2l1.1 -1.1l1.1 -1.6l1.1 -1.3l1.1 -0.6l1.1 0.2l1.1 0.4l1.1 0l1.2 -0.3l1.1 -0.2l1.1 0.3l1.1 0.6l1.1 0.3l1.1 -0.2l1.1 -0.7l1.1 -0.1l1.2 1l1.1 1.8l1.1 1.6l1.1 0.6l1.1 -0.8l1.1 -1.3l1.1 -1l1.1 -0.1l1.2 0.4l1.1 0.2l1.1 -0.5l1.1 -0.9l1.1 -0.8l1.1 -0.3l1.1 -0.2l1.1 -0.5l1.2 -0.9l1.1 -1.4l1.1 -1.2l1.1 -0.3l1.1 0.8l1.1 2.1l1.1 3.1l1.1 3.3l1.1 2.7l1.2 1.6l1.1 -0.1l1.1 -1.3l1.1 -2l1.1 -1.8l1.1 -1.4l1.1 -1.1l1.1 -1l1.2 -0.9l1.1 -0.4l1.1 0.2l1.1 0.9l1.1 0.9l1.1 0.6l1.1 0.1l1.1 -0.4l1.2 -0.5l1.1 -0.6l1.1 -0.8l1.1 -0.9l1.1 -0.7l1.1 0l1.1 0.9l1.1 1.7l1.2 1.6l1.1 1.1l1.1 0.4l1.1 -0.1l1.1 -0.2l1.1 -0.2l1.1 -0.3l1.1 -0.9l1.2 -1.1l1.1 -0.9l1.1 0.1l1.1 1.2l1.1 1.9l1.1 1.4l1.1 0l1.1 -1.4l1.2 -2.2l1.1 -1.7l1.1 -0.6l1.1 0.6l1.1 1.3l1.1 0.9l1.1 0.1l1.1 -0.7l1.1 -1.1l1.2 -0.5l1.1 0.5l1.1 1.5l1.1 2.1l1.1 1.9l1.1 0.9l1.1 -0.5l1.1 -1.6l1.2 -2l1.1 -1.3l1.1 -0.3l1.1 0.5l1.1 0.3l1.1 -0.4l1.1 -1.3l1.1 -1.4l1.2 -0.4l1.1 0.9l1.1 2.1l1.1 2.1l1.1 1.2l1.1 -0.3l1.1 -1.1l1.1 -1.2l1.2 -0.5l1.1 0.2l1.1 0.5l1.1 0.4l1.1 0.2l1.1 0.2l1.1 0.3l1.1 0.3l1.2 0l1.1 -0.8l1.1 -1.4l1.1 -1.4l1.1 -0.9l1.1 0.1l1.1 0.9l1.1 0.8l1.2 0.2l1.1 -0.4l1.1 -0.6l1.1 0.1l1.1 1.1l1.1 1.9l1.1 1.7l1.1 0.9l1.1 -0.3l1.2 -0.9l1.1 -1l1.1 -0.5l1.1 -0.2l1.1 -0.3l1.1 -0.6l1.1 -1l1.1 -1l1.2 -0.6l1.1 -0.1l1.1 0.4l1.1 0.7l1.1 0.9l1.1 0.9l1.1 1l1.1 0.5l1.2 -0.1l1.1 -0.9l1.1 -1.2l1.1 -0.8l1.1 0.2l1.1 1.3l1.1 2l1.1 1.8l1.2 0.9l1.1 -0.5l1.1 -1.4l1.1 -1.8l1.1 -1.9l1.1 -1.7l1.1 -1.4l1.1 -1l1.2 -0.1l1.1 0.9l1.1 1.8l1.1 2l1.1 1.3l1.1 0l1.1 -1.1l1.1 -1.2l1.2 -0.4l1.1 0.6l1.1 1.1l1.1 0.9l1.1 0l1.1 -0.6l1.1 -0.3l1.1 0.6l1.1 1.5l1.2 1.5l1.1 0.6l1.1 -0.8l1.1 -1.7l1.1 -1.7l1.1 -0.9l1.1 0.2l1.1 0.7l1.2 0.4l1.1 -0.2l1.1 -0.8l1.1 -1l1.1 -0.6l1.1 0.1l1.1 0.7l1.1 1l1.2 0.9l1.1 0.4l1.1 -0.3l1.1 -0.8l1.1 -1.1l1.1 -1.2l1.1 -0.8l1.1 -0.1l1.2 0.7l1.1 1.4l1.1 1.8l1.1 1.7l1.1 1.3l1.1 0.4l1.1 -0.5l1.1 -1.2l1.2 -1.6l1.1 -1.7l1.1 -1.3l1.1 -0.5l1.1 0.3l1.1 0.8l1.1 1.1l1.1 1.2l1.2 1l1.1 0.7l1.1 0.1l1.1 -0.4l1.1 -0.7l1.1 -0.7l1.1 -0.2l1.1 0l1.2 -0.2l1.1 -1l1.1 -2l1.1 -2l1.1 -0.7l1.1 1.7l1.1 3.9l1.1 4.3l1.1 2.6l1.2 -0.5l1.1 -3.3l1.1 -4.2l1.1 -2.9l1.1 0l1.1 2.4l1.1 3.4l1.1 2.3l1.2 0l1.1 -2.3l1.1 -3.4l1.1 -2.9l1.1 -0.9l1.1 1.2l1.1 2.4l1.1 2.3l1.2 1.1l1.1 -0.3l1.1 -1.2l1.1 -1.1l1.1 -0.3l1.1 0.4l1.1 0.9l1.1 1.2l1.2 1.4l1.1 1.5l1.1 0.9l1.1 -0.4l1.1 -1.9l1.1 -2.9l1.1 -2.8l1.1 -1.5l1.2 0l1.1 0.9l1.1 0.7l1.1 0.2l1.1 0.1l1.1 0.6l1.1 1.3l1.1 1.5l1.2 0.8l1.1 -0.1l1.1 -0.7l1.1 -0.4l1.1 0.4l1.1 1.1l1.1 0.9l1.1 0.1l1.1 -0.9l1.2 -1.3l1.1 -1.1l1.1 -0.6l1.1 -0.1l1.1 0.2l1.1 0.4l1.1 0.5l1.1 0.2l1.2 -0.3l1.1 -0.9l1.1 -1.1l1.1 -0.4l1.1 0.9l1.1 1.8l1.1 2l1.1 1l1.2 -0.7l1.1 -1.9l1.1 -1.9l1.1 -0.8l1.1 0.7l1.1 1.5l1.1 1.2l1.1 0l1.2 -1.2l1.1 -1.6l1.1 -1.1l1.1 0.2l1.1 1.2l1.1 1.6l1.1 1.1l1.1 0.2l1.2 -0.5l1.1 -0.6l1.1 -0.4l1.1 0l1.1 0.1l1.1 -0.1l1.1 -0.1l1.1 -0.1l1.2 0.4l1.1 0.5l1.1 0.5l1.1 -0.3l1.1 -1l1.1 -1.3l1.1 -1l1.1 -0.1l1.1 0.6l1.2 0.9l1.1 0.2l1.1 -0.7l1.1 -1.1l1.1 -0.8l1.1 0.2l1.1 1.4l1.1 1.7l1.2 1.4l1.1 0.4l1.1 -0.1l1.1 0.2l1.1 1l1.1 1.5l1.1 1l1.1 -0.7l1.2 -2.7l1.1 -4l1.1 -3.5l1.1 -1.8l1.1 0.6l1.1 2.6l1.1 3.5l1.1 3.2l1.2 2l1.1 0.3l1.1 -1.5l1.1 -2.7l1.1 -3l1.1 -1.9l1.1 0l1.1 1.9l1.2 2.6l1.1 1.9l1.1 0.1l1.1 -1.3l1.1 -1.6l1.1 -0.7l1.1 0.7l1.1 1.5l1.2 1.3l1.1 0.2l1.1 -0.9l1.1 -1.5l1.1 -1.4l1.1 -0.7l1.1 0.3l1.1 1l1.1 1.2l1.2 0.8l1.1 0l1.1 -0.8l1.1 -0.9l1.1 -0.3l1.1 0.6l1.1 0.9l1.1 0.1l1.2 -1.6l1.1 -3.1l1.1 -2.9l1.1 -1l1.1 2.2l1.1 4.3l1.1 4.4l1.1 2.2l1.2 -0.9l1.1 -2.7l1.1 -2.5l1.1 -0.7l1.1 1.3l1.1 2l1.1 1.1l1.1 -0.5l1.2 -1.7l1.1 -1.5l1.1 -0.2l1.1 1.1l1.1 1.6l1.1 0.9l1.1 -0.4l1.1 -1.5l1.2 -1.8l1.1 -1.2l1.1 -0.4l1.1 0.4l1.1 0.6l1.1 0.6l1.1 0.6l1.1 0.6l1.2 0.6l1.1 0.2l1.1 -0.5l1.1 -1l1.1 -1.3l1.1 -0.6l1.1 0.4l1.1 1.5l1.1 1.8l1.2 1.2l1.1 0.1l1.1 -1.1l1.1 -1.5l1.1 -1.2l1.1 -0.4l1.1 0.2l1.1 0.5l1.2 0.3l1.1 0l1.1 -0.1l1.1 0.5l1.1 1.3l1.1 2l1.1 1.7l1.1 0.3l1.2 -1.7l1.1 -3.4l1.1 -3.9l1.1 -2.5l1.1 -0.1l1.1 2.4l1.1 3.4l1.1 2.8l1.2 1l1.1 -0.8l1.1 -1.6l1.1 -1.3l1.1 -0.4l1.1 0.2l1.1 0.1l1.1 -0.3l1.2 -0.8l1.1 -0.5l1.1 0l1.1 0.7l1.1 1.1l1.1 1.2l1.1 1.1l1.1 0.9l1.2 0.6l1.1 0l1.1 -1l1.1 -1.7l1.1 -1.8l1.1 -1.1l1.1 -0.1l1.1 1l1.1 1.5l1.2 1.5l1.1 1.2l1.1 0.8l1.1 0.5l1.1 -0.1l1.1 -1.1l1.1 -2.3l1.1 -3l1.2 -2.7l1.1 -1.4l1.1 0.3l1.1 1.6l1.1 2.1l1.1 1.8l1.1 1l1.1 0.7l1.2 0.6l1.1 0.9l1.1 0.8l1.1 0.4l1.1 -0.4l1.1 -1.2l1.1 -1.6l1.1 -1.5l1.2 -0.9l1.1 -0.3l1.1 0.2l1.1 0.4l1.1 0.3l1.1 -0.1l1.1 -0.3l1.1 -0.3l1.2 -0.2l1.1 0.2l1.1 0.3l1.1 0.2l1.1 0l1.1 0l1.1 0.2l1.1 0.7l1.2 1.3l1.1 1.8l1.1 1.6l1.1 1.2l1.1 0.2l1.1 -0.6l1.1 -1.2l1.1 -1.4l1.1 -1l1.2 -0.4l1.1 0.1l1.1 0.1l1.1 -0.2l1.1 -0.8l1.1 -1.2l1.1 -1.2l1.1 -0.7l1.2 -0.1l1.1 0.3l1.1 0.3l1.1 0.1l1.1 0l1.1 0.1l1.1 0.4l1.1 0.5l1.2 0.5l1.1 0.1l1.1 -0.1l1.1 0.1l1.1 0.4l1.1 0.6l1.1 0.5l1.1 0.1l1.2 -0.3l1.1 -0.1l1.1 0.3l1.1 0.7l1.1 0.4l1.1 -0.4l1.1 -1.1l1.1 -1.2l1.2 -0.5l1.1 0.7l1.1 1.6l1.1 1.7l1.1 0.8l1.1 -0.5l1.1 -1.5l1.1 -1.8l1.2 -1.2l1.1 -0.2l1.1 0.8l1.1 1.1l1.1 0.5l1.1 -0.6l1.1 -1.6l1.1 -1.7l1.1 -0.5l1.2 1.2l1.1 2.6l1.1 2.7l1.1 1.4l1.1 -0.4l1.1 -1.9l1.1 -2l1.1 -0.8l1.2 0.5l1.1 1.2l1.1 0.7l1.1 -0.6l1.1 -2l1.1 -2.4l1.1 -1.7l1.1 -0.1l1.2 1.7l1.1 2.9l1.1 2.7l1.1 1.4l1.1 -0.3l1.1 -1.6l1.1 -1.7l1.1 -0.8l1.2 0.5l1.1 1l1.1 0.7l1.1 -0.2l1.1 -0.7l1.1 -0.4l1.1 0.6l1.1 1.4l1.2 1.5l1.1 0.6l1.1 -0.8l1.1 -1.9l1.1 -2.1l1.1 -1.6l1.1 -0.7l1.1 0.2l1.2 0.6l1.1 0.7l1.1 0.5l1.1 0.2l1.1 -0.3l1.1 -0.5l1.1 -0.1l1.1 0.6l1.2 1.5l1.1 1.9l1.1 1.4l1.1 0.4l1.1 -0.9l1.1 -1.6l1.1 -1.3l1.1 -0.6l1.1 -0.1l1.2 -0.3" fill="none" stroke="#aa4660" stroke-width="1.15" stroke-linejoin="round"/>
<path d="M1012.9 174.1l1.1 -1.8l1.1 -0.9l1.1 0.6l1.1 1.8l1.2 2.1l1.1 1.3l1.1 0.2l1.1 -0.7l1.1 -0.8l1.1 -0.1l1.1 0.5l1.1 0.5l1.2 -0.2l1.1 -1l1.1 -1.3l1.1 -0.5l1.1 0.6l1.1 1.6l1.1 1.6l1.1 0.7l1.2 -0.8l1.1 -1.6l1.1 -1.5l1.1 -0.4l1.1 0.9l1.1 1.6l1.1 1.8l1.1 1.2l1.2 0.4l1.1 -0.3l1.1 -1.3l1.1 -2l1.1 -2.5l1.1 -2.3l1.1 -1.2l1.1 0.5l1.2 2.3l1.1 3.2l1.1 2.7l1.1 1.1l1.1 -0.6l1.1 -1.9l1.1 -2l1.1 -1.3l1.2 -0.4l1.1 0.3l1.1 0.6l1.1 0.6l1.1 0.8l1.1 1.1l1.1 1.2l1.1 1l1.1 -0.1l1.2 -1.4l1.1 -2.4l1.1 -2.2l1.1 -1.3l1.1 0.4l1.1 1.5l1.1 1.6l1.1 0.6l1.2 -0.9l1.1 -2l1.1 -1.9l1.1 -0.6l1.1 1.4l1.1 2.9l1.1 3.3l1.1 2.4l1.2 0.7l1.1 -1.1l1.1 -2l1.1 -2l1.1 -0.9l1.1 0.3l1.1 1.2l1.1 1.2l1.2 0.5l1.1 -0.8l1.1 -1.8l1.1 -2l1.1 -1.5l1.1 -0.3l1.1 0.9l1.1 1.5l1.2 1.4l1.1 0.8l1.1 0l1.1 -0.4l1.1 -0.4l1.1 -0.1l1.1 0.2l1.1 0.2l1.2 0.2l1.1 0.1l1.1 0.1l1.1 0l1.1 -0.2l1.1 -0.7l1.1 -1.1l1.1 -1.3l1.1 -0.9l1.2 -0.2l1.1 0.7l1.1 1.2l1.1 1.3l1.1 1.1l1.1 0.8l1.1 0.6l1.1 0.5l1.2 0.3l1.1 0l1.1 -0.6l1.1 -1l1.1 -0.9l1.1 -0.6l1.1 -0.1l1.1 0.2l1.2 0l1.1 -0.3l1.1 -0.6l1.1 -0.6l1.1 -0.2l1.1 0.3l1.1 0.4l1.1 0l1.2 -0.7l1.1 -1.2l1.1 -1.3l1.1 -0.4l1.1 0.6l1.1 1.6l1.1 1.8l1.1 1.1l1.2 0.1l1.1 -0.6l1.1 -0.6l1.1 0.2l1.1 1.4l1.1 2l1.1 1.7l1.1 0.7l1.2 -0.8l1.1 -1.7l1.1 -2l1.1 -1.4l1.1 -0.5l1.1 0.3l1.1 0.7l1.1 0.4l1.1 0.1l1.2 -0.3l1.1 -0.5l1.1 -0.5l1.1 -0.2l1.1 0.2l1.1 0.6l1.1 0.8l1.1 0.9l1.2 0.6l1.1 0l1.1 -0.6l1.1 -0.9l1.1 -0.9l1.1 -0.6l1.1 -0.4l1.1 -0.1l1.2 0.1l1.1 0.3l1.1 0.5l1.1 0.7l1.1 0.7l1.1 0.4l1.1 -0.2l1.1 -1l1.2 -1.4l1.1 -1.4l1.1 -0.8l1.1 0l1.1 0.7l1.1 1.1l1.1 1.1l1.1 0.7l1.2 0.3l1.1 0.2l1.1 0.1l1.1 0.2l1.1 -0.1l1.1 -0.5l1.1 -0.9l1.1 -1.1l1.2 -0.7l1.1 0.2l1.1 1.3l1.1 2l1.1 2.2l1.1 1.6l1.1 0.4l1.1 -0.6l1.1 -1.2l1.2 -1.2l1.1 -1l1.1 -1l1.1 -1.2l1.1 -1.6l1.1 -1.5l1.1 -0.7l1.1 0.5l1.2 1.7l1.1 2.1l1.1 1.4l1.1 0.2l1.1 -1l1.1 -1.5l1.1 -0.8l1.1 0.5l1.2 1.6l1.1 1.9l1.1 1.3l1.1 -0.1l1.1 -1.2l1.1 -1.7l1.1 -1.4l1.1 -0.6l1.2 0.3l1.1 0.8l1.1 0.9l1.1 0.3l1.1 -0.4l1.1 -1.1l1.1 -1.2l1.1 -0.7l1.2 0.3l1.1 1.1l1.1 1.5l1.1 1.1l1.1 0.5l1.1 -0.3l1.1 -0.3l1.1 0.1l1.2 0.6l1.1 0.8l1.1 0.3l1.1 -0.7l1.1 -1.4l1.1 -1.5l1.1 -0.8l1.1 0.3l1.2 1.1l1.1 1.3l1.1 0.8l1.1 -0.2l1.1 -1l1.1 -1.1l1.1 -0.8l1.1 -0.2l1.1 0.3l1.2 0.5l1.1 0.4l1.1 0.1l1.1 0.1l1.1 0.1l1.1 0.5l1.1 0.6l1.1 0.4l1.2 -0.3l1.1 -1.3l1.1 -2l1.1 -1.7l1.1 -0.6l1.1 0.9l1.1 2.1l1.1 2.3l1.2 1.3l1.1 -0.3l1.1 -1.5l1.1 -1.9l1.1 -1l1.1 0.1l1.1 0.9l1.1 1.1l1.2 0.6l1.1 -0.1l1.1 -0.4l1.1 -0.3l1.1 0.2l1.1 0.8l1.1 1l1.1 0.9l1.2 0.4l1.1 -0.2l1.1 -0.8l1.1 -1l1.1 -0.7l1.1 0l1.1 0.6l1.1 0.9l1.2 0.5l1.1 -0.6l1.1 -1.6l1.1 -2.4l1.1 -2l1.1 -1l1.1 0.5l1.1 1.8l1.1 2.4l1.2 2.2l1.1 1.3l1.1 0.3l1.1 -0.7l1.1 -1.4l1.1 -1.3l1.1 -0.9l1.1 0l1.2 0.7l1.1 0.9l1.1 0.7l1.1 -0.1l1.1 -0.6l1.1 -0.8l1.1 -0.4l1.1 0.2l1.2 0.7l1.1 0.6l1.1 0.1l1.1 -0.4l1.1 -0.6l1.1 -0.5l1.1 -0.2l1.1 0.2l1.2 0.3l1.1 0.3l1.1 0.2l1.1 0.3l1.1 0.3l1.1 0.3l1.1 -0.1l1.1 -0.3l1.2 -0.4l1.1 -0.3l1.1 0.1l1.1 0.3l1.1 0.4l1.1 0.2l1.1 0.1l1.1 0.1l1.2 0.3l1.1 0.5l1.1 0.7l1.1 0.6l1.1 0.3l1.1 -0.3l1.1 -1l1.1 -1.6l1.1 -2.1l1.2 -2.2l1.1 -1.8l1.1 -0.9l1.1 0.4l1.1 1.4l1.1 1.7l1.1 1.4l1.1 0.6l1.2 -0.1l1.1 -0.3l1.1 0l1.1 0.5l1.1 0.9l1.1 1l1.1 0.8l1.1 0.6l1.2 0.5l1.1 0.6l1.1 0.5l1.1 0.2l1.1 -0.2l1.1 -0.7l1.1 -1.1l1.1 -1.1l1.2 -1l1.1 -1l1.1 -0.7l1.1 -0.4l1.1 0.2l1.1 0.7l1.1 1.1l1.1 1l1.2 0.6l1.1 -0.1l1.1 -0.8l1.1 -1.1l1.1 -0.9l1.1 -0.5l1.1 -0.1l1.1 0.1l1.2 0.3l1.1 0.3l1.1 0.1l1.1 0l1.1 -0.2l1.1 -0.6l1.1 -0.7l1.1 -0.5l1.1 0.1l1.2 0.7l1.1 1.3l1.1 1.4l1.1 1.2l1.1 0.6l1.1 0.2l1.1 0l1.1 0.1l1.2 0l1.1 -0.4l1.1 -1l1.1 -1.4l1.1 -1.6l1.1 -1l1.1 -0.1l1.1 0.8l1.2 1.3l1.1 1.4l1.1 1.1l1.1 0.8l1.1 0.3l1.1 -0.2l1.1 -0.9l1.1 -1.5l1.2 -1.5l1.1 -1l1.1 0.4l1.1 1.6l1.1 2.4l1.1 1.9l1.1 0.4l1.1 -1.2l1.2 -2.4l1.1 -2.5l1.1 -1.6l1.1 -0.5l1.1 0.6l1.1 0.9l1.1 0.8l1.1 0.4l1.2 0.2l1.1 0.1l1.1 0.3l1.1 0.8l1.1 1.1l1.1 1.2l1.1 0.9l1.1 0.3l1.1 -0.3l1.2 -0.8l1.1 -1.1l1.1 -0.9l1.1 -0.8l1.1 -0.8l1.1 -0.7l1.1 -0.7l1.1 -0.4l1.2 0.2l1.1 0.7l1.1 0.9l1.1 0.5l1.1 -0.2l1.1 -0.6l1.1 -0.4l1.1 0.5l1.2 1.5l1.1 2l1.1 1.7l1.1 0.6l1.1 -0.8l1.1 -1.7l1.1 -1.6l1.1 -0.9l1.2 -0.1l1.1 0.6l1.1 0.5l1.1 0.2l1.1 -0.4l1.1 -0.7l1.1 -0.7l1.1 -0.4l1.2 0.1l1.1 0.3l1.1 0.3l1.1 0.1l1.1 -0.1l1.1 -0.2l1.1 -0.2l1.1 -0.2l1.2 -0.1l1.1 -0.4l1.1 -0.6l1.1 -0.8l1.1 -0.6l1.1 0.2l1.1 0.9l1.1 1.4l1.1 1.3l1.2 0.9l1.1 0.2l1.1 -0.2l1.1 0l1.1 0.3l1.1 0.7l1.1 0.8l1.1 0.4l1.2 -0.1l1.1 -0.6l1.1 -0.9l1.1 -1.2l1.1 -1.4l1.1 -1.2l1.1 -0.9l1.1 0.2l1.2 1.3l1.1 2.5l1.1 2.7l1.1 2.2l1.1 0.6l1.1 -1l1.1 -2.1l1.1 -2.2l1.2 -1.5l1.1 -0.5l1.1 0.3l1.1 0.4l1.1 -0.1l1.1 -0.8l1.1 -1.2l1.1 -1.1l1.2 -0.5l1.1 0.2l1.1 0.6l1.1 0.8l1.1 0.6l1.1 0.4l1.1 0.3l1.1 0.5l1.2 0.8l1.1 0.8l1.1 0.5l1.1 -0.1l1.1 -0.5l1.1 -0.8l1.1 -0.5l1.1 -0.2l1.1 0.2l1.2 0.1l1.1 0.2l1.1 0.2l1.1 0.6l1.1 1.2l1.1 1.4l1.1 1.1l1.1 0.2l1.2 -1.1l1.1 -1.9l1.1 -2l1.1 -1.5l1.1 -0.4l1.1 0.2l1.1 0.4l1.1 0.3l1.2 0l1.1 0.2l1.1 0.6l1.1 1l1.1 0.9l1.1 0.2l1.1 -1l1.1 -1.8l1.2 -2l1.1 -1.2l1.1 0.2l1.1 1.5l1.1 2.1l1.1 1.9l1.1 0.9l1.1 0l1.2 -0.5l1.1 -0.5l1.1 -0.3l1.1 0l1.1 -0.2l1.1 -0.6l1.1 -0.9l1.1 -0.6l1.2 0l1.1 0.8l1.1 1.4l1.1 1.4l1.1 1l1.1 0.5l1.1 0.1l1.1 0l1.1 0l1.2 -0.3l1.1 -0.7l1.1 -1.5l1.1 -1.8l1.1 -1.5l1.1 -0.8l1.1 0.3l1.1 1l1.2 0.9l1.1 0.2l1.1 -0.8l1.1 -1.6l1.1 -1.7l1.1 -1.1l1.1 -0.2l1.1 0.7l1.2 1.3l1.1 1.5l1.1 1.4l1.1 0.9l1.1 0.4l1.1 0.2l1.1 0.1l1.1 0.3l1.2 0.5l1.1 0.7l1.1 0.7l1.1 0.3l1.1 -0.1l1.1 -0.5l1.1 -0.5l1.1 -0.3l1.2 0.1l1.1 0.4l1.1 0.4l1.1 -0.1l1.1 -0.9l1.1 -1.5l1.1 -1.4l1.1 -0.7l1.2 0.3l1.1 1.1l1.1 1.1l1.1 0.4l1.1 -0.8l1.1 -1.8l1.1 -2.1l1.1 -1.4l1.2 0l1.1 1.5l1.1 2.3l1.1 2.5l1.1 1.8l1.1 0.6l1.1 -0.5l1.1 -1.4l1.1 -1.6l1.2 -1.4" fill="none" stroke="#72c9ed" stroke-width="1.15" stroke-linejoin="round"/>
<path d="M1012.9 186.1l1.1 0.1l1.1 -0.4l1.1 -0.8l1.1 -0.8l1.2 -0.7l1.1 -0.3l1.1 0l1.1 0.4l1.1 0.9l1.1 1.4l1.1 1.7l1.1 1.8l1.2 1.2l1.1 0.3l1.1 -0.8l1.1 -1.4l1.1 -1.5l1.1 -0.8l1.1 0l1.1 0.9l1.2 1.1l1.1 1l1.1 0.4l1.1 -0.5l1.1 -1.1l1.1 -1.2l1.1 -0.8l1.1 -0.3l1.2 0.4l1.1 0.5l1.1 0.1l1.1 -0.7l1.1 -1.6l1.1 -1.9l1.1 -1.4l1.1 -0.3l1.2 1l1.1 2l1.1 2.2l1.1 1.7l1.1 0.6l1.1 -0.3l1.1 -1.1l1.1 -1.1l1.2 -0.7l1.1 0l1.1 0.7l1.1 1l1.1 1l1.1 0.7l1.1 0.3l1.1 0.2l1.1 0.3l1.2 0.4l1.1 0.3l1.1 0l1.1 -0.7l1.1 -1.2l1.1 -1.5l1.1 -1.4l1.1 -0.9l1.2 -0.5l1.1 -0.3l1.1 -0.5l1.1 -0.5l1.1 -0.4l1.1 0.1l1.1 0.8l1.1 1.2l1.2 1.1l1.1 0.6l1.1 0.2l1.1 0l1.1 0.1l1.1 0.2l1.1 0.3l1.1 0.1l1.2 -0.2l1.1 -0.2l1.1 0.3l1.1 0.9l1.1 1.3l1.1 0.9l1.1 -0.2l1.1 -1.4l1.2 -2.1l1.1 -1.7l1.1 -0.5l1.1 0.6l1.1 1.2l1.1 0.9l1.1 0.1l1.1 -0.6l1.2 -0.9l1.1 -0.5l1.1 -0.1l1.1 0.1l1.1 0.2l1.1 0.2l1.1 0.4l1.1 1l1.1 1.4l1.2 1.5l1.1 0.9l1.1 -0.3l1.1 -1.2l1.1 -1.7l1.1 -1.4l1.1 -0.6l1.1 0.3l1.2 0.6l1.1 0.8l1.1 0.6l1.1 0.5l1.1 0.5l1.1 0.2l1.1 -0.4l1.1 -1.2l1.2 -1.9l1.1 -1.8l1.1 -1.3l1.1 -0.2l1.1 0.8l1.1 1.4l1.1 1.4l1.1 1l1.2 0.6l1.1 0.3l1.1 0.2l1.1 0.3l1.1 0.2l1.1 0l1.1 -0.2l1.1 -0.3l1.2 -0.2l1.1 -0.1l1.1 0l1.1 0l1.1 -0.2l1.1 -0.4l1.1 -0.6l1.1 -0.7l1.2 -0.4l1.1 0l1.1 0.4l1.1 0.8l1.1 0.8l1.1 0.6l1.1 0.1l1.1 -0.6l1.1 -0.8l1.2 -0.7l1.1 -0.2l1.1 0.5l1.1 0.9l1.1 0.9l1.1 0.4l1.1 -0.2l1.1 -0.7l1.2 -0.9l1.1 -0.9l1.1 -0.8l1.1 -0.7l1.1 -0.6l1.1 -0.3l1.1 0.1l1.1 0.7l1.2 1.2l1.1 1.1l1.1 0.5l1.1 -0.2l1.1 -0.7l1.1 -0.6l1.1 0.2l1.1 1.3l1.2 1.9l1.1 1.7l1.1 0.9l1.1 -0.3l1.1 -1.5l1.1 -1.9l1.1 -1.6l1.1 -1.2l1.2 -0.6l1.1 -0.1l1.1 0l1.1 0.4l1.1 0.7l1.1 1l1.1 1.1l1.1 0.9l1.2 0.3l1.1 -0.1l1.1 -0.5l1.1 -0.4l1.1 0l1.1 0.2l1.1 0.2l1.1 -0.2l1.1 -0.6l1.2 -1l1.1 -0.9l1.1 -0.6l1.1 0l1.1 0.4l1.1 0.6l1.1 0.5l1.1 0.2l1.2 0l1.1 0.1l1.1 0.4l1.1 0.6l1.1 0.8l1.1 0.8l1.1 0.2l1.1 -0.3l1.2 -1.1l1.1 -1.4l1.1 -1.5l1.1 -1.2l1.1 -0.8l1.1 -0.2l1.1 0.4l1.1 0.8l1.2 1.1l1.1 1.2l1.1 1.2l1.1 1l1.1 0.6l1.1 0.2l1.1 0l1.1 -0.1l1.2 -0.1l1.1 -0.2l1.1 -0.3l1.1 -0.7l1.1 -1l1.1 -1l1.1 -0.5l1.1 0.1l1.2 0.5l1.1 0.4l1.1 -0.1l1.1 -0.8l1.1 -1.2l1.1 -0.8l1.1 0.1l1.1 1.1l1.2 1.5l1.1 1.1l1.1 0.3l1.1 -0.5l1.1 -0.6l1.1 -0.1l1.1 0.8l1.1 1.4l1.1 1.3l1.2 0.5l1.1 -0.5l1.1 -1.2l1.1 -1.2l1.1 -1l1.1 -0.5l1.1 -0.5l1.1 -0.4l1.2 -0.3l1.1 -0.1l1.1 0.3l1.1 0.6l1.1 0.9l1.1 0.9l1.1 0.9l1.1 0.9l1.2 0.8l1.1 0.7l1.1 0.1l1.1 -0.5l1.1 -1.1l1.1 -1.6l1.1 -1.6l1.1 -1.5l1.2 -1l1.1 -0.7l1.1 -0.1l1.1 0.2l1.1 0.6l1.1 0.7l1.1 0.8l1.1 0.7l1.2 0.9l1.1 1l1.1 1l1.1 0.9l1.1 0.1l1.1 -0.9l1.1 -1.5l1.1 -1.6l1.2 -1l1.1 0.2l1.1 1l1.1 1.3l1.1 0.8l1.1 -0.1l1.1 -0.9l1.1 -1.3l1.1 -1.3l1.2 -1l1.1 -0.7l1.1 0l1.1 0.8l1.1 1.6l1.1 2.2l1.1 2.1l1.1 1.3l1.2 -0.1l1.1 -1.3l1.1 -1.6l1.1 -0.9l1.1 0.3l1.1 1.2l1.1 1.3l1.1 0.1l1.2 -1.4l1.1 -2.5l1.1 -2.5l1.1 -1.4l1.1 0.5l1.1 1.8l1.1 2.3l1.1 1.6l1.2 0.4l1.1 -0.4l1.1 -0.6l1.1 -0.1l1.1 0.6l1.1 0.7l1.1 0.4l1.1 -0.4l1.2 -1.1l1.1 -1.1l1.1 -0.7l1.1 0l1.1 0.6l1.1 0.9l1.1 0.8l1.1 0.3l1.2 -0.2l1.1 -0.6l1.1 -0.9l1.1 -0.8l1.1 -0.4l1.1 0.4l1.1 1l1.1 1.4l1.1 1.3l1.2 0.9l1.1 0.1l1.1 -0.5l1.1 -0.9l1.1 -1.3l1.1 -1.6l1.1 -1.7l1.1 -1.7l1.2 -1.3l1.1 -0.5l1.1 0.3l1.1 0.8l1.1 1.1l1.1 1.1l1.1 0.9l1.1 1l1.2 1.1l1.1 1.3l1.1 1l1.1 0.8l1.1 0.2l1.1 -0.2l1.1 -0.6l1.1 -0.9l1.2 -1.2l1.1 -1.2l1.1 -1.1l1.1 -0.8l1.1 -0.3l1.1 0l1.1 0l1.1 -0.3l1.2 -0.5l1.1 -0.3l1.1 0.3l1.1 1.2l1.1 1.8l1.1 1.7l1.1 1.1l1.1 0.2l1.2 -0.6l1.1 -0.8l1.1 -0.4l1.1 0.1l1.1 0.6l1.1 0.7l1.1 0.4l1.1 -0.2l1.1 -0.7l1.2 -1l1.1 -0.8l1.1 -0.3l1.1 0.2l1.1 0.5l1.1 0.3l1.1 -0.2l1.1 -0.9l1.2 -1.4l1.1 -1.2l1.1 -0.7l1.1 0.2l1.1 1l1.1 1.6l1.1 1.9l1.1 1.9l1.2 1.6l1.1 0.7l1.1 -0.6l1.1 -2l1.1 -3.1l1.1 -3.1l1.1 -2.1l1.1 -0.3l1.2 1.2l1.1 1.9l1.1 1.4l1.1 0.6l1.1 -0.2l1.1 -0.1l1.1 0.5l1.1 1.3l1.2 1.6l1.1 1.2l1.1 0.1l1.1 -0.9l1.1 -1.5l1.1 -1.6l1.1 -1.2l1.1 -0.8l1.2 -0.3l1.1 0.1l1.1 0.6l1.1 0.9l1.1 1.2l1.1 1.2l1.1 0.8l1.1 0.5l1.1 0.2l1.2 -0.1l1.1 -0.3l1.1 -0.5l1.1 -0.7l1.1 -0.9l1.1 -0.8l1.1 -0.4l1.1 0.2l1.2 0.6l1.1 0.7l1.1 0.3l1.1 -0.3l1.1 -1l1.1 -1.3l1.1 -1l1.1 -0.2l1.2 0.5l1.1 1.1l1.1 1.2l1.1 0.8l1.1 0.3l1.1 -0.2l1.1 -0.6l1.1 -0.9l1.2 -1l1.1 -0.9l1.1 -0.7l1.1 0.1l1.1 1l1.1 1.9l1.1 2l1.1 1.4l1.2 0.3l1.1 -0.8l1.1 -1.4l1.1 -1.2l1.1 -0.4l1.1 0.2l1.1 0.4l1.1 0.1l1.2 -0.4l1.1 -0.6l1.1 -0.2l1.1 0.2l1.1 0.6l1.1 0.5l1.1 0.3l1.1 0.2l1.1 0.6l1.2 1.1l1.1 1.4l1.1 0.9l1.1 -0.1l1.1 -1.5l1.1 -2.1l1.1 -1.9l1.1 -1l1.2 0l1.1 0.4l1.1 0.1l1.1 -0.7l1.1 -1l1.1 -0.6l1.1 0.3l1.1 1.1l1.2 1.3l1.1 0.9l1.1 0l1.1 -0.7l1.1 -0.8l1.1 -0.3l1.1 0.7l1.1 1.2l1.2 1.3l1.1 0.6l1.1 -0.4l1.1 -1.2l1.1 -1.4l1.1 -1l1.1 0.1l1.1 1.2l1.2 1.7l1.1 1.5l1.1 0.3l1.1 -1.1l1.1 -2.1l1.1 -2.2l1.1 -1.4l1.1 0l1.2 1.3l1.1 2.1l1.1 1.9l1.1 1.2l1.1 0.3l1.1 -0.3l1.1 -0.5l1.1 -0.6l1.1 -0.5l1.2 -0.8l1.1 -1l1.1 -1l1.1 -0.6l1.1 0.1l1.1 0.8l1.1 1.3l1.1 1.3l1.2 0.6l1.1 -0.1l1.1 -0.6l1.1 -0.7l1.1 -0.1l1.1 0.5l1.1 1l1.1 0.8l1.2 0.1l1.1 -1.1l1.1 -2.1l1.1 -2.4l1.1 -1.5l1.1 0.1l1.1 1.8l1.1 2.7l1.2 2.5l1.1 1.1l1.1 -0.7l1.1 -2.1l1.1 -2.2l1.1 -1.2l1.1 0.3l1.1 1.5l1.2 1.7l1.1 1.1l1.1 -0.2l1.1 -1.4l1.1 -1.8l1.1 -1.4l1.1 -0.5l1.1 0.5l1.2 1.3l1.1 1.5l1.1 1.1l1.1 0.5l1.1 -0.1l1.1 -0.7l1.1 -1l1.1 -0.9l1.1 -0.6l1.2 -0.1l1.1 0.2l1.1 0.5l1.1 0.5l1.1 0.5l1.1 0.5l1.1 0.7l1.1 1.1l1.2 1.2l1.1 0.9l1.1 0l1.1 -1.2l1.1 -2.5l1.1 -3l1.1 -2.7l1.1 -1.4l1.2 0.3l1.1 1.9l1.1 2.6l1.1 2.4l1.1 1.5l1.1 0.4l1.1 -0.5l1.1 -0.8l1.2 -0.5l1.1 -0.2l1.1 0.1l1.1 0.1l1.1 -0.1l1.1 -0.1l1.1 0.1l1.1 0.5l1.2 0.7l1.1 0.4l1.1 -0.4l1.1 -1.3l1.1 -2l1.1 -1.8l1.1 -0.7l1.1 0.7l1.2 2.1l1.1 2.5l1.1 1.9l1.1 0.6l1.1 -0.8l1.1 -1.7l1.1 -1.6l1.1 -0.8l1.2 0.3l1.1 0.9l1.1 1.1l1.1 0.5l1.1 -0.5l1.1 -1.4l1.1 -1.9l1.1 -1.5l1.1 -0.7l1.2 0.4" fill="none" stroke="#94be72" stroke-width="1.15" stroke-linejoin="round"/>
<path d="M1012.9 203.3l1.1 -7.2l1.1 -5.3l1.1 -0.1l1.1 4.4l1.2 4.9l1.1 1.6l1.1 -2.4l1.1 -3.7l1.1 -2l1.1 1.1l1.1 2.6l1.1 1.9l1.2 0.1l1.1 -1l1.1 -1l1.1 -0.6l1.1 -0.6l1.1 -1l1.1 -0.3l1.1 1.5l1.2 3.2l1.1 2.9l1.1 0l1.1 -3.9l1.1 -5.4l1.1 -3l1.1 1.9l1.1 5.6l1.2 5l1.1 0.3l1.1 -4.6l1.1 -5.8l1.1 -2l1.1 3.8l1.1 6.9l1.1 4.5l1.2 -1.4l1.1 -6.4l1.1 -6.4l1.1 -2l1.1 3.4l1.1 5.5l1.1 3.2l1.1 -1l1.2 -3.5l1.1 -2.6l1.1 -0.1l1.1 1.7l1.1 1.6l1.1 0.8l1.1 0.7l1.1 1.4l1.1 1.2l1.2 -1l1.1 -4.2l1.1 -5.5l1.1 -2.8l1.1 2.4l1.1 6.3l1.1 5.9l1.1 1.5l1.2 -3.3l1.1 -5l1.1 -2.7l1.1 1.1l1.1 3l1.1 2l1.1 -0.5l1.1 -2l1.2 -1.3l1.1 0.7l1.1 2.2l1.1 1.8l1.1 -0.2l1.1 -2.7l1.1 -4.1l1.1 -3.3l1.2 -0.4l1.1 3.3l1.1 5.9l1.1 5.5l1.1 2l1.1 -2.3l1.1 -4.9l1.1 -4.1l1.2 -0.8l1.1 1.7l1.1 1.4l1.1 -1.5l1.1 -3.9l1.1 -3.1l1.1 1.4l1.1 6.4l1.2 8.1l1.1 4.7l1.1 -1.9l1.1 -7.4l1.1 -8.6l1.1 -4.8l1.1 1.2l1.1 6.1l1.1 7.2l1.2 4.5l1.1 -0.1l1.1 -4.5l1.1 -6.6l1.1 -5.4l1.1 -1.7l1.1 2.9l1.1 6.2l1.2 6.3l1.1 3.6l1.1 -0.7l1.1 -4.3l1.1 -5.4l1.1 -4.2l1.1 -1.5l1.1 0.9l1.2 2.5l1.1 3.1l1.1 2.9l1.1 1.8l1.1 0.3l1.1 -1.5l1.1 -2.6l1.1 -2.3l1.2 -0.8l1.1 1.2l1.1 2.4l1.1 1.6l1.1 -0.8l1.1 -3.3l1.1 -4.1l1.1 -2.1l1.2 1.8l1.1 5.5l1.1 6.3l1.1 3.8l1.1 -1l1.1 -4.8l1.1 -5.5l1.1 -3.1l1.2 0.2l1.1 1.8l1.1 1.1l1.1 -0.8l1.1 -1.1l1.1 0.8l1.1 3.5l1.1 4.5l1.1 2l1.2 -2.5l1.1 -6l1.1 -5.7l1.1 -1.2l1.1 4.4l1.1 7.5l1.1 5.6l1.1 -0.4l1.2 -6.4l1.1 -8.5l1.1 -5l1.1 1.7l1.1 7.2l1.1 7.7l1.1 3.1l1.1 -3.6l1.2 -7l1.1 -5.1l1.1 0.8l1.1 6.1l1.1 6.7l1.1 2.2l1.1 -4.1l1.1 -7.4l1.2 -5.4l1.1 0l1.1 4.4l1.1 4.9l1.1 1.9l1.1 -1.7l1.1 -2.4l1.1 -0.2l1.2 2.6l1.1 3.2l1.1 1l1.1 -2.4l1.1 -4.1l1.1 -3.1l1.1 -0.7l1.1 1l1.2 1.1l1.1 0l1.1 -0.7l1.1 0.1l1.1 2l1.1 3.9l1.1 4.6l1.1 3.2l1.1 -0.2l1.2 -4.5l1.1 -8l1.1 -8.3l1.1 -4.6l1.1 1.8l1.1 7.5l1.1 9.2l1.1 5.7l1.2 -0.3l1.1 -4.7l1.1 -4.6l1.1 -0.9l1.1 2.8l1.1 3l1.1 -0.7l1.1 -5.1l1.2 -6.5l1.1 -3l1.1 3.1l1.1 7.4l1.1 7l1.1 1.8l1.1 -3.8l1.1 -5.9l1.2 -3.1l1.1 2.2l1.1 5.4l1.1 3.6l1.1 -1.9l1.1 -6.9l1.1 -7.2l1.1 -2.6l1.2 3.8l1.1 7.4l1.1 6.5l1.1 2.6l1.1 -1.1l1.1 -2.8l1.1 -2.8l1.1 -2.8l1.2 -3l1.1 -2.6l1.1 -0.3l1.1 3l1.1 5l1.1 4.2l1.1 0.5l1.1 -3.1l1.2 -4.5l1.1 -2.9l1.1 0.2l1.1 2.3l1.1 2.7l1.1 2l1.1 0.9l1.1 0.2l1.1 -0.6l1.2 -1.6l1.1 -2.6l1.1 -3l1.1 -2.2l1.1 -0.3l1.1 2.3l1.1 4.6l1.1 5.3l1.2 3.5l1.1 -0.9l1.1 -5.4l1.1 -7.3l1.1 -4.6l1.1 1.4l1.1 6.3l1.1 6.5l1.2 1.8l1.1 -3.8l1.1 -6l1.1 -3.1l1.1 2l1.1 4.9l1.1 3l1.1 -1l1.2 -3.4l1.1 -1.9l1.1 2l1.1 3.9l1.1 1.7l1.1 -3.2l1.1 -6.4l1.1 -5l1.2 0.6l1.1 6.4l1.1 8.4l1.1 4.9l1.1 -1.6l1.1 -6.8l1.1 -7.6l1.1 -4l1.2 1.4l1.1 5.4l1.1 5.6l1.1 2.7l1.1 -1.2l1.1 -3.5l1.1 -3.2l1.1 -1.4l1.1 0.6l1.2 1.5l1.1 1.2l1.1 0.6l1.1 0.2l1.1 0.1l1.1 0.4l1.1 0.3l1.1 -0.1l1.2 -0.7l1.1 -1.4l1.1 -1.6l1.1 -1.4l1.1 -0.3l1.1 0.9l1.1 1.6l1.1 1.8l1.2 1.7l1.1 1.9l1.1 2.1l1.1 1.2l1.1 -1.4l1.1 -5.1l1.1 -7.1l1.1 -5.4l1.2 -0.1l1.1 5.5l1.1 7.5l1.1 5.1l1.1 0.5l1.1 -2.6l1.1 -2.6l1.1 -0.9l1.2 0l1.1 -0.7l1.1 -1.3l1.1 -0.3l1.1 1.8l1.1 2.5l1.1 0.2l1.1 -3.7l1.2 -5.5l1.1 -3l1.1 2.3l1.1 6.3l1.1 6.1l1.1 2.4l1.1 -1.5l1.1 -2.7l1.1 -2l1.2 -1.2l1.1 -1.6l1.1 -2.3l1.1 -1.6l1.1 0.3l1.1 1.9l1.1 2.1l1.1 1.2l1.2 1l1.1 1.8l1.1 2.3l1.1 0.5l1.1 -2.9l1.1 -5.4l1.1 -4.5l1.1 -0.6l1.2 3.1l1.1 3.9l1.1 2.2l1.1 0.3l1.1 0l1.1 0.9l1.1 0.6l1.1 -1l1.2 -2.5l1.1 -2.2l1.1 -0.1l1.1 1.1l1.1 0.4l1.1 -1.8l1.1 -2.1l1.1 0.4l1.2 3.9l1.1 4.7l1.1 1.8l1.1 -2.4l1.1 -3.9l1.1 -1.7l1.1 1.6l1.1 2.2l1.2 -0.5l1.1 -3.6l1.1 -3.7l1.1 -0.1l1.1 3.6l1.1 4.7l1.1 2.1l1.1 -1l1.1 -2.4l1.2 -1.3l1.1 0.2l1.1 0.4l1.1 -0.8l1.1 -1.4l1.1 -0.6l1.1 0.9l1.1 1.7l1.2 1.2l1.1 0l1.1 -0.6l1.1 -0.5l1.1 -0.2l1.1 -0.7l1.1 -1.5l1.1 -1.4l1.2 -0.1l1.1 2.1l1.1 3.8l1.1 3.6l1.1 1.8l1.1 -1.1l1.1 -3.9l1.1 -5.5l1.2 -5.4l1.1 -3l1.1 0.9l1.1 5l1.1 7.2l1.1 6.2l1.1 2.3l1.1 -2.2l1.2 -4.7l1.1 -4.4l1.1 -1.9l1.1 0.4l1.1 1.1l1.1 0l1.1 -1.5l1.1 -2l1.2 -0.3l1.1 2.3l1.1 4.2l1.1 3.7l1.1 0.9l1.1 -2.5l1.1 -4.3l1.1 -2.7l1.1 1l1.2 4.2l1.1 4l1.1 0.2l1.1 -4.8l1.1 -7.3l1.1 -5.2l1.1 0.6l1.1 6.5l1.2 8.5l1.1 5.8l1.1 0.4l1.1 -4.3l1.1 -5.8l1.1 -3.9l1.1 -0.5l1.1 1.7l1.2 1.6l1.1 -0.4l1.1 -2.3l1.1 -2.3l1.1 0.2l1.1 4.1l1.1 6.8l1.1 5.9l1.2 1.5l1.1 -4.7l1.1 -8.9l1.1 -8.5l1.1 -3.7l1.1 2.7l1.1 6.8l1.1 6.7l1.2 3.3l1.1 -1.2l1.1 -3.7l1.1 -3.4l1.1 -0.8l1.1 2.3l1.1 3.7l1.1 2.9l1.2 0l1.1 -3.6l1.1 -5.6l1.1 -5l1.1 -1.7l1.1 2.3l1.1 4.7l1.1 4.4l1.1 2.2l1.2 0.4l1.1 0.1l1.1 0.8l1.1 0.5l1.1 -1.5l1.1 -4.5l1.1 -5.6l1.1 -3.4l1.2 1.2l1.1 5.1l1.1 5.5l1.1 2.6l1.1 -1.2l1.1 -3.3l1.1 -2.3l1.1 0l1.2 1.6l1.1 1.3l1.1 0.4l1.1 -0.1l1.1 0l1.1 0.1l1.1 -1l1.1 -2.5l1.2 -2.9l1.1 -1.2l1.1 1.8l1.1 4.3l1.1 4.4l1.1 1.8l1.1 -1.5l1.1 -3.6l1.2 -3.5l1.1 -1.6l1.1 0.5l1.1 1.8l1.1 1.8l1.1 0.9l1.1 0.1l1.1 0l1.2 0.3l1.1 0.4l1.1 -0.3l1.1 -2l1.1 -3.2l1.1 -2.8l1.1 0.1l1.1 4l1.1 6.1l1.2 4.5l1.1 0.2l1.1 -4.2l1.1 -5.5l1.1 -3.4l1.1 0l1.1 1.7l1.1 0.9l1.2 -0.9l1.1 -0.9l1.1 1.4l1.1 4l1.1 4.5l1.1 1.9l1.1 -1.9l1.1 -4.5l1.2 -4.6l1.1 -2.8l1.1 -0.6l1.1 1.3l1.1 3l1.1 4.2l1.1 4.1l1.1 1.3l1.2 -3.4l1.1 -7l1.1 -6.3l1.1 -0.9l1.1 5.6l1.1 8.7l1.1 5.8l1.1 -0.8l1.2 -5.9l1.1 -6.2l1.1 -2.2l1.1 2.2l1.1 3.1l1.1 0.9l1.1 -2l1.1 -2.3l1.2 -0.1l1.1 2.2l1.1 2.3l1.1 -0.1l1.1 -2.1l1.1 -1.3l1.1 2l1.1 4.9l1.1 4.3l1.2 -0.1l1.1 -5.4l1.1 -7.6l1.1 -5.3l1.1 -0.4l1.1 3.4l1.1 3.8l1.1 2.2l1.2 1.1l1.1 2.1l1.1 3.7l1.1 3.1l1.1 -0.7l1.1 -5.8l1.1 -7.9l1.1 -5l1.2 1.1l1.1 6l1.1 6l1.1 1.6l1.1 -3.2l1.1 -4.6l1.1 -1.7l1.1 2.5l1.2 4.7l1.1 3.2l1.1 -0.6l1.1 -3.4l1.1 -3.4l1.1 -1l1.1 1.2l1.1 1.6l1.2 -0.3l1.1 -2.5l1.1 -2.5l1.1 0.4l1.1 4.3l1.1 6.2l1.1 3.6l1.1 -1.9l1.2 -6.8l1.1 -6.8l1.1 -2.1l1.1 3.9l1.1 6.3l1.1 3.6l1.1 -1.9l1.1 -5.4l1.2 -4.2l1.1 0.2l1.1 4.1l1.1 4.9l1.1 2.7l1.1 -0.2l1.1 -1.9l1.1 -2.4l1.1 -2.5l1.2 -2.6" fill="none" stroke="#9259a8" stroke-width="1.15" stroke-linejoin="round"/>
<path d="M1012.9 209.7l1.1 -2.2l1.1 0.3l1.1 2.3l1.1 1.8l1.2 -1l1.1 -3.9l1.1 -4.8l1.1 -2.9l1.1 0.6l1.1 3.8l1.1 5.3l1.1 4.8l1.2 2.5l1.1 -0.4l1.1 -3.4l1.1 -5.1l1.1 -5l1.1 -2.9l1.1 0.4l1.1 3.5l1.2 4.6l1.1 3.8l1.1 1.5l1.1 -0.6l1.1 -1.8l1.1 -1.7l1.1 -1.1l1.1 -0.3l1.2 0.2l1.1 0.2l1.1 -0.7l1.1 -2l1.1 -3.1l1.1 -2.8l1.1 -0.5l1.1 3.3l1.2 6.6l1.1 7.2l1.1 4l1.1 -1l1.1 -5.1l1.1 -6l1.1 -3.9l1.1 -1.2l1.2 -0.3l1.1 -1.1l1.1 -1.6l1.1 0.3l1.1 4.1l1.1 6.9l1.1 6.1l1.1 1.6l1.1 -3.7l1.2 -6.4l1.1 -4.9l1.1 -1.4l1.1 1.4l1.1 2l1.1 1.1l1.1 0.5l1.1 0.7l1.2 0.9l1.1 0l1.1 -1.7l1.1 -2.6l1.1 -1.4l1.1 1.4l1.1 3.6l1.1 3.2l1.2 0.7l1.1 -2.2l1.1 -3.1l1.1 -1.4l1.1 1.3l1.1 2.5l1.1 1.2l1.1 -1.8l1.2 -4l1.1 -3.2l1.1 0.1l1.1 4.2l1.1 5.8l1.1 3.5l1.1 -1l1.1 -4.6l1.2 -4.8l1.1 -1.9l1.1 1.8l1.1 2.9l1.1 1.2l1.1 -1.5l1.1 -2.4l1.1 -0.4l1.2 2.6l1.1 4.1l1.1 2.4l1.1 -0.9l1.1 -3.8l1.1 -4.1l1.1 -2.3l1.1 0.4l1.1 2.2l1.2 2.4l1.1 1.5l1.1 0.2l1.1 -1l1.1 -1.1l1.1 -0.2l1.1 1.4l1.1 2.7l1.2 2.3l1.1 0.2l1.1 -2.5l1.1 -4.1l1.1 -3.7l1.1 -1.9l1.1 0.1l1.1 1.3l1.2 1.6l1.1 1.9l1.1 2.4l1.1 2.7l1.1 1.5l1.1 -0.8l1.1 -2.9l1.1 -3.1l1.2 -0.8l1.1 2.8l1.1 4.7l1.1 3.1l1.1 -1.2l1.1 -5.8l1.1 -7.7l1.1 -5.5l1.2 -0.7l1.1 4l1.1 6.2l1.1 5.6l1.1 3l1.1 0.5l1.1 -0.9l1.1 -0.9l1.2 -0.6l1.1 -0.6l1.1 -1.2l1.1 -1.9l1.1 -2.4l1.1 -2.2l1.1 -1.4l1.1 -0.2l1.1 1.2l1.2 2.1l1.1 2.6l1.1 2.1l1.1 0.8l1.1 -0.9l1.1 -1.8l1.1 -1.5l1.1 0.2l1.2 2.2l1.1 2.9l1.1 1.7l1.1 -0.8l1.1 -3.1l1.1 -3.7l1.1 -2.5l1.1 -0.7l1.2 0.4l1.1 0.5l1.1 0.2l1.1 0.5l1.1 1.6l1.1 2.6l1.1 2.8l1.1 1.7l1.2 0l1.1 -1.3l1.1 -1.6l1.1 -1l1.1 -0.3l1.1 -0.2l1.1 -0.8l1.1 -1.6l1.2 -1.9l1.1 -1l1.1 0.5l1.1 1.7l1.1 1.8l1.1 0.6l1.1 -0.7l1.1 -1.2l1.2 -0.5l1.1 0.8l1.1 1.8l1.1 1.7l1.1 1.2l1.1 0.6l1.1 0.2l1.1 -0.7l1.1 -1.6l1.2 -2.1l1.1 -1.4l1.1 0.3l1.1 1.4l1.1 1l1.1 -1.3l1.1 -3.6l1.1 -3.8l1.2 -1.4l1.1 2.6l1.1 5.6l1.1 6.2l1.1 4.2l1.1 0.9l1.1 -2.3l1.1 -4.4l1.2 -4.7l1.1 -3.3l1.1 -0.8l1.1 1.3l1.1 1.8l1.1 0.6l1.1 -0.8l1.1 -0.9l1.2 0.7l1.1 2.6l1.1 2.9l1.1 0.9l1.1 -2.2l1.1 -3.9l1.1 -2.9l1.1 0.3l1.2 3.4l1.1 4.7l1.1 3.6l1.1 1.1l1.1 -1.1l1.1 -2.4l1.1 -3l1.1 -3.3l1.2 -3.3l1.1 -2.7l1.1 -1.2l1.1 1.3l1.1 3.7l1.1 4.4l1.1 3.2l1.1 0.4l1.2 -2l1.1 -2.3l1.1 -0.8l1.1 1.5l1.1 2.4l1.1 1.1l1.1 -1.4l1.1 -2.9l1.1 -2.1l1.2 0.2l1.1 2.2l1.1 2.4l1.1 0.4l1.1 -2l1.1 -2.8l1.1 -1.6l1.1 0.6l1.2 2.2l1.1 1.8l1.1 0.1l1.1 -1.4l1.1 -1.5l1.1 -0.4l1.1 1.1l1.1 1.6l1.2 1.3l1.1 0.6l1.1 0.1l1.1 -0.1l1.1 -0.8l1.1 -1.7l1.1 -2.6l1.1 -2l1.2 -0.1l1.1 2.2l1.1 3.3l1.1 2.7l1.1 0.9l1.1 -0.5l1.1 -1l1.1 -1l1.2 -1.4l1.1 -2.2l1.1 -2.3l1.1 -1.2l1.1 0.9l1.1 2.1l1.1 2.1l1.1 0.9l1.2 0.3l1.1 1l1.1 1.9l1.1 1.5l1.1 -1l1.1 -3.6l1.1 -4l1.1 -1.6l1.1 1.9l1.2 3.9l1.1 2.6l1.1 -0.7l1.1 -3.3l1.1 -3.6l1.1 -1.8l1.1 0.6l1.1 1.9l1.2 2.2l1.1 2.3l1.1 2.3l1.1 1.8l1.1 0.6l1.1 -1.2l1.1 -2.5l1.1 -2.6l1.2 -1.6l1.1 -0.5l1.1 0l1.1 -0.2l1.1 -0.3l1.1 0.1l1.1 1.2l1.1 2.4l1.2 2.5l1.1 1.4l1.1 -0.9l1.1 -3.4l1.1 -4.5l1.1 -3.1l1.1 0.6l1.1 4.9l1.2 7.2l1.1 5.4l1.1 0.4l1.1 -5.2l1.1 -7.9l1.1 -6.2l1.1 -1.4l1.1 2.8l1.2 4.3l1.1 2.9l1.1 0.4l1.1 -0.5l1.1 -0.1l1.1 0.8l1.1 0.6l1.1 -0.3l1.1 -0.5l1.2 0.6l1.1 1.8l1.1 1.4l1.1 -1.5l1.1 -4.7l1.1 -5.4l1.1 -2.1l1.1 3.4l1.2 6.8l1.1 5.7l1.1 0.7l1.1 -4.1l1.1 -5.3l1.1 -2.5l1.1 1.5l1.1 3.4l1.2 1.8l1.1 -1.3l1.1 -3.6l1.1 -3.2l1.1 -0.6l1.1 2.4l1.1 4.1l1.1 3.9l1.2 1.8l1.1 -1.1l1.1 -3.1l1.1 -3.1l1.1 -0.9l1.1 2.1l1.1 3.8l1.1 2.7l1.2 -0.4l1.1 -3.6l1.1 -5l1.1 -3.8l1.1 -1.2l1.1 1.5l1.1 2.9l1.1 3.1l1.2 1.9l1.1 0l1.1 -1.6l1.1 -2l1.1 -0.7l1.1 1.6l1.1 3l1.1 2.2l1.1 -0.2l1.2 -2.2l1.1 -1.9l1.1 0.3l1.1 2.1l1.1 1.6l1.1 -0.9l1.1 -3.3l1.1 -3.3l1.2 -0.9l1.1 1.6l1.1 2.4l1.1 1.1l1.1 -0.5l1.1 -1.1l1.1 -0.6l1.1 0l1.2 -0.2l1.1 -0.7l1.1 -0.3l1.1 1.1l1.1 2.6l1.1 2.6l1.1 1.2l1.1 -0.6l1.2 -1.3l1.1 -1.1l1.1 -0.3l1.1 -0.4l1.1 -1.1l1.1 -1.6l1.1 -1.3l1.1 -0.1l1.2 1.1l1.1 1.7l1.1 1.2l1.1 0.3l1.1 -0.8l1.1 -1.4l1.1 -1.6l1.1 -1.2l1.2 -0.2l1.1 1l1.1 2.2l1.1 3l1.1 3.1l1.1 2.1l1.1 0l1.1 -2.9l1.1 -4.9l1.2 -4.6l1.1 -1.6l1.1 2.5l1.1 4.8l1.1 3.3l1.1 -1.1l1.1 -4.9l1.1 -4.9l1.2 -0.5l1.1 4.7l1.1 6.8l1.1 4l1.1 -1.6l1.1 -5.5l1.1 -5.2l1.1 -1.1l1.2 3l1.1 4l1.1 1.6l1.1 -1.7l1.1 -2.9l1.1 -1.3l1.1 1.2l1.1 2.7l1.2 1.5l1.1 -0.8l1.1 -2.7l1.1 -2.3l1.1 -0.3l1.1 1.9l1.1 3.1l1.1 2.6l1.2 1.1l1.1 -0.7l1.1 -2.5l1.1 -3.6l1.1 -3.8l1.1 -2.7l1.1 -0.4l1.1 2.2l1.2 4.1l1.1 4.2l1.1 2.9l1.1 0.8l1.1 -1.1l1.1 -2.3l1.1 -2.5l1.1 -1.6l1.1 -0.2l1.2 1.4l1.1 2.1l1.1 1.5l1.1 -0.2l1.1 -1.9l1.1 -2.1l1.1 -0.8l1.1 0.9l1.2 1.2l1.1 -0.7l1.1 -3.3l1.1 -4.1l1.1 -1.7l1.1 2.8l1.1 6.6l1.1 6.8l1.2 3l1.1 -1.9l1.1 -4.9l1.1 -4.1l1.1 -0.8l1.1 2.4l1.1 3l1.1 1.1l1.2 -1.8l1.1 -3.7l1.1 -3.7l1.1 -2.1l1.1 0.2l1.1 2.2l1.1 3.1l1.1 3l1.2 1.7l1.1 -0.4l1.1 -2l1.1 -2l1.1 -0.2l1.1 2.1l1.1 2.9l1.1 1.5l1.2 -1.1l1.1 -3.2l1.1 -3.3l1.1 -1.8l1.1 -0.4l1.1 -0.2l1.1 -0.6l1.1 -0.3l1.1 1.8l1.2 4.6l1.1 5.8l1.1 3.9l1.1 -0.4l1.1 -4.4l1.1 -5.8l1.1 -4.1l1.1 -1.1l1.2 0.8l1.1 0.9l1.1 0.2l1.1 0.3l1.1 1.8l1.1 3.4l1.1 3.6l1.1 1.3l1.2 -2.3l1.1 -5.1l1.1 -5.4l1.1 -2.8l1.1 1.4l1.1 5l1.1 6l1.1 3.9l1.2 -0.1l1.1 -4.1l1.1 -5.6l1.1 -4.1l1.1 -0.7l1.1 2.7l1.1 4.1l1.1 3.4l1.2 1.6l1.1 0.1l1.1 -0.5l1.1 -0.8l1.1 -1.7l1.1 -3.2l1.1 -3.9l1.1 -2.7l1.2 0.4l1.1 3.8l1.1 5l1.1 3.1l1.1 -0.6l1.1 -3.6l1.1 -4l1.1 -1.4l1.1 2.1l1.2 4.3l1.1 4.3l1.1 2.4l1.1 -0.2l1.1 -2.5l1.1 -4.2l1.1 -5.1l1.1 -4.3l1.2 -1.6l1.1 2.5l1.1 5.6l1.1 5.8l1.1 2.6l1.1 -1.7l1.1 -3.8l1.1 -2.5l1.2 0.9l1.1 3.3l1.1 1.9l1.1 -2.2l1.1 -5.7l1.1 -5.4l1.1 -1.1l1.1 4l1.2 6.6l1.1 4.8l1.1 0.9l1.1 -2.5l1.1 -3.1l1.1 -1.5l1.1 0.1l1.1 0.5l1.2 0l1.1 -0.5l1.1 -0.4l1.1 0.2l1.1 0.5l1.1 0.4l1.1 0.2l1.1 0l1.2 -0.1l1.1 -0.7l1.1 -1.3l1.1 -1l1.1 0.4l1.1 2.2l1.1 2.6l1.1 0.9l1.2 -1.9l1.1 -3.2l1.1 -2.1l1.1 0.7l1.1 2.3l1.1 1.3l1.1 -1.1l1.1 -2.1l1.1 0l1.2 3.6" fill="none" stroke="#eec564" stroke-width="1.15" stroke-linejoin="round"/>
<path d="M1012.9 220.5l1.1 3.4l1.1 0.7l1.1 -2.4l1.1 -4.3l1.2 -3.9l1.1 -1.5l1.1 1.8l1.1 4.2l1.1 4.6l1.1 2.5l1.1 -1l1.1 -4l1.2 -4.7l1.1 -2.7l1.1 0.6l1.1 3.1l1.1 2.8l1.1 0.5l1.1 -2l1.1 -2.5l1.2 -0.9l1.1 1.5l1.1 2.3l1.1 1.3l1.1 -0.6l1.1 -1.3l1.1 -0.5l1.1 0.8l1.2 1.2l1.1 0.6l1.1 -0.3l1.1 -0.5l1.1 -0.1l1.1 0l1.1 -0.5l1.1 -1.2l1.2 -1.1l1.1 0.4l1.1 2.2l1.1 2.7l1.1 1.1l1.1 -1.3l1.1 -3.1l1.1 -2.7l1.2 -0.9l1.1 1.2l1.1 1.8l1.1 0.8l1.1 -0.7l1.1 -1.8l1.1 -1.5l1.1 0.1l1.1 2l1.2 3.1l1.1 2.6l1.1 0.6l1.1 -1.6l1.1 -3l1.1 -2.5l1.1 -0.3l1.1 2.1l1.2 3.5l1.1 2.8l1.1 0.3l1.1 -2.7l1.1 -4.6l1.1 -4.4l1.1 -2.2l1.1 0.8l1.2 3.5l1.1 4.5l1.1 3.9l1.1 2l1.1 -0.3l1.1 -2.2l1.1 -3.2l1.1 -3.5l1.2 -2.9l1.1 -1.7l1.1 -0.1l1.1 1.7l1.1 3.4l1.1 4.5l1.1 4.7l1.1 3l1.2 -0.4l1.1 -4.2l1.1 -6.5l1.1 -5.8l1.1 -2.3l1.1 2l1.1 4.5l1.1 4.2l1.2 2.4l1.1 0.9l1.1 0.5l1.1 0.1l1.1 -1.7l1.1 -4.7l1.1 -6.5l1.1 -4.8l1.1 0.8l1.2 6.7l1.1 8.9l1.1 5.3l1.1 -1.2l1.1 -6.1l1.1 -6.4l1.1 -2.4l1.1 2.1l1.2 4.5l1.1 4l1.1 2.1l1.1 0.3l1.1 -1l1.1 -2.5l1.1 -3.7l1.1 -3.5l1.2 -1.2l1.1 2.3l1.1 4.6l1.1 3.6l1.1 -0.1l1.1 -4.1l1.1 -5.2l1.1 -3.1l1.2 0.6l1.1 3l1.1 3l1.1 1.3l1.1 -0.4l1.1 -0.5l1.1 0.5l1.1 1.5l1.2 1.9l1.1 1l1.1 -0.3l1.1 -1.7l1.1 -2.4l1.1 -1.9l1.1 -0.4l1.1 1.5l1.2 2.5l1.1 1.9l1.1 -0.3l1.1 -2.5l1.1 -3.4l1.1 -2.1l1.1 0.7l1.1 3.2l1.1 3.5l1.2 1.8l1.1 -1.2l1.1 -3.5l1.1 -3.7l1.1 -2l1.1 0.7l1.1 2.9l1.1 3.4l1.2 2.3l1.1 0.1l1.1 -2l1.1 -3l1.1 -2.3l1.1 -0.1l1.1 2.5l1.1 3.9l1.2 2.9l1.1 -0.1l1.1 -3l1.1 -3.8l1.1 -1.6l1.1 2.1l1.1 4.4l1.1 3.4l1.2 -0.5l1.1 -4.7l1.1 -6.2l1.1 -4.1l1.1 -0.1l1.1 3.2l1.1 4l1.1 2.5l1.2 0.8l1.1 0l1.1 0.3l1.1 0.6l1.1 0.1l1.1 -0.9l1.1 -1.7l1.1 -1.4l1.2 -0.3l1.1 1l1.1 1.5l1.1 0.7l1.1 -0.8l1.1 -2.1l1.1 -2.1l1.1 -0.6l1.1 1.6l1.2 3.1l1.1 3.1l1.1 1.5l1.1 -0.7l1.1 -1.7l1.1 -1.4l1.1 -0.5l1.1 -0.2l1.2 -1.3l1.1 -2.8l1.1 -3.5l1.1 -2.2l1.1 0.3l1.1 2.8l1.1 4l1.1 3.7l1.2 3l1.1 2.4l1.1 1.6l1.1 0.1l1.1 -2l1.1 -3.5l1.1 -3.4l1.1 -2l1.2 -0.3l1.1 0.1l1.1 -1l1.1 -2l1.1 -1.6l1.1 0.5l1.1 2.7l1.1 3.2l1.2 1.7l1.1 -0.6l1.1 -1.3l1.1 0l1.1 2l1.1 2.7l1.1 1.3l1.1 -1l1.2 -2.2l1.1 -1.2l1.1 0.6l1.1 1.4l1.1 -0.1l1.1 -2.6l1.1 -4.1l1.1 -3l1.2 0.1l1.1 2.9l1.1 3.3l1.1 1.3l1.1 -1l1.1 -1.8l1.1 -0.3l1.1 2.3l1.1 3.8l1.2 3.2l1.1 0.8l1.1 -2.1l1.1 -3.7l1.1 -3.7l1.1 -2.4l1.1 -0.8l1.1 0.2l1.2 0.7l1.1 0.5l1.1 0.1l1.1 0.1l1.1 0.6l1.1 1.7l1.1 2.7l1.1 3l1.2 2.1l1.1 0.4l1.1 -1.2l1.1 -2.1l1.1 -2.2l1.1 -1.9l1.1 -2l1.1 -2.1l1.2 -1.7l1.1 0.2l1.1 2.6l1.1 4.2l1.1 3.6l1.1 0.7l1.1 -3l1.1 -4.7l1.2 -3.4l1.1 -0.1l1.1 3.2l1.1 4.1l1.1 2.5l1.1 -0.4l1.1 -2.3l1.1 -2.2l1.2 -0.4l1.1 1.3l1.1 1.3l1.1 -0.5l1.1 -2.3l1.1 -2l1.1 0.5l1.1 3.7l1.1 5.2l1.2 3l1.1 -1.7l1.1 -5.7l1.1 -6.5l1.1 -3.1l1.1 1.7l1.1 4.7l1.1 4.2l1.2 0.7l1.1 -2.3l1.1 -3l1.1 -1l1.1 1.5l1.1 2.7l1.1 1.9l1.1 0.6l1.2 -0.2l1.1 -0.1l1.1 -0.1l1.1 -1l1.1 -2.4l1.1 -3.1l1.1 -2.3l1.1 -0.4l1.2 1.3l1.1 1.7l1.1 0.7l1.1 0l1.1 0.2l1.1 1.8l1.1 3.5l1.1 3.9l1.2 2.4l1.1 -0.2l1.1 -3.1l1.1 -4.6l1.1 -4.6l1.1 -2.9l1.1 -0.6l1.1 1.8l1.2 3.1l1.1 3.1l1.1 1.7l1.1 -0.4l1.1 -2.2l1.1 -2.6l1.1 -1.4l1.1 0.9l1.1 2.6l1.2 2.7l1.1 0.9l1.1 -1.3l1.1 -2.7l1.1 -2.2l1.1 -0.5l1.1 1l1.1 0.8l1.2 -0.5l1.1 -1.4l1.1 -0.8l1.1 1.4l1.1 3.6l1.1 4.1l1.1 2.7l1.1 0.1l1.2 -2.1l1.1 -3l1.1 -2.7l1.1 -1.7l1.1 -0.8l1.1 -0.1l1.1 0.3l1.1 0.3l1.2 -0.1l1.1 -0.5l1.1 -0.6l1.1 0.1l1.1 1.1l1.1 1.8l1.1 1.7l1.1 0.8l1.2 -0.3l1.1 -1.2l1.1 -1.1l1.1 -0.8l1.1 -0.1l1.1 0.4l1.1 0.8l1.1 0.8l1.2 0.8l1.1 0.4l1.1 0l1.1 -0.5l1.1 -1.1l1.1 -1.3l1.1 -1l1.1 0l1.1 1l1.2 1.5l1.1 0.8l1.1 -0.8l1.1 -1.9l1.1 -1.6l1.1 0.2l1.1 2.3l1.1 3.1l1.2 1.9l1.1 -0.9l1.1 -3.5l1.1 -4.2l1.1 -2.9l1.1 -0.2l1.1 2.2l1.1 3.2l1.2 2.8l1.1 1.5l1.1 0.5l1.1 0.4l1.1 1l1.1 1.5l1.1 1l1.1 -0.6l1.2 -2.5l1.1 -3.8l1.1 -3.9l1.1 -3l1.1 -2l1.1 -1l1.1 0.4l1.1 2.3l1.2 4.4l1.1 5.2l1.1 4.2l1.1 1.5l1.1 -1.5l1.1 -2.8l1.1 -2.5l1.1 -1.4l1.2 -0.8l1.1 -1l1.1 -1.1l1.1 0l1.1 2.1l1.1 3.6l1.1 3.1l1.1 0.1l1.1 -3.6l1.2 -5.7l1.1 -5l1.1 -1.6l1.1 2.4l1.1 4.9l1.1 4.9l1.1 2.5l1.1 -0.5l1.2 -2.4l1.1 -2.2l1.1 -0.4l1.1 1.8l1.1 2.6l1.1 1.5l1.1 -1l1.1 -3.4l1.2 -4l1.1 -2.5l1.1 0l1.1 2.2l1.1 2.9l1.1 2l1.1 0.3l1.1 -0.8l1.2 -1.1l1.1 -0.4l1.1 0.2l1.1 0.3l1.1 -0.3l1.1 -1.1l1.1 -1.5l1.1 -1.1l1.2 -0.1l1.1 1.4l1.1 3l1.1 4.4l1.1 4.8l1.1 3.5l1.1 0.2l1.1 -4.1l1.2 -7.3l1.1 -7.4l1.1 -4.3l1.1 -0.1l1.1 2.3l1.1 1.6l1.1 -0.9l1.1 -2.2l1.1 -0.3l1.2 3.9l1.1 7.2l1.1 7.2l1.1 3.7l1.1 -1.2l1.1 -4.3l1.1 -4.6l1.1 -2.7l1.2 -0.5l1.1 1.2l1.1 1.7l1.1 1.3l1.1 0.1l1.1 -1.4l1.1 -2.7l1.1 -3l1.2 -2.3l1.1 -1l1.1 -0.1l1.1 0.3l1.1 0.8l1.1 1.7l1.1 2.7l1.1 3.2l1.2 2.7l1.1 1.5l1.1 0.3l1.1 -0.3l1.1 -0.7l1.1 -1.4l1.1 -2.4l1.1 -2.6l1.2 -1.3l1.1 0.5l1.1 1.5l1.1 0.8l1.1 -1.1l1.1 -2.2l1.1 -1l1.1 1.4l1.2 3.3l1.1 2.4l1.1 -0.4l1.1 -2.8l1.1 -2.9l1.1 -0.7l1.1 2l1.1 3l1.1 1.5l1.2 -0.8l1.1 -2.2l1.1 -2l1.1 -0.9l1.1 0.3l1.1 0.9l1.1 1.2l1.1 1.9l1.2 2.7l1.1 2.7l1.1 1.2l1.1 -1.2l1.1 -3.4l1.1 -4.1l1.1 -3.2l1.1 -1.7l1.2 -0.8l1.1 -0.2l1.1 0.7l1.1 2.3l1.1 3.7l1.1 3.9l1.1 2.1l1.1 -0.7l1.2 -2.8l1.1 -2.7l1.1 -1l1.1 0.7l1.1 0.9l1.1 -0.1l1.1 -0.8l1.1 -0.2l1.2 1.3l1.1 2l1.1 0.9l1.1 -1.5l1.1 -3.4l1.1 -3.4l1.1 -1.5l1.1 1.1l1.2 3.1l1.1 3.7l1.1 3.3l1.1 1.7l1.1 -0.4l1.1 -2.7l1.1 -4.1l1.1 -3.5l1.1 -1.3l1.2 1l1.1 2.1l1.1 1.6l1.1 0.3l1.1 -0.1l1.1 0.6l1.1 1.7l1.1 1.9l1.2 0.7l1.1 -0.9l1.1 -1.7l1.1 -1.1l1.1 0.1l1.1 1l1.1 0.7l1.1 -0.8l1.2 -2.5l1.1 -3.5l1.1 -2.6l1.1 -0.3l1.1 2.7l1.1 4.1l1.1 3l1.1 0l1.2 -2.6l1.1 -2.8l1.1 -0.4l1.1 2.7l1.1 3.6l1.1 1.8l1.1 -1.2l1.1 -2.6l1.2 -1.4l1.1 1.3l1.1 2.9l1.1 2l1.1 -0.7l1.1 -3.1l1.1 -3.8l1.1 -2.8l1.2 -1.2l1.1 0.4l1.1 1.8l1.1 2.7l1.1 2.6l1.1 1.1l1.1 -1.3l1.1 -3l1.2 -3l1.1 -1l1.1 1.7l1.1 3.3l1.1 3l1.1 1.8l1.1 0.4l1.1 -0.4l1.1 -0.8l1.2 -0.8" fill="none" stroke="#e18764" stroke-width="1.15" stroke-linejoin="round"/>
<path d="M1012.9 232.5l1.1 0.9l1.1 1l1.1 2.1l1.1 3.5l1.2 3.1l1.1 0l1.1 -4.3l1.1 -6.3l1.1 -4.1l1.1 0.8l1.1 4.9l1.1 5.4l1.2 2.7l1.1 -0.4l1.1 -1.7l1.1 -1.6l1.1 -1.4l1.1 -2.2l1.1 -2.9l1.1 -2.3l1.2 0.4l1.1 2.9l1.1 3.6l1.1 1.7l1.1 -0.6l1.1 -1.2l1.1 0.1l1.1 1.6l1.2 0.6l1.1 -2.7l1.1 -5.9l1.1 -6l1.1 -1.8l1.1 3.7l1.1 6.9l1.1 5.2l1.2 0.3l1.1 -4.3l1.1 -5l1.1 -2.2l1.1 1.8l1.1 3.5l1.1 1.7l1.1 -1.8l1.2 -4.3l1.1 -4l1.1 -1.3l1.1 1.9l1.1 4.1l1.1 4.6l1.1 3.5l1.1 1l1.1 -3.2l1.2 -7.4l1.1 -9l1.1 -6.2l1.1 0.9l1.1 8.2l1.1 10.5l1.1 6.3l1.1 -1.8l1.2 -7.9l1.1 -7.5l1.1 -1.7l1.1 4.6l1.1 6.2l1.1 2.7l1.1 -2.5l1.1 -4.9l1.2 -3.1l1.1 0.4l1.1 2.3l1.1 1.1l1.1 -1.2l1.1 -1.7l1.1 0.4l1.1 3.2l1.2 4l1.1 2l1.1 -1.2l1.1 -3.1l1.1 -2.2l1.1 -0.1l1.1 0.8l1.1 -0.4l1.2 -2.7l1.1 -3.3l1.1 -1.2l1.1 3l1.1 6.2l1.1 6.1l1.1 2.8l1.1 -1.8l1.2 -4.8l1.1 -5.2l1.1 -3l1.1 -0.1l1.1 2.2l1.1 3l1.1 1.8l1.1 -0.8l1.1 -3.4l1.2 -3.9l1.1 -1.1l1.1 3.7l1.1 7.3l1.1 6.8l1.1 1.7l1.1 -4.6l1.1 -7.5l1.2 -5.2l1.1 -0.1l1.1 3.4l1.1 2.8l1.1 -0.6l1.1 -2.5l1.1 -0.7l1.1 3.2l1.2 5.7l1.1 3.9l1.1 -1.2l1.1 -5.7l1.1 -6.6l1.1 -3.1l1.1 2.1l1.1 6l1.2 6.5l1.1 3.8l1.1 -0.6l1.1 -3.7l1.1 -3.9l1.1 -1l1.1 2.8l1.1 4.5l1.2 1.8l1.1 -3.6l1.1 -7.4l1.1 -5.9l1.1 0.4l1.1 7.2l1.1 9.3l1.1 5.1l1.2 -1.9l1.1 -6l1.1 -4.3l1.1 0.8l1.1 4.8l1.1 4.3l1.1 0.3l1.1 -3.5l1.1 -4.1l1.2 -1.7l1.1 1.2l1.1 2.5l1.1 1.7l1.1 0.7l1.1 0.1l1.1 -0.2l1.1 -0.8l1.2 -1.9l1.1 -2l1.1 0.3l1.1 3.9l1.1 5.9l1.1 3.6l1.1 -1.7l1.1 -6.1l1.2 -5.5l1.1 0.1l1.1 5.7l1.1 6.1l1.1 0.6l1.1 -6.8l1.1 -9.9l1.1 -6.3l1.2 1.2l1.1 7.4l1.1 9l1.1 6.7l1.1 2.9l1.1 -0.6l1.1 -3.5l1.1 -6.2l1.2 -7l1.1 -4.8l1.1 0.4l1.1 6.3l1.1 9.4l1.1 7.4l1.1 1.2l1.1 -5.9l1.2 -10.1l1.1 -9.7l1.1 -5l1.1 0.9l1.1 5.5l1.1 6.4l1.1 4.1l1.1 0.2l1.1 -2.4l1.2 -2.1l1.1 0.8l1.1 3.8l1.1 4.3l1.1 1.3l1.1 -3.5l1.1 -6.9l1.1 -6.9l1.2 -3.6l1.1 0.7l1.1 3.5l1.1 4.4l1.1 3.6l1.1 2.1l1.1 0l1.1 -2.8l1.2 -5.3l1.1 -5.3l1.1 -1.9l1.1 3.6l1.1 7.5l1.1 6.6l1.1 0.8l1.1 -5.9l1.2 -8.1l1.1 -4.3l1.1 2.3l1.1 6.3l1.1 4.2l1.1 -2.1l1.1 -7.5l1.1 -7.6l1.2 -2.1l1.1 4.8l1.1 8.7l1.1 7.5l1.1 2.3l1.1 -3.9l1.1 -8l1.1 -7.9l1.2 -3.8l1.1 2.3l1.1 7l1.1 7.4l1.1 2.9l1.1 -3.4l1.1 -6.9l1.1 -5.5l1.2 -0.6l1.1 3.3l1.1 2.6l1.1 -1.4l1.1 -4.7l1.1 -3.6l1.1 1.7l1.1 7l1.1 7.6l1.2 3.2l1.1 -3.1l1.1 -6.8l1.1 -6l1.1 -2.5l1.1 0.9l1.1 1.9l1.1 0.6l1.2 -0.6l1.1 -0.9l1.1 0l1.1 1.1l1.1 1.9l1.1 2l1.1 1.8l1.1 0.8l1.2 -1l1.1 -3.2l1.1 -4.7l1.1 -4l1.1 -0.9l1.1 2.8l1.1 5.1l1.1 4.6l1.2 1.6l1.1 -1.5l1.1 -2.7l1.1 -1.7l1.1 0l1.1 0.6l1.1 -1.1l1.1 -3.6l1.2 -5l1.1 -3.3l1.1 0.7l1.1 5.2l1.1 7.4l1.1 6.2l1.1 1.9l1.1 -3.1l1.2 -6.1l1.1 -5.5l1.1 -2.1l1.1 2.2l1.1 4.5l1.1 3.9l1.1 0.5l1.1 -3.2l1.1 -5.7l1.2 -5.6l1.1 -3.2l1.1 0.5l1.1 4.1l1.1 6.4l1.1 6l1.1 2.8l1.1 -1.7l1.2 -4.8l1.1 -4.4l1.1 -0.7l1.1 3.5l1.1 4.6l1.1 1.1l1.1 -4.7l1.1 -8.6l1.2 -6.8l1.1 0l1.1 7.9l1.1 11.3l1.1 7.7l1.1 -0.7l1.1 -8.1l1.1 -9.4l1.2 -4l1.1 4.1l1.1 8.2l1.1 5.1l1.1 -2.8l1.1 -8.5l1.1 -6.1l1.1 3.9l1.2 13.3l1.1 13.9l1.1 4.1l1.1 -9.4l1.1 -15.7l1.1 -9.9l1.1 3.3l1.1 13l1.2 11.6l1.1 1.5l1.1 -7.3l1.1 -6.2l1.1 3.5l1.1 12.8l1.1 12.9l1.1 3.4l1.1 -7.4l1.2 -11.4l1.1 -5.4l1.1 2.9l1.1 5.5l1.1 0.6l1.1 -5.7l1.1 -6.1l1.1 0.7l1.2 9l1.1 11.4l1.1 5.4l1.1 -4.5l1.1 -10.8l1.1 -9.3l1.1 -2.3l1.1 4.6l1.2 7l1.1 4.3l1.1 0l1.1 -3l1.1 -3.4l1.1 -1.8l1.1 0.6l1.1 3.4l1.2 5.6l1.1 5.2l1.1 1.3l1.1 -5.7l1.1 -11.8l1.1 -12.1l1.1 -5.6l1.1 4.8l1.2 12.5l1.1 13l1.1 7l1.1 -0.1l1.1 -3.4l1.1 -2.4l1.1 -1.1l1.1 -2.9l1.2 -7.3l1.1 -9.6l1.1 -5.5l1.1 3.1l1.1 10.1l1.1 9.4l1.1 1.8l1.1 -5.6l1.1 -5.8l1.2 1.3l1.1 8.8l1.1 8.6l1.1 -0.7l1.1 -11.4l1.1 -14.3l1.1 -6.4l1.1 6.4l1.2 13.7l1.1 10.7l1.1 0.8l1.1 -7.9l1.1 -9.6l1.1 -4.8l1.1 1l1.1 3.9l1.2 3.2l1.1 0.9l1.1 -1l1.1 -1.8l1.1 -1.5l1.1 0.3l1.1 3.3l1.1 5.4l1.2 4.4l1.1 -0.2l1.1 -5.2l1.1 -6.2l1.1 -2.1l1.1 3.1l1.1 3.4l1.1 -2.5l1.2 -9.8l1.1 -10.6l1.1 -2l1.1 10.6l1.1 17.1l1.1 12.2l1.1 -0.2l1.1 -10.2l1.2 -10.6l1.1 -2.6l1.1 5.3l1.1 5.9l1.1 -0.8l1.1 -8.1l1.1 -9.2l1.1 -3.6l1.1 3.1l1.2 5.1l1.1 1.5l1.1 -2.8l1.1 -2.3l1.1 3.4l1.1 9.5l1.1 10l1.1 3.3l1.2 -5.8l1.1 -11.2l1.1 -9.6l1.1 -4.2l1.1 0.3l1.1 1l1.1 -0.2l1.1 0.4l1.2 3.9l1.1 7.4l1.1 6.6l1.1 1l1.1 -5.6l1.1 -8l1.1 -4.7l1.1 1.2l1.2 4.2l1.1 2.1l1.1 -2.9l1.1 -5.5l1.1 -3.3l1.1 2.5l1.1 7.3l1.1 7.8l1.2 3.7l1.1 -2.8l1.1 -7.8l1.1 -9.2l1.1 -6.3l1.1 -0.9l1.1 5l1.1 8.6l1.2 7.8l1.1 2.8l1.1 -3.6l1.1 -7.5l1.1 -6.5l1.1 -1.5l1.1 4l1.1 6.5l1.1 4.9l1.2 0.4l1.1 -4.3l1.1 -7.4l1.1 -7.4l1.1 -4.1l1.1 2.3l1.1 8.8l1.1 11.7l1.2 8.2l1.1 -0.3l1.1 -8.6l1.1 -11.1l1.1 -6.5l1.1 0.6l1.1 4.2l1.1 1.8l1.2 -2.8l1.1 -4l1.1 0.8l1.1 8.2l1.1 10.9l1.1 5.8l1.1 -3.9l1.1 -10.8l1.2 -10.1l1.1 -3.1l1.1 4l1.1 5.7l1.1 2.4l1.1 -2.2l1.1 -3.8l1.1 -1.8l1.2 1.2l1.1 2.6l1.1 1.8l1.1 0.6l1.1 0.1l1.1 0.5l1.1 0.2l1.1 -1.4l1.2 -3.3l1.1 -3.4l1.1 -1l1.1 2.9l1.1 5l1.1 3.6l1.1 -0.9l1.1 -6l1.1 -7.8l1.2 -4.9l1.1 1.6l1.1 7.2l1.1 7.9l1.1 3l1.1 -4.5l1.1 -9.3l1.1 -7.7l1.2 -0.9l1.1 5.9l1.1 7.5l1.1 2.5l1.1 -4.8l1.1 -8.3l1.1 -4.7l1.1 3.3l1.2 9.4l1.1 8.4l1.1 0.6l1.1 -8.2l1.1 -12l1.1 -8.2l1.1 -0.5l1.1 5.9l1.2 7.2l1.1 3.5l1.1 -0.5l1.1 -1.4l1.1 0.9l1.1 3.6l1.1 3.3l1.1 -0.3l1.2 -4.5l1.1 -6l1.1 -3l1.1 2.3l1.1 6.4l1.1 6.7l1.1 3.2l1.1 -1.5l1.2 -4.2l1.1 -3.8l1.1 -1.3l1.1 1.2l1.1 2.3l1.1 1.8l1.1 1l1.1 0.8l1.1 1l1.2 0.7l1.1 0l1.1 0l1.1 1.6l1.1 4.4l1.1 6.1l1.1 3.8l1.1 -2.8l1.2 -9.6l1.1 -11.1l1.1 -4.7l1.1 6.3l1.1 14.4l1.1 13.4l1.1 4l1.1 -7l1.2 -11.4l1.1 -6.7l1.1 2.7l1.1 9.2l1.1 8l1.1 1.3l1.1 -5.5l1.1 -8.1l1.2 -6l1.1 -1.7l1.1 1.9l1.1 3.2l1.1 2.9l1.1 2.1l1.1 1.3l1.1 0.4l1.2 -0.7l1.1 -1.9l1.1 -2.8l1.1 -2.7l1.1 -1.5l1.1 -0.2l1.1 0.4l1.1 0.1l1.2 -0.6l1.1 -0.5l1.1 1.1l1.1 2.8l1.1 3.3l1.1 1.3l1.1 -2.4l1.1 -5.4l1.2 -5l1.1 -1.1l1.1 4l1.1 6.1l1.1 4l1.1 -0.9l1.1 -4.6l1.1 -4.5l1.1 -0.9l1.2 2.9" fill="none" stroke="#4893ca" stroke-width="1.15" stroke-linejoin="round"/>
<text transform="translate(1004.9 42.6) scale(0.92 1)" font-size="12" text-anchor="end" font-weight="bold">F7</text>
<text transform="translate(1004.9 53.2) scale(0.92 1)" font-size="12" text-anchor="end" font-weight="bold">F3</text>
<text transform="translate(1004.9 63.9) scale(0.92 1)" font-size="12" text-anchor="end" font-weight="bold">FP1</text>
<text transform="translate(1004.9 74.5) scale(0.92 1)" font-size="12" text-anchor="end" font-weight="bold">C2</text>
<text transform="translate(1004.9 85.1) scale(0.92 1)" font-size="12" text-anchor="end" font-weight="bold">C4</text>
<text transform="translate(1004.9 95.7) scale(0.92 1)" font-size="12" text-anchor="end" font-weight="bold">T6</text>
<text transform="translate(1004.9 106.4) scale(0.92 1)" font-size="12" text-anchor="end" font-weight="bold">P4</text>
<text transform="translate(1004.9 117) scale(0.92 1)" font-size="12" text-anchor="end" font-weight="bold">O2</text>
<text transform="translate(1004.9 127.6) scale(0.92 1)" font-size="12" text-anchor="end" font-weight="bold">O1</text>
<text transform="translate(1004.9 138.3) scale(0.92 1)" font-size="12" text-anchor="end" font-weight="bold">T5</text>
<text transform="translate(1004.9 148.9) scale(0.92 1)" font-size="12" text-anchor="end" font-weight="bold">P3</text>
<text transform="translate(1004.9 159.5) scale(0.92 1)" font-size="12" text-anchor="end" font-weight="bold">T3</text>
<text transform="translate(1004.9 170.1) scale(0.92 1)" font-size="12" text-anchor="end" font-weight="bold">C3</text>
<text transform="translate(1004.9 180.8) scale(0.92 1)" font-size="12" text-anchor="end" font-weight="bold">FPZ</text>
<text transform="translate(1004.9 191.4) scale(0.92 1)" font-size="12" text-anchor="end" font-weight="bold">Fz</text>
<text transform="translate(1004.9 202) scale(0.92 1)" font-size="12" text-anchor="end" font-weight="bold">F4</text>
<text transform="translate(1004.9 212.6) scale(0.92 1)" font-size="12" text-anchor="end" font-weight="bold">FP2</text>
<text transform="translate(1004.9 223.3) scale(0.92 1)" font-size="12" text-anchor="end" font-weight="bold">T4</text>
<text transform="translate(1004.9 233.9) scale(0.92 1)" font-size="12" text-anchor="end" font-weight="bold">F8</text>
<text transform="translate(1013 281.7) scale(0.87 1)" font-size="12.8" text-anchor="middle" stroke="#000" stroke-width="0.35">0</text>
<text transform="translate(1105.7 281.7) scale(0.87 1)" font-size="12.8" text-anchor="middle" stroke="#000" stroke-width="0.35">500</text>
<text transform="translate(1198.4 281.7) scale(0.87 1)" font-size="12.8" text-anchor="middle" stroke="#000" stroke-width="0.35">1000</text>
<text transform="translate(1291.1 281.7) scale(0.87 1)" font-size="12.8" text-anchor="middle" stroke="#000" stroke-width="0.35">1500</text>
<text transform="translate(1383.8 281.7) scale(0.87 1)" font-size="12.8" text-anchor="middle" stroke="#000" stroke-width="0.35">2000</text>
<text transform="translate(1476.4 281.7) scale(0.87 1)" font-size="12.8" text-anchor="middle" stroke="#000" stroke-width="0.35">2500</text>
<text transform="translate(1569.1 281.7) scale(0.87 1)" font-size="12.8" text-anchor="middle" stroke="#000" stroke-width="0.35">3000</text>
<text transform="translate(1661.8 281.7) scale(0.87 1)" font-size="12.8" text-anchor="middle" stroke="#000" stroke-width="0.35">3500</text>
<text transform="translate(1754.5 281.7) scale(0.87 1)" font-size="12.8" text-anchor="middle" stroke="#000" stroke-width="0.35">4000</text>
<text transform="translate(968.1 136) rotate(-90)" font-size="12.8" text-anchor="middle" stroke="#000" stroke-width="0.35" textLength="99.6">EEG original [<tspan font-style="italic">μ</tspan>V]</text>
<text x="944.4" y="359.6" font-size="31.5" font-weight="bold">D</text>
<rect x="1012.7" y="357.0" width="741.3" height="254.4" fill="none" stroke="#2b2b2b" stroke-width="1.5"/>
<path d="M1105.4 357.0v8M1105.4 611.4v-8M1198 357.0v8M1198 611.4v-8M1290.7 357.0v8M1290.7 611.4v-8M1383.3 357.0v8M1383.3 611.4v-8M1476 357.0v8M1476 611.4v-8M1568.7 357.0v8M1568.7 611.4v-8M1661.3 357.0v8M1661.3 611.4v-8M1012.7 387.2h7M1754.0 387.2h-7M1012.7 398.8h7M1754.0 398.8h-7M1012.7 410.5h7M1754.0 410.5h-7M1012.7 422.1h7M1754.0 422.1h-7M1012.7 433.7h7M1754.0 433.7h-7M1012.7 445.4h7M1754.0 445.4h-7M1012.7 457h7M1754.0 457h-7M1012.7 468.6h7M1754.0 468.6h-7M1012.7 480.3h7M1754.0 480.3h-7M1012.7 491.9h7M1754.0 491.9h-7M1012.7 503.5h7M1754.0 503.5h-7M1012.7 515.2h7M1754.0 515.2h-7M1012.7 526.8h7M1754.0 526.8h-7M1012.7 538.4h7M1754.0 538.4h-7M1012.7 550.1h7M1754.0 550.1h-7M1012.7 561.7h7M1754.0 561.7h-7M1012.7 573.3h7M1754.0 573.3h-7M1012.7 585h7M1754.0 585h-7M1012.7 596.6h7M1754.0 596.6h-7" stroke="#111" stroke-width="1.3"/>
<path d="M1012.7 385.8l1.1 -0.6l1.1 -0.7l1.1 -0.3l1.1 0.3l1.2 0.8l1.1 1.1l1.1 0.9l1.1 0.6l1.1 0.3l1.1 0.2l1.1 0.3l1.1 0.3l1.2 0.1l1.1 -0.1l1.1 -0.5l1.1 -0.7l1.1 -0.7l1.1 -0.7l1.1 -0.4l1.1 -0.1l1.2 0.3l1.1 0.7l1.1 0.7l1.1 0.4l1.1 -0.1l1.1 -0.7l1.1 -0.8l1.1 -0.5l1.1 -0.1l1.2 0.2l1.1 0.4l1.1 0.4l1.1 0.3l1.1 0.3l1.1 0.1l1.1 -0.2l1.1 -0.4l1.2 -0.5l1.1 0l1.1 0.6l1.1 1.1l1.1 0.9l1.1 0.5l1.1 0l1.1 -0.1l1.1 0.2l1.2 0.5l1.1 0.4l1.1 -0.2l1.1 -0.9l1.1 -1.2l1.1 -1l1.1 -0.5l1.1 -0.2l1.2 -0.2l1.1 -0.6l1.1 -0.9l1.1 -0.6l1.1 -0.1l1.1 0.5l1.1 0.7l1.1 0.5l1.2 0.1l1.1 -0.1l1.1 0l1.1 0.1l1.1 0.3l1.1 0.4l1.1 0.5l1.1 0.5l1.1 0.7l1.2 0.7l1.1 0.6l1.1 0.2l1.1 0l1.1 -0.2l1.1 -0.4l1.1 -0.8l1.1 -1.2l1.2 -1.7l1.1 -1.7l1.1 -1.1l1.1 0.2l1.1 1.4l1.1 2.1l1.1 1.7l1.1 0.8l1.2 -0.1l1.1 -0.6l1.1 -0.4l1.1 -0.2l1.1 -0.1l1.1 -0.1l1.1 -0.3l1.1 -0.1l1.1 0.3l1.2 0.6l1.1 0.5l1.1 -0.1l1.1 -0.9l1.1 -1.3l1.1 -1l1.1 -0.2l1.1 0.8l1.2 1.5l1.1 1.7l1.1 1.7l1.1 1.1l1.1 0.4l1.1 -0.3l1.1 -1l1.1 -1.4l1.2 -1.5l1.1 -1.4l1.1 -1.2l1.1 -1.1l1.1 -1.2l1.1 -0.8l1.1 0.1l1.1 1.2l1.1 2.3l1.2 2.6l1.1 1.7l1.1 0.4l1.1 -1l1.1 -1.8l1.1 -1.5l1.1 -0.9l1.1 -0.2l1.2 0l1.1 0l1.1 0l1.1 0l1.1 0.4l1.1 0.7l1.1 0.8l1.1 0.6l1.1 0.4l1.2 0.1l1.1 0.1l1.1 0.1l1.1 0.1l1.1 0l1.1 -0.1l1.1 -0.2l1.1 -0.1l1.2 0.2l1.1 0.6l1.1 0.8l1.1 0.7l1.1 0.2l1.1 -0.5l1.1 -1l1.1 -1.2l1.2 -0.9l1.1 -0.5l1.1 -0.4l1.1 -0.5l1.1 -0.8l1.1 -0.8l1.1 -0.5l1.1 0l1.1 0.6l1.2 0.9l1.1 0.8l1.1 0.9l1.1 0.9l1.1 1.2l1.1 1l1.1 0.3l1.1 -0.5l1.2 -1.3l1.1 -1.4l1.1 -0.6l1.1 0.5l1.1 1.1l1.1 1.1l1.1 0.3l1.1 -0.7l1.2 -1.1l1.1 -0.9l1.1 -0.2l1.1 0.4l1.1 0.8l1.1 0.6l1.1 0l1.1 -0.3l1.1 -0.4l1.2 -0.3l1.1 -0.1l1.1 -0.1l1.1 -0.4l1.1 -0.5l1.1 -0.5l1.1 -0.2l1.1 0.5l1.2 1.1l1.1 1.1l1.1 0.8l1.1 0.4l1.1 0l1.1 -0.1l1.1 0l1.1 0l1.1 -0.3l1.2 -0.8l1.1 -1.2l1.1 -1.3l1.1 -0.9l1.1 -0.3l1.1 0.2l1.1 0.5l1.1 0.6l1.2 0.7l1.1 0.8l1.1 0.7l1.1 0.3l1.1 -0.2l1.1 -0.6l1.1 -0.8l1.1 -0.4l1.2 0.3l1.1 0.8l1.1 0.9l1.1 0.4l1.1 -0.3l1.1 -0.7l1.1 -0.7l1.1 -0.3l1.1 0l1.2 0.2l1.1 0.2l1.1 0.1l1.1 0.2l1.1 0.5l1.1 0.6l1.1 0.4l1.1 -0.1l1.2 -0.7l1.1 -0.9l1.1 -0.7l1.1 -0.1l1.1 0.5l1.1 0.8l1.1 0.6l1.1 0.3l1.2 0.1l1.1 -0.2l1.1 -0.3l1.1 -0.4l1.1 -0.5l1.1 -0.5l1.1 -0.3l1.1 0.1l1.1 0.4l1.2 0.3l1.1 -0.1l1.1 -0.5l1.1 -0.7l1.1 -0.5l1.1 0.1l1.1 0.8l1.1 1.1l1.2 1l1.1 0.4l1.1 -0.3l1.1 -0.8l1.1 -1l1.1 -1l1.1 -0.3l1.1 0.5l1.2 1.3l1.1 1.7l1.1 1.5l1.1 0.5l1.1 -0.6l1.1 -1.4l1.1 -1.5l1.1 -0.9l1.1 0l1.2 0.4l1.1 0.2l1.1 -0.5l1.1 -0.9l1.1 -0.8l1.1 0.1l1.1 1l1.1 1.5l1.2 1.2l1.1 0.4l1.1 -0.2l1.1 -0.2l1.1 0.4l1.1 0.8l1.1 0.6l1.1 -0.3l1.1 -1.5l1.2 -2.3l1.1 -2l1.1 -0.9l1.1 0.5l1.1 1.1l1.1 0.9l1.1 0.3l1.1 -0.2l1.2 -0.1l1.1 0.3l1.1 0.8l1.1 0.6l1.1 0.1l1.1 -0.6l1.1 -0.7l1.1 -0.4l1.2 0.2l1.1 0.8l1.1 0.9l1.1 0.5l1.1 0l1.1 -0.4l1.1 -0.5l1.1 -0.3l1.1 0l1.2 0.2l1.1 0.3l1.1 0.2l1.1 -0.1l1.1 -0.4l1.1 -0.4l1.1 -0.2l1.1 0.2l1.2 0.6l1.1 0.7l1.1 0.3l1.1 -0.4l1.1 -1.2l1.1 -1.6l1.1 -1.2l1.1 -0.2l1.2 1.1l1.1 2.1l1.1 2.1l1.1 1.3l1.1 0.2l1.1 -0.9l1.1 -1.1l1.1 -0.9l1.1 -0.5l1.2 -0.1l1.1 -0.2l1.1 -0.5l1.1 -0.5l1.1 -0.3l1.1 0.2l1.1 0.5l1.1 0.8l1.2 0.7l1.1 0.3l1.1 0l1.1 -0.3l1.1 -0.3l1.1 -0.2l1.1 0l1.1 0l1.1 -0.2l1.2 -0.7l1.1 -1l1.1 -1l1.1 -0.4l1.1 0.5l1.1 1.3l1.1 1.5l1.1 1l1.2 0.2l1.1 -0.5l1.1 -0.6l1.1 -0.4l1.1 -0.3l1.1 -0.2l1.1 -0.1l1.1 0l1.2 0.4l1.1 0.7l1.1 0.9l1.1 0.7l1.1 0.3l1.1 -0.2l1.1 -0.4l1.1 -0.6l1.1 -0.8l1.2 -1l1.1 -1l1.1 -0.7l1.1 -0.1l1.1 0.4l1.1 0.8l1.1 0.8l1.1 0.4l1.2 0l1.1 -0.3l1.1 -0.7l1.1 -0.8l1.1 -0.7l1.1 -0.5l1.1 0.1l1.1 0.8l1.2 1.2l1.1 1.3l1.1 1.1l1.1 0.5l1.1 0.1l1.1 -0.1l1.1 -0.2l1.1 -0.4l1.1 -0.6l1.2 -0.8l1.1 -0.5l1.1 0l1.1 0.6l1.1 1.1l1.1 1l1.1 0.4l1.1 -0.4l1.2 -1l1.1 -0.9l1.1 -0.3l1.1 0.3l1.1 0.6l1.1 0.3l1.1 -0.4l1.1 -1l1.2 -1l1.1 -0.4l1.1 0.4l1.1 0.8l1.1 0.6l1.1 0.1l1.1 -0.4l1.1 -0.4l1.1 0.1l1.2 1l1.1 1.2l1.1 0.9l1.1 -0.2l1.1 -1l1.1 -1.5l1.1 -1l1.1 -0.2l1.2 0.6l1.1 0.8l1.1 0.2l1.1 -0.5l1.1 -1.2l1.1 -1.4l1.1 -1l1.1 -0.5l1.1 0.1l1.2 0.6l1.1 0.7l1.1 1l1.1 1.1l1.1 1.1l1.1 0.6l1.1 0l1.1 -0.7l1.2 -0.9l1.1 -0.8l1.1 0.1l1.1 0.9l1.1 1.6l1.1 1.7l1.1 1.2l1.1 0.5l1.2 -0.3l1.1 -0.7l1.1 -1l1.1 -1.1l1.1 -1.2l1.1 -1l1.1 -0.7l1.1 -0.2l1.1 0.2l1.2 0.4l1.1 0.1l1.1 -0.2l1.1 -0.4l1.1 -0.2l1.1 0.4l1.1 1l1.1 1.2l1.2 0.8l1.1 0.2l1.1 -0.4l1.1 -0.7l1.1 -0.6l1.1 -0.3l1.1 -0.1l1.1 -0.1l1.2 -0.2l1.1 -0.3l1.1 -0.1l1.1 0.2l1.1 0.7l1.1 0.8l1.1 0.6l1.1 0l1.1 -0.7l1.2 -1.1l1.1 -0.9l1.1 -0.3l1.1 0.3l1.1 0.6l1.1 0.3l1.1 0.1l1.1 -0.2l1.2 0.1l1.1 0.5l1.1 0.6l1.1 0.3l1.1 -0.3l1.1 -0.9l1.1 -1l1.1 -0.6l1.1 0.1l1.2 0.7l1.1 1l1.1 1l1.1 0.7l1.1 0.5l1.1 0.1l1.1 -0.3l1.1 -0.6l1.2 -0.6l1.1 -0.4l1.1 -0.1l1.1 0l1.1 -0.2l1.1 -0.5l1.1 -0.6l1.1 -0.5l1.2 -0.1l1.1 0.2l1.1 0.2l1.1 0l1.1 -0.1l1.1 -0.2l1.1 0l1.1 0.3l1.1 0.5l1.2 0.4l1.1 0.2l1.1 -0.1l1.1 -0.2l1.1 -0.1l1.1 0.2l1.1 0.5l1.1 0.8l1.2 0.6l1.1 0l1.1 -0.6l1.1 -1l1.1 -0.9l1.1 -0.5l1.1 0.2l1.1 0.5l1.2 0.7l1.1 0.9l1.1 1l1.1 1.3l1.1 1.2l1.1 0.8l1.1 -0.2l1.1 -1.2l1.1 -1.8l1.2 -1.7l1.1 -1.2l1.1 -0.5l1.1 -0.1l1.1 -0.1l1.1 -0.1l1.1 0l1.1 0.4l1.2 0.9l1.1 1l1.1 0.6l1.1 -0.2l1.1 -0.8l1.1 -1.2l1.1 -0.9l1.1 -0.5l1.2 -0.2l1.1 -0.2l1.1 -0.3l1.1 -0.4l1.1 0l1.1 0.7l1.1 1.1l1.1 1.3l1.1 1l1.2 0.4l1.1 0.2l1.1 0.3l1.1 0.5l1.1 0.5l1.1 -0.1l1.1 -0.8l1.1 -0.9l1.2 -0.4l1.1 0.5l1.1 1.4l1.1 1.2l1.1 0.1l1.1 -1.4l1.1 -2.3l1.1 -2.3l1.1 -1.1l1.2 0.1l1.1 1.1l1.1 1.4l1.1 0.9l1.1 0.3l1.1 -0.3l1.1 -0.7l1.1 -1l1.2 -0.8l1.1 -0.1l1.1 0.9l1.1 1.6l1.1 1.8l1.1 1l1.1 -0.2l1.1 -0.9l1.2 -1l1.1 -0.2l1.1 0.5l1.1 0.6l1.1 0.3l1.1 -0.2l1.1 -0.3l1.1 0.1l1.1 0.5l1.2 0.3l1.1 -0.5l1.1 -1.7l1.1 -2l1.1 -1.7l1.1 -0.5l1.1 0.4l1.1 1l1.2 1.1l1.1 1.4l1.1 1.6l1.1 1.7l1.1 1.1l1.1 -0.2l1.1 -1.6l1.1 -2.2l1.2 -1.8l1.1 -0.6" fill="none" stroke="#94be72" stroke-width="1.15" stroke-linejoin="round"/>
<path d="M1012.7 396.2l1.1 -0.1l1.1 0l1.1 0.3l1.1 0.7l1.2 0.9l1.1 1.2l1.1 1.2l1.1 1.3l1.1 1l1.1 0.7l1.1 0.2l1.1 -0.6l1.2 -1.2l1.1 -1.4l1.1 -1.5l1.1 -1.2l1.1 -0.9l1.1 -0.7l1.1 -0.6l1.1 -0.1l1.2 0.5l1.1 1.3l1.1 1.5l1.1 1.1l1.1 0.1l1.1 -0.9l1.1 -1.3l1.1 -0.8l1.1 0.2l1.2 1l1.1 1.1l1.1 0.4l1.1 -0.2l1.1 -0.6l1.1 -0.2l1.1 0.2l1.1 0.5l1.2 0.1l1.1 -0.3l1.1 -0.4l1.1 0.3l1.1 1.1l1.1 1.7l1.1 1.4l1.1 0.5l1.1 -0.7l1.2 -1.5l1.1 -1.6l1.1 -1.3l1.1 -1.2l1.1 -1.1l1.1 -1.3l1.1 -1.1l1.1 -0.4l1.2 0.6l1.1 1.5l1.1 1.6l1.1 1l1.1 0.1l1.1 -0.2l1.1 -0.1l1.1 0.5l1.2 0.8l1.1 0.6l1.1 0l1.1 -0.5l1.1 -0.3l1.1 0.2l1.1 0.9l1.1 1l1.1 0.4l1.2 -0.3l1.1 -0.7l1.1 -0.4l1.1 0.2l1.1 0.6l1.1 0.2l1.1 -0.8l1.1 -1.6l1.2 -1.9l1.1 -1l1.1 0.3l1.1 1.1l1.1 1.2l1.1 0.4l1.1 -0.4l1.1 -0.7l1.2 -0.5l1.1 0.2l1.1 0.8l1.1 0.9l1.1 0.4l1.1 0l1.1 -0.2l1.1 0.1l1.1 0.3l1.2 0.3l1.1 0.1l1.1 -0.7l1.1 -1.1l1.1 -1.1l1.1 -0.6l1.1 0.2l1.1 0.9l1.2 1.1l1.1 0.9l1.1 0.3l1.1 -0.2l1.1 -0.3l1.1 -0.1l1.1 0.3l1.1 0.5l1.2 0.3l1.1 -0.3l1.1 -1l1.1 -1.5l1.1 -1.3l1.1 -0.6l1.1 0.5l1.1 1.2l1.1 1.3l1.2 0.7l1.1 -0.3l1.1 -0.9l1.1 -0.8l1.1 0.1l1.1 0.9l1.1 1.1l1.1 0.4l1.2 -0.8l1.1 -1.5l1.1 -1.4l1.1 -0.3l1.1 0.9l1.1 1.5l1.1 1.4l1.1 0.6l1.1 -0.3l1.2 -0.6l1.1 -0.2l1.1 0.3l1.1 0.7l1.1 0.5l1.1 -0.2l1.1 -1l1.1 -1.5l1.2 -1.2l1.1 -0.2l1.1 0.8l1.1 1.6l1.1 1.4l1.1 0.5l1.1 -0.5l1.1 -0.9l1.2 -0.8l1.1 -0.1l1.1 0.3l1.1 0.2l1.1 -0.3l1.1 -0.8l1.1 -0.8l1.1 -0.4l1.1 0.1l1.2 0.4l1.1 0.4l1.1 0.2l1.1 0.3l1.1 0.7l1.1 1.1l1.1 0.8l1.1 0.2l1.2 -0.6l1.1 -1.2l1.1 -1.2l1.1 -0.6l1.1 0l1.1 0.3l1.1 0.3l1.1 0.3l1.2 0.5l1.1 0.7l1.1 0.8l1.1 0.6l1.1 0.1l1.1 -0.8l1.1 -1.3l1.1 -1.5l1.1 -1l1.2 -0.1l1.1 0.6l1.1 0.9l1.1 0.4l1.1 -0.4l1.1 -0.8l1.1 -0.9l1.1 -0.2l1.2 0.6l1.1 1.2l1.1 1.4l1.1 1.1l1.1 0.6l1.1 0.1l1.1 0l1.1 -0.2l1.1 -0.2l1.2 -0.4l1.1 -0.6l1.1 -0.8l1.1 -1.1l1.1 -1l1.1 -0.8l1.1 -0.3l1.1 0.3l1.2 0.7l1.1 0.9l1.1 0.6l1.1 0.3l1.1 0.2l1.1 0.5l1.1 0.8l1.1 0.9l1.2 0.7l1.1 0.1l1.1 -0.3l1.1 -0.5l1.1 -0.4l1.1 -0.3l1.1 -0.5l1.1 -0.9l1.1 -1.5l1.2 -1.4l1.1 -0.9l1.1 0.3l1.1 1.3l1.1 1.9l1.1 1.7l1.1 0.7l1.1 -0.2l1.2 -0.7l1.1 -0.4l1.1 0.3l1.1 0.9l1.1 0.9l1.1 0.1l1.1 -1l1.1 -1.6l1.2 -1.4l1.1 -0.3l1.1 0.7l1.1 1.1l1.1 0.6l1.1 -0.1l1.1 -0.9l1.1 -0.8l1.1 -0.3l1.2 0.2l1.1 0.4l1.1 0l1.1 -0.5l1.1 -0.9l1.1 -0.8l1.1 -0.4l1.1 0l1.2 0.4l1.1 0.6l1.1 0.9l1.1 0.7l1.1 0.5l1.1 0.2l1.1 0.2l1.1 0.4l1.2 0.9l1.1 1.3l1.1 1.1l1.1 0.1l1.1 -1l1.1 -1.9l1.1 -2.2l1.1 -1.7l1.1 -0.7l1.2 0.2l1.1 0.9l1.1 1.3l1.1 1.1l1.1 0.9l1.1 0.4l1.1 0.2l1.1 0l1.2 0l1.1 -0.1l1.1 -0.4l1.1 -0.7l1.1 -0.8l1.1 -0.5l1.1 0.2l1.1 0.5l1.1 0.5l1.2 -0.1l1.1 -0.9l1.1 -1.1l1.1 -0.7l1.1 -0.1l1.1 0.4l1.1 0.4l1.1 0.2l1.2 0l1.1 0.1l1.1 0.5l1.1 0.9l1.1 0.8l1.1 0.4l1.1 -0.1l1.1 -0.4l1.2 -0.4l1.1 -0.3l1.1 -0.1l1.1 -0.1l1.1 0l1.1 -0.1l1.1 -0.1l1.1 -0.1l1.1 -0.3l1.2 -0.2l1.1 0.1l1.1 0.5l1.1 0.9l1.1 1l1.1 0.9l1.1 0.4l1.1 -0.2l1.2 -0.7l1.1 -1.1l1.1 -1.2l1.1 -0.9l1.1 -0.4l1.1 0.1l1.1 0.5l1.1 0.3l1.2 0l1.1 -0.2l1.1 0l1.1 0.5l1.1 1l1.1 1.2l1.1 0.9l1.1 0.2l1.1 -0.3l1.2 -0.8l1.1 -0.8l1.1 -0.9l1.1 -0.7l1.1 -0.5l1.1 -0.1l1.1 0.3l1.1 0.7l1.2 0.6l1.1 0.3l1.1 -0.2l1.1 -0.4l1.1 -0.3l1.1 -0.1l1.1 0.4l1.1 0.4l1.1 0.1l1.2 -0.3l1.1 -0.7l1.1 -0.7l1.1 -0.3l1.1 0.3l1.1 0.7l1.1 0.5l1.1 0l1.2 -0.9l1.1 -1.3l1.1 -1.1l1.1 -0.4l1.1 0.4l1.1 1.1l1.1 1.3l1.1 1l1.2 0.6l1.1 0.4l1.1 0.3l1.1 0.3l1.1 0.4l1.1 0.4l1.1 0.4l1.1 0.2l1.1 -0.4l1.2 -1l1.1 -1.5l1.1 -1.6l1.1 -0.9l1.1 0l1.1 0.9l1.1 1.3l1.1 0.8l1.2 -0.1l1.1 -0.8l1.1 -1.2l1.1 -0.8l1.1 -0.1l1.1 0.7l1.1 1.2l1.1 1l1.2 0.5l1.1 -0.2l1.1 -0.7l1.1 -0.8l1.1 -0.2l1.1 0.4l1.1 0.9l1.1 0.5l1.1 -0.1l1.2 -0.8l1.1 -1l1.1 -0.4l1.1 0.4l1.1 1.1l1.1 1.2l1.1 0.5l1.1 -0.2l1.2 -0.7l1.1 -0.7l1.1 -0.4l1.1 -0.3l1.1 -0.2l1.1 -0.3l1.1 0l1.1 0.4l1.2 1.2l1.1 1.4l1.1 1.3l1.1 0.4l1.1 -0.6l1.1 -1.5l1.1 -1.9l1.1 -1.7l1.1 -0.9l1.2 0l1.1 0.9l1.1 1.5l1.1 1.6l1.1 1l1.1 -0.1l1.1 -1.4l1.1 -2.2l1.2 -2.1l1.1 -1.1l1.1 0.1l1.1 1.2l1.1 1.3l1.1 0.9l1.1 0.1l1.1 -0.5l1.1 -0.4l1.2 0.2l1.1 0.8l1.1 1.5l1.1 1.6l1.1 1.3l1.1 0.7l1.1 -0.3l1.1 -1.2l1.2 -1.7l1.1 -1.4l1.1 -0.4l1.1 0.8l1.1 1.5l1.1 1.3l1.1 0.3l1.1 -1.1l1.2 -1.9l1.1 -2l1.1 -1.3l1.1 -0.4l1.1 0.3l1.1 0.7l1.1 0.6l1.1 0.6l1.1 0.7l1.2 0.7l1.1 0.8l1.1 0.6l1.1 0.6l1.1 0.5l1.1 0.3l1.1 0.1l1.1 -0.2l1.2 -0.4l1.1 -0.8l1.1 -0.9l1.1 -0.9l1.1 -0.8l1.1 -0.6l1.1 -0.3l1.1 -0.1l1.2 0.3l1.1 0.4l1.1 0.5l1.1 0.6l1.1 0.6l1.1 0.5l1.1 0.3l1.1 0.2l1.1 0.1l1.2 0l1.1 -0.3l1.1 -0.7l1.1 -1.1l1.1 -1.4l1.1 -1.2l1.1 -0.3l1.1 0.6l1.2 1.3l1.1 1.5l1.1 1l1.1 0.3l1.1 -0.1l1.1 -0.2l1.1 -0.1l1.1 0l1.1 -0.2l1.2 -0.4l1.1 -0.4l1.1 0.2l1.1 1l1.1 1.6l1.1 1.5l1.1 0.9l1.1 -0.2l1.2 -1.2l1.1 -1.8l1.1 -1.7l1.1 -1.5l1.1 -1.2l1.1 -0.8l1.1 -0.3l1.1 0.4l1.2 0.9l1.1 1.2l1.1 0.9l1.1 0.3l1.1 -0.2l1.1 -0.2l1.1 0.2l1.1 0.7l1.1 0.8l1.2 0.2l1.1 -0.5l1.1 -0.9l1.1 -0.7l1.1 -0.2l1.1 0.2l1.1 0l1.1 -0.5l1.2 -0.8l1.1 -0.4l1.1 0.4l1.1 1.1l1.1 1.2l1.1 0.7l1.1 0l1.1 -0.2l1.2 0.2l1.1 0.7l1.1 0.9l1.1 0.4l1.1 -0.4l1.1 -0.9l1.1 -0.6l1.1 0.1l1.1 0.8l1.2 0.7l1.1 0l1.1 -1.1l1.1 -1.9l1.1 -1.7l1.1 -1.2l1.1 -0.3l1.1 0.4l1.2 0.7l1.1 0.9l1.1 0.8l1.1 0.8l1.1 0.7l1.1 0.3l1.1 -0.1l1.1 -0.6l1.2 -0.7l1.1 -0.8l1.1 -0.7l1.1 -0.6l1.1 -0.4l1.1 0.1l1.1 0.6l1.1 0.9l1.1 1l1.2 0.6l1.1 0.2l1.1 0l1.1 0.2l1.1 0.6l1.1 1.1l1.1 1l1.1 0.5l1.2 0l1.1 -0.7l1.1 -1l1.1 -1.2l1.1 -1.1l1.1 -1l1.1 -0.5l1.1 -0.1l1.1 0.3l1.2 0.2l1.1 0l1.1 -0.3l1.1 -0.2l1.1 0.4l1.1 0.9l1.1 1.1l1.1 0.6l1.2 -0.1l1.1 -0.7l1.1 -0.8l1.1 -0.5l1.1 -0.2l1.1 -0.1l1.1 -0.2l1.1 0.1l1.2 0.5l1.1 1.3l1.1 1.5l1.1 1l1.1 0l1.1 -0.9l1.1 -1.1l1.1 -0.9l1.1 -0.2l1.2 0.1l1.1 -0.1l1.1 -0.3l1.1 -0.6l1.1 -0.4l1.1 0l1.1 0.1l1.1 0l1.2 -0.1l1.1 -0.2l1.1 0l1.1 0.4l1.1 0.5l1.1 0.3l1.1 -0.2l1.1 -0.7l1.2 -0.8l1.1 -0.4" fill="none" stroke="#9259a8" stroke-width="1.15" stroke-linejoin="round"/>
<path d="M1012.7 407.6l1.1 0.7l1.1 1.2l1.1 1.3l1.1 0.6l1.2 -0.1l1.1 -0.5l1.1 -0.4l1.1 0.3l1.1 0.9l1.1 1.1l1.1 0.7l1.1 0l1.2 -0.7l1.1 -0.9l1.1 -1l1.1 -0.8l1.1 -0.8l1.1 -0.5l1.1 -0.2l1.1 0.1l1.2 0.3l1.1 0.5l1.1 0.4l1.1 0.2l1.1 0.2l1.1 0.4l1.1 0.7l1.1 0.6l1.1 0.5l1.2 -0.2l1.1 -0.9l1.1 -1.3l1.1 -1.3l1.1 -1l1.1 -0.3l1.1 0.1l1.1 0.4l1.2 0.5l1.1 0.5l1.1 0.4l1.1 0.7l1.1 0.9l1.1 1.1l1.1 1.3l1.1 1.2l1.1 0.9l1.2 0.2l1.1 -0.3l1.1 -0.9l1.1 -1.2l1.1 -1.2l1.1 -1l1.1 -0.8l1.1 -0.5l1.2 -0.3l1.1 -0.3l1.1 -0.4l1.1 -0.5l1.1 -0.5l1.1 -0.4l1.1 -0.1l1.1 0.1l1.2 0.4l1.1 0.4l1.1 0.4l1.1 0.6l1.1 0.8l1.1 1.2l1.1 1.2l1.1 0.8l1.1 0.2l1.2 -0.5l1.1 -0.9l1.1 -0.9l1.1 -0.5l1.1 0l1.1 0.4l1.1 0.5l1.1 0.1l1.2 -0.2l1.1 -0.7l1.1 -0.9l1.1 -0.7l1.1 -0.2l1.1 0.2l1.1 0.5l1.1 0.6l1.2 0.4l1.1 0.4l1.1 0.4l1.1 0.5l1.1 0.4l1.1 -0.1l1.1 -0.7l1.1 -1.2l1.1 -1.3l1.2 -1l1.1 -0.2l1.1 0.4l1.1 0.9l1.1 1.1l1.1 1.1l1.1 0.9l1.1 0.6l1.2 0.2l1.1 -0.5l1.1 -0.8l1.1 -0.8l1.1 -0.4l1.1 0.3l1.1 0.6l1.1 0.5l1.2 -0.1l1.1 -0.9l1.1 -1.4l1.1 -1.2l1.1 -0.7l1.1 0.1l1.1 0.9l1.1 1.2l1.1 1.1l1.2 0.6l1.1 0.1l1.1 -0.2l1.1 -0.4l1.1 -0.2l1.1 -0.1l1.1 0.1l1.1 -0.1l1.2 -0.2l1.1 -0.3l1.1 -0.1l1.1 0l1.1 0.2l1.1 0.2l1.1 0.1l1.1 -0.1l1.1 0l1.2 0.1l1.1 0.4l1.1 0.7l1.1 0.7l1.1 0.3l1.1 -0.1l1.1 -0.7l1.1 -0.9l1.2 -0.9l1.1 -0.7l1.1 -0.4l1.1 0l1.1 0.3l1.1 0.5l1.1 0.5l1.1 0.3l1.2 -0.1l1.1 -0.4l1.1 -0.5l1.1 -0.4l1.1 -0.1l1.1 0.3l1.1 0.5l1.1 0.5l1.1 0.4l1.2 0.3l1.1 0.4l1.1 0.3l1.1 0.4l1.1 0.2l1.1 -0.2l1.1 -0.4l1.1 -0.6l1.2 -0.5l1.1 -0.2l1.1 0l1.1 0.2l1.1 0.1l1.1 -0.3l1.1 -0.6l1.1 -0.8l1.2 -0.7l1.1 -0.2l1.1 0.5l1.1 1.1l1.1 1.4l1.1 1.3l1.1 0.7l1.1 0l1.1 -0.7l1.2 -1l1.1 -1l1.1 -0.8l1.1 -0.5l1.1 -0.3l1.1 -0.1l1.1 -0.1l1.1 0.2l1.2 0.5l1.1 0.7l1.1 0.8l1.1 0.7l1.1 0.5l1.1 0.2l1.1 -0.1l1.1 -0.3l1.1 -0.4l1.2 -0.6l1.1 -0.5l1.1 -0.3l1.1 0l1.1 0l1.1 -0.1l1.1 -0.6l1.1 -0.9l1.2 -1l1.1 -0.5l1.1 0.4l1.1 1.4l1.1 1.9l1.1 2l1.1 1.3l1.1 0.5l1.2 -0.2l1.1 -0.5l1.1 -0.6l1.1 -0.6l1.1 -0.7l1.1 -0.9l1.1 -1.1l1.1 -1.1l1.1 -0.6l1.2 0.2l1.1 0.7l1.1 1l1.1 0.8l1.1 0.1l1.1 -0.4l1.1 -0.5l1.1 -0.2l1.2 0.2l1.1 0.6l1.1 0.5l1.1 0.3l1.1 -0.2l1.1 -0.5l1.1 -0.7l1.1 -0.6l1.2 -0.4l1.1 0l1.1 0.5l1.1 0.7l1.1 0.7l1.1 0.2l1.1 -0.4l1.1 -1.1l1.1 -1.1l1.2 -0.6l1.1 0.2l1.1 1.1l1.1 1.6l1.1 1.4l1.1 0.9l1.1 0.2l1.1 -0.3l1.2 -0.4l1.1 -0.4l1.1 -0.4l1.1 -0.4l1.1 -0.6l1.1 -0.6l1.1 -0.3l1.1 0.2l1.2 0.5l1.1 0.5l1.1 0l1.1 -0.7l1.1 -1.1l1.1 -1.1l1.1 -0.6l1.1 0.2l1.1 0.6l1.2 0.9l1.1 0.8l1.1 0.7l1.1 0.5l1.1 0.5l1.1 0.5l1.1 0.3l1.1 0.2l1.2 0.1l1.1 -0.2l1.1 -0.5l1.1 -0.8l1.1 -0.8l1.1 -0.7l1.1 -0.2l1.1 0.2l1.1 0.3l1.2 -0.1l1.1 -0.5l1.1 -0.9l1.1 -0.9l1.1 -0.2l1.1 0.6l1.1 1.2l1.1 1.2l1.2 0.8l1.1 0.2l1.1 -0.5l1.1 -0.6l1.1 -0.6l1.1 -0.2l1.1 0.2l1.1 0.5l1.2 0.5l1.1 0.3l1.1 -0.2l1.1 -0.7l1.1 -1.1l1.1 -1l1.1 -0.5l1.1 0.4l1.1 1.3l1.2 1.5l1.1 1.4l1.1 0.7l1.1 0l1.1 -0.3l1.1 -0.2l1.1 -0.2l1.1 -0.1l1.2 -0.2l1.1 -0.6l1.1 -0.8l1.1 -0.7l1.1 -0.4l1.1 -0.2l1.1 -0.3l1.1 -0.4l1.2 -0.3l1.1 0l1.1 0.7l1.1 1.2l1.1 1.4l1.1 0.8l1.1 0.1l1.1 -0.7l1.1 -1l1.2 -0.6l1.1 -0.1l1.1 0.5l1.1 0.6l1.1 0.4l1.1 0l1.1 -0.2l1.1 -0.3l1.2 -0.2l1.1 -0.3l1.1 -0.3l1.1 -0.4l1.1 -0.3l1.1 -0.1l1.1 0.1l1.1 0.3l1.1 0.1l1.2 -0.2l1.1 -0.2l1.1 0l1.1 0.3l1.1 0.5l1.1 0.5l1.1 0.1l1.1 -0.3l1.2 -0.4l1.1 -0.3l1.1 0.1l1.1 0.2l1.1 0.1l1.1 -0.3l1.1 -0.5l1.1 -0.5l1.2 0l1.1 0.5l1.1 0.9l1.1 1.1l1.1 0.9l1.1 0.6l1.1 0l1.1 -0.4l1.1 -0.7l1.2 -0.7l1.1 -0.5l1.1 -0.4l1.1 -0.1l1.1 -0.2l1.1 -0.2l1.1 -0.1l1.1 0l1.2 0.3l1.1 0.3l1.1 0.1l1.1 -0.4l1.1 -0.6l1.1 -0.5l1.1 -0.1l1.1 0.6l1.2 1l1.1 0.8l1.1 0.2l1.1 -0.6l1.1 -1.2l1.1 -1l1.1 -0.1l1.1 0.8l1.1 1.3l1.2 1l1.1 0l1.1 -1.1l1.1 -1.3l1.1 -0.7l1.1 0.7l1.1 1.8l1.1 1.9l1.2 0.8l1.1 -0.8l1.1 -2l1.1 -2l1.1 -1l1.1 0.1l1.1 0.7l1.1 0.7l1.2 0.1l1.1 -0.4l1.1 -0.1l1.1 0.7l1.1 1.4l1.1 1.6l1.1 1l1.1 0.2l1.1 -0.4l1.2 -0.6l1.1 -0.1l1.1 0.1l1.1 0.1l1.1 -0.2l1.1 -0.7l1.1 -0.9l1.1 -0.7l1.2 -0.4l1.1 -0.3l1.1 -0.6l1.1 -1.1l1.1 -1.2l1.1 -0.7l1.1 0.1l1.1 0.9l1.1 1.4l1.2 1.1l1.1 0.4l1.1 -0.2l1.1 -0.5l1.1 -0.4l1.1 -0.1l1.1 0l1.1 0l1.2 -0.3l1.1 -0.2l1.1 0.1l1.1 0.8l1.1 1.3l1.1 1.6l1.1 1.1l1.1 0.4l1.2 -0.5l1.1 -0.9l1.1 -0.8l1.1 -0.3l1.1 0.2l1.1 0.4l1.1 0l1.1 -0.6l1.1 -0.9l1.2 -0.8l1.1 -0.4l1.1 0.2l1.1 0.6l1.1 0.6l1.1 0.4l1.1 0.1l1.1 0.2l1.2 0.1l1.1 0.2l1.1 -0.1l1.1 -0.4l1.1 -0.7l1.1 -0.8l1.1 -0.5l1.1 0l1.2 0.6l1.1 0.9l1.1 0.8l1.1 0.3l1.1 -0.1l1.1 -0.3l1.1 -0.2l1.1 -0.2l1.1 -0.1l1.2 -0.3l1.1 -0.7l1.1 -0.9l1.1 -0.7l1.1 -0.2l1.1 0.2l1.1 0.6l1.1 0.6l1.2 0.3l1.1 0.3l1.1 0.4l1.1 0.6l1.1 0.7l1.1 0.5l1.1 0l1.1 -0.3l1.1 -0.5l1.2 -0.3l1.1 0.1l1.1 0.6l1.1 0.8l1.1 0.8l1.1 0.3l1.1 -0.3l1.1 -1.1l1.2 -1.5l1.1 -1.4l1.1 -0.9l1.1 -0.1l1.1 0.3l1.1 0.2l1.1 -0.2l1.1 -0.7l1.2 -0.6l1.1 0.2l1.1 1l1.1 1.4l1.1 1l1.1 0.1l1.1 -0.6l1.1 -0.7l1.1 -0.1l1.2 0.6l1.1 0.7l1.1 0l1.1 -0.9l1.1 -1.4l1.1 -1.2l1.1 -0.2l1.1 0.8l1.2 1.1l1.1 1l1.1 0.6l1.1 0.4l1.1 0.4l1.1 0.6l1.1 0.4l1.1 0.2l1.2 -0.1l1.1 -0.1l1.1 0.2l1.1 0.5l1.1 0.4l1.1 -0.1l1.1 -0.7l1.1 -1l1.1 -0.8l1.2 -0.3l1.1 0.3l1.1 0.3l1.1 0l1.1 -0.7l1.1 -1l1.1 -1l1.1 -0.4l1.2 0.1l1.1 0.3l1.1 -0.1l1.1 -0.5l1.1 -0.6l1.1 -0.1l1.1 0.6l1.1 1.1l1.2 1.1l1.1 0.6l1.1 -0.1l1.1 -0.2l1.1 -0.1l1.1 0.5l1.1 0.8l1.1 0.5l1.1 -0.1l1.2 -0.6l1.1 -0.6l1.1 -0.1l1.1 0.3l1.1 0.6l1.1 0.3l1.1 -0.2l1.1 -0.7l1.2 -0.8l1.1 -0.9l1.1 -0.7l1.1 -0.5l1.1 -0.1l1.1 0.2l1.1 0.7l1.1 0.8l1.1 0.7l1.2 0.7l1.1 0.4l1.1 0.2l1.1 0.1l1.1 -0.1l1.1 -0.3l1.1 -0.4l1.1 -0.3l1.2 -0.1l1.1 0.1l1.1 0.3l1.1 0.2l1.1 0.1l1.1 0l1.1 -0.2l1.1 -0.5l1.2 -0.6l1.1 -0.6l1.1 -0.2l1.1 0.2l1.1 0.6l1.1 0.7l1.1 0.2l1.1 -0.5l1.1 -1l1.2 -1.1l1.1 -0.6l1.1 0.2l1.1 0.6l1.1 0.8l1.1 0.6l1.1 0.4l1.1 0.4l1.2 0.6l1.1 0.6l1.1 0.6l1.1 0.2l1.1 -0.2l1.1 -0.6l1.1 -0.8l1.1 -0.8l1.2 -0.6l1.1 -0.6" fill="none" stroke="#eec564" stroke-width="1.15" stroke-linejoin="round"/>
<path d="M1012.7 417.6l1.1 -0.5l1.1 0.8l1.1 1.8l1.1 2.1l1.2 1.6l1.1 0.6l1.1 -0.2l1.1 -0.4l1.1 -0.2l1.1 0.4l1.1 0.6l1.1 0.3l1.2 -0.6l1.1 -1.5l1.1 -1.9l1.1 -1.4l1.1 -0.2l1.1 1.1l1.1 1.9l1.1 1.8l1.2 0.8l1.1 -0.3l1.1 -1l1.1 -0.9l1.1 -0.1l1.1 0.5l1.1 0.6l1.1 0.1l1.1 -0.4l1.2 -0.7l1.1 -0.7l1.1 -0.5l1.1 -0.4l1.1 -0.4l1.1 -0.5l1.1 -0.3l1.1 0.2l1.2 0.6l1.1 0.9l1.1 0.9l1.1 0.6l1.1 0.5l1.1 0.3l1.1 0.3l1.1 0.1l1.1 -0.1l1.2 -0.3l1.1 -0.2l1.1 0.1l1.1 0.7l1.1 0.8l1.1 0.4l1.1 -0.6l1.1 -1.5l1.2 -2l1.1 -1.4l1.1 -0.3l1.1 0.7l1.1 1l1.1 0.5l1.1 -0.6l1.1 -1.5l1.2 -1.5l1.1 -0.8l1.1 0.4l1.1 1.4l1.1 1.9l1.1 1.9l1.1 1.4l1.1 0.8l1.1 0.4l1.2 -0.1l1.1 -0.7l1.1 -1.1l1.1 -1.2l1.1 -1.1l1.1 -0.5l1.1 0.3l1.1 0.8l1.2 0.9l1.1 0.4l1.1 -0.2l1.1 -0.9l1.1 -1.1l1.1 -0.9l1.1 -0.2l1.1 0.6l1.2 1.1l1.1 1.3l1.1 0.9l1.1 0.3l1.1 -0.3l1.1 -0.8l1.1 -0.9l1.1 -0.6l1.1 -0.3l1.2 0.1l1.1 0.3l1.1 0.4l1.1 0.2l1.1 0l1.1 -0.1l1.1 -0.2l1.1 -0.1l1.2 0.2l1.1 0.4l1.1 0.5l1.1 0.6l1.1 0.5l1.1 0.3l1.1 0.1l1.1 -0.1l1.2 -0.5l1.1 -1l1.1 -1.3l1.1 -1.5l1.1 -1.1l1.1 -0.3l1.1 0.9l1.1 1.5l1.1 1.5l1.2 0.7l1.1 -0.5l1.1 -1.4l1.1 -1.4l1.1 -0.7l1.1 0.3l1.1 1l1.1 1.1l1.2 0.7l1.1 0.2l1.1 0l1.1 0l1.1 0.3l1.1 0.3l1.1 0.2l1.1 0.1l1.1 0.1l1.2 0.2l1.1 0.4l1.1 0.2l1.1 -0.2l1.1 -0.7l1.1 -0.8l1.1 -0.7l1.1 -0.4l1.2 0l1.1 0.2l1.1 0.1l1.1 0l1.1 0l1.1 -0.1l1.1 -0.1l1.1 -0.2l1.2 -0.1l1.1 0l1.1 0.1l1.1 0.4l1.1 0.4l1.1 0.1l1.1 -0.2l1.1 -0.5l1.1 -0.5l1.2 -0.1l1.1 0.3l1.1 0.5l1.1 0.7l1.1 0.5l1.1 0.5l1.1 0.3l1.1 0.3l1.2 -0.1l1.1 -0.6l1.1 -1.1l1.1 -1.4l1.1 -0.9l1.1 0l1.1 0.8l1.1 1.2l1.2 0.8l1.1 0l1.1 -0.8l1.1 -1l1.1 -0.8l1.1 -0.1l1.1 0.5l1.1 0.7l1.1 0.7l1.2 0.5l1.1 0.2l1.1 0.2l1.1 0.1l1.1 -0.2l1.1 -0.4l1.1 -0.5l1.1 -0.3l1.2 0.3l1.1 0.7l1.1 0.9l1.1 0.6l1.1 -0.2l1.1 -0.9l1.1 -1.1l1.1 -0.7l1.1 0.1l1.2 0.6l1.1 0.5l1.1 -0.2l1.1 -0.7l1.1 -1l1.1 -0.6l1.1 0.3l1.1 1l1.2 1.2l1.1 1l1.1 0.4l1.1 -0.1l1.1 -0.4l1.1 -0.4l1.1 -0.4l1.1 -0.2l1.2 -0.1l1.1 0.2l1.1 0.1l1.1 0.2l1.1 0l1.1 -0.1l1.1 -0.1l1.1 -0.1l1.1 -0.3l1.2 -0.4l1.1 -0.6l1.1 -0.3l1.1 0.3l1.1 0.9l1.1 0.9l1.1 0.4l1.1 -0.5l1.2 -1l1.1 -0.8l1.1 0.1l1.1 0.9l1.1 1.1l1.1 0.7l1.1 -0.3l1.1 -0.8l1.2 -0.7l1.1 0.1l1.1 0.7l1.1 0.7l1.1 0.2l1.1 -0.7l1.1 -1.4l1.1 -1.4l1.1 -1l1.2 -0.3l1.1 0.6l1.1 0.9l1.1 0.9l1.1 0.5l1.1 -0.1l1.1 -0.4l1.1 -0.4l1.2 0.3l1.1 1l1.1 1.4l1.1 1l1.1 0.2l1.1 -0.9l1.1 -1.4l1.1 -1.4l1.2 -0.8l1.1 0l1.1 0.7l1.1 1l1.1 0.9l1.1 0.5l1.1 -0.1l1.1 -0.8l1.1 -1.2l1.2 -1.3l1.1 -0.7l1.1 0.2l1.1 1.2l1.1 1.9l1.1 1.8l1.1 1.1l1.1 0l1.2 -0.9l1.1 -1.4l1.1 -1.2l1.1 -0.5l1.1 0.3l1.1 0.7l1.1 0.8l1.1 0.3l1.1 -0.4l1.2 -1l1.1 -0.9l1.1 -0.5l1.1 0.1l1.1 0.4l1.1 0.3l1.1 0l1.1 -0.3l1.2 -0.3l1.1 -0.1l1.1 0.2l1.1 0.2l1.1 0.1l1.1 0.1l1.1 0.2l1.1 0.4l1.2 0.6l1.1 0.6l1.1 0.4l1.1 0l1.1 -0.2l1.1 -0.3l1.1 -0.2l1.1 -0.2l1.1 -0.4l1.2 -0.6l1.1 -0.6l1.1 -0.6l1.1 -0.2l1.1 0.2l1.1 0.7l1.1 0.7l1.1 0.7l1.2 0.5l1.1 0l1.1 -0.2l1.1 -0.3l1.1 -0.2l1.1 -0.1l1.1 -0.2l1.1 -0.4l1.2 -0.7l1.1 -0.7l1.1 0l1.1 0.9l1.1 1.6l1.1 1.7l1.1 0.9l1.1 -0.5l1.1 -1.6l1.2 -1.8l1.1 -1.2l1.1 0l1.1 0.8l1.1 0.8l1.1 0.4l1.1 -0.4l1.1 -0.6l1.2 -0.2l1.1 0.5l1.1 0.9l1.1 1l1.1 0.3l1.1 -0.5l1.1 -0.9l1.1 -1.1l1.1 -0.8l1.2 -0.4l1.1 -0.1l1.1 0.2l1.1 0.5l1.1 0.6l1.1 0.4l1.1 0l1.1 -0.4l1.2 -0.5l1.1 0l1.1 0.7l1.1 1.3l1.1 1.2l1.1 0.6l1.1 -0.4l1.1 -0.8l1.2 -0.9l1.1 -0.3l1.1 0.2l1.1 0.4l1.1 0l1.1 -0.4l1.1 -0.7l1.1 -0.6l1.1 -0.3l1.2 0.1l1.1 0.3l1.1 0.4l1.1 0.4l1.1 0.3l1.1 0l1.1 -0.4l1.1 -0.6l1.2 -0.6l1.1 -0.3l1.1 0.1l1.1 0.4l1.1 0.5l1.1 0.3l1.1 0.1l1.1 -0.1l1.2 0.1l1.1 0.3l1.1 0.8l1.1 0.8l1.1 0.6l1.1 0l1.1 -0.7l1.1 -1l1.1 -0.9l1.2 -0.5l1.1 0.1l1.1 0.5l1.1 0.4l1.1 0.1l1.1 -0.1l1.1 -0.2l1.1 -0.1l1.2 0.1l1.1 0.1l1.1 0l1.1 -0.1l1.1 -0.1l1.1 0.1l1.1 0.3l1.1 0.3l1.2 -0.1l1.1 -0.5l1.1 -0.8l1.1 -0.6l1.1 -0.1l1.1 0.4l1.1 0.7l1.1 0.8l1.1 0.7l1.2 0.3l1.1 0.2l1.1 -0.1l1.1 -0.1l1.1 0l1.1 0.1l1.1 0.1l1.1 0.1l1.2 -0.3l1.1 -0.8l1.1 -1.2l1.1 -1.4l1.1 -1l1.1 -0.4l1.1 0.2l1.1 0.6l1.1 0.7l1.2 0.5l1.1 0.4l1.1 0.2l1.1 0.2l1.1 0.2l1.1 0.4l1.1 0.4l1.1 0.5l1.2 0.3l1.1 0l1.1 -0.4l1.1 -0.6l1.1 -0.4l1.1 0.1l1.1 0.5l1.1 0.8l1.2 0.5l1.1 0.1l1.1 -0.4l1.1 -0.4l1.1 -0.2l1.1 0.2l1.1 0.1l1.1 -0.2l1.1 -0.7l1.2 -0.9l1.1 -0.9l1.1 -0.4l1.1 0.1l1.1 0.5l1.1 0.6l1.1 0.4l1.1 0.1l1.2 -0.1l1.1 -0.4l1.1 -0.4l1.1 -0.1l1.1 0.1l1.1 0.5l1.1 0.7l1.1 0.8l1.2 0.4l1.1 0l1.1 -0.5l1.1 -0.6l1.1 -0.5l1.1 0.2l1.1 0.7l1.1 0.9l1.1 0.7l1.2 0.1l1.1 -0.5l1.1 -0.8l1.1 -0.5l1.1 -0.3l1.1 -0.2l1.1 -0.3l1.1 -0.5l1.2 -0.6l1.1 -0.2l1.1 0.1l1.1 0.5l1.1 0.4l1.1 0.1l1.1 -0.2l1.1 -0.1l1.1 0.3l1.2 0.7l1.1 0.8l1.1 0.6l1.1 0l1.1 -0.3l1.1 -0.3l1.1 0l1.1 0.2l1.2 0.4l1.1 0l1.1 -0.3l1.1 -0.8l1.1 -0.9l1.1 -0.8l1.1 -0.5l1.1 -0.3l1.2 0l1.1 0l1.1 0.1l1.1 0.3l1.1 0.5l1.1 0.8l1.1 0.9l1.1 0.7l1.1 0.3l1.2 -0.1l1.1 -0.4l1.1 -0.4l1.1 -0.5l1.1 -0.7l1.1 -0.9l1.1 -0.8l1.1 0l1.2 1.2l1.1 2.1l1.1 2.2l1.1 1.4l1.1 -0.1l1.1 -1.3l1.1 -1.8l1.1 -1.3l1.2 -0.5l1.1 -0.1l1.1 0l1.1 -0.4l1.1 -0.4l1.1 0l1.1 0.4l1.1 0.8l1.1 0.4l1.2 -0.2l1.1 -0.8l1.1 -0.7l1.1 -0.2l1.1 0.7l1.1 1.1l1.1 0.9l1.1 0.1l1.2 -0.7l1.1 -1.2l1.1 -1.1l1.1 -0.2l1.1 0.8l1.1 1.4l1.1 1.4l1.1 0.7l1.2 0l1.1 -0.7l1.1 -1l1.1 -0.8l1.1 -0.5l1.1 -0.2l1.1 0l1.1 0l1.1 0.1l1.2 0.1l1.1 0.1l1.1 0l1.1 -0.1l1.1 0l1.1 0l1.1 0l1.1 0.2l1.2 0.1l1.1 0.2l1.1 0.3l1.1 0.6l1.1 0.6l1.1 0.8l1.1 0.6l1.1 0.2l1.1 -0.3l1.2 -0.7l1.1 -1l1.1 -1.1l1.1 -1.1l1.1 -0.8l1.1 -0.4l1.1 0l1.1 0.4l1.2 0.6l1.1 0.6l1.1 0.5l1.1 0.5l1.1 0.3l1.1 0.1l1.1 0l1.1 -0.1l1.2 -0.1l1.1 0l1.1 0.1l1.1 0l1.1 -0.1l1.1 -0.2l1.1 -0.2l1.1 -0.2l1.1 -0.2l1.2 -0.3l1.1 -0.5l1.1 -0.5l1.1 -0.4l1.1 0.2l1.1 0.9l1.1 1.5l1.1 1.5l1.2 0.9l1.1 0.3l1.1 -0.4l1.1 -0.6l1.1 -0.6l1.1 -0.6l1.1 -0.5l1.1 -0.6l1.2 -0.6l1.1 -0.2" fill="none" stroke="#e18764" stroke-width="1.15" stroke-linejoin="round"/>
<path d="M1012.7 434.8l1.1 -0.5l1.1 -0.8l1.1 -0.8l1.1 -0.5l1.2 0l1.1 0.7l1.1 1.2l1.1 1.2l1.1 0.9l1.1 0.2l1.1 -0.6l1.1 -0.9l1.2 -0.8l1.1 -0.3l1.1 0.3l1.1 0.5l1.1 0l1.1 -0.7l1.1 -1.3l1.1 -1.3l1.2 -0.7l1.1 0.1l1.1 1l1.1 1.3l1.1 1.2l1.1 0.7l1.1 -0.2l1.1 -0.7l1.1 -1.1l1.2 -0.9l1.1 -0.3l1.1 0.6l1.1 1.1l1.1 1.3l1.1 0.8l1.1 0.2l1.1 -0.4l1.2 -0.8l1.1 -0.6l1.1 -0.3l1.1 0.1l1.1 0.4l1.1 0.6l1.1 0.5l1.1 0.1l1.1 -0.2l1.2 -0.4l1.1 -0.5l1.1 -0.4l1.1 -0.2l1.1 -0.1l1.1 -0.1l1.1 -0.3l1.1 -0.4l1.2 -0.3l1.1 -0.3l1.1 0l1.1 0.2l1.1 0.3l1.1 0.5l1.1 0.3l1.1 0.2l1.2 -0.1l1.1 -0.1l1.1 -0.1l1.1 0.2l1.1 0.4l1.1 0.5l1.1 0.2l1.1 -0.2l1.1 -0.3l1.2 -0.4l1.1 -0.3l1.1 0l1.1 0.1l1.1 0.1l1.1 0l1.1 0l1.1 0l1.2 0l1.1 0l1.1 0.2l1.1 0.3l1.1 0.4l1.1 0.3l1.1 0.1l1.1 -0.2l1.2 -0.1l1.1 -0.2l1.1 0l1.1 -0.1l1.1 -0.3l1.1 -0.6l1.1 -0.5l1.1 0l1.1 0.4l1.2 0.6l1.1 0.4l1.1 -0.2l1.1 -0.7l1.1 -0.7l1.1 -0.2l1.1 0.6l1.1 0.9l1.2 0.7l1.1 0l1.1 -0.7l1.1 -0.8l1.1 -0.3l1.1 0.6l1.1 1.1l1.1 1.2l1.2 0.5l1.1 -0.4l1.1 -1.3l1.1 -1.6l1.1 -1.3l1.1 -0.5l1.1 0.3l1.1 0.8l1.1 0.8l1.2 0.5l1.1 0l1.1 -0.3l1.1 -0.3l1.1 0l1.1 0.4l1.1 0.6l1.1 0.6l1.2 0.2l1.1 -0.2l1.1 -0.6l1.1 -0.5l1.1 -0.3l1.1 0.2l1.1 0.5l1.1 0.5l1.1 0.2l1.2 -0.1l1.1 -0.4l1.1 -0.4l1.1 -0.1l1.1 0.1l1.1 0.3l1.1 0.1l1.1 -0.1l1.2 -0.4l1.1 -0.4l1.1 -0.4l1.1 -0.2l1.1 0l1.1 0.2l1.1 0.5l1.1 0.5l1.2 0.4l1.1 0.1l1.1 -0.2l1.1 -0.4l1.1 -0.3l1.1 0.1l1.1 0.5l1.1 0.7l1.1 0.5l1.2 0l1.1 -0.6l1.1 -0.7l1.1 -0.5l1.1 0.1l1.1 0.7l1.1 0.7l1.1 0.3l1.2 -0.6l1.1 -1l1.1 -1l1.1 -0.5l1.1 0l1.1 0.3l1.1 -0.1l1.1 -0.6l1.2 -0.6l1.1 0l1.1 0.9l1.1 1.6l1.1 1.7l1.1 1l1.1 0.3l1.1 -0.5l1.1 -0.5l1.2 -0.6l1.1 -0.5l1.1 -0.6l1.1 -0.8l1.1 -0.7l1.1 -0.2l1.1 0.4l1.1 1l1.2 1.1l1.1 0.7l1.1 0.1l1.1 -0.3l1.1 -0.6l1.1 -0.6l1.1 -0.5l1.1 -0.3l1.1 -0.1l1.2 0l1.1 0l1.1 0.1l1.1 -0.1l1.1 -0.4l1.1 -0.5l1.1 -0.3l1.1 0.1l1.2 0.5l1.1 0.9l1.1 0.8l1.1 0.5l1.1 0.1l1.1 -0.3l1.1 -0.3l1.1 -0.3l1.2 0l1.1 0l1.1 0l1.1 0.1l1.1 0.3l1.1 0.6l1.1 0.6l1.1 0.2l1.1 -0.6l1.2 -1.2l1.1 -1.5l1.1 -0.9l1.1 0.1l1.1 1.1l1.1 1.3l1.1 0.9l1.1 0.1l1.2 -0.7l1.1 -0.9l1.1 -0.3l1.1 0.2l1.1 0.5l1.1 0.2l1.1 -0.3l1.1 -0.5l1.2 -0.2l1.1 0.3l1.1 0.7l1.1 0.6l1.1 0.1l1.1 -0.5l1.1 -0.7l1.1 -0.5l1.1 -0.1l1.2 0.4l1.1 0.5l1.1 0.1l1.1 -0.2l1.1 -0.3l1.1 -0.1l1.1 0.2l1.1 0.4l1.2 0.5l1.1 0.1l1.1 -0.1l1.1 -0.4l1.1 -0.4l1.1 -0.2l1.1 0l1.1 0.2l1.2 0.4l1.1 0.3l1.1 0l1.1 -0.2l1.1 -0.5l1.1 -0.6l1.1 -0.5l1.1 -0.3l1.1 0.3l1.2 0.6l1.1 0.8l1.1 0.5l1.1 -0.2l1.1 -0.7l1.1 -0.8l1.1 -0.2l1.1 0.7l1.2 1.3l1.1 1l1.1 0.2l1.1 -0.7l1.1 -1.1l1.1 -0.7l1.1 0.4l1.1 0.9l1.1 0.7l1.2 -0.1l1.1 -1l1.1 -1.1l1.1 -0.6l1.1 0.3l1.1 0.5l1.1 0.3l1.1 -0.4l1.2 -0.6l1.1 -0.1l1.1 0.6l1.1 1l1.1 0.7l1.1 -0.3l1.1 -0.9l1.1 -0.8l1.2 -0.1l1.1 0.8l1.1 1.2l1.1 0.9l1.1 0.1l1.1 -0.6l1.1 -0.7l1.1 -0.6l1.1 -0.3l1.2 -0.1l1.1 -0.2l1.1 0l1.1 0.2l1.1 0.6l1.1 0.6l1.1 0.1l1.1 -0.4l1.2 -0.9l1.1 -0.9l1.1 -0.4l1.1 0.2l1.1 0.6l1.1 0.7l1.1 0.7l1.1 0.5l1.2 0.4l1.1 0.2l1.1 -0.2l1.1 -0.6l1.1 -0.9l1.1 -0.8l1.1 -0.3l1.1 0.5l1.1 1l1.2 1.1l1.1 0.5l1.1 -0.4l1.1 -1.3l1.1 -1.5l1.1 -1.1l1.1 -0.1l1.1 0.9l1.2 1.6l1.1 1.4l1.1 0.9l1.1 0l1.1 -0.5l1.1 -0.7l1.1 -0.8l1.1 -0.7l1.1 -0.5l1.2 -0.4l1.1 0l1.1 0.3l1.1 0.3l1.1 0.1l1.1 -0.3l1.1 -0.6l1.1 -0.3l1.2 0.4l1.1 1.1l1.1 1.4l1.1 1.1l1.1 0.2l1.1 -0.5l1.1 -0.8l1.1 -0.8l1.2 -0.4l1.1 -0.1l1.1 0l1.1 -0.1l1.1 -0.1l1.1 0l1.1 0.3l1.1 0.6l1.1 0.6l1.2 0.4l1.1 0l1.1 -0.6l1.1 -1.1l1.1 -1.2l1.1 -0.8l1.1 0l1.1 1l1.2 1.4l1.1 1.2l1.1 0.4l1.1 -0.4l1.1 -1l1.1 -0.8l1.1 -0.4l1.1 -0.1l1.2 0l1.1 -0.1l1.1 -0.2l1.1 0l1.1 0.3l1.1 0.4l1.1 0.4l1.1 0.3l1.1 0.2l1.2 0.1l1.1 0.4l1.1 0.4l1.1 0.3l1.1 0.1l1.1 -0.3l1.1 -0.6l1.1 -0.6l1.2 -0.5l1.1 -0.3l1.1 0l1.1 0.1l1.1 -0.1l1.1 -0.2l1.1 -0.2l1.1 -0.1l1.2 0.4l1.1 0.8l1.1 1l1.1 0.9l1.1 0.4l1.1 -0.1l1.1 -0.6l1.1 -0.7l1.1 -0.7l1.2 -0.5l1.1 -0.4l1.1 -0.3l1.1 0l1.1 0.2l1.1 0.4l1.1 0.2l1.1 -0.1l1.2 -0.4l1.1 -0.6l1.1 -0.4l1.1 0l1.1 0.3l1.1 0.4l1.1 0.3l1.1 0l1.1 0l1.2 0l1.1 0.1l1.1 0.1l1.1 0.1l1.1 0.2l1.1 0.3l1.1 0.5l1.1 0.5l1.2 0.1l1.1 -0.2l1.1 -0.6l1.1 -0.4l1.1 -0.1l1.1 0.4l1.1 0.7l1.1 0.6l1.2 0.3l1.1 -0.2l1.1 -0.6l1.1 -0.7l1.1 -0.8l1.1 -0.9l1.1 -0.7l1.1 -0.4l1.1 0.3l1.2 1.1l1.1 1.4l1.1 1.1l1.1 0.5l1.1 -0.3l1.1 -0.6l1.1 -0.7l1.1 -0.4l1.2 -0.2l1.1 -0.2l1.1 -0.1l1.1 -0.1l1.1 0l1.1 0.1l1.1 0.3l1.1 0.2l1.2 0.1l1.1 -0.2l1.1 -0.4l1.1 -0.6l1.1 -0.4l1.1 -0.2l1.1 0.2l1.1 0.6l1.1 0.8l1.2 0.6l1.1 0.2l1.1 -0.2l1.1 -0.1l1.1 0.1l1.1 0.4l1.1 0.4l1.1 0.1l1.2 -0.3l1.1 -0.4l1.1 -0.2l1.1 -0.1l1.1 0l1.1 -0.2l1.1 -0.5l1.1 -0.7l1.1 -0.5l1.2 0.1l1.1 0.5l1.1 0.8l1.1 0.6l1.1 0.4l1.1 0l1.1 -0.2l1.1 -0.1l1.2 -0.1l1.1 0.1l1.1 0l1.1 -0.2l1.1 -0.5l1.1 -0.8l1.1 -0.9l1.1 -0.7l1.2 -0.2l1.1 0.2l1.1 0.6l1.1 0.7l1.1 0.5l1.1 0.4l1.1 0.4l1.1 0.4l1.1 0.5l1.2 0.3l1.1 0l1.1 -0.4l1.1 -0.7l1.1 -0.7l1.1 -0.6l1.1 -0.3l1.1 -0.2l1.2 0l1.1 0.3l1.1 0.4l1.1 0.7l1.1 0.9l1.1 1.2l1.1 1l1.1 0.4l1.2 -0.2l1.1 -1l1.1 -1.4l1.1 -1.1l1.1 -0.4l1.1 0.4l1.1 0.8l1.1 0.6l1.1 0.1l1.2 -0.5l1.1 -0.8l1.1 -0.6l1.1 -0.1l1.1 0.1l1.1 0.2l1.1 0.1l1.1 -0.1l1.2 -0.2l1.1 0l1.1 0l1.1 0.1l1.1 -0.1l1.1 -0.2l1.1 -0.1l1.1 0.2l1.2 0.6l1.1 0.6l1.1 0.4l1.1 -0.1l1.1 -0.8l1.1 -0.9l1.1 -0.6l1.1 -0.1l1.1 0.4l1.2 0.8l1.1 0.7l1.1 0.4l1.1 0.1l1.1 -0.2l1.1 -0.1l1.1 0.1l1.1 0.3l1.2 0.5l1.1 0.5l1.1 0.2l1.1 -0.3l1.1 -0.6l1.1 -0.7l1.1 -0.3l1.1 0.4l1.1 0.7l1.2 0.7l1.1 -0.2l1.1 -1.2l1.1 -1.9l1.1 -1.5l1.1 -0.3l1.1 0.9l1.1 1.8l1.2 1.6l1.1 0.6l1.1 -0.4l1.1 -1.1l1.1 -0.9l1.1 -0.3l1.1 0.4l1.1 0.6l1.2 0.5l1.1 0.1l1.1 -0.2l1.1 -0.4l1.1 -0.3l1.1 0.1l1.1 0.5l1.1 0.4l1.1 0.1l1.2 -0.3l1.1 -0.8l1.1 -1l1.1 -0.5l1.1 0l1.1 0.5l1.1 0.8l1.1 0.6l1.2 0.3l1.1 0.3l1.1 0.4l1.1 0.4l1.1 0.2l1.1 -0.4l1.1 -1l1.1 -1.2l1.2 -1l1.1 -0.3" fill="none" stroke="#4893ca" stroke-width="1.15" stroke-linejoin="round"/>
<path d="M1012.7 448.3l1.1 -0.5l1.1 -0.8l1.1 -1l1.1 -1.1l1.2 -0.9l1.1 -0.4l1.1 0.2l1.1 0.9l1.1 0.9l1.1 0.5l1.1 -0.4l1.1 -1.1l1.2 -1.4l1.1 -1.1l1.1 -0.2l1.1 0.5l1.1 1.1l1.1 1.3l1.1 1.2l1.1 1.1l1.2 1.1l1.1 0.9l1.1 0.4l1.1 -0.3l1.1 -1l1.1 -1.5l1.1 -1.3l1.1 -0.7l1.1 -0.1l1.2 0.3l1.1 0.2l1.1 -0.3l1.1 -0.8l1.1 -0.9l1.1 -0.5l1.1 0.1l1.1 0.8l1.2 1.2l1.1 1.1l1.1 0.6l1.1 0.3l1.1 0.2l1.1 0.5l1.1 0.9l1.1 1l1.1 0.5l1.2 -0.4l1.1 -1.4l1.1 -1.8l1.1 -1.7l1.1 -1l1.1 -0.5l1.1 -0.1l1.1 -0.1l1.2 -0.2l1.1 -0.2l1.1 0l1.1 0.4l1.1 0.5l1.1 0.1l1.1 -0.4l1.1 -1.1l1.2 -1.1l1.1 -0.6l1.1 0.6l1.1 1.8l1.1 2.9l1.1 3.4l1.1 3l1.1 1.8l1.1 0.3l1.2 -1.3l1.1 -2.3l1.1 -2.4l1.1 -1.7l1.1 -1l1.1 -0.3l1.1 -0.2l1.1 -0.5l1.2 -0.8l1.1 -0.8l1.1 -0.6l1.1 0l1.1 0.3l1.1 0.6l1.1 0.8l1.1 1.2l1.2 1.5l1.1 1.6l1.1 1.2l1.1 0.2l1.1 -1.1l1.1 -1.9l1.1 -2l1.1 -1.3l1.1 -0.3l1.2 0.5l1.1 0.7l1.1 0.4l1.1 0l1.1 -0.1l1.1 0.2l1.1 1l1.1 1.4l1.2 1.4l1.1 0.6l1.1 -0.3l1.1 -1.1l1.1 -1.4l1.1 -1l1.1 -0.5l1.1 -0.3l1.2 -0.6l1.1 -1.2l1.1 -1.6l1.1 -1.3l1.1 -0.4l1.1 0.8l1.1 2l1.1 2.4l1.1 2.2l1.2 1.3l1.1 0.5l1.1 -0.2l1.1 -0.6l1.1 -0.6l1.1 -0.6l1.1 -0.5l1.1 -0.4l1.2 -0.3l1.1 -0.2l1.1 0l1.1 0.5l1.1 0.8l1.1 1l1.1 0.6l1.1 -0.4l1.1 -1.5l1.2 -2.2l1.1 -1.9l1.1 -0.8l1.1 1l1.1 2.1l1.1 2.5l1.1 1.4l1.1 0l1.2 -1.4l1.1 -1.7l1.1 -1l1.1 0.3l1.1 1.4l1.1 1.9l1.1 1.5l1.1 0.5l1.2 -0.8l1.1 -1.7l1.1 -1.8l1.1 -1.1l1.1 -0.1l1.1 0.6l1.1 0.7l1.1 0.2l1.1 -0.6l1.2 -1l1.1 -0.6l1.1 0.3l1.1 1.3l1.1 1.6l1.1 0.9l1.1 -0.2l1.1 -1.1l1.2 -1.2l1.1 -0.7l1.1 0l1.1 0l1.1 -0.4l1.1 -1l1.1 -1.4l1.1 -0.9l1.2 0l1.1 1.1l1.1 1.5l1.1 1.4l1.1 1.1l1.1 0.9l1.1 0.9l1.1 0.7l1.1 0.3l1.2 -0.6l1.1 -1.7l1.1 -2.4l1.1 -2.1l1.1 -1.2l1.1 0.3l1.1 1.7l1.1 2.5l1.2 2.3l1.1 1.5l1.1 0l1.1 -1.2l1.1 -2l1.1 -1.7l1.1 -0.7l1.1 0.8l1.1 1.9l1.2 2l1.1 1.1l1.1 -0.2l1.1 -1.3l1.1 -1.5l1.1 -0.8l1.1 0.2l1.1 0.8l1.2 0.4l1.1 -0.7l1.1 -2l1.1 -2.4l1.1 -1.7l1.1 0l1.1 1.7l1.1 2.8l1.2 2.8l1.1 1.7l1.1 0.2l1.1 -1.1l1.1 -1.6l1.1 -1.5l1.1 -0.8l1.1 0.2l1.1 1l1.2 1.6l1.1 1.8l1.1 1.4l1.1 0.6l1.1 -0.6l1.1 -1.6l1.1 -2.4l1.1 -2.3l1.2 -1.6l1.1 -0.4l1.1 0.7l1.1 1.6l1.1 1.9l1.1 1.3l1.1 0.1l1.1 -1.3l1.2 -2.4l1.1 -2.7l1.1 -2l1.1 -0.4l1.1 1.3l1.1 2.2l1.1 2.3l1.1 1.4l1.1 0.3l1.2 -0.3l1.1 -0.3l1.1 0.3l1.1 0.8l1.1 0.8l1.1 0.4l1.1 0.1l1.1 0.2l1.2 0.8l1.1 1.5l1.1 1.5l1.1 0.5l1.1 -1.3l1.1 -2.9l1.1 -3.7l1.1 -2.9l1.2 -1.3l1.1 0.6l1.1 1.6l1.1 1.4l1.1 0.6l1.1 -0.3l1.1 -0.6l1.1 -0.2l1.1 0.3l1.2 0.5l1.1 0l1.1 -0.7l1.1 -1.1l1.1 -0.9l1.1 0.1l1.1 1.2l1.1 1.7l1.2 1.5l1.1 0.8l1.1 0l1.1 -0.1l1.1 0.5l1.1 1.2l1.1 1.6l1.1 1.2l1.1 0.1l1.2 -1.3l1.1 -2.1l1.1 -2.2l1.1 -1.6l1.1 -0.8l1.1 -0.3l1.1 -0.4l1.1 -0.6l1.2 -0.6l1.1 0l1.1 0.8l1.1 1.5l1.1 1.5l1.1 0.9l1.1 -0.1l1.1 -0.7l1.2 -0.5l1.1 0.5l1.1 1.4l1.1 1.6l1.1 0.8l1.1 -0.7l1.1 -2.1l1.1 -2.7l1.1 -2.1l1.2 -0.6l1.1 1.1l1.1 2.2l1.1 2.5l1.1 1.9l1.1 0.9l1.1 -0.2l1.1 -1.1l1.2 -1.6l1.1 -1.5l1.1 -0.8l1.1 0.1l1.1 1l1.1 0.9l1.1 0l1.1 -1.4l1.2 -2.4l1.1 -2.2l1.1 -0.7l1.1 1.4l1.1 3.1l1.1 3.1l1.1 1.8l1.1 -0.3l1.1 -1.7l1.2 -1.7l1.1 -0.5l1.1 0.8l1.1 1.3l1.1 0.7l1.1 -0.6l1.1 -1.4l1.1 -1.4l1.2 -0.3l1.1 0.9l1.1 1.4l1.1 0.8l1.1 -0.3l1.1 -1.4l1.1 -1.6l1.1 -0.6l1.1 0.7l1.2 1.8l1.1 2l1.1 1.1l1.1 -0.2l1.1 -1.3l1.1 -1.8l1.1 -1.8l1.1 -1.2l1.2 -0.4l1.1 0.4l1.1 1l1.1 1.5l1.1 1.5l1.1 1.1l1.1 0.5l1.1 -0.2l1.2 -0.6l1.1 -0.5l1.1 -0.3l1.1 -0.1l1.1 -0.2l1.1 -0.6l1.1 -0.9l1.1 -0.6l1.1 0.2l1.2 1.2l1.1 1.7l1.1 1.5l1.1 0.4l1.1 -0.9l1.1 -2l1.1 -2l1.1 -1.4l1.2 -0.2l1.1 0.7l1.1 0.9l1.1 0.5l1.1 -0.2l1.1 -0.8l1.1 -1.1l1.1 -0.8l1.2 -0.4l1.1 0.1l1.1 0.6l1.1 0.8l1.1 1l1.1 0.7l1.1 0.4l1.1 0.1l1.1 -0.2l1.2 -0.2l1.1 0.2l1.1 0.7l1.1 1.3l1.1 1.5l1.1 1.5l1.1 1l1.1 0.2l1.2 -0.6l1.1 -1.1l1.1 -1.2l1.1 -0.9l1.1 -0.5l1.1 -0.5l1.1 -0.9l1.1 -1.8l1.2 -2.3l1.1 -1.8l1.1 -0.2l1.1 2l1.1 3.8l1.1 4.2l1.1 2.8l1.1 0.3l1.1 -2.1l1.2 -3.5l1.1 -3.2l1.1 -1.9l1.1 -0.2l1.1 0.9l1.1 1.5l1.1 1.6l1.1 1.5l1.2 1.3l1.1 0.6l1.1 -0.5l1.1 -1.7l1.1 -2.6l1.1 -2.6l1.1 -1.5l1.1 0.1l1.1 1.5l1.2 2l1.1 1.6l1.1 0.7l1.1 -0.2l1.1 -0.4l1.1 -0.3l1.1 0.3l1.1 0.7l1.2 0.7l1.1 0.3l1.1 -0.1l1.1 -0.7l1.1 -1l1.1 -0.7l1.1 0l1.1 0.8l1.2 1.4l1.1 1.6l1.1 1l1.1 -0.1l1.1 -1.1l1.1 -1.7l1.1 -1.6l1.1 -0.9l1.1 -0.3l1.2 -0.1l1.1 -0.2l1.1 -0.2l1.1 0.1l1.1 0.7l1.1 1.2l1.1 1.4l1.1 0.9l1.2 -0.1l1.1 -0.9l1.1 -1.3l1.1 -0.8l1.1 0.2l1.1 0.8l1.1 0.9l1.1 0.4l1.2 -0.4l1.1 -0.8l1.1 -0.6l1.1 0.2l1.1 1.1l1.1 1.7l1.1 1.6l1.1 1.1l1.1 0.1l1.2 -0.6l1.1 -1.4l1.1 -1.9l1.1 -2.1l1.1 -2l1.1 -1.7l1.1 -1.1l1.1 -0.3l1.2 0.2l1.1 0.5l1.1 0.8l1.1 1.2l1.1 1.7l1.1 2.2l1.1 2.5l1.1 2l1.1 0.5l1.2 -1.3l1.1 -3l1.1 -3.6l1.1 -2.6l1.1 -0.7l1.1 1.7l1.1 3.3l1.1 3.3l1.2 1.8l1.1 -0.5l1.1 -2.5l1.1 -3.2l1.1 -2.3l1.1 -0.4l1.1 1.7l1.1 2.8l1.2 2.4l1.1 0.9l1.1 -0.9l1.1 -1.8l1.1 -1.7l1.1 -0.7l1.1 0.3l1.1 1l1.1 0.7l1.2 0.2l1.1 -0.3l1.1 -0.4l1.1 -0.3l1.1 0l1.1 0.2l1.1 0.2l1.1 0.4l1.2 0.8l1.1 1.3l1.1 1.5l1.1 1.2l1.1 0.3l1.1 -0.7l1.1 -1.6l1.1 -2.1l1.2 -2.1l1.1 -1.7l1.1 -1l1.1 -0.3l1.1 0.6l1.1 1.3l1.1 1.7l1.1 1.3l1.1 0.3l1.2 -1.1l1.1 -2l1.1 -2.1l1.1 -1l1.1 0.9l1.1 2.4l1.1 3.2l1.1 2.8l1.2 1.5l1.1 0.2l1.1 -0.5l1.1 -0.6l1.1 -0.2l1.1 0.1l1.1 -0.6l1.1 -1.7l1.2 -3.1l1.1 -3.5l1.1 -2.8l1.1 -0.8l1.1 1.3l1.1 2.7l1.1 2.9l1.1 1.7l1.1 0.2l1.2 -1l1.1 -1.4l1.1 -1l1.1 -0.4l1.1 0l1.1 0.2l1.1 0.2l1.1 0.4l1.2 0.7l1.1 0.9l1.1 0.8l1.1 0.5l1.1 0.3l1.1 0.3l1.1 0.6l1.1 0.9l1.1 0.8l1.2 -0.1l1.1 -1.2l1.1 -2.1l1.1 -2.2l1.1 -1.1l1.1 0.4l1.1 1.7l1.1 1.9l1.2 1l1.1 -0.7l1.1 -2l1.1 -2.3l1.1 -1.4l1.1 0l1.1 1.3l1.1 1.9l1.2 1.7l1.1 1.2l1.1 0.7l1.1 0.2l1.1 -0.2l1.1 -0.7l1.1 -1.6l1.1 -1.9l1.1 -1.4l1.2 0l1.1 1.7l1.1 2.9l1.1 2.6l1.1 1l1.1 -1.1l1.1 -2.6l1.1 -2.4l1.2 -0.8l1.1 1.3l1.1 2.4l1.1 2.3l1.1 0.7l1.1 -1.3l1.1 -2.8l1.1 -3.2l1.2 -2.7l1.1 -1.3" fill="none" stroke="#aa4660" stroke-width="1.15" stroke-linejoin="round"/>
<path d="M1012.7 454.2l1.1 -0.6l1.1 0.6l1.1 1.4l1.1 1.2l1.2 0.6l1.1 -0.1l1.1 -0.2l1.1 0.2l1.1 0.7l1.1 0.8l1.1 0.6l1.1 0l1.2 -0.4l1.1 -0.7l1.1 -0.7l1.1 -0.9l1.1 -1l1.1 -1l1.1 -0.7l1.1 0.1l1.2 0.9l1.1 1.4l1.1 1.3l1.1 0.9l1.1 0.1l1.1 -0.4l1.1 -0.5l1.1 -0.3l1.1 0l1.2 0.4l1.1 0.2l1.1 -0.3l1.1 -0.8l1.1 -1.1l1.1 -1l1.1 -0.4l1.1 0.4l1.2 0.9l1.1 1.1l1.1 0.9l1.1 0.4l1.1 0.1l1.1 0.1l1.1 0.2l1.1 0.3l1.1 0.1l1.2 -0.2l1.1 -0.3l1.1 -0.2l1.1 0l1.1 0l1.1 -0.7l1.1 -1.4l1.1 -1.9l1.2 -1.6l1.1 -0.4l1.1 1l1.1 1.8l1.1 1.7l1.1 0.7l1.1 -0.6l1.1 -1.2l1.2 -1l1.1 -0.2l1.1 0.6l1.1 1l1.1 1.2l1.1 1.2l1.1 1.2l1.1 1l1.1 0.3l1.2 -0.4l1.1 -1.3l1.1 -1.3l1.1 -0.6l1.1 0.3l1.1 1l1.1 0.9l1.1 -0.2l1.2 -1.3l1.1 -2l1.1 -2l1.1 -1.3l1.1 -0.3l1.1 0.6l1.1 1.1l1.1 1.2l1.2 1.2l1.1 1l1.1 0.6l1.1 0.2l1.1 -0.1l1.1 -0.4l1.1 -0.6l1.1 -0.7l1.1 -0.7l1.2 -0.2l1.1 0.2l1.1 0.7l1.1 0.8l1.1 0.6l1.1 -0.1l1.1 -0.6l1.1 -0.7l1.2 -0.2l1.1 0.6l1.1 1.4l1.1 1.6l1.1 0.9l1.1 0l1.1 -0.9l1.1 -1.4l1.2 -1.4l1.1 -1l1.1 -0.4l1.1 0.1l1.1 0.4l1.1 0.5l1.1 0.2l1.1 -0.2l1.1 -0.7l1.2 -0.7l1.1 -0.6l1.1 0.2l1.1 0.8l1.1 1l1.1 0.6l1.1 -0.3l1.1 -1l1.2 -0.9l1.1 -0.4l1.1 0.6l1.1 0.9l1.1 0.7l1.1 0.1l1.1 -0.3l1.1 -0.1l1.1 0.6l1.2 1l1.1 1l1.1 0l1.1 -1l1.1 -1.4l1.1 -0.9l1.1 0.2l1.1 1.3l1.2 1.7l1.1 0.9l1.1 -0.1l1.1 -0.9l1.1 -1.1l1.1 -0.7l1.1 -0.3l1.1 -0.2l1.2 -0.5l1.1 -1.2l1.1 -1.3l1.1 -0.9l1.1 0l1.1 0.9l1.1 1.5l1.1 1.5l1.1 1.4l1.2 0.9l1.1 0.5l1.1 -0.1l1.1 -0.6l1.1 -1l1.1 -0.8l1.1 -0.4l1.1 0.3l1.2 0.4l1.1 0.1l1.1 -0.9l1.1 -1.5l1.1 -1.4l1.1 -0.2l1.1 1.4l1.1 2.5l1.2 2.6l1.1 1.5l1.1 -0.2l1.1 -1.5l1.1 -1.9l1.1 -1.5l1.1 -0.5l1.1 0.3l1.1 0.5l1.2 0.1l1.1 -0.4l1.1 -1l1.1 -1l1.1 -0.4l1.1 0.3l1.1 1.2l1.1 1.5l1.2 1.3l1.1 0.7l1.1 -0.1l1.1 -0.7l1.1 -0.8l1.1 -0.7l1.1 -0.3l1.1 0.2l1.1 0.5l1.2 0.6l1.1 0.3l1.1 -0.2l1.1 -0.7l1.1 -0.9l1.1 -0.6l1.1 0l1.1 0.4l1.2 0.3l1.1 -0.2l1.1 -0.6l1.1 -0.6l1.1 0.2l1.1 1.2l1.1 1.8l1.1 1.4l1.2 0.4l1.1 -0.7l1.1 -1.1l1.1 -0.6l1.1 0.2l1.1 0.7l1.1 0.3l1.1 -0.7l1.1 -1.4l1.2 -1.3l1.1 -0.4l1.1 1l1.1 1.7l1.1 1.7l1.1 0.7l1.1 -0.3l1.1 -1l1.2 -1l1.1 -0.5l1.1 -0.2l1.1 -0.4l1.1 -0.7l1.1 -1l1.1 -0.7l1.1 0.2l1.2 1.2l1.1 1.8l1.1 1.5l1.1 0.5l1.1 -0.9l1.1 -1.6l1.1 -1.4l1.1 -0.5l1.1 0.6l1.2 1.2l1.1 1.1l1.1 0.4l1.1 -0.4l1.1 -0.7l1.1 -0.7l1.1 -0.5l1.1 -0.3l1.2 -0.3l1.1 -0.3l1.1 -0.1l1.1 0.1l1.1 0.5l1.1 0.7l1.1 0.8l1.1 0.9l1.2 0.7l1.1 0.2l1.1 -0.3l1.1 -0.8l1.1 -0.8l1.1 -0.2l1.1 0.6l1.1 1l1.1 0.6l1.2 -0.5l1.1 -1.5l1.1 -1.5l1.1 -0.5l1.1 1.1l1.1 2.2l1.1 1.9l1.1 0.4l1.2 -1.5l1.1 -2.4l1.1 -2l1.1 -0.2l1.1 1.5l1.1 2.3l1.1 1.6l1.1 0l1.1 -1.8l1.2 -2.5l1.1 -1.9l1.1 -0.3l1.1 0.9l1.1 1.3l1.1 0.7l1.1 -0.4l1.1 -0.8l1.2 -0.1l1.1 0.9l1.1 1.5l1.1 1l1.1 -0.3l1.1 -1.6l1.1 -1.4l1.1 -0.3l1.2 1.5l1.1 2.1l1.1 1.4l1.1 -0.3l1.1 -1.9l1.1 -2.1l1.1 -1l1.1 0.6l1.1 1.9l1.2 1.9l1.1 0.8l1.1 -0.3l1.1 -1.3l1.1 -1.4l1.1 -0.9l1.1 -0.3l1.1 0.4l1.2 0.8l1.1 1.1l1.1 0.9l1.1 0.4l1.1 -0.3l1.1 -0.9l1.1 -1.1l1.1 -0.8l1.2 -0.3l1.1 0.5l1.1 0.8l1.1 0.9l1.1 0.8l1.1 0.5l1.1 0.4l1.1 0.3l1.1 -0.2l1.2 -0.7l1.1 -1.1l1.1 -1.1l1.1 -0.8l1.1 -0.2l1.1 0.2l1.1 0l1.1 -0.4l1.2 -0.8l1.1 -0.5l1.1 0.1l1.1 1l1.1 1.3l1.1 0.8l1.1 -0.2l1.1 -1l1.1 -1.1l1.2 -0.3l1.1 0.7l1.1 1.2l1.1 0.9l1.1 0.1l1.1 -0.7l1.1 -0.8l1.1 -0.4l1.2 0.4l1.1 1.1l1.1 1.1l1.1 0.6l1.1 0l1.1 -0.6l1.1 -1l1.1 -1.1l1.2 -1l1.1 -0.6l1.1 0l1.1 0.6l1.1 1l1.1 0.8l1.1 0.4l1.1 -0.1l1.1 -0.5l1.2 -0.4l1.1 0.1l1.1 0.5l1.1 0.7l1.1 0.6l1.1 0.3l1.1 0l1.1 -0.4l1.2 -0.7l1.1 -0.6l1.1 -0.5l1.1 0.1l1.1 0.4l1.1 0.4l1.1 0l1.1 -0.8l1.2 -1.1l1.1 -0.7l1.1 0.5l1.1 1.5l1.1 1.7l1.1 0.9l1.1 -0.1l1.1 -0.9l1.1 -0.7l1.2 0l1.1 0.4l1.1 0.5l1.1 -0.3l1.1 -0.8l1.1 -0.8l1.1 -0.3l1.1 0.5l1.2 0.7l1.1 0.3l1.1 -0.3l1.1 -0.7l1.1 -0.8l1.1 -0.5l1.1 -0.4l1.1 -0.6l1.2 -0.8l1.1 -0.8l1.1 -0.4l1.1 0.6l1.1 1.6l1.1 2.1l1.1 2.1l1.1 1.3l1.1 0.2l1.2 -0.6l1.1 -1l1.1 -0.6l1.1 -0.2l1.1 0.1l1.1 -0.2l1.1 -0.8l1.1 -1.4l1.2 -1.3l1.1 -0.5l1.1 0.5l1.1 1.3l1.1 1.3l1.1 0.4l1.1 -0.7l1.1 -1.5l1.1 -1.6l1.2 -0.7l1.1 0.7l1.1 1.8l1.1 2.1l1.1 1.4l1.1 0.1l1.1 -1.1l1.1 -1.6l1.2 -1.3l1.1 -0.2l1.1 0.8l1.1 1.3l1.1 1.1l1.1 0.5l1.1 -0.1l1.1 -0.5l1.2 -0.3l1.1 0l1.1 0.3l1.1 0.4l1.1 0.4l1.1 0.3l1.1 0l1.1 -0.2l1.1 -0.2l1.2 -0.2l1.1 -0.3l1.1 -0.5l1.1 -0.6l1.1 -0.6l1.1 -0.4l1.1 0l1.1 0.2l1.2 0l1.1 -0.4l1.1 -0.7l1.1 -0.4l1.1 0.2l1.1 1l1.1 1.2l1.1 0.9l1.2 0.2l1.1 -0.2l1.1 -0.3l1.1 -0.2l1.1 -0.3l1.1 -0.8l1.1 -1.3l1.1 -1.3l1.1 -0.3l1.2 1.2l1.1 2.3l1.1 2.4l1.1 1.1l1.1 -0.6l1.1 -1.9l1.1 -2.1l1.1 -1.4l1.2 -0.4l1.1 0.3l1.1 0.4l1.1 -0.1l1.1 -0.3l1.1 -0.1l1.1 0.4l1.1 1.2l1.1 1.6l1.2 1.5l1.1 1l1.1 0.3l1.1 0.1l1.1 -0.1l1.1 0l1.1 0l1.1 -0.2l1.2 -0.6l1.1 -0.9l1.1 -1.3l1.1 -1.6l1.1 -1.7l1.1 -1.6l1.1 -0.9l1.1 0.2l1.2 1.3l1.1 1.9l1.1 1.6l1.1 0.8l1.1 0l1.1 -0.2l1.1 0.4l1.1 1l1.1 1l1.2 0.1l1.1 -1.1l1.1 -1.9l1.1 -1.6l1.1 -0.4l1.1 1l1.1 1.5l1.1 1l1.2 -0.1l1.1 -0.8l1.1 -0.7l1.1 -0.1l1.1 0.5l1.1 0.5l1.1 0l1.1 -0.7l1.2 -0.8l1.1 -0.3l1.1 0.5l1.1 0.9l1.1 0.6l1.1 -0.2l1.1 -1l1.1 -1.1l1.1 -0.6l1.2 0.2l1.1 0.7l1.1 0.9l1.1 0.8l1.1 0.8l1.1 1l1.1 0.9l1.1 0.5l1.2 -0.2l1.1 -1.1l1.1 -1.6l1.1 -1.4l1.1 -0.8l1.1 -0.2l1.1 0.3l1.1 0.1l1.2 0l1.1 -0.2l1.1 -0.1l1.1 0.1l1.1 0.3l1.1 0.4l1.1 0.1l1.1 -0.2l1.1 -0.2l1.2 0.1l1.1 0.7l1.1 1.2l1.1 1.1l1.1 0.4l1.1 -0.8l1.1 -1.5l1.1 -1.3l1.2 -0.3l1.1 0.8l1.1 1.3l1.1 0.7l1.1 -0.3l1.1 -1l1.1 -0.7l1.1 0.5l1.1 1.3l1.2 0.9l1.1 -0.4l1.1 -1.9l1.1 -2.4l1.1 -1.4l1.1 0.4l1.1 1.8l1.1 2.1l1.2 1.3l1.1 -0.1l1.1 -1.1l1.1 -1.2l1.1 -0.7l1.1 -0.1l1.1 0.3l1.1 0.3l1.2 0.2l1.1 0l1.1 0.3l1.1 0.5l1.1 0.7l1.1 0.8l1.1 0.4l1.1 -0.2l1.1 -0.7l1.2 -1l1.1 -0.9l1.1 -0.4l1.1 0.2l1.1 0.6l1.1 0.9l1.1 0.8l1.1 0.8l1.2 0.8l1.1 0.7l1.1 0.6l1.1 0.2l1.1 -0.3l1.1 -1l1.1 -1.5l1.1 -1.6l1.2 -1.2l1.1 -0.5" fill="none" stroke="#72c9ed" stroke-width="1.15" stroke-linejoin="round"/>
<path d="M1012.7 461.9l1.1 2.1l1.1 2.4l1.1 1.6l1.1 0.5l1.2 -0.3l1.1 -0.1l1.1 0.7l1.1 1.7l1.1 1.9l1.1 1.4l1.1 0.2l1.1 -0.9l1.2 -1.3l1.1 -1l1.1 -0.4l1.1 0l1.1 0l1.1 -0.3l1.1 -0.6l1.1 -0.9l1.2 -0.8l1.1 -0.6l1.1 -0.5l1.1 -0.4l1.1 -0.3l1.1 -0.1l1.1 0.2l1.1 0.5l1.1 0.3l1.2 -0.1l1.1 -0.7l1.1 -0.9l1.1 -0.5l1.1 0.3l1.1 1.2l1.1 1.4l1.1 1.1l1.2 0.1l1.1 -0.5l1.1 -0.5l1.1 0.3l1.1 1.7l1.1 2.4l1.1 2.2l1.1 0.9l1.1 -0.9l1.2 -2l1.1 -2.3l1.1 -1.4l1.1 0l1.1 0.9l1.1 0.8l1.1 0.1l1.1 -1l1.2 -1.3l1.1 -0.9l1.1 0.2l1.1 1.1l1.1 1.1l1.1 0.2l1.1 -1.1l1.1 -1.9l1.2 -1.9l1.1 -0.8l1.1 0.7l1.1 1.8l1.1 2.2l1.1 1.8l1.1 1l1.1 0.1l1.1 -0.6l1.2 -1.1l1.1 -1.3l1.1 -1.3l1.1 -0.9l1.1 -0.5l1.1 0.1l1.1 0.3l1.1 0.2l1.2 -0.2l1.1 -0.4l1.1 -0.2l1.1 0.5l1.1 1.1l1.1 1.6l1.1 1.3l1.1 0.7l1.2 0l1.1 -0.5l1.1 -0.5l1.1 -0.3l1.1 -0.1l1.1 0l1.1 -0.1l1.1 -0.3l1.1 -0.5l1.2 -0.5l1.1 -0.6l1.1 -0.3l1.1 -0.1l1.1 0.1l1.1 0.3l1.1 0.5l1.1 0.6l1.2 0.6l1.1 0.9l1.1 1.2l1.1 1.3l1.1 1l1.1 0.2l1.1 -1l1.1 -2.1l1.2 -2.4l1.1 -1.8l1.1 -0.9l1.1 -0.1l1.1 0.2l1.1 -0.2l1.1 -0.7l1.1 -0.7l1.1 -0.1l1.2 0.8l1.1 1.3l1.1 1.1l1.1 0.3l1.1 -0.4l1.1 -0.3l1.1 0.8l1.1 2l1.2 2.5l1.1 1.9l1.1 -0.1l1.1 -2.1l1.1 -3.4l1.1 -3.2l1.1 -1.8l1.1 -0.1l1.1 1.3l1.2 1.9l1.1 1.7l1.1 1.3l1.1 1.2l1.1 1l1.1 0.6l1.1 -0.1l1.1 -1l1.2 -1.5l1.1 -1.5l1.1 -0.8l1.1 0.3l1.1 1l1.1 1.1l1.1 0.5l1.1 -0.3l1.2 -0.8l1.1 -0.9l1.1 -0.3l1.1 0.2l1.1 0.5l1.1 0.2l1.1 -0.6l1.1 -1.4l1.1 -1.7l1.2 -1.2l1.1 0.3l1.1 1.7l1.1 2.6l1.1 2.5l1.1 1.4l1.1 -0.3l1.1 -1.6l1.2 -2l1.1 -1.5l1.1 -0.3l1.1 0.7l1.1 1.3l1.1 1.3l1.1 0.8l1.1 0.1l1.2 -0.3l1.1 -0.6l1.1 -0.7l1.1 -0.6l1.1 -0.4l1.1 0.1l1.1 0.4l1.1 0.5l1.1 0.4l1.2 -0.3l1.1 -1.1l1.1 -1.6l1.1 -1.7l1.1 -0.9l1.1 0l1.1 0.9l1.1 1.4l1.2 1.1l1.1 0.3l1.1 -0.7l1.1 -1l1.1 -0.5l1.1 0.6l1.1 1.7l1.1 2.4l1.1 2.1l1.2 0.7l1.1 -0.8l1.1 -2l1.1 -2.5l1.1 -1.8l1.1 -0.6l1.1 0.8l1.1 1.5l1.2 1.6l1.1 1.1l1.1 0.1l1.1 -0.5l1.1 -0.6l1.1 -0.4l1.1 0l1.1 0.3l1.2 0l1.1 -0.8l1.1 -1.4l1.1 -1.7l1.1 -1.1l1.1 0l1.1 1.2l1.1 1.7l1.1 1.4l1.2 0.6l1.1 -0.3l1.1 -0.8l1.1 -0.5l1.1 0.2l1.1 1l1.1 1.3l1.1 1l1.2 0.4l1.1 -0.6l1.1 -1.2l1.1 -1.4l1.1 -1.1l1.1 -0.6l1.1 0l1.1 0.7l1.2 0.9l1.1 0.9l1.1 0.6l1.1 0.3l1.1 -0.1l1.1 -0.2l1.1 -0.3l1.1 -0.3l1.1 -0.1l1.2 0l1.1 -0.4l1.1 -1l1.1 -1.6l1.1 -2l1.1 -1.4l1.1 0.3l1.1 2.2l1.2 3.7l1.1 3.8l1.1 2.3l1.1 -0.2l1.1 -2.3l1.1 -2.8l1.1 -1.9l1.1 -0.1l1.2 1.3l1.1 1.6l1.1 0.7l1.1 -0.7l1.1 -1.8l1.1 -1.9l1.1 -1.3l1.1 -0.2l1.1 0.6l1.2 0.9l1.1 0.9l1.1 0.6l1.1 0.5l1.1 0.1l1.1 -0.2l1.1 -0.5l1.1 -0.5l1.2 -0.1l1.1 0.6l1.1 1.6l1.1 1.8l1.1 1.4l1.1 -0.1l1.1 -2.1l1.1 -3.6l1.1 -4.2l1.2 -3.1l1.1 -0.9l1.1 1.7l1.1 3.4l1.1 3.5l1.1 2.4l1.1 0.6l1.1 -0.7l1.2 -1.1l1.1 -0.5l1.1 0.5l1.1 0.9l1.1 0.7l1.1 0l1.1 -0.6l1.1 -0.7l1.2 -0.3l1.1 0.2l1.1 0.7l1.1 0.8l1.1 0.4l1.1 -0.1l1.1 -0.6l1.1 -1l1.1 -1.2l1.2 -1.1l1.1 -0.6l1.1 0l1.1 0.9l1.1 1.5l1.1 1.5l1.1 0.9l1.1 0l1.2 -1.1l1.1 -1.8l1.1 -1.9l1.1 -1.6l1.1 -0.8l1.1 0l1.1 0.6l1.1 0.8l1.2 0.9l1.1 0.8l1.1 1l1.1 1.4l1.1 1.7l1.1 1.8l1.1 1.2l1.1 -0.1l1.1 -1.6l1.2 -2.7l1.1 -3.1l1.1 -2.2l1.1 -0.7l1.1 1l1.1 2.3l1.1 2.6l1.1 2l1.2 0.8l1.1 -0.7l1.1 -1.9l1.1 -2.1l1.1 -1.6l1.1 -0.4l1.1 1l1.1 1.5l1.1 1.3l1.2 0.1l1.1 -1.2l1.1 -2.1l1.1 -1.8l1.1 -0.8l1.1 0.7l1.1 1.7l1.1 1.9l1.2 1.4l1.1 0.8l1.1 0.3l1.1 0.3l1.1 0.4l1.1 0.2l1.1 -0.3l1.1 -1.1l1.2 -1.5l1.1 -1.3l1.1 -0.5l1.1 0.5l1.1 1l1.1 0.7l1.1 -0.3l1.1 -1.3l1.1 -1.6l1.2 -0.8l1.1 0.6l1.1 2l1.1 2.7l1.1 2.3l1.1 1.2l1.1 -0.5l1.1 -1.7l1.2 -2.2l1.1 -2l1.1 -1.1l1.1 -0.2l1.1 0.6l1.1 1.1l1.1 1.1l1.1 1l1.2 0.4l1.1 -0.1l1.1 -0.9l1.1 -1.6l1.1 -1.8l1.1 -1.7l1.1 -0.9l1.1 0.1l1.1 0.9l1.2 1.1l1.1 0.8l1.1 0.3l1.1 0l1.1 0.4l1.1 1.1l1.1 1.7l1.1 1.7l1.2 0.9l1.1 -0.2l1.1 -0.9l1.1 -0.6l1.1 0.4l1.1 1.6l1.1 1.9l1.1 1.1l1.2 -0.7l1.1 -2.4l1.1 -3l1.1 -2.6l1.1 -1.2l1.1 0.3l1.1 1.4l1.1 1.6l1.1 1l1.2 0.1l1.1 -0.8l1.1 -1.5l1.1 -1.7l1.1 -1.4l1.1 -0.8l1.1 0.1l1.1 0.9l1.2 1.2l1.1 1.1l1.1 0.8l1.1 0.4l1.1 0l1.1 -0.2l1.1 -0.4l1.1 -0.4l1.1 -0.5l1.2 -0.3l1.1 -0.1l1.1 0l1.1 0l1.1 -0.3l1.1 -0.3l1.1 -0.1l1.1 0.4l1.2 1l1.1 1.5l1.1 1.3l1.1 0.7l1.1 -0.1l1.1 -0.4l1.1 -0.1l1.1 0.8l1.2 1.5l1.1 1.7l1.1 1.1l1.1 -0.3l1.1 -2l1.1 -3.2l1.1 -3.5l1.1 -2.7l1.1 -1l1.2 0.8l1.1 2.3l1.1 2.6l1.1 2l1.1 0.7l1.1 -0.5l1.1 -1.2l1.1 -1.2l1.2 -0.7l1.1 -0.1l1.1 0.6l1.1 1l1.1 1l1.1 0.8l1.1 0.3l1.1 -0.4l1.2 -0.9l1.1 -1.1l1.1 -0.8l1.1 -0.4l1.1 0.2l1.1 0.1l1.1 -0.1l1.1 -0.5l1.1 -0.6l1.2 0.1l1.1 1l1.1 1.7l1.1 1.4l1.1 0.3l1.1 -1.3l1.1 -2.5l1.1 -2.5l1.2 -1.3l1.1 0.5l1.1 2l1.1 2.3l1.1 1.6l1.1 0.4l1.1 -0.5l1.1 -0.5l1.1 0.1l1.2 1.1l1.1 1.6l1.1 1.2l1.1 0.2l1.1 -0.9l1.1 -1.7l1.1 -2l1.1 -1.5l1.2 -0.5l1.1 0.3l1.1 0.9l1.1 1.1l1.1 0.6l1.1 -0.2l1.1 -1.3l1.1 -2.1l1.2 -2.3l1.1 -1.6l1.1 -0.3l1.1 1.2l1.1 2.3l1.1 2.6l1.1 1.9l1.1 0.9l1.1 -0.2l1.2 -0.7l1.1 -0.6l1.1 -0.3l1.1 0.1l1.1 0.1l1.1 0l1.1 0l1.1 0.1l1.2 0.3l1.1 0.3l1.1 0l1.1 -0.5l1.1 -0.8l1.1 -0.6l1.1 0.1l1.1 1.2l1.2 1.6l1.1 1.4l1.1 0.2l1.1 -1l1.1 -1.6l1.1 -1.4l1.1 -0.3l1.1 0.6l1.1 0.9l1.2 0.5l1.1 -0.4l1.1 -1l1.1 -1.1l1.1 -1l1.1 -0.7l1.1 -0.7l1.1 -0.6l1.2 -0.3l1.1 0.3l1.1 1.2l1.1 1.7l1.1 1.6l1.1 0.9l1.1 0l1.1 -0.5l1.2 -0.4l1.1 -0.1l1.1 -0.1l1.1 -0.8l1.1 -1.6l1.1 -1.9l1.1 -1.1l1.1 0.6l1.1 2.3l1.2 3.1l1.1 2.4l1.1 0.6l1.1 -1.1l1.1 -1.9l1.1 -1.6l1.1 -0.4l1.1 0.8l1.2 1.2l1.1 0.9l1.1 0.3l1.1 -0.2l1.1 -0.1l1.1 0.1l1.1 0.3l1.1 0.3l1.1 -0.3l1.2 -0.8l1.1 -1.4l1.1 -1.4l1.1 -1.1l1.1 -0.3l1.1 0.6l1.1 1.2l1.1 1.3l1.2 0.8l1.1 -0.4l1.1 -1.4l1.1 -1.7l1.1 -1.3l1.1 -0.1l1.1 1.2l1.1 2.1l1.2 2l1.1 1.4l1.1 0.4l1.1 -0.4l1.1 -0.6l1.1 -0.7l1.1 -0.5l1.1 -0.7l1.1 -1l1.2 -1.6l1.1 -1.8l1.1 -1.6l1.1 -0.6l1.1 0.7l1.1 2.2l1.1 3l1.1 2.7l1.2 1.5l1.1 -0.3l1.1 -1.8l1.1 -2.4l1.1 -1.9l1.1 -1.1l1.1 -0.2l1.1 0.2l1.2 0.1l1.1 0" fill="none" stroke="#94be72" stroke-width="1.15" stroke-linejoin="round"/>
<path d="M1012.7 474.4l1.1 -0.2l1.1 1.5l1.1 2.4l1.1 2.4l1.2 1.7l1.1 0.8l1.1 0.2l1.1 0l1.1 0.2l1.1 0.3l1.1 0.3l1.1 0.1l1.2 -0.7l1.1 -1.4l1.1 -2.1l1.1 -2.2l1.1 -1.7l1.1 -0.5l1.1 0.8l1.1 1.8l1.2 2l1.1 1.4l1.1 0.5l1.1 -0.3l1.1 -1l1.1 -1l1.1 -0.8l1.1 -0.3l1.1 0.3l1.2 0.8l1.1 0.8l1.1 0.3l1.1 -0.6l1.1 -1.3l1.1 -1.3l1.1 -0.4l1.1 1l1.2 2l1.1 2.1l1.1 1.2l1.1 -0.3l1.1 -1.3l1.1 -1.3l1.1 -0.4l1.1 0.7l1.1 1.1l1.2 0.7l1.1 0l1.1 -0.7l1.1 -0.7l1.1 -0.3l1.1 0l1.1 -0.3l1.1 -1l1.2 -1.7l1.1 -1.9l1.1 -1.4l1.1 -0.2l1.1 1.1l1.1 2l1.1 2.4l1.1 2l1.2 1.4l1.1 0.7l1.1 -0.2l1.1 -0.6l1.1 -0.9l1.1 -0.8l1.1 -0.4l1.1 -0.1l1.1 0.2l1.2 0.3l1.1 0.2l1.1 0.1l1.1 0l1.1 -0.2l1.1 -0.6l1.1 -1l1.1 -1.3l1.2 -1.1l1.1 -0.7l1.1 0l1.1 0.3l1.1 0.4l1.1 0.1l1.1 -0.2l1.1 0.1l1.2 0.6l1.1 1.2l1.1 1.3l1.1 0.6l1.1 -0.1l1.1 -0.5l1.1 -0.4l1.1 0.2l1.1 0.5l1.2 0.2l1.1 -1l1.1 -2l1.1 -2.2l1.1 -1l1.1 1.1l1.1 3.1l1.1 4.1l1.2 3.4l1.1 1.8l1.1 -0.2l1.1 -1.7l1.1 -2.5l1.1 -2.4l1.1 -1.8l1.1 -1l1.2 0l1.1 0.9l1.1 1.1l1.1 0.8l1.1 -0.3l1.1 -1.5l1.1 -2.1l1.1 -1.6l1.1 -0.5l1.2 0.6l1.1 1.3l1.1 0.9l1.1 0.4l1.1 -0.2l1.1 0.1l1.1 0.8l1.1 1.2l1.2 1.1l1.1 0l1.1 -1.2l1.1 -2l1.1 -1.7l1.1 -0.4l1.1 1.2l1.1 2.5l1.1 2.7l1.2 1.8l1.1 0.5l1.1 -1.1l1.1 -2.1l1.1 -2.2l1.1 -1.7l1.1 -0.5l1.1 0.6l1.2 1.4l1.1 1.8l1.1 1.3l1.1 0.4l1.1 -0.6l1.1 -1.4l1.1 -1.6l1.1 -1.1l1.2 -0.2l1.1 0.5l1.1 0.8l1.1 0.3l1.1 -0.6l1.1 -1.3l1.1 -1.4l1.1 -0.4l1.1 1.2l1.2 2.6l1.1 3.2l1.1 2.7l1.1 1.1l1.1 -0.5l1.1 -2l1.1 -2.5l1.1 -2.4l1.2 -1.9l1.1 -1.1l1.1 -0.5l1.1 0.3l1.1 0.8l1.1 1.3l1.1 1.6l1.1 1.4l1.2 1l1.1 0.3l1.1 -0.4l1.1 -0.7l1.1 -0.8l1.1 -0.5l1.1 -0.2l1.1 -0.1l1.1 0l1.2 -0.2l1.1 -0.5l1.1 -0.7l1.1 -0.9l1.1 -0.9l1.1 -0.7l1.1 -0.4l1.1 0l1.2 0.5l1.1 1l1.1 1.5l1.1 1.9l1.1 2l1.1 1.7l1.1 0.8l1.1 -0.5l1.1 -1.6l1.2 -2l1.1 -1.6l1.1 -0.4l1.1 0.8l1.1 1.5l1.1 1.4l1.1 0.5l1.1 -0.5l1.2 -1.2l1.1 -1.2l1.1 -1.1l1.1 -0.9l1.1 -0.8l1.1 -0.7l1.1 -0.2l1.1 0.9l1.2 1.9l1.1 2.3l1.1 1.5l1.1 0l1.1 -1.8l1.1 -2.6l1.1 -2.2l1.1 -0.7l1.1 0.9l1.2 2l1.1 2l1.1 1.2l1.1 0.4l1.1 -0.2l1.1 -0.6l1.1 -0.6l1.1 -0.6l1.2 -0.4l1.1 0.1l1.1 0.7l1.1 1.1l1.1 0.8l1.1 -0.3l1.1 -1.6l1.1 -2.6l1.2 -2.3l1.1 -0.9l1.1 1.3l1.1 2.8l1.1 3.2l1.1 2l1.1 0.3l1.1 -1.4l1.1 -2.1l1.2 -1.7l1.1 -0.7l1.1 0.2l1.1 0.6l1.1 0.4l1.1 -0.1l1.1 -0.3l1.1 -0.2l1.2 0l1.1 0.2l1.1 0.1l1.1 0l1.1 -0.2l1.1 -0.4l1.1 -0.1l1.1 0.1l1.2 0.3l1.1 0.4l1.1 0.4l1.1 0.4l1.1 0.4l1.1 0.2l1.1 0.1l1.1 -0.3l1.1 -0.7l1.2 -0.7l1.1 -0.4l1.1 0.2l1.1 1.1l1.1 1.5l1.1 1.6l1.1 0.8l1.1 -0.2l1.2 -1.2l1.1 -1.9l1.1 -1.9l1.1 -1.1l1.1 0l1.1 1l1.1 1.3l1.1 1l1.1 -0.1l1.2 -1.2l1.1 -1.9l1.1 -2l1.1 -1.2l1.1 -0.1l1.1 1l1.1 1.6l1.1 1.5l1.2 1.1l1.1 0.7l1.1 0.3l1.1 0.1l1.1 0.2l1.1 0.1l1.1 0.1l1.1 -0.1l1.2 -0.2l1.1 -0.1l1.1 0.2l1.1 0.6l1.1 0.7l1.1 0l1.1 -1.1l1.1 -2.4l1.1 -3.2l1.2 -2.7l1.1 -1l1.1 1.6l1.1 3.9l1.1 5.1l1.1 4.3l1.1 2.2l1.1 -0.3l1.2 -2.3l1.1 -3l1.1 -2.3l1.1 -1l1.1 0.3l1.1 0.7l1.1 0.2l1.1 -1.1l1.2 -2.2l1.1 -2.7l1.1 -1.8l1.1 0.1l1.1 1.9l1.1 3l1.1 2.6l1.1 0.7l1.1 -1.7l1.2 -3l1.1 -2.6l1.1 -0.7l1.1 1.7l1.1 3.2l1.1 3l1.1 1.5l1.1 -0.4l1.2 -1.4l1.1 -0.9l1.1 0.1l1.1 0.9l1.1 0.7l1.1 -0.4l1.1 -1.5l1.1 -1.5l1.1 -0.4l1.2 1.2l1.1 2.3l1.1 2.1l1.1 0.7l1.1 -1.1l1.1 -2.2l1.1 -2.3l1.1 -1.4l1.2 -0.3l1.1 0.5l1.1 0.5l1.1 0.3l1.1 -0.2l1.1 -0.4l1.1 -0.2l1.1 0.2l1.2 0.6l1.1 0.9l1.1 0.9l1.1 0.5l1.1 -0.3l1.1 -1.1l1.1 -1.6l1.1 -1l1.1 0.2l1.2 1.7l1.1 2.7l1.1 2.3l1.1 0.9l1.1 -1.2l1.1 -2.5l1.1 -2.7l1.1 -1.6l1.2 -0.2l1.1 0.7l1.1 0.9l1.1 0.3l1.1 -0.3l1.1 -0.2l1.1 0.5l1.1 1.4l1.2 1.9l1.1 1.5l1.1 0.4l1.1 -1.1l1.1 -2.2l1.1 -2.4l1.1 -1.9l1.1 -0.5l1.1 1l1.2 2.1l1.1 2.4l1.1 1.9l1.1 0.6l1.1 -0.8l1.1 -1.8l1.1 -1.8l1.1 -1.1l1.2 0.1l1.1 1l1.1 1.5l1.1 1.1l1.1 0.4l1.1 -0.5l1.1 -1.2l1.1 -1.4l1.2 -1.3l1.1 -0.8l1.1 -0.2l1.1 0.6l1.1 1l1.1 1.4l1.1 1.3l1.1 1.1l1.1 0.5l1.2 0l1.1 -0.4l1.1 -0.7l1.1 -0.6l1.1 -0.5l1.1 -0.2l1.1 0l1.1 0l1.2 -0.3l1.1 -0.9l1.1 -1.5l1.1 -1.6l1.1 -1.3l1.1 -0.4l1.1 0.6l1.1 1.5l1.1 2l1.2 2l1.1 1.5l1.1 0.7l1.1 0.1l1.1 -0.5l1.1 -0.6l1.1 -0.5l1.1 0.1l1.2 0.6l1.1 0.8l1.1 0.6l1.1 -0.3l1.1 -1.2l1.1 -1.9l1.1 -1.9l1.1 -1.2l1.2 0l1.1 0.9l1.1 1.3l1.1 0.8l1.1 -0.1l1.1 -0.9l1.1 -1.1l1.1 -0.6l1.1 0.3l1.2 1.1l1.1 1.4l1.1 1.3l1.1 0.8l1.1 0.1l1.1 -0.2l1.1 -0.3l1.1 -0.4l1.2 -0.7l1.1 -1l1.1 -1.1l1.1 -0.9l1.1 -0.2l1.1 0.8l1.1 1.5l1.1 1.5l1.2 0.6l1.1 -0.6l1.1 -1.6l1.1 -1.6l1.1 -0.4l1.1 1l1.1 2.1l1.1 1.9l1.1 0.7l1.2 -1l1.1 -1.9l1.1 -1.7l1.1 -0.5l1.1 0.6l1.1 0.9l1.1 0l1.1 -1.2l1.2 -1.9l1.1 -1.1l1.1 0.7l1.1 2.5l1.1 3.2l1.1 2.3l1.1 0.5l1.1 -1.2l1.1 -1.8l1.2 -1.4l1.1 -0.1l1.1 0.8l1.1 0.8l1.1 0.2l1.1 -0.6l1.1 -0.9l1.1 -0.8l1.2 -0.1l1.1 0.2l1.1 0.4l1.1 0l1.1 -0.3l1.1 -0.4l1.1 -0.3l1.1 -0.3l1.2 -0.4l1.1 -0.7l1.1 -1.2l1.1 -1.2l1.1 -0.6l1.1 0.6l1.1 1.9l1.1 2.9l1.1 2.8l1.2 1.8l1.1 0.3l1.1 -1.1l1.1 -1.7l1.1 -1.5l1.1 -0.8l1.1 -0.4l1.1 -0.6l1.2 -1.2l1.1 -1.7l1.1 -1.3l1.1 0l1.1 1.5l1.1 2.6l1.1 2.7l1.1 1.9l1.2 0.6l1.1 -0.3l1.1 -0.4l1.1 -0.3l1.1 0l1.1 0l1.1 -0.3l1.1 -0.5l1.1 -0.3l1.2 0.1l1.1 0.2l1.1 0.1l1.1 -0.6l1.1 -1.2l1.1 -1.1l1.1 -0.5l1.1 0.5l1.2 1.1l1.1 1l1.1 0l1.1 -1.4l1.1 -2.3l1.1 -2.3l1.1 -1.3l1.1 0.3l1.2 1.8l1.1 2.4l1.1 2l1.1 0.7l1.1 -0.6l1.1 -1.9l1.1 -2.1l1.1 -1.8l1.1 -0.9l1.2 0l1.1 0.8l1.1 1.2l1.1 1.4l1.1 1.7l1.1 1.5l1.1 1.2l1.1 0.6l1.2 0.1l1.1 -0.3l1.1 0.1l1.1 0.7l1.1 1.3l1.1 1.2l1.1 0.2l1.1 -1l1.1 -2.1l1.2 -2.4l1.1 -1.7l1.1 -0.4l1.1 0.9l1.1 1.7l1.1 1.4l1.1 0.5l1.1 -1l1.2 -2.3l1.1 -2.9l1.1 -2.8l1.1 -1.8l1.1 -0.1l1.1 1.5l1.1 2.5l1.1 2.8l1.2 2l1.1 1.1l1.1 0.3l1.1 0.3l1.1 0.7l1.1 1.2l1.1 1.1l1.1 0.1l1.1 -1.1l1.2 -2.3l1.1 -2.5l1.1 -2l1.1 -0.8l1.1 0.1l1.1 0.7l1.1 0.6l1.1 0.4l1.2 0.3l1.1 0.4l1.1 0.5l1.1 0.4l1.1 -0.1l1.1 -0.7l1.1 -1l1.1 -0.7l1.2 -0.1l1.1 0.5" fill="none" stroke="#9259a8" stroke-width="1.15" stroke-linejoin="round"/>
<path d="M1012.7 489.7l1.1 0.3l1.1 -0.3l1.1 -0.7l1.1 -0.3l1.2 0.7l1.1 2.1l1.1 3.1l1.1 3.1l1.1 2l1.1 0l1.1 -2.2l1.1 -3.9l1.2 -4.5l1.1 -3.6l1.1 -1.7l1.1 0.5l1.1 2.3l1.1 3.1l1.1 2.6l1.1 1.4l1.2 0l1.1 -0.9l1.1 -1.2l1.1 -0.8l1.1 -0.3l1.1 0.3l1.1 0.6l1.1 0.7l1.1 0.5l1.2 0.2l1.1 -0.2l1.1 -0.3l1.1 -0.3l1.1 -0.1l1.1 0.3l1.1 0.4l1.1 0.4l1.2 0.3l1.1 0.2l1.1 0.7l1.1 1.1l1.1 1.3l1.1 0.7l1.1 -0.5l1.1 -2.1l1.1 -2.8l1.2 -2.6l1.1 -1.2l1.1 0.3l1.1 1l1.1 0.4l1.1 -1.1l1.1 -2.3l1.1 -2.4l1.2 -0.9l1.1 1.2l1.1 3l1.1 3.7l1.1 2.6l1.1 0.9l1.1 -0.9l1.1 -1.5l1.2 -0.9l1.1 0.5l1.1 2.1l1.1 2.8l1.1 2.5l1.1 1l1.1 -0.9l1.1 -2.4l1.1 -3.1l1.2 -2.4l1.1 -0.8l1.1 1l1.1 2.1l1.1 2.2l1.1 1.1l1.1 -0.8l1.1 -2.6l1.2 -3.7l1.1 -3.5l1.1 -1.9l1.1 0.3l1.1 2.1l1.1 2.8l1.1 1.8l1.1 0l1.2 -1.4l1.1 -1.5l1.1 0.1l1.1 2.2l1.1 3.7l1.1 3.1l1.1 0.9l1.1 -1.6l1.1 -3.1l1.2 -2.4l1.1 -0.6l1.1 1.2l1.1 1.7l1.1 0.7l1.1 -0.8l1.1 -1.6l1.1 -1.1l1.2 0.1l1.1 0.8l1.1 0.5l1.1 -0.8l1.1 -1.8l1.1 -1.7l1.1 -0.2l1.1 1.4l1.2 2.4l1.1 1.9l1.1 0.4l1.1 -1l1.1 -1.6l1.1 -1l1.1 0l1.1 0.6l1.1 0.4l1.2 -0.2l1.1 -0.9l1.1 -1l1.1 -0.6l1.1 -0.1l1.1 0.3l1.1 0.6l1.1 1l1.2 1.5l1.1 2l1.1 2l1.1 1.5l1.1 0.3l1.1 -0.7l1.1 -1.4l1.1 -1.4l1.1 -1.3l1.2 -1.1l1.1 -0.8l1.1 -0.4l1.1 0.3l1.1 1.5l1.1 2.2l1.1 2.3l1.1 0.9l1.2 -1l1.1 -2.7l1.1 -3.3l1.1 -2.3l1.1 -0.4l1.1 1.3l1.1 1.8l1.1 1l1.2 -0.5l1.1 -1.9l1.1 -2.2l1.1 -1.5l1.1 0l1.1 1l1.1 1.6l1.1 1.4l1.1 0.9l1.2 0.5l1.1 0.5l1.1 0.8l1.1 0.9l1.1 1l1.1 0.7l1.1 0.2l1.1 -0.1l1.2 -0.3l1.1 -0.4l1.1 -0.4l1.1 -0.5l1.1 -0.5l1.1 -0.5l1.1 -0.4l1.1 -0.2l1.2 -0.2l1.1 -0.4l1.1 -0.8l1.1 -1.3l1.1 -1.5l1.1 -1.2l1.1 -0.5l1.1 0.3l1.1 1l1.2 1.3l1.1 1.1l1.1 1l1.1 0.8l1.1 0.6l1.1 0.4l1.1 0.1l1.1 0l1.2 0.1l1.1 0.9l1.1 1.8l1.1 2.3l1.1 1.9l1.1 0.2l1.1 -2.1l1.1 -3.8l1.1 -4.1l1.2 -3l1.1 -0.9l1.1 1.3l1.1 2.4l1.1 2.4l1.1 1.3l1.1 0.1l1.1 -0.7l1.2 -1.3l1.1 -1.3l1.1 -1.5l1.1 -1.5l1.1 -1.1l1.1 -0.5l1.1 0.6l1.1 1.7l1.2 2.3l1.1 2.4l1.1 1.6l1.1 0.5l1.1 -0.3l1.1 -0.7l1.1 -0.7l1.1 -0.4l1.1 -0.3l1.2 -0.3l1.1 -0.6l1.1 -0.6l1.1 -0.3l1.1 0.3l1.1 1.1l1.1 1.3l1.1 0.9l1.2 0l1.1 -1.1l1.1 -1.5l1.1 -1.1l1.1 0l1.1 0.9l1.1 1.2l1.1 0.5l1.2 -0.6l1.1 -1.3l1.1 -1l1.1 0.3l1.1 1.8l1.1 2.5l1.1 1.8l1.1 0.1l1.1 -1.9l1.2 -2.9l1.1 -2.7l1.1 -1.4l1.1 0l1.1 0.6l1.1 0.6l1.1 0l1.1 -0.3l1.2 0l1.1 0.6l1.1 1.2l1.1 1.6l1.1 1.5l1.1 1.1l1.1 0.6l1.1 -0.1l1.2 -0.6l1.1 -0.9l1.1 -0.5l1.1 0.3l1.1 1.3l1.1 1.8l1.1 1.4l1.1 -0.2l1.1 -2.1l1.2 -3.5l1.1 -3.4l1.1 -2l1.1 0.1l1.1 1.6l1.1 2.2l1.1 1.5l1.1 0.3l1.2 -1l1.1 -1.5l1.1 -1.3l1.1 -0.7l1.1 0.1l1.1 0.9l1.1 1.3l1.1 1.2l1.1 0.7l1.2 -0.1l1.1 -0.8l1.1 -1.1l1.1 -0.8l1.1 -0.1l1.1 0.5l1.1 0.8l1.1 0.5l1.2 -0.1l1.1 -0.5l1.1 -0.6l1.1 -0.4l1.1 0.1l1.1 0.7l1.1 0.9l1.1 0.8l1.2 0.4l1.1 -0.2l1.1 -0.8l1.1 -1l1.1 -0.7l1.1 0.3l1.1 1.3l1.1 2l1.1 2l1.2 1.3l1.1 0.3l1.1 -0.6l1.1 -1.1l1.1 -1.1l1.1 -0.7l1.1 -0.3l1.1 0l1.2 0l1.1 0l1.1 0l1.1 0l1.1 0.2l1.1 0.3l1.1 -0.1l1.1 -0.9l1.2 -1.8l1.1 -2.3l1.1 -1.8l1.1 -0.4l1.1 1.7l1.1 2.9l1.1 2.6l1.1 0.9l1.1 -1.7l1.2 -3.3l1.1 -2.9l1.1 -0.9l1.1 1.8l1.1 3.5l1.1 3.5l1.1 2.1l1.1 0.2l1.2 -1l1.1 -1.2l1.1 -0.7l1.1 -0.4l1.1 -0.6l1.1 -0.8l1.1 -1l1.1 -0.5l1.1 0.2l1.2 0.7l1.1 0.7l1.1 0.2l1.1 -0.5l1.1 -0.9l1.1 -1l1.1 -0.8l1.1 -0.3l1.2 0.2l1.1 0.9l1.1 1.4l1.1 1.8l1.1 1.6l1.1 0.7l1.1 -0.5l1.1 -1.4l1.2 -1.6l1.1 -1.3l1.1 -0.7l1.1 -0.3l1.1 -0.4l1.1 -0.5l1.1 -0.5l1.1 -0.1l1.1 0.6l1.2 1.2l1.1 1.3l1.1 0.9l1.1 0.4l1.1 0l1.1 0l1.1 0.3l1.1 0.6l1.2 0.9l1.1 0.8l1.1 0.3l1.1 -0.5l1.1 -1.3l1.1 -1.9l1.1 -1.8l1.1 -1l1.2 0.3l1.1 1.6l1.1 2.5l1.1 2.1l1.1 1l1.1 -0.8l1.1 -2.1l1.1 -2.6l1.1 -2.1l1.2 -0.7l1.1 0.7l1.1 1.7l1.1 1.7l1.1 0.9l1.1 -0.4l1.1 -1.4l1.1 -1.8l1.2 -1.4l1.1 -0.2l1.1 1.1l1.1 1.7l1.1 1.3l1.1 0.3l1.1 -0.8l1.1 -1.4l1.2 -0.9l1.1 0.2l1.1 1.4l1.1 2.1l1.1 1.7l1.1 0.7l1.1 -0.2l1.1 -0.8l1.1 -0.6l1.2 -0.1l1.1 0.5l1.1 0.6l1.1 0.2l1.1 -0.4l1.1 -1l1.1 -1.3l1.1 -1.3l1.2 -1.2l1.1 -0.9l1.1 -0.4l1.1 0l1.1 0.6l1.1 0.8l1.1 0.8l1.1 0.4l1.1 0.1l1.2 0.1l1.1 0.4l1.1 0.9l1.1 1.2l1.1 1l1.1 0.2l1.1 -0.7l1.1 -1.3l1.2 -1.4l1.1 -1.1l1.1 -0.5l1.1 0l1.1 0.1l1.1 0.3l1.1 0.8l1.1 1.3l1.2 1.7l1.1 1.4l1.1 0.3l1.1 -1.3l1.1 -2.8l1.1 -3.3l1.1 -2.6l1.1 -1l1.1 0.9l1.2 2l1.1 2.2l1.1 1.4l1.1 0.2l1.1 -0.9l1.1 -1l1.1 -0.5l1.1 0.6l1.2 1.5l1.1 2.2l1.1 2.1l1.1 1.6l1.1 0.7l1.1 -0.4l1.1 -1.5l1.1 -2.2l1.2 -2.3l1.1 -1.9l1.1 -0.8l1.1 0.5l1.1 1.5l1.1 1.6l1.1 1l1.1 -0.3l1.1 -1.4l1.2 -1.8l1.1 -1.3l1.1 -0.2l1.1 1.1l1.1 1.8l1.1 1.8l1.1 1.2l1.1 0.5l1.2 -0.2l1.1 -0.5l1.1 -0.6l1.1 -0.4l1.1 -0.3l1.1 -0.2l1.1 -0.3l1.1 -0.4l1.1 0.3l1.2 2.8l1.1 3l1.1 2.9l1.1 -2.6l1.1 -3l1.1 -3.6l1.1 -1.2l1.1 -0.7l1.2 0.3l1.1 1.4l1.1 1.9l1.1 1.7l1.1 0.7l1.1 -0.7l1.1 -1.5l1.1 -1.6l1.2 -1.2l1.1 -0.8l1.1 -0.8l1.1 -1.1l1.1 -1.1l1.1 -0.5l1.1 0.7l1.1 1.8l1.1 2.5l1.2 2.1l1.1 1.3l1.1 0.3l1.1 -0.2l1.1 -0.5l1.1 -1l1.1 -1.5l1.1 -2.1l1.2 -2l1.1 -1l1.1 0.9l1.1 2.4l1.1 3l1.1 1.9l1.1 0l1.1 -1.6l1.2 -1.9l1.1 -0.8l1.1 0.9l1.1 1.9l1.1 1.5l1.1 -0.1l1.1 -1.9l1.1 -2.7l1.1 -2.1l1.2 -0.4l1.1 1.1l1.1 1.8l1.1 1.3l1.1 0.3l1.1 -0.7l1.1 -1l1.1 -0.4l1.2 0.6l1.1 1.6l1.1 1.9l1.1 1.6l1.1 0.8l1.1 -0.1l1.1 -1l1.1 -1.4l1.2 -1.5l1.1 -1.4l1.1 -1.2l1.1 -0.8l1.1 -0.5l1.1 0l1.1 0.3l1.1 0.7l1.1 0.8l1.2 0.9l1.1 0.7l1.1 0.4l1.1 -0.2l1.1 -0.7l1.1 -1.1l1.1 -1.3l1.1 -1l1.2 -0.2l1.1 0.9l1.1 1.8l1.1 2l1.1 1.3l1.1 0.2l1.1 -1.3l1.1 -1.9l1.1 -1.7l1.2 -0.7l1.1 0.6l1.1 1.4l1.1 1.5l1.1 0.9l1.1 0.4l1.1 -0.1l1.1 0.1l1.2 0.3l1.1 0.3l1.1 0.1l1.1 -0.4l1.1 -0.5l1.1 -0.3l1.1 0.2l1.1 0.6l1.2 0.4l1.1 -0.4l1.1 -1.2l1.1 -1.5l1.1 -1.1l1.1 0.1l1.1 1.2l1.1 1.6l1.1 0.8l1.2 -0.9l1.1 -2.6l1.1 -3.3l1.1 -2.7l1.1 -1l1.1 1.2l1.1 2.9l1.1 3.4l1.2 3l1.1 1.7l1.1 0.2l1.1 -0.9l1.1 -1.3l1.1 -1.1l1.1 -0.5l1.1 0.2l1.2 0.8l1.1 0.9" fill="none" stroke="#eec564" stroke-width="1.15" stroke-linejoin="round"/>
<path d="M1012.7 503.3l1.1 1.1l1.1 0.4l1.1 -0.3l1.1 -0.6l1.2 -0.4l1.1 0.4l1.1 1.1l1.1 1.1l1.1 0.6l1.1 -0.2l1.1 -0.9l1.1 -1l1.2 -0.7l1.1 -0.2l1.1 -0.1l1.1 -0.3l1.1 -0.8l1.1 -1l1.1 -0.9l1.1 -0.5l1.2 0.2l1.1 0.7l1.1 0.8l1.1 0.6l1.1 0.4l1.1 0.1l1.1 0l1.1 0.1l1.1 0.5l1.2 0.6l1.1 0.7l1.1 0.3l1.1 -0.2l1.1 -0.6l1.1 -0.6l1.1 -0.4l1.1 -0.2l1.2 -0.1l1.1 -0.3l1.1 -0.2l1.1 0l1.1 0.6l1.1 0.9l1.1 0.7l1.1 0.2l1.1 -0.3l1.2 -0.5l1.1 -0.1l1.1 0.5l1.1 1l1.1 0.8l1.1 0.1l1.1 -0.6l1.1 -1l1.2 -0.8l1.1 -0.4l1.1 -0.2l1.1 -0.2l1.1 -0.5l1.1 -0.6l1.1 -0.3l1.1 0.4l1.2 1.1l1.1 1.3l1.1 0.8l1.1 -0.2l1.1 -1.4l1.1 -2l1.1 -1.7l1.1 -0.9l1.1 0l1.2 0.6l1.1 0.9l1.1 1.1l1.1 1.3l1.1 1.4l1.1 1.2l1.1 0.4l1.1 -0.7l1.2 -1.6l1.1 -1.7l1.1 -0.9l1.1 0.7l1.1 1.8l1.1 1.9l1.1 1.1l1.1 -0.1l1.2 -0.8l1.1 -0.7l1.1 0l1.1 0.7l1.1 0.5l1.1 -0.1l1.1 -1.2l1.1 -1.5l1.1 -1.3l1.2 -0.6l1.1 0.2l1.1 0.4l1.1 0.1l1.1 -0.2l1.1 -0.2l1.1 0.1l1.1 0.7l1.2 0.9l1.1 0.8l1.1 0.1l1.1 -0.3l1.1 -0.4l1.1 -0.2l1.1 0.4l1.1 0.7l1.2 0.6l1.1 0.1l1.1 -0.5l1.1 -1.2l1.1 -1.4l1.1 -1l1.1 -0.3l1.1 0.4l1.1 0.9l1.2 0.6l1.1 -0.1l1.1 -0.8l1.1 -0.8l1.1 -0.3l1.1 0.6l1.1 1.4l1.1 1.4l1.2 0.9l1.1 0.1l1.1 -0.5l1.1 -0.5l1.1 -0.3l1.1 -0.1l1.1 0l1.1 -0.1l1.1 -0.2l1.2 -0.3l1.1 -0.3l1.1 0l1.1 0.6l1.1 1.4l1.1 2l1.1 1.9l1.1 0.9l1.2 -0.7l1.1 -2.2l1.1 -3l1.1 -2.9l1.1 -2l1.1 -0.9l1.1 0l1.1 0.8l1.2 1.1l1.1 1.3l1.1 1.1l1.1 0.5l1.1 -0.3l1.1 -0.9l1.1 -0.8l1.1 -0.2l1.1 1.1l1.2 1.9l1.1 2.3l1.1 2l1.1 0.9l1.1 -0.1l1.1 -1.2l1.1 -1.7l1.1 -1.6l1.2 -1l1.1 -0.3l1.1 0.2l1.1 0.2l1.1 -0.2l1.1 -0.4l1.1 -0.3l1.1 0l1.2 0.5l1.1 0.6l1.1 0.4l1.1 0.1l1.1 -0.2l1.1 0l1.1 0.1l1.1 0.2l1.1 0l1.2 -0.2l1.1 -0.1l1.1 0.2l1.1 0.4l1.1 0.1l1.1 -0.5l1.1 -1.2l1.1 -1.2l1.2 -0.6l1.1 0.3l1.1 0.9l1.1 1.1l1.1 0.7l1.1 0.2l1.1 -0.1l1.1 -0.2l1.1 -0.3l1.2 -0.4l1.1 -0.5l1.1 -0.3l1.1 -0.1l1.1 0.3l1.1 0.3l1.1 0l1.1 -0.5l1.2 -0.5l1.1 -0.1l1.1 0.7l1.1 1.1l1.1 0.8l1.1 -0.1l1.1 -0.9l1.1 -1.2l1.2 -0.6l1.1 0.6l1.1 1.5l1.1 1.7l1.1 1.1l1.1 0.2l1.1 -0.6l1.1 -0.9l1.1 -0.7l1.2 -0.4l1.1 -0.3l1.1 -0.3l1.1 -0.6l1.1 -0.6l1.1 -0.4l1.1 0.2l1.1 0.9l1.2 1.5l1.1 1.3l1.1 0.4l1.1 -0.7l1.1 -1.5l1.1 -1.6l1.1 -0.9l1.1 0.1l1.2 0.7l1.1 0.6l1.1 0l1.1 -0.5l1.1 -0.8l1.1 -0.6l1.1 -0.2l1.1 0.2l1.1 0.4l1.2 0.9l1.1 1.3l1.1 1.6l1.1 1.4l1.1 0.5l1.1 -0.6l1.1 -1.5l1.1 -1.9l1.2 -1.5l1.1 -0.7l1.1 0.1l1.1 0.8l1.1 1.2l1.1 1.2l1.1 1l1.1 0.6l1.2 0l1.1 0l1.1 0l1.1 0.2l1.1 -0.2l1.1 -0.9l1.1 -1.8l1.1 -1.8l1.1 -1.2l1.2 0.1l1.1 0.9l1.1 1l1.1 0.3l1.1 -0.3l1.1 -0.2l1.1 0.7l1.1 1.7l1.2 1.7l1.1 0.7l1.1 -0.7l1.1 -1.7l1.1 -1.5l1.1 -0.5l1.1 0.3l1.1 0.5l1.1 0l1.2 -0.8l1.1 -1.1l1.1 -0.5l1.1 0.4l1.1 1.2l1.1 1.5l1.1 1.1l1.1 0.5l1.2 -0.3l1.1 -0.8l1.1 -0.9l1.1 -0.6l1.1 -0.2l1.1 0.2l1.1 0.1l1.1 0l1.2 0l1.1 0.2l1.1 0.5l1.1 0.8l1.1 0.6l1.1 -0.1l1.1 -0.7l1.1 -0.8l1.1 -0.2l1.2 0.7l1.1 1.3l1.1 0.9l1.1 -0.2l1.1 -1.2l1.1 -1.7l1.1 -1.2l1.1 -0.1l1.2 1l1.1 1.3l1.1 1l1.1 0.1l1.1 -1l1.1 -1.6l1.1 -1.6l1.1 -0.7l1.2 0.7l1.1 2l1.1 2.4l1.1 1.7l1.1 0l1.1 -1.7l1.1 -2.5l1.1 -1.7l1.1 -0.1l1.2 1.6l1.1 2l1.1 1.3l1.1 0l1.1 -1l1.1 -1.1l1.1 -0.8l1.1 -0.2l1.2 -0.1l1.1 -0.3l1.1 -0.7l1.1 -0.6l1.1 -0.2l1.1 0.3l1.1 0.6l1.1 0.5l1.1 0.2l1.2 -0.1l1.1 -0.1l1.1 0.1l1.1 0.5l1.1 0.6l1.1 0.4l1.1 0.1l1.1 -0.4l1.2 -0.5l1.1 -0.2l1.1 0.3l1.1 0.9l1.1 1.1l1.1 0.5l1.1 -0.3l1.1 -1.3l1.2 -1.6l1.1 -1l1.1 0l1.1 1.5l1.1 2.3l1.1 2.2l1.1 1.3l1.1 -0.4l1.1 -2l1.2 -2.7l1.1 -2.3l1.1 -1.2l1.1 0.3l1.1 1l1.1 1l1.1 0.4l1.1 -0.1l1.2 -0.1l1.1 0l1.1 0.2l1.1 0.1l1.1 -0.2l1.1 -0.3l1.1 -0.2l1.1 0.3l1.2 0.8l1.1 0.8l1.1 0.5l1.1 0.1l1.1 -0.3l1.1 -0.5l1.1 -0.8l1.1 -1l1.1 -1l1.2 -0.5l1.1 0.7l1.1 1.7l1.1 2.2l1.1 1.7l1.1 0.2l1.1 -1.2l1.1 -1.9l1.2 -1.6l1.1 -0.5l1.1 0.7l1.1 1.3l1.1 1.1l1.1 0.3l1.1 -0.5l1.1 -0.9l1.2 -0.9l1.1 -0.3l1.1 0.2l1.1 0.4l1.1 0.1l1.1 -0.3l1.1 -0.5l1.1 -0.3l1.1 0.2l1.2 0.8l1.1 0.9l1.1 0.6l1.1 -0.2l1.1 -1l1.1 -1.4l1.1 -1.1l1.1 -0.5l1.2 0.5l1.1 1.2l1.1 1.3l1.1 1l1.1 0.3l1.1 -0.5l1.1 -0.7l1.1 -0.5l1.1 0l1.2 0.2l1.1 0.1l1.1 -0.2l1.1 -0.5l1.1 -0.3l1.1 0.2l1.1 0.6l1.1 0.6l1.2 0.1l1.1 -0.6l1.1 -1l1.1 -0.7l1.1 0.2l1.1 1.1l1.1 1.5l1.1 1.3l1.2 0.4l1.1 -0.8l1.1 -1.6l1.1 -1.7l1.1 -0.9l1.1 0.3l1.1 1.4l1.1 1.9l1.1 1.3l1.2 0.2l1.1 -1.2l1.1 -1.8l1.1 -1.5l1.1 -0.8l1.1 0l1.1 0.4l1.1 0.4l1.2 0.1l1.1 0.1l1.1 0.3l1.1 0.7l1.1 0.8l1.1 0.4l1.1 0.1l1.1 -0.1l1.2 -0.2l1.1 -0.1l1.1 -0.2l1.1 -0.5l1.1 -0.8l1.1 -0.7l1.1 -0.1l1.1 0.5l1.1 1l1.2 0.9l1.1 0.5l1.1 0.2l1.1 0l1.1 -0.2l1.1 -0.2l1.1 -0.5l1.1 -0.6l1.2 -0.5l1.1 0.1l1.1 0.8l1.1 1.1l1.1 0.7l1.1 -0.1l1.1 -0.8l1.1 -1l1.1 -0.2l1.2 1.9l1.1 2.1l1.1 1.8l1.1 -2.5l1.1 -2.2l1.1 -1.7l1.1 0.7l1.1 0.7l1.2 0.2l1.1 -0.7l1.1 -1.1l1.1 -1l1.1 -0.2l1.1 0.3l1.1 0.8l1.1 0.6l1.2 0.3l1.1 -0.2l1.1 -0.5l1.1 -0.5l1.1 -0.3l1.1 0.3l1.1 1.1l1.1 1.9l1.1 1.8l1.2 1.2l1.1 -0.2l1.1 -1.4l1.1 -2l1.1 -1.6l1.1 -0.7l1.1 0.1l1.1 0.5l1.2 0.3l1.1 0l1.1 0l1.1 0.3l1.1 0.6l1.1 0.7l1.1 0.3l1.1 -0.1l1.2 -0.3l1.1 -0.1l1.1 0.1l1.1 0.1l1.1 -0.5l1.1 -1.3l1.1 -1.8l1.1 -1.5l1.1 -0.2l1.2 1.1l1.1 1.7l1.1 1.3l1.1 0.3l1.1 -0.8l1.1 -1l1.1 -0.4l1.1 0.4l1.2 1l1.1 1l1.1 0.5l1.1 0l1.1 -0.3l1.1 -0.3l1.1 -0.2l1.1 -0.3l1.2 -0.5l1.1 -0.5l1.1 -0.3l1.1 0.1l1.1 0.5l1.1 0.6l1.1 0.2l1.1 -0.2l1.1 -0.8l1.2 -1l1.1 -0.7l1.1 -0.1l1.1 0.6l1.1 1.2l1.1 1.1l1.1 0.8l1.1 0.4l1.2 0.1l1.1 0.2l1.1 0.5l1.1 0.6l1.1 0.1l1.1 -0.7l1.1 -1.4l1.1 -1.5l1.1 -1l1.2 -0.1l1.1 0.7l1.1 1.3l1.1 1.4l1.1 1.2l1.1 0.6l1.1 -0.2l1.1 -1.5l1.2 -2.5l1.1 -2.8l1.1 -1.7l1.1 0.3l1.1 2.4l1.1 3.3l1.1 2.7l1.1 0.6l1.2 -1.4l1.1 -2.4l1.1 -1.9l1.1 -0.4l1.1 0.9l1.1 1.3l1.1 0.7l1.1 -0.2l1.1 -0.6l1.2 -0.4l1.1 0.4l1.1 0.6l1.1 0.3l1.1 -0.2l1.1 -0.7l1.1 -0.6l1.1 0.1l1.2 0.5l1.1 0.4l1.1 -0.3l1.1 -0.9l1.1 -1.1l1.1 -0.4l1.1 0.7l1.1 1.5l1.2 1.7l1.1 0.8" fill="none" stroke="#e18764" stroke-width="1.15" stroke-linejoin="round"/>
<path d="M1012.7 510.3l1.1 -0.3l1.1 1.5l1.1 2.5l1.1 2.2l1.2 1l1.1 -0.1l1.1 -0.7l1.1 -0.3l1.1 0.3l1.1 0.7l1.1 0.5l1.1 -0.2l1.2 -0.8l1.1 -0.7l1.1 -0.2l1.1 0.3l1.1 0.6l1.1 0.3l1.1 -0.3l1.1 -0.7l1.2 -0.8l1.1 -0.6l1.1 -0.1l1.1 0.3l1.1 0.6l1.1 0.8l1.1 0.6l1.1 0.1l1.1 -0.6l1.2 -1.3l1.1 -1.4l1.1 -1.1l1.1 -0.5l1.1 0l1.1 0l1.1 -0.3l1.1 -0.5l1.2 -0.1l1.1 0.8l1.1 1.8l1.1 2.2l1.1 2l1.1 1l1.1 0.1l1.1 -0.3l1.1 -0.1l1.2 0.4l1.1 0.4l1.1 0l1.1 -0.9l1.1 -1.7l1.1 -2.1l1.1 -1.9l1.1 -1.5l1.2 -0.8l1.1 0.2l1.1 1l1.1 2l1.1 2.5l1.1 2.2l1.1 0.8l1.1 -1l1.2 -2.9l1.1 -3.5l1.1 -2.8l1.1 -1l1.1 1.1l1.1 2.4l1.1 2.5l1.1 1.8l1.1 0.9l1.2 0.5l1.1 0.8l1.1 1.2l1.1 1.2l1.1 0.4l1.1 -0.7l1.1 -1.6l1.1 -1.3l1.2 -0.4l1.1 0.4l1.1 0.2l1.1 -1.4l1.1 -3.3l1.1 -4.3l1.1 -3.3l1.1 -0.4l1.2 3.2l1.1 5.7l1.1 6.1l1.1 4.3l1.1 1.4l1.1 -1.2l1.1 -2.7l1.1 -3l1.1 -2.8l1.2 -2l1.1 -1.3l1.1 -0.3l1.1 0.7l1.1 1.2l1.1 1.1l1.1 0.2l1.1 -0.8l1.2 -1.2l1.1 -0.7l1.1 0.5l1.1 1.7l1.1 1.9l1.1 1.1l1.1 -0.2l1.1 -1.2l1.2 -1l1.1 -0.3l1.1 0.5l1.1 0.7l1.1 0l1.1 -1.1l1.1 -1.7l1.1 -1.4l1.1 -0.4l1.2 0.7l1.1 1.3l1.1 1.4l1.1 0.9l1.1 0.6l1.1 0.2l1.1 -0.1l1.1 -0.5l1.2 -1.1l1.1 -1.4l1.1 -1.3l1.1 -0.8l1.1 0.4l1.1 1.2l1.1 1.7l1.1 1.5l1.1 0.8l1.2 0.2l1.1 -0.4l1.1 -0.5l1.1 -0.7l1.1 -0.8l1.1 -0.7l1.1 -0.5l1.1 0.2l1.2 0.8l1.1 1.4l1.1 1.4l1.1 1l1.1 0.5l1.1 0.1l1.1 -0.1l1.1 -0.3l1.2 -0.7l1.1 -1.3l1.1 -2.1l1.1 -2.5l1.1 -2.2l1.1 -1.2l1.1 0l1.1 1l1.1 1.5l1.2 1.4l1.1 1.2l1.1 1.1l1.1 1.1l1.1 1.1l1.1 0.9l1.1 0.2l1.1 -0.3l1.2 -0.6l1.1 -0.3l1.1 0.1l1.1 0.4l1.1 0l1.1 -0.5l1.1 -1.2l1.1 -1.4l1.2 -0.9l1.1 0l1.1 0.8l1.1 1.2l1.1 0.9l1.1 0.3l1.1 -0.3l1.1 -0.4l1.1 -0.3l1.2 0.2l1.1 0.6l1.1 0.7l1.1 0.6l1.1 0.1l1.1 -0.4l1.1 -0.7l1.1 -1.2l1.2 -1.5l1.1 -1.7l1.1 -1.5l1.1 -0.7l1.1 0.3l1.1 1.2l1.1 1.6l1.1 1.3l1.1 0.4l1.2 -0.5l1.1 -0.7l1.1 -0.3l1.1 0.7l1.1 1.6l1.1 1.6l1.1 0.9l1.1 -0.5l1.2 -1.6l1.1 -2l1.1 -1.4l1.1 -0.3l1.1 0.8l1.1 1.6l1.1 1.5l1.1 1l1.2 0.2l1.1 -0.6l1.1 -1l1.1 -0.9l1.1 -0.6l1.1 -0.3l1.1 -0.1l1.1 -0.2l1.1 -0.3l1.2 -0.2l1.1 0.1l1.1 0.6l1.1 0.9l1.1 0.9l1.1 0.5l1.1 0l1.1 -0.4l1.2 -0.3l1.1 0.2l1.1 0.6l1.1 0.8l1.1 0.6l1.1 0l1.1 -1l1.1 -1.6l1.2 -2.1l1.1 -2l1.1 -1.2l1.1 -0.1l1.1 1.1l1.1 1.9l1.1 2l1.1 1.2l1.1 0.1l1.2 -0.6l1.1 -0.7l1.1 -0.2l1.1 0.6l1.1 1l1.1 0.8l1.1 0.5l1.1 0.2l1.2 0.2l1.1 0.3l1.1 0.1l1.1 -0.6l1.1 -1.4l1.1 -1.6l1.1 -0.8l1.1 0.7l1.2 2.1l1.1 2.5l1.1 1.4l1.1 -0.5l1.1 -2.4l1.1 -3.2l1.1 -2.6l1.1 -1l1.1 0.5l1.2 1.4l1.1 1.3l1.1 1l1.1 0.6l1.1 0.4l1.1 0.1l1.1 -0.3l1.1 -0.9l1.2 -1.6l1.1 -1.7l1.1 -1.3l1.1 -0.6l1.1 0.2l1.1 0.8l1.1 1.1l1.1 1.2l1.1 1.3l1.2 1.3l1.1 1.1l1.1 0.3l1.1 -0.7l1.1 -1.7l1.1 -1.9l1.1 -1.1l1.1 0.5l1.2 2l1.1 2.9l1.1 2.3l1.1 0.9l1.1 -0.9l1.1 -1.8l1.1 -1.6l1.1 -0.6l1.2 0.5l1.1 0.9l1.1 0.3l1.1 -0.5l1.1 -1.1l1.1 -0.8l1.1 -0.1l1.1 0.6l1.1 0.6l1.2 0l1.1 -1l1.1 -1.3l1.1 -0.8l1.1 0.3l1.1 1.4l1.1 1.9l1.1 1.4l1.2 0l1.1 -1.2l1.1 -2.2l1.1 -2.4l1.1 -1.8l1.1 -0.7l1.1 0.7l1.1 2l1.2 2.9l1.1 3l1.1 2.5l1.1 1.5l1.1 0.4l1.1 -0.5l1.1 -1.3l1.1 -2l1.1 -2.6l1.2 -3.1l1.1 -2.9l1.1 -2.1l1.1 -0.4l1.1 1.5l1.1 2.8l1.1 3.2l1.1 2.2l1.2 0.8l1.1 -0.8l1.1 -1.6l1.1 -1.6l1.1 -1l1.1 -0.1l1.1 0.5l1.1 0.6l1.1 0.6l1.2 0.5l1.1 0.5l1.1 0.8l1.1 0.8l1.1 0.6l1.1 -0.1l1.1 -1.1l1.1 -1.9l1.2 -2.1l1.1 -1.5l1.1 -0.5l1.1 0.4l1.1 0.8l1.1 0.7l1.1 0.3l1.1 0.1l1.2 0.6l1.1 1.1l1.1 1.6l1.1 1.3l1.1 0.5l1.1 -0.3l1.1 -0.4l1.1 0.3l1.1 1.2l1.2 1.8l1.1 1.4l1.1 -0.2l1.1 -1.7l1.1 -2.4l1.1 -1.9l1.1 -0.5l1.1 0.9l1.2 1.4l1.1 0.8l1.1 -0.6l1.1 -1.5l1.1 -1.7l1.1 -1l1.1 0.1l1.1 0.7l1.2 0.5l1.1 -0.4l1.1 -1.7l1.1 -2.3l1.1 -2.3l1.1 -1.5l1.1 -0.5l1.1 0.7l1.1 1.7l1.2 2.2l1.1 2.6l1.1 2.5l1.1 2.2l1.1 1.3l1.1 0.3l1.1 -0.8l1.1 -1.6l1.2 -1.9l1.1 -1.8l1.1 -1.1l1.1 -0.2l1.1 0.7l1.1 1.3l1.1 1.4l1.1 1.1l1.2 0.3l1.1 -0.2l1.1 -0.6l1.1 -0.4l1.1 0l1.1 0.5l1.1 0.5l1.1 0.3l1.1 -0.2l1.2 -0.7l1.1 -0.7l1.1 -0.6l1.1 -0.1l1.1 0.2l1.1 0.5l1.1 0.7l1.1 0.7l1.2 0.5l1.1 0.1l1.1 -0.7l1.1 -1.5l1.1 -2.1l1.1 -1.9l1.1 -1.2l1.1 0.1l1.1 1l1.2 1.6l1.1 1.3l1.1 0.8l1.1 0.4l1.1 0.2l1.1 0.3l1.1 0.4l1.1 0.1l1.2 -0.5l1.1 -1l1.1 -1l1.1 -0.5l1.1 0.4l1.1 1l1.1 1l1.1 0.6l1.2 -0.1l1.1 -0.5l1.1 -0.6l1.1 -0.2l1.1 0l1.1 0.2l1.1 0.1l1.1 0.1l1.1 0.2l1.2 0.5l1.1 0.3l1.1 -0.1l1.1 -0.8l1.1 -1.1l1.1 -0.8l1.1 0.4l1.1 1.6l1.2 2.4l1.1 1.8l1.1 0.4l1.1 -1.4l1.1 -2.5l1.1 -2.7l1.1 -1.8l1.1 -0.7l1.2 0l1.1 0.1l1.1 0.1l1.1 0l1.1 0.4l1.1 1l1.1 1.4l1.1 1.6l1.1 1.3l1.2 0.9l1.1 0.7l1.1 0.6l1.1 0.3l1.1 0l1.1 -0.6l1.1 -1.2l1.1 -1.4l1.2 -1.2l1.1 -0.3l1.1 0.4l1.1 0.7l1.1 0.3l1.1 -0.6l1.1 -1.5l1.1 -1.4l1.1 2.2l1.2 2.9l1.1 3.8l1.1 3.9l1.1 -2.7l1.1 -2.6l1.1 -2.3l1.1 -2.1l1.1 1.3l1.2 0.5l1.1 -0.6l1.1 -1.7l1.1 -2l1.1 -1.2l1.1 0.2l1.1 1.3l1.1 1.6l1.2 0.6l1.1 -0.6l1.1 -1.4l1.1 -1l1.1 0.4l1.1 1.9l1.1 2.4l1.1 1.7l1.1 0.2l1.2 -1.2l1.1 -1.8l1.1 -1.3l1.1 -0.5l1.1 0.1l1.1 0.3l1.1 0l1.1 -0.4l1.2 -0.5l1.1 -0.3l1.1 0.1l1.1 0.2l1.1 0.3l1.1 0.4l1.1 0.7l1.1 1l1.2 1.5l1.1 1.3l1.1 0.9l1.1 0.1l1.1 -0.7l1.1 -1.1l1.1 -1.1l1.1 -0.9l1.1 -0.7l1.2 -0.8l1.1 -1.1l1.1 -1.4l1.1 -1.2l1.1 -0.6l1.1 0.3l1.1 1.1l1.1 1.3l1.2 0.8l1.1 -0.4l1.1 -1.4l1.1 -1.6l1.1 -0.9l1.1 0.7l1.1 2.2l1.1 2.8l1.2 2.6l1.1 1.4l1.1 0l1.1 -0.9l1.1 -1.1l1.1 -0.9l1.1 -0.6l1.1 -0.5l1.1 -0.7l1.2 -1l1.1 -1l1.1 -0.6l1.1 0.1l1.1 0.8l1.1 1.6l1.1 1.7l1.1 1.4l1.2 0.7l1.1 -0.4l1.1 -1.2l1.1 -1.9l1.1 -1.9l1.1 -1.4l1.1 -0.6l1.1 0.3l1.1 1.1l1.2 1.5l1.1 1.7l1.1 1.6l1.1 1.3l1.1 0.8l1.1 0.1l1.1 -0.5l1.1 -1l1.2 -1.3l1.1 -1l1.1 -0.8l1.1 -0.6l1.1 -0.8l1.1 -1.2l1.1 -1.5l1.1 -1.2l1.2 -0.3l1.1 0.8l1.1 1.9l1.1 2.1l1.1 1.4l1.1 0.4l1.1 -0.7l1.1 -1l1.1 -0.8l1.2 0l1.1 0.6l1.1 1l1.1 1l1.1 0.9l1.1 0.8l1.1 0.8l1.1 0.7l1.2 0.5l1.1 0.1l1.1 -0.2l1.1 -0.4l1.1 -0.6l1.1 -0.7l1.1 -1.3l1.1 -1.7l1.2 -2l1.1 -1.7" fill="none" stroke="#4893ca" stroke-width="1.15" stroke-linejoin="round"/>
<path d="M1012.7 527.5l1.1 -1.4l1.1 -1.2l1.1 -0.4l1.1 0.4l1.2 0.8l1.1 0.6l1.1 0l1.1 -0.4l1.1 -0.2l1.1 0.2l1.1 0.7l1.1 0.5l1.2 -0.1l1.1 -0.7l1.1 -1.1l1.1 -0.6l1.1 0.4l1.1 1.3l1.1 1.9l1.1 1.6l1.2 0.6l1.1 -0.5l1.1 -1.2l1.1 -1.3l1.1 -0.7l1.1 -0.1l1.1 0.3l1.1 -0.1l1.1 -0.6l1.2 -0.8l1.1 -0.4l1.1 0.4l1.1 1.3l1.1 1.5l1.1 0.9l1.1 0.1l1.1 -0.5l1.2 -0.6l1.1 -0.4l1.1 -0.2l1.1 -0.2l1.1 -0.6l1.1 -0.7l1.1 -0.4l1.1 0.1l1.1 0.7l1.2 0.7l1.1 0.6l1.1 0.1l1.1 -0.3l1.1 -0.4l1.1 -0.4l1.1 -0.4l1.1 -0.4l1.2 -0.3l1.1 -0.3l1.1 -0.1l1.1 -0.2l1.1 -0.3l1.1 -0.5l1.1 -0.3l1.1 -0.1l1.2 0.3l1.1 0.3l1.1 0.2l1.1 0.2l1.1 0.4l1.1 0.9l1.1 1.4l1.1 1.6l1.1 1.2l1.2 0.3l1.1 -0.6l1.1 -1l1.1 -0.7l1.1 0l1.1 0.5l1.1 0.7l1.1 0.1l1.2 -0.7l1.1 -1.4l1.1 -1.5l1.1 -1.1l1.1 0l1.1 1l1.1 1.4l1.1 1.1l1.2 0.1l1.1 -1l1.1 -1.6l1.1 -1.6l1.1 -0.5l1.1 0.6l1.1 1.5l1.1 1.6l1.1 0.8l1.2 -0.1l1.1 -0.7l1.1 -0.8l1.1 -0.3l1.1 0.2l1.1 0.2l1.1 -0.1l1.1 -0.3l1.2 -0.3l1.1 0.2l1.1 0.7l1.1 0.9l1.1 0.5l1.1 -0.1l1.1 -0.7l1.1 -0.8l1.2 -0.7l1.1 -0.4l1.1 -0.2l1.1 -0.2l1.1 0l1.1 0.2l1.1 0.6l1.1 0.8l1.1 0.8l1.2 0.6l1.1 0.3l1.1 -0.2l1.1 -0.6l1.1 -0.9l1.1 -1.1l1.1 -0.8l1.1 0l1.2 0.8l1.1 1.1l1.1 0.8l1.1 -0.1l1.1 -0.8l1.1 -1l1.1 -0.4l1.1 0.7l1.1 1.3l1.2 1.1l1.1 0.2l1.1 -0.8l1.1 -1.2l1.1 -1.1l1.1 -0.5l1.1 0.1l1.1 0.6l1.2 0.6l1.1 0.6l1.1 0.3l1.1 -0.2l1.1 -0.5l1.1 -0.5l1.1 -0.3l1.1 0.5l1.2 1l1.1 1.1l1.1 0.6l1.1 -0.2l1.1 -0.9l1.1 -1.1l1.1 -0.8l1.1 -0.2l1.1 0.1l1.2 0.2l1.1 0.2l1.1 0.4l1.1 0.6l1.1 0.8l1.1 0.7l1.1 0l1.1 -0.6l1.2 -1.1l1.1 -1l1.1 -0.7l1.1 -0.4l1.1 -0.2l1.1 0l1.1 0.1l1.1 0.6l1.2 0.9l1.1 0.9l1.1 0.6l1.1 0.2l1.1 -0.1l1.1 -0.1l1.1 0.2l1.1 0.2l1.1 0l1.2 -0.6l1.1 -1l1.1 -0.9l1.1 -0.5l1.1 0.1l1.1 0.6l1.1 0.7l1.1 0.7l1.2 0.6l1.1 0.4l1.1 0.1l1.1 -0.6l1.1 -1.1l1.1 -1.2l1.1 -0.7l1.1 0.2l1.1 1.1l1.2 1.2l1.1 0.6l1.1 -0.5l1.1 -1.1l1.1 -0.9l1.1 0l1.1 0.9l1.1 1.1l1.2 0.5l1.1 -0.3l1.1 -1l1.1 -0.8l1.1 -0.3l1.1 0.2l1.1 0.3l1.1 0l1.2 -0.1l1.1 0l1.1 0.6l1.1 1l1.1 0.8l1.1 0.1l1.1 -0.7l1.1 -1.3l1.1 -1l1.2 -0.5l1.1 0.1l1.1 0.4l1.1 0.2l1.1 0.4l1.1 0.6l1.1 1.1l1.1 1.1l1.2 0.7l1.1 -0.2l1.1 -1l1.1 -1.1l1.1 -0.6l1.1 0.2l1.1 0.6l1.1 0.4l1.2 -0.2l1.1 -0.7l1.1 -0.9l1.1 -0.7l1.1 -0.3l1.1 0.2l1.1 0.3l1.1 0l1.1 -0.3l1.2 -0.5l1.1 -0.5l1.1 0l1.1 0.8l1.1 1.7l1.1 2.1l1.1 1.6l1.1 0.5l1.2 -0.8l1.1 -1.6l1.1 -1.5l1.1 -0.5l1.1 0.6l1.1 1l1.1 0.6l1.1 -0.2l1.2 -1.2l1.1 -1.3l1.1 -0.7l1.1 0.2l1.1 0.8l1.1 0.7l1.1 0.2l1.1 -0.5l1.1 -0.6l1.2 -0.4l1.1 0.1l1.1 0.4l1.1 0.3l1.1 -0.2l1.1 -0.5l1.1 -0.4l1.1 0.2l1.2 0.6l1.1 0.8l1.1 0.6l1.1 0l1.1 -0.6l1.1 -0.7l1.1 -0.5l1.1 -0.2l1.1 0l1.2 -0.2l1.1 -0.4l1.1 -0.7l1.1 -0.3l1.1 0.4l1.1 1.1l1.1 1.4l1.1 1.2l1.2 0.2l1.1 -0.7l1.1 -0.9l1.1 -0.6l1.1 0.4l1.1 1l1.1 1.1l1.1 0.8l1.2 0.2l1.1 0l1.1 0l1.1 -0.1l1.1 -0.2l1.1 -0.7l1.1 -1l1.1 -1l1.1 -0.5l1.2 0l1.1 0.1l1.1 0.1l1.1 -0.3l1.1 -0.4l1.1 -0.4l1.1 -0.2l1.1 -0.2l1.2 -0.2l1.1 0l1.1 0.4l1.1 0.8l1.1 1l1.1 0.7l1.1 0l1.1 -0.6l1.2 -0.7l1.1 -0.4l1.1 0.2l1.1 0.7l1.1 0.9l1.1 0.9l1.1 0.5l1.1 -0.1l1.1 -0.8l1.2 -1.4l1.1 -1.4l1.1 -0.7l1.1 0.3l1.1 1l1.1 1l1.1 0.5l1.1 -0.2l1.2 -0.3l1.1 0.4l1.1 1.1l1.1 1.2l1.1 0.4l1.1 -0.9l1.1 -2l1.1 -2.2l1.1 -1.3l1.2 -0.1l1.1 0.6l1.1 0.8l1.1 0.3l1.1 -0.1l1.1 -0.2l1.1 0.1l1.1 0.5l1.2 0.6l1.1 0.6l1.1 0.3l1.1 0.1l1.1 -0.1l1.1 -0.3l1.1 -0.2l1.1 -0.2l1.2 0l1.1 0.1l1.1 0.5l1.1 0.6l1.1 0.8l1.1 0.7l1.1 0.3l1.1 -0.3l1.1 -0.7l1.2 -0.8l1.1 -0.2l1.1 0.3l1.1 0.7l1.1 0.3l1.1 -0.4l1.1 -1l1.1 -1.2l1.2 -0.6l1.1 0.3l1.1 0.7l1.1 0.7l1.1 0.2l1.1 -0.3l1.1 -0.5l1.1 -0.1l1.2 0.3l1.1 0.4l1.1 0.1l1.1 -0.6l1.1 -1.1l1.1 -1.1l1.1 -0.9l1.1 -0.3l1.1 0.3l1.2 0.7l1.1 0.8l1.1 0.8l1.1 0.6l1.1 0.5l1.1 0.4l1.1 0.3l1.1 0.1l1.2 -0.1l1.1 0l1.1 0.1l1.1 0.3l1.1 0.2l1.1 0l1.1 -0.2l1.1 -0.3l1.2 0.1l1.1 0.2l1.1 0.2l1.1 -0.2l1.1 -0.8l1.1 -1.1l1.1 -0.7l1.1 0.3l1.1 1l1.2 1.1l1.1 0.6l1.1 -0.4l1.1 -1l1.1 -0.9l1.1 -0.5l1.1 0.1l1.1 0.4l1.2 0.6l1.1 0.4l1.1 0.2l1.1 -0.2l1.1 -0.7l1.1 -1.3l1.1 -1.1l1.1 -0.3l1.1 0.7l1.2 1.7l1.1 1.5l1.1 0.5l1.1 -0.8l1.1 -1.4l1.1 -0.9l1.1 0.3l1.1 1.3l1.2 1.2l1.1 -0.1l1.1 -1.5l1.1 -2.1l1.1 -1.4l1.1 0.3l1.1 2l1.1 2.9l1.2 2.4l1.1 0.8l1.1 -0.9l1.1 -1.9l1.1 -1.9l1.1 -0.9l1.1 0.3l1.1 1.1l1.1 1.3l1.2 0.6l1.1 -0.3l1.1 -0.7l1.1 -0.4l1.1 0.1l1.1 0.5l1.1 0.5l1.1 -0.3l1.2 -1.2l1.1 -1.4l1.1 -1l1.1 -0.1l1.1 0.7l1.1 0.8l1.1 0.4l1.1 -0.1l1.2 -0.3l1.1 -0.3l1.1 0l1.1 0.2l1.1 0.1l1.1 0.2l1.1 0.4l1.1 0.6l1.1 0.8l1.2 0.5l1.1 -0.3l1.1 -1l1.1 -1.3l1.1 -0.9l1.1 -0.1l1.1 0.6l1.1 1.1l1.2 1.1l1.1 0.9l1.1 0.3l1.1 -0.2l1.1 -0.9l1.1 -1.1l1.1 -1l1.1 -0.4l1.1 0.5l1.2 1.1l1.1 1l1.1 0.3l1.1 -0.8l1.1 -1.4l1.1 -1.5l1.1 -0.7l1.1 0.3l1.2 1.3l1.1 1.8l1.1 1.7l1.1 0.9l1.1 -0.4l1.1 -1.3l1.1 -1.7l1.1 -1l1.2 0l1.1 1l1.1 1l1.1 0.3l1.1 -0.5l1.1 -0.9l1.1 -0.4l1.1 0.5l1.1 1.1l1.2 0.9l1.1 0l1.1 -1.2l1.1 -1.7l1.1 -1.6l1.1 -0.8l1.1 -0.1l1.1 0.5l1.2 0.8l1.1 1l1.1 1.1l1.1 1.3l1.1 1.2l1.1 0.6l1.1 0l1.1 -0.7l1.2 -1l1.1 -0.9l1.1 -0.4l1.1 0.1l1.1 0.5l1.1 0.6l1.1 0.5l1.1 0.1l1.1 -0.4l1.2 -0.8l1.1 -0.8l1.1 -0.6l1.1 -0.1l1.1 0.2l1.1 0.3l1.1 0.1l1.1 -0.2l1.2 -0.4l1.1 -0.1l1.1 0.4l1.1 0.7l1.1 0.7l1.1 0.3l1.1 -0.2l1.1 -0.6l1.2 -0.6l1.1 -0.3l1.1 0l1.1 0.1l1.1 0l1.1 0l1.1 0l1.1 0.1l1.1 0.5l1.2 0.6l1.1 0.6l1.1 0.2l1.1 -0.3l1.1 -0.5l1.1 -0.5l1.1 -0.2l1.1 0.2l1.2 0.4l1.1 0.3l1.1 -0.1l1.1 -0.4l1.1 -0.3l1.1 0l1.1 0.5l1.1 0.7l1.1 0.4l1.2 -0.5l1.1 -1.1l1.1 -1.4l1.1 -0.9l1.1 0l1.1 0.7l1.1 0.9l1.1 0.6l1.2 0l1.1 0l1.1 0.1l1.1 0.5l1.1 0.7l1.1 0.4l1.1 -0.2l1.1 -0.5l1.2 -0.7l1.1 -0.4l1.1 0.2l1.1 0.6l1.1 0.6l1.1 0.4l1.1 0l1.1 -0.3l1.1 -0.7l1.2 -0.7l1.1 -0.5l1.1 -0.1l1.1 0.3l1.1 0.6l1.1 0.7l1.1 0.4l1.1 0l1.2 -0.4l1.1 -0.8l1.1 -0.8l1.1 -0.7l1.1 -0.6l1.1 -0.5l1.1 -0.3l1.1 -0.3l1.2 0.1l1.1 0.6" fill="none" stroke="#aa4660" stroke-width="1.15" stroke-linejoin="round"/>
<path d="M1012.7 535.4l1.1 1.1l1.1 0.8l1.1 0.6l1.1 0.7l1.2 1l1.1 1.3l1.1 0.9l1.1 0l1.1 -1.1l1.1 -1.6l1.1 -1.2l1.1 -0.5l1.2 0.2l1.1 0.5l1.1 0.3l1.1 0l1.1 -0.1l1.1 0l1.1 0.2l1.1 0.2l1.2 0.1l1.1 -0.1l1.1 -0.2l1.1 -0.2l1.1 -0.2l1.1 -0.2l1.1 -0.2l1.1 -0.2l1.1 0l1.2 0.2l1.1 0.3l1.1 0.2l1.1 -0.1l1.1 -0.4l1.1 -0.8l1.1 -0.9l1.1 -0.7l1.2 -0.2l1.1 0.6l1.1 1.6l1.1 2.1l1.1 2l1.1 1.2l1.1 0l1.1 -0.9l1.1 -1l1.2 -0.4l1.1 0.5l1.1 0.9l1.1 0.4l1.1 -0.7l1.1 -1.8l1.1 -2.3l1.1 -1.7l1.2 -0.4l1.1 0.6l1.1 1l1.1 0.6l1.1 -0.2l1.1 -0.5l1.1 -0.6l1.1 -0.2l1.2 0.4l1.1 0.7l1.1 0.9l1.1 0.9l1.1 0.9l1.1 0.7l1.1 0.4l1.1 0l1.1 -0.2l1.2 -0.2l1.1 0.1l1.1 0.5l1.1 0.5l1.1 0l1.1 -0.8l1.1 -1.4l1.1 -1.6l1.2 -1.5l1.1 -1.1l1.1 -0.6l1.1 0l1.1 0.4l1.1 0.9l1.1 1.2l1.1 0.9l1.2 0.4l1.1 -0.1l1.1 -0.4l1.1 -0.1l1.1 0.4l1.1 0.6l1.1 0.5l1.1 -0.2l1.1 -0.7l1.2 -0.8l1.1 -0.2l1.1 0.6l1.1 1.1l1.1 1.1l1.1 0.6l1.1 -0.2l1.1 -0.4l1.2 -0.1l1.1 0.2l1.1 0.5l1.1 0l1.1 -0.7l1.1 -1.3l1.1 -1l1.1 -0.1l1.2 1.1l1.1 1.5l1.1 0.9l1.1 -0.4l1.1 -1.6l1.1 -2l1.1 -1.4l1.1 -0.4l1.1 0.2l1.2 0.3l1.1 -0.1l1.1 -0.4l1.1 -0.1l1.1 0.3l1.1 0.5l1.1 0.4l1.1 0.1l1.2 0.2l1.1 0.8l1.1 1.5l1.1 1.7l1.1 1.4l1.1 0.3l1.1 -0.9l1.1 -1.6l1.1 -1.5l1.2 -1l1.1 -0.1l1.1 0.5l1.1 1l1.1 1l1.1 0.8l1.1 0.3l1.1 -0.4l1.2 -0.7l1.1 -0.7l1.1 -0.3l1.1 0.1l1.1 0.1l1.1 -0.2l1.1 -0.6l1.1 -0.8l1.2 -0.3l1.1 0.2l1.1 0.6l1.1 0.6l1.1 0.2l1.1 -0.2l1.1 -0.4l1.1 -0.2l1.1 -0.1l1.2 0.2l1.1 0.3l1.1 0.3l1.1 0.1l1.1 0.1l1.1 -0.1l1.1 -0.3l1.1 -0.4l1.2 -0.4l1.1 -0.3l1.1 0l1.1 0.3l1.1 0.5l1.1 0.4l1.1 0.2l1.1 0l1.2 -0.1l1.1 -0.2l1.1 -0.2l1.1 -0.1l1.1 0.2l1.1 0.5l1.1 0.7l1.1 0.7l1.1 0.4l1.2 -0.2l1.1 -0.7l1.1 -1l1.1 -0.9l1.1 -0.7l1.1 -0.3l1.1 0l1.1 0.3l1.2 0.4l1.1 0.4l1.1 0.6l1.1 0.6l1.1 0.6l1.1 0.4l1.1 0.4l1.1 0.1l1.1 -0.3l1.2 -0.6l1.1 -0.8l1.1 -0.8l1.1 -0.5l1.1 -0.1l1.1 0.2l1.1 0.3l1.1 0.1l1.2 -0.2l1.1 -0.4l1.1 -0.4l1.1 -0.3l1.1 -0.3l1.1 -0.4l1.1 -0.5l1.1 -0.5l1.2 0.1l1.1 0.9l1.1 1.8l1.1 2.1l1.1 1.5l1.1 0.3l1.1 -0.8l1.1 -1.6l1.1 -1.4l1.2 -0.6l1.1 0.5l1.1 1l1.1 1.1l1.1 0.8l1.1 0.1l1.1 -0.2l1.1 -0.7l1.2 -0.8l1.1 -1.1l1.1 -1l1.1 -0.6l1.1 0.1l1.1 0.7l1.1 1.1l1.1 0.8l1.2 0.3l1.1 -0.5l1.1 -0.8l1.1 -0.7l1.1 -0.3l1.1 0.2l1.1 0.5l1.1 0.5l1.1 0.2l1.2 0l1.1 -0.1l1.1 0.1l1.1 0.2l1.1 0.4l1.1 0.2l1.1 0l1.1 -0.4l1.2 -0.3l1.1 -0.1l1.1 0.4l1.1 0.6l1.1 0.4l1.1 -0.1l1.1 -0.9l1.1 -0.9l1.2 -0.6l1.1 0.1l1.1 0.5l1.1 0.3l1.1 -0.3l1.1 -0.8l1.1 -0.9l1.1 -0.4l1.1 0.3l1.2 0.5l1.1 0.5l1.1 0.4l1.1 0.5l1.1 0.7l1.1 0.8l1.1 0.5l1.1 0l1.2 -0.6l1.1 -0.7l1.1 -0.1l1.1 0.4l1.1 0.6l1.1 0.2l1.1 -0.5l1.1 -1l1.1 -0.9l1.2 -0.4l1.1 -0.1l1.1 -0.2l1.1 -0.3l1.1 -0.3l1.1 0.1l1.1 0.7l1.1 1.3l1.2 1.1l1.1 0.5l1.1 -0.4l1.1 -0.6l1.1 -0.5l1.1 0.1l1.1 0.3l1.1 0.3l1.2 0l1.1 -0.2l1.1 -0.2l1.1 -0.1l1.1 0l1.1 -0.3l1.1 -0.6l1.1 -0.8l1.1 -0.5l1.2 0.3l1.1 1l1.1 1.2l1.1 1l1.1 0.3l1.1 -0.4l1.1 -0.7l1.1 -0.5l1.2 -0.2l1.1 -0.1l1.1 -0.1l1.1 -0.6l1.1 -0.9l1.1 -0.7l1.1 -0.2l1.1 0.6l1.2 1.1l1.1 1.3l1.1 1.1l1.1 0.5l1.1 0l1.1 -0.5l1.1 -0.4l1.1 -0.3l1.1 0.3l1.2 0.6l1.1 0.7l1.1 0.3l1.1 -0.6l1.1 -1.2l1.1 -1.4l1.1 -0.8l1.1 0.3l1.2 0.9l1.1 0.8l1.1 -0.1l1.1 -1.2l1.1 -1.4l1.1 -0.9l1.1 0.1l1.1 0.9l1.1 1l1.2 0.5l1.1 -0.2l1.1 -0.4l1.1 -0.2l1.1 0.3l1.1 0.6l1.1 0.5l1.1 0.3l1.2 0l1.1 -0.2l1.1 -0.4l1.1 -0.6l1.1 -0.5l1.1 -0.3l1.1 0.2l1.1 0.5l1.2 0.8l1.1 0.5l1.1 0.3l1.1 0.1l1.1 0l1.1 0.1l1.1 -0.1l1.1 -0.3l1.1 -0.5l1.2 -0.4l1.1 -0.1l1.1 0.5l1.1 0.6l1.1 0.4l1.1 -0.1l1.1 -0.7l1.1 -0.8l1.2 -0.5l1.1 0l1.1 0.5l1.1 0.6l1.1 0.4l1.1 -0.1l1.1 -0.5l1.1 -0.6l1.2 -0.4l1.1 0l1.1 0.4l1.1 0.6l1.1 0.5l1.1 -0.1l1.1 -0.5l1.1 -0.7l1.1 -0.3l1.2 0.1l1.1 0.6l1.1 0.7l1.1 0.4l1.1 0.1l1.1 -0.2l1.1 -0.2l1.1 0l1.2 0.2l1.1 0.3l1.1 0.2l1.1 0.2l1.1 0.1l1.1 -0.1l1.1 -0.3l1.1 -0.4l1.2 -0.6l1.1 -0.6l1.1 -0.6l1.1 -0.5l1.1 -0.2l1.1 0.3l1.1 0.6l1.1 0.8l1.1 0.7l1.2 0.5l1.1 0.1l1.1 0.1l1.1 0.2l1.1 0.2l1.1 0.1l1.1 -0.2l1.1 -0.7l1.2 -1l1.1 -1.1l1.1 -0.7l1.1 -0.2l1.1 0.3l1.1 0.5l1.1 0.7l1.1 0.5l1.1 0.2l1.2 0.1l1.1 0l1.1 0l1.1 0.1l1.1 0.2l1.1 0.1l1.1 0l1.1 -0.3l1.2 -0.7l1.1 -0.6l1.1 -0.4l1.1 0.2l1.1 0.9l1.1 1.1l1.1 0.9l1.1 0.4l1.2 -0.1l1.1 -0.5l1.1 -0.3l1.1 -0.1l1.1 0.1l1.1 -0.1l1.1 -0.7l1.1 -1.1l1.1 -1.3l1.2 -0.9l1.1 0l1.1 0.8l1.1 1.3l1.1 1.3l1.1 1.1l1.1 0.6l1.1 0.2l1.2 -0.2l1.1 -0.6l1.1 -0.8l1.1 -0.8l1.1 -0.4l1.1 0l1.1 0.3l1.1 0.1l1.2 0l1.1 -0.2l1.1 0.1l1.1 0.4l1.1 0.5l1.1 0.2l1.1 -0.3l1.1 -0.9l1.1 -1l1.2 -0.6l1.1 0.2l1.1 0.8l1.1 0.7l1.1 0.3l1.1 -0.2l1.1 -0.6l1.1 -0.6l1.2 -0.3l1.1 0l1.1 0.3l1.1 0.6l1.1 0.7l1.1 0.8l1.1 0.5l1.1 0.1l1.1 -0.5l1.2 -0.7l1.1 -0.6l1.1 0l1.1 0.6l1.1 0.9l1.1 1l1.1 0.7l1.1 0.5l1.2 0.5l1.1 0.2l1.1 -0.5l1.1 -1.4l1.1 -2.3l1.1 -2.4l1.1 -1.7l1.1 -0.3l1.2 1.1l1.1 1.7l1.1 1.3l1.1 0.3l1.1 -0.6l1.1 -0.8l1.1 -0.3l1.1 0.6l1.1 1.3l1.2 1.5l1.1 0.8l1.1 -0.2l1.1 -1l1.1 -1.4l1.1 -1.2l1.1 -0.6l1.1 0l1.2 0.4l1.1 0.5l1.1 0.7l1.1 0.6l1.1 0.7l1.1 0.7l1.1 0.5l1.1 0.1l1.2 -0.3l1.1 -0.5l1.1 -0.2l1.1 0.2l1.1 0.6l1.1 0.5l1.1 -0.1l1.1 -0.9l1.1 -1.4l1.2 -1.3l1.1 -0.7l1.1 0.2l1.1 0.9l1.1 1l1.1 0.7l1.1 -0.1l1.1 -0.4l1.2 -0.4l1.1 0.1l1.1 0.5l1.1 0.6l1.1 0.1l1.1 -0.5l1.1 -1.1l1.1 -1l1.2 -0.6l1.1 -0.1l1.1 0.3l1.1 0.3l1.1 0.3l1.1 0.1l1.1 0.3l1.1 0.3l1.1 0.2l1.2 0.1l1.1 0l1.1 -0.2l1.1 -0.2l1.1 0.1l1.1 0.5l1.1 0.8l1.1 0.9l1.2 0.8l1.1 0.4l1.1 -0.2l1.1 -0.9l1.1 -1.2l1.1 -1.1l1.1 -0.6l1.1 0.1l1.1 0.3l1.2 0.3l1.1 -0.2l1.1 -0.5l1.1 -0.5l1.1 0l1.1 0.5l1.1 0.9l1.1 0.8l1.2 0.3l1.1 -0.1l1.1 -0.3l1.1 -0.1l1.1 0.1l1.1 0.3l1.1 0.2l1.1 -0.2l1.2 -0.5l1.1 -0.6l1.1 -0.3l1.1 0.3l1.1 0.5l1.1 0.6l1.1 0.2l1.1 -0.1l1.1 -0.5l1.2 -0.6l1.1 -0.5l1.1 -0.3l1.1 -0.1l1.1 0.2l1.1 0.4l1.1 0.7l1.1 0.8l1.2 0.7l1.1 0.2l1.1 -0.4l1.1 -0.9l1.1 -1l1.1 -0.8l1.1 -0.4l1.1 -0.1l1.2 -0.1l1.1 -0.1" fill="none" stroke="#72c9ed" stroke-width="1.15" stroke-linejoin="round"/>
<path d="M1012.7 548.6l1.1 0.5l1.1 0.5l1.1 0.2l1.1 -0.1l1.2 -0.2l1.1 0.1l1.1 0.6l1.1 1l1.1 1l1.1 0.7l1.1 0.3l1.1 -0.1l1.2 -0.3l1.1 -0.5l1.1 -0.6l1.1 -0.9l1.1 -1.3l1.1 -1.5l1.1 -1.1l1.1 -0.3l1.2 0.8l1.1 1.4l1.1 1.3l1.1 0.7l1.1 -0.1l1.1 -0.4l1.1 -0.2l1.1 0.2l1.1 0.4l1.2 0.2l1.1 -0.3l1.1 -0.6l1.1 -0.5l1.1 0l1.1 0.2l1.1 0.1l1.1 -0.3l1.2 -0.5l1.1 -0.2l1.1 0.2l1.1 0.9l1.1 1l1.1 0.8l1.1 0.5l1.1 0.3l1.1 0.2l1.2 0.2l1.1 -0.2l1.1 -0.9l1.1 -1.4l1.1 -1.4l1.1 -0.9l1.1 -0.3l1.1 0.1l1.2 0.3l1.1 -0.1l1.1 -0.4l1.1 -0.4l1.1 -0.1l1.1 0.2l1.1 0.7l1.1 0.8l1.2 0.9l1.1 0.7l1.1 0.4l1.1 0.1l1.1 -0.2l1.1 -0.3l1.1 -0.1l1.1 0.4l1.1 0.7l1.2 0.7l1.1 0.2l1.1 -0.4l1.1 -0.9l1.1 -0.9l1.1 -0.6l1.1 0l1.1 0.3l1.2 0.2l1.1 0l1.1 -0.2l1.1 -0.3l1.1 -0.1l1.1 0.2l1.1 0.4l1.1 0.6l1.2 0.6l1.1 0.4l1.1 0.2l1.1 -0.4l1.1 -0.8l1.1 -1.2l1.1 -1.3l1.1 -0.8l1.1 0l1.2 0.6l1.1 1l1.1 0.9l1.1 0.5l1.1 0.1l1.1 -0.1l1.1 -0.1l1.1 -0.1l1.2 0l1.1 0l1.1 0.2l1.1 0.2l1.1 0.5l1.1 0.7l1.1 0.6l1.1 0.1l1.2 -0.5l1.1 -1.2l1.1 -1.3l1.1 -0.9l1.1 -0.1l1.1 0.7l1.1 1l1.1 0.7l1.1 -0.1l1.2 -0.6l1.1 -0.7l1.1 -0.2l1.1 0.4l1.1 0.6l1.1 0.3l1.1 -0.2l1.1 -0.7l1.2 -0.7l1.1 -0.5l1.1 -0.3l1.1 -0.1l1.1 -0.2l1.1 0l1.1 0.3l1.1 0.7l1.1 0.9l1.2 0.6l1.1 0.2l1.1 -0.2l1.1 -0.2l1.1 0.1l1.1 0.6l1.1 0.7l1.1 0.3l1.2 -0.1l1.1 -0.5l1.1 -0.4l1.1 -0.1l1.1 0.3l1.1 0.4l1.1 0.1l1.1 -0.2l1.2 -0.5l1.1 -0.5l1.1 -0.4l1.1 -0.2l1.1 0l1.1 -0.1l1.1 -0.3l1.1 -0.5l1.1 -0.5l1.2 -0.3l1.1 0.1l1.1 0.6l1.1 0.8l1.1 0.9l1.1 0.8l1.1 0.3l1.1 -0.1l1.2 -0.5l1.1 -0.8l1.1 -0.9l1.1 -0.7l1.1 -0.3l1.1 0.3l1.1 0.7l1.1 0.8l1.2 0.5l1.1 0l1.1 -0.4l1.1 -0.2l1.1 0.3l1.1 0.9l1.1 1l1.1 0.4l1.1 -0.5l1.2 -1.4l1.1 -1.7l1.1 -1.2l1.1 -0.1l1.1 0.9l1.1 1.4l1.1 1.1l1.1 0.5l1.2 -0.1l1.1 -0.6l1.1 -0.8l1.1 -0.7l1.1 -0.5l1.1 -0.2l1.1 0.3l1.1 0.6l1.1 0.7l1.2 0.4l1.1 -0.1l1.1 -0.6l1.1 -0.7l1.1 -0.5l1.1 0l1.1 0.3l1.1 0.3l1.2 0.2l1.1 0.1l1.1 0.3l1.1 0.4l1.1 0.7l1.1 0.5l1.1 0.1l1.1 -0.3l1.2 -0.7l1.1 -0.6l1.1 -0.4l1.1 0l1.1 0.1l1.1 0l1.1 -0.3l1.1 -0.6l1.1 -0.5l1.2 0l1.1 0.9l1.1 1.4l1.1 1.5l1.1 0.8l1.1 -0.2l1.1 -1.2l1.1 -1.4l1.2 -0.8l1.1 0.1l1.1 0.8l1.1 0.7l1.1 0.1l1.1 -0.8l1.1 -1.1l1.1 -0.6l1.2 0.1l1.1 0.7l1.1 0.7l1.1 0.1l1.1 -0.5l1.1 -0.5l1.1 -0.1l1.1 0.5l1.1 0.8l1.2 0.4l1.1 -0.2l1.1 -0.7l1.1 -0.6l1.1 0l1.1 0.6l1.1 0.9l1.1 0.6l1.2 0l1.1 -0.5l1.1 -0.6l1.1 -0.4l1.1 -0.2l1.1 -0.1l1.1 0l1.1 0.2l1.2 0.4l1.1 0.6l1.1 0.6l1.1 0.2l1.1 -0.4l1.1 -0.8l1.1 -1.1l1.1 -1.3l1.1 -1.2l1.2 -0.7l1.1 0.1l1.1 1.2l1.1 2.1l1.1 2.2l1.1 1.5l1.1 0l1.1 -1.1l1.2 -1.3l1.1 -0.5l1.1 0.8l1.1 1.4l1.1 0.8l1.1 -0.5l1.1 -1.7l1.1 -2l1.1 -1.3l1.2 -0.2l1.1 0.7l1.1 0.5l1.1 -0.1l1.1 -0.6l1.1 -0.7l1.1 0.1l1.1 0.9l1.2 1.5l1.1 1.4l1.1 0.6l1.1 -0.2l1.1 -1l1.1 -1l1.1 -0.7l1.1 0l1.2 0.7l1.1 1l1.1 0.9l1.1 0.5l1.1 0l1.1 -0.2l1.1 -0.4l1.1 -0.5l1.1 -0.7l1.2 -0.7l1.1 -0.7l1.1 -0.3l1.1 0.2l1.1 0.6l1.1 0.6l1.1 0.3l1.1 -0.1l1.2 -0.4l1.1 -0.4l1.1 -0.1l1.1 0.1l1.1 0.2l1.1 0.2l1.1 0.2l1.1 0.2l1.2 0.1l1.1 0.1l1.1 0.1l1.1 0l1.1 0.1l1.1 0.2l1.1 0.2l1.1 0.1l1.1 0.1l1.2 0l1.1 -0.1l1.1 -0.1l1.1 -0.2l1.1 -0.2l1.1 -0.3l1.1 -0.2l1.1 -0.2l1.2 0l1.1 -0.2l1.1 -0.2l1.1 -0.3l1.1 -0.2l1.1 0.2l1.1 0.5l1.1 0.6l1.1 0.6l1.2 0.1l1.1 -0.2l1.1 -0.5l1.1 -0.5l1.1 -0.3l1.1 0.1l1.1 0.3l1.1 0.3l1.2 0.1l1.1 -0.5l1.1 -1.2l1.1 -1.4l1.1 -1l1.1 -0.1l1.1 1.1l1.1 1.8l1.2 1.7l1.1 0.8l1.1 -0.1l1.1 -0.6l1.1 -0.2l1.1 0.6l1.1 1.2l1.1 1.2l1.1 0.2l1.2 -0.9l1.1 -1.6l1.1 -1.4l1.1 -0.7l1.1 0.1l1.1 0.6l1.1 0.3l1.1 -0.3l1.2 -0.7l1.1 -0.3l1.1 0.3l1.1 0.9l1.1 1.1l1.1 0.3l1.1 -0.7l1.1 -1.7l1.2 -2.1l1.1 -1.5l1.1 -0.2l1.1 1.1l1.1 1.9l1.1 2.1l1.1 1.4l1.1 0.4l1.1 -0.6l1.2 -0.8l1.1 -0.5l1.1 0.1l1.1 0.7l1.1 0.8l1.1 0.3l1.1 -0.3l1.1 -0.6l1.2 -0.5l1.1 0l1.1 0.3l1.1 0.1l1.1 -0.4l1.1 -1l1.1 -1.2l1.1 -0.8l1.2 -0.1l1.1 0.5l1.1 1l1.1 0.8l1.1 0.6l1.1 0.1l1.1 0l1.1 -0.1l1.1 0.1l1.2 0.3l1.1 0.6l1.1 0.6l1.1 0.1l1.1 -0.5l1.1 -1.1l1.1 -1.2l1.1 -0.7l1.2 0.1l1.1 0.7l1.1 0.5l1.1 -0.2l1.1 -0.8l1.1 -1l1.1 -0.5l1.1 0.4l1.1 0.9l1.2 0.7l1.1 0l1.1 -0.7l1.1 -0.6l1.1 0.1l1.1 1l1.1 1.6l1.1 1.2l1.2 0.4l1.1 -0.6l1.1 -0.9l1.1 -0.5l1.1 0.1l1.1 0.7l1.1 0.6l1.1 0.1l1.2 -0.7l1.1 -1.1l1.1 -1.3l1.1 -1l1.1 -0.4l1.1 0.3l1.1 0.9l1.1 1.2l1.1 1l1.2 0.6l1.1 -0.1l1.1 -0.5l1.1 -0.7l1.1 -0.4l1.1 -0.2l1.1 0l1.1 0.1l1.2 0.1l1.1 0.1l1.1 0.4l1.1 0.4l1.1 0.1l1.1 -0.5l1.1 -1.1l1.1 -1.3l1.2 -0.8l1.1 0.3l1.1 1.3l1.1 1.4l1.1 0.7l1.1 -0.3l1.1 -1l1.1 -1l1.1 0l1.2 1.1l1.1 1.5l1.1 1.1l1.1 0.1l1.1 -1l1.1 -1.2l1.1 -0.6l1.1 0.2l1.2 0.8l1.1 0.7l1.1 0.1l1.1 -0.6l1.1 -0.8l1.1 -0.4l1.1 0.1l1.1 0.5l1.1 0.6l1.2 0.2l1.1 -0.1l1.1 -0.2l1.1 0l1.1 0.1l1.1 0.4l1.1 0.1l1.1 -0.2l1.2 -0.7l1.1 -1.2l1.1 -1.3l1.1 -1.1l1.1 -0.5l1.1 0.3l1.1 1l1.1 1.3l1.2 1.2l1.1 0.7l1.1 0.3l1.1 0.1l1.1 0.1l1.1 0.1l1.1 -0.1l1.1 -0.3l1.1 -0.4l1.2 -0.4l1.1 -0.1l1.1 -0.2l1.1 -0.5l1.1 -0.9l1.1 -1l1.1 -0.6l1.1 0.3l1.2 1.2l1.1 1.6l1.1 1.2l1.1 0.5l1.1 -0.1l1.1 -0.5l1.1 -0.4l1.1 -0.2l1.2 0.1l1.1 0.3l1.1 0.4l1.1 0.7l1.1 0.7l1.1 0.1l1.1 -0.6l1.1 -1.3l1.1 -1.5l1.2 -1l1.1 -0.2l1.1 0.5l1.1 0.7l1.1 0.5l1.1 0.3l1.1 0.2l1.1 0.3l1.2 0.4l1.1 0.3l1.1 0.2l1.1 0.1l1.1 0l1.1 -0.1l1.1 -0.4l1.1 -0.7l1.2 -1.1l1.1 -1.3l1.1 -1l1.1 -0.6l1.1 -0.1l1.1 0.2l1.1 0.4l1.1 0.5l1.1 0.6l1.2 0.7l1.1 0.6l1.1 0.4l1.1 0.4l1.1 0.6l1.1 0.7l1.1 0.8l1.1 0.5l1.2 0l1.1 -0.3l1.1 -0.4l1.1 -0.3l1.1 -0.1l1.1 -0.1l1.1 -0.5l1.1 -0.8l1.1 -0.9l1.2 -0.7l1.1 -0.2l1.1 0.3l1.1 0.5l1.1 0.4l1.1 0.1l1.1 -0.2l1.1 -0.1l1.2 0l1.1 0.4l1.1 0.5l1.1 0.6l1.1 0.1l1.1 -0.3l1.1 -0.6l1.1 -0.4l1.2 0l1.1 0.5l1.1 0.3l1.1 -0.2l1.1 -1.1l1.1 -1.4l1.1 -0.8l1.1 0.5l1.1 1.7l1.2 2.1l1.1 1.4l1.1 0l1.1 -1.2l1.1 -1.6l1.1 -0.8l1.1 0.2l1.1 0.9l1.2 1l1.1 0.3l1.1 -0.3l1.1 -0.8l1.1 -0.7l1.1 -0.3l1.1 0l1.1 0.1l1.2 0l1.1 -0.3" fill="none" stroke="#94be72" stroke-width="1.15" stroke-linejoin="round"/>
<path d="M1012.7 560.6l1.1 0.9l1.1 1l1.1 0.8l1.1 0.1l1.2 -1l1.1 -1.7l1.1 -1.7l1.1 -0.5l1.1 1.3l1.1 2.4l1.1 2.2l1.1 0.7l1.2 -1.2l1.1 -2.5l1.1 -2.3l1.1 -1.2l1.1 -0.1l1.1 0.7l1.1 1l1.1 1l1.2 1l1.1 0.6l1.1 0l1.1 -0.7l1.1 -0.8l1.1 -0.2l1.1 0.7l1.1 1.4l1.1 1l1.2 -0.1l1.1 -0.9l1.1 -1l1.1 -0.2l1.1 0.7l1.1 0.8l1.1 0.1l1.1 -0.8l1.2 -0.9l1.1 -0.5l1.1 0.2l1.1 0.4l1.1 0.3l1.1 0.3l1.1 0.9l1.1 1.8l1.1 2.2l1.2 1.3l1.1 -0.6l1.1 -2.2l1.1 -2.7l1.1 -1.6l1.1 -0.1l1.1 0.5l1.1 0l1.2 -1l1.1 -1.5l1.1 -0.9l1.1 0.4l1.1 1.4l1.1 1.2l1.1 0.1l1.1 -1.1l1.2 -1.6l1.1 -1l1.1 0l1.1 1l1.1 1.5l1.1 1.7l1.1 1.5l1.1 1.1l1.1 0.6l1.2 0.1l1.1 -0.2l1.1 -0.2l1.1 0.1l1.1 0.2l1.1 -0.1l1.1 -0.9l1.1 -1.7l1.2 -2.1l1.1 -1.7l1.1 -0.5l1.1 0.8l1.1 1.6l1.1 1.6l1.1 0.8l1.1 -0.5l1.2 -1.3l1.1 -1.5l1.1 -0.9l1.1 0.3l1.1 1.5l1.1 2.2l1.1 2l1.1 1.1l1.1 0l1.2 -0.9l1.1 -1.1l1.1 -1l1.1 -0.5l1.1 -0.4l1.1 -0.2l1.1 -0.3l1.1 -0.1l1.2 0.3l1.1 0.6l1.1 0.5l1.1 0.2l1.1 -0.1l1.1 -0.2l1.1 0.2l1.1 0.5l1.2 0.2l1.1 -0.5l1.1 -1.6l1.1 -2.1l1.1 -1.8l1.1 -0.6l1.1 0.6l1.1 1.5l1.1 1.7l1.2 1.5l1.1 1.2l1.1 1.1l1.1 0.7l1.1 0.1l1.1 -0.7l1.1 -1.1l1.1 -1l1.2 -0.6l1.1 -0.1l1.1 -0.3l1.1 -0.9l1.1 -1.3l1.1 -1l1.1 -0.1l1.1 1.1l1.1 1.7l1.2 1.7l1.1 1.1l1.1 0.3l1.1 -0.2l1.1 -0.4l1.1 -0.4l1.1 -0.6l1.1 -0.4l1.2 -0.3l1.1 0.2l1.1 0.6l1.1 0.8l1.1 0.4l1.1 -0.1l1.1 -0.8l1.1 -1.4l1.2 -1.7l1.1 -1.5l1.1 -0.7l1.1 0.7l1.1 2l1.1 2.6l1.1 2l1.1 0.5l1.1 -0.9l1.2 -1.3l1.1 -0.3l1.1 1.3l1.1 2l1.1 1.2l1.1 -0.6l1.1 -2.4l1.1 -2.7l1.2 -1.5l1.1 0.4l1.1 1.7l1.1 1.2l1.1 -0.2l1.1 -1.6l1.1 -2l1.1 -1.2l1.2 0.2l1.1 0.9l1.1 0.7l1.1 -0.1l1.1 -0.7l1.1 -0.4l1.1 0.4l1.1 1.4l1.1 2l1.2 1.8l1.1 0.8l1.1 -0.4l1.1 -1.8l1.1 -2.7l1.1 -2.7l1.1 -1.7l1.1 0l1.2 2l1.1 3.1l1.1 3.2l1.1 1.9l1.1 0.2l1.1 -1.2l1.1 -1.8l1.1 -1.5l1.1 -0.8l1.2 -0.2l1.1 0.2l1.1 0.4l1.1 0.4l1.1 0.2l1.1 -0.1l1.1 -0.6l1.1 -0.7l1.2 -0.4l1.1 0.2l1.1 0.8l1.1 0.9l1.1 0.5l1.1 0.1l1.1 0.1l1.1 0.7l1.2 1.3l1.1 1.4l1.1 0.4l1.1 -1.2l1.1 -2.8l1.1 -3.6l1.1 -3.1l1.1 -1.8l1.1 -0.2l1.2 1.4l1.1 2.4l1.1 2.9l1.1 2.6l1.1 1.6l1.1 0.7l1.1 0.3l1.1 0.4l1.2 0.9l1.1 0.8l1.1 -0.3l1.1 -2l1.1 -3.3l1.1 -3l1.1 -1.6l1.1 0.2l1.2 1.2l1.1 0.7l1.1 -0.3l1.1 -0.8l1.1 -0.2l1.1 1.1l1.1 2.1l1.1 1.9l1.1 0.9l1.2 -0.2l1.1 -0.8l1.1 -0.4l1.1 0l1.1 -0.2l1.1 -1l1.1 -1.8l1.1 -1.9l1.2 -1.3l1.1 0.2l1.1 1.5l1.1 2.2l1.1 2.1l1.1 1.4l1.1 0.4l1.1 -0.3l1.2 -0.8l1.1 -1l1.1 -0.9l1.1 -0.6l1.1 0.1l1.1 0.8l1.1 1.1l1.1 1.1l1.1 0.4l1.2 -0.9l1.1 -1.8l1.1 -2l1.1 -1.4l1.1 -0.2l1.1 0.7l1.1 0.9l1.1 0.3l1.2 -0.2l1.1 -0.2l1.1 0.3l1.1 1l1.1 1.4l1.1 1.2l1.1 0.9l1.1 0.4l1.1 0.1l1.2 -0.4l1.1 -1.2l1.1 -2l1.1 -2.2l1.1 -1.5l1.1 0l1.1 1.4l1.1 2l1.2 1.7l1.1 0.8l1.1 0.3l1.1 0.1l1.1 0l1.1 -0.3l1.1 -1.1l1.1 -1.8l1.2 -1.9l1.1 -1.1l1.1 0.2l1.1 1.4l1.1 1.9l1.1 1.8l1.1 1.3l1.1 0.8l1.1 0.4l1.2 0l1.1 -0.5l1.1 -1.1l1.1 -1.3l1.1 -1.3l1.1 -0.8l1.1 -0.1l1.1 0.3l1.2 0.3l1.1 -0.1l1.1 -0.8l1.1 -1.1l1.1 -1.1l1.1 -0.6l1.1 0l1.1 0.7l1.2 0.9l1.1 0.8l1.1 0.4l1.1 0.2l1.1 0.2l1.1 0.5l1.1 1.2l1.1 1.6l1.1 1.5l1.2 0.9l1.1 -0.3l1.1 -1.2l1.1 -1.5l1.1 -1l1.1 -0.1l1.1 0.3l1.1 -0.2l1.2 -1.1l1.1 -1.8l1.1 -1.5l1.1 -0.2l1.1 1.3l1.1 1.9l1.1 1.3l1.1 -0.1l1.1 -1.2l1.2 -1.2l1.1 -0.4l1.1 0.5l1.1 1l1.1 0.7l1.1 0.4l1.1 0.2l1.1 0.5l1.2 0.8l1.1 0.5l1.1 -0.2l1.1 -0.9l1.1 -1l1.1 -0.5l1.1 0.4l1.1 0.9l1.2 0.8l1.1 0.1l1.1 -0.6l1.1 -0.8l1.1 -0.4l1.1 0.2l1.1 0.6l1.1 0.6l1.1 0.1l1.2 -0.8l1.1 -1.3l1.1 -1.1l1.1 -0.2l1.1 1l1.1 1.9l1.1 1.8l1.1 0.9l1.2 -0.5l1.1 -1.5l1.1 -1.9l1.1 -1.7l1.1 -1.2l1.1 -0.7l1.1 -0.3l1.1 0.3l1.2 1.2l1.1 1.8l1.1 1.9l1.1 1.4l1.1 0.5l1.1 -0.3l1.1 -0.8l1.1 -1.3l1.1 -1.7l1.2 -2.5l1.1 -2.4l1.1 -1.3l1.1 1l1.1 3.5l1.1 4.8l1.1 3.7l1.1 0.8l1.2 -2.2l1.1 -3.7l1.1 -3l1.1 -0.8l1.1 1.2l1.1 1.7l1.1 0.9l1.1 -0.2l1.2 -0.8l1.1 -0.3l1.1 0.5l1.1 1l1.1 0.7l1.1 0l1.1 -0.3l1.1 0.1l1.1 0.9l1.2 1.1l1.1 0.8l1.1 -0.4l1.1 -1.5l1.1 -2.3l1.1 -2.5l1.1 -2.3l1.1 -1.6l1.2 -0.6l1.1 0.8l1.1 2.1l1.1 2.9l1.1 2.8l1.1 1.8l1.1 0.4l1.1 -1l1.1 -1.9l1.2 -2.4l1.1 -2.2l1.1 -1.4l1.1 -0.3l1.1 1.2l1.1 2.4l1.1 2.8l1.1 2.2l1.2 0.9l1.1 -0.2l1.1 -0.6l1.1 -0.2l1.1 0.4l1.1 0.6l1.1 0.1l1.1 -1l1.2 -1.6l1.1 -1.5l1.1 -0.7l1.1 0.1l1.1 0.6l1.1 0.1l1.1 -0.6l1.1 -1.1l1.1 -0.8l1.2 0.3l1.1 1.4l1.1 1.8l1.1 1.3l1.1 0.1l1.1 -1l1.1 -1.4l1.1 -0.9l1.2 -0.3l1.1 0.2l1.1 0.2l1.1 -0.1l1.1 -0.3l1.1 -0.4l1.1 -0.3l1.1 -0.6l1.2 -1.2l1.1 -1.6l1.1 -1.2l1.1 0.1l1.1 1.7l1.1 3l1.1 3l1.1 1.7l1.1 0.1l1.2 -1l1.1 -1.1l1.1 -0.2l1.1 0.4l1.1 0.6l1.1 0.1l1.1 -0.5l1.1 -0.5l1.2 -0.1l1.1 0.6l1.1 0.9l1.1 0.3l1.1 -0.6l1.1 -1.2l1.1 -0.9l1.1 -0.2l1.1 0.7l1.2 0.8l1.1 0.2l1.1 -0.6l1.1 -0.9l1.1 -0.5l1.1 0.3l1.1 0.6l1.1 0.3l1.2 -0.5l1.1 -0.9l1.1 -0.6l1.1 0.2l1.1 0.8l1.1 0.3l1.1 -1l1.1 -2l1.2 -1.9l1.1 -0.2l1.1 2l1.1 3.4l1.1 3.2l1.1 1.1l1.1 -1.4l1.1 -3l1.1 -3.1l1.2 -1.6l1.1 0.4l1.1 1.9l1.1 2.3l1.1 1.5l1.1 0l1.1 -1.3l1.1 -1.7l1.2 -1.3l1.1 0l1.1 1l1.1 1l1.1 0.3l1.1 -0.6l1.1 -0.7l1.1 0.2l1.2 1.8l1.1 2.7l1.1 2.2l1.1 0.9l1.1 -0.8l1.1 -1.4l1.1 -1.2l1.1 -0.8l1.1 -0.7l1.2 -1.3l1.1 -1.6l1.1 -1.1l1.1 0.2l1.1 1.2l1.1 1.4l1.1 0.3l1.1 -1l1.2 -1.5l1.1 -0.5l1.1 1.4l1.1 2.6l1.1 2.5l1.1 0.8l1.1 -1.2l1.1 -2.4l1.2 -2.1l1.1 -0.8l1.1 0.5l1.1 1l1.1 0.3l1.1 -0.8l1.1 -1.7l1.1 -1.9l1.1 -1l1.2 0.3l1.1 1.5l1.1 1.9l1.1 1.1l1.1 -0.2l1.1 -1.4l1.1 -1.5l1.1 -0.4l1.2 1.3l1.1 2.6l1.1 2.7l1.1 1.5l1.1 -0.3l1.1 -1.6l1.1 -1.6l1.1 -0.6l1.1 1l1.2 2.1l1.1 2.4l1.1 1.7l1.1 0.6l1.1 -0.6l1.1 -1.6l1.1 -2.3l1.1 -2.4l1.2 -2.4l1.1 -1.8l1.1 -0.9l1.1 0.3l1.1 1.1l1.1 1.3l1.1 0.9l1.1 -0.2l1.2 -0.8l1.1 -0.8l1.1 0.2l1.1 1.1l1.1 1.6l1.1 0.9l1.1 0l1.1 -0.8l1.1 -0.5l1.2 0.3l1.1 0.8l1.1 0.4l1.1 -0.7l1.1 -1.5l1.1 -1.3l1.1 -0.3l1.1 0.6l1.2 0.5l1.1 -0.2l1.1 -0.8l1.1 -0.1l1.1 1.5l1.1 2.8l1.1 2.6l1.1 0.4l1.2 -2.4l1.1 -3.7" fill="none" stroke="#9259a8" stroke-width="1.15" stroke-linejoin="round"/>
<path d="M1012.7 569.9l1.1 0.5l1.1 1.1l1.1 1.3l1.1 1.3l1.2 1l1.1 0.4l1.1 0.1l1.1 -0.3l1.1 -0.2l1.1 -0.2l1.1 -0.2l1.1 -0.3l1.2 -0.3l1.1 -0.3l1.1 -0.2l1.1 -0.2l1.1 -0.3l1.1 -0.5l1.1 -0.4l1.1 -0.3l1.2 -0.1l1.1 0.2l1.1 0.3l1.1 0.1l1.1 -0.2l1.1 -0.3l1.1 -0.3l1.1 0l1.1 0.5l1.2 0.9l1.1 0.9l1.1 0.6l1.1 -0.2l1.1 -0.7l1.1 -1l1.1 -0.7l1.1 -0.1l1.2 0.5l1.1 0.8l1.1 0.7l1.1 0.1l1.1 -0.2l1.1 0l1.1 0.4l1.1 1.1l1.1 1.4l1.2 0.9l1.1 -0.1l1.1 -1l1.1 -1.6l1.1 -1.5l1.1 -0.9l1.1 -0.1l1.1 0.3l1.2 0.4l1.1 -0.2l1.1 -0.6l1.1 -0.8l1.1 -0.4l1.1 0.3l1.1 0.9l1.1 1.1l1.2 0.9l1.1 0.3l1.1 -0.1l1.1 -0.4l1.1 -0.1l1.1 0.1l1.1 0.2l1.1 0.1l1.1 0.1l1.2 0l1.1 0l1.1 -0.2l1.1 -0.5l1.1 -0.9l1.1 -1.1l1.1 -0.8l1.1 0.1l1.2 0.8l1.1 1.3l1.1 0.9l1.1 0.1l1.1 -0.8l1.1 -1.2l1.1 -1l1.1 -0.5l1.2 0.3l1.1 0.8l1.1 1.3l1.1 1.4l1.1 1.2l1.1 0.4l1.1 -0.4l1.1 -1.1l1.1 -1.3l1.2 -1l1.1 -0.2l1.1 0.4l1.1 0.6l1.1 0.3l1.1 0.2l1.1 0.3l1.1 0.7l1.2 1l1.1 0.8l1.1 0l1.1 -1.1l1.1 -1.6l1.1 -1.2l1.1 -0.2l1.1 0.9l1.2 1.1l1.1 0.5l1.1 -0.6l1.1 -1.4l1.1 -1.5l1.1 -0.8l1.1 -0.1l1.1 0.4l1.1 0.5l1.2 0.5l1.1 0.5l1.1 1l1.1 1.2l1.1 1.1l1.1 0.5l1.1 -0.3l1.1 -0.9l1.2 -1l1.1 -0.7l1.1 -0.4l1.1 -0.2l1.1 -0.2l1.1 -0.2l1.1 0l1.1 0.3l1.1 0.7l1.2 0.5l1.1 0.2l1.1 -0.2l1.1 -0.4l1.1 -0.2l1.1 0.1l1.1 0.6l1.1 0.6l1.2 0.2l1.1 -0.3l1.1 -0.7l1.1 -0.7l1.1 0l1.1 0.8l1.1 1.2l1.1 0.8l1.2 -0.4l1.1 -1.6l1.1 -2.2l1.1 -1.5l1.1 0l1.1 1.5l1.1 2l1.1 1.4l1.1 0.3l1.2 -0.9l1.1 -1.2l1.1 -0.6l1.1 0.2l1.1 0.9l1.1 0.9l1.1 0.7l1.1 0.1l1.2 -0.4l1.1 -0.7l1.1 -0.7l1.1 -0.8l1.1 -0.5l1.1 -0.2l1.1 0.1l1.1 0.4l1.2 0.6l1.1 0.6l1.1 0.5l1.1 0.4l1.1 0.1l1.1 0l1.1 -0.3l1.1 -0.3l1.1 -0.4l1.2 -0.2l1.1 -0.2l1.1 0l1.1 -0.1l1.1 -0.3l1.1 -0.5l1.1 -0.6l1.1 -0.6l1.2 0l1.1 0.6l1.1 1.1l1.1 1.3l1.1 0.7l1.1 0l1.1 -0.6l1.1 -0.7l1.1 -0.2l1.2 0.3l1.1 0.4l1.1 0.1l1.1 -0.4l1.1 -0.8l1.1 -0.7l1.1 -0.3l1.1 0.2l1.2 0.4l1.1 0.3l1.1 0.1l1.1 0.2l1.1 0.2l1.1 0.2l1.1 0l1.1 -0.1l1.2 -0.1l1.1 0.3l1.1 0.7l1.1 0.7l1.1 0.3l1.1 -0.4l1.1 -1l1.1 -0.8l1.1 0l1.2 0.7l1.1 1.1l1.1 0.6l1.1 -0.5l1.1 -1.1l1.1 -1.1l1.1 -0.3l1.1 0.7l1.2 1.2l1.1 0.7l1.1 -0.4l1.1 -1.5l1.1 -2l1.1 -1.3l1.1 -0.2l1.1 0.9l1.2 1.4l1.1 1.2l1.1 0.4l1.1 -0.2l1.1 -0.6l1.1 -0.2l1.1 0.2l1.1 0.6l1.1 0.4l1.2 -0.1l1.1 -0.7l1.1 -0.9l1.1 -0.5l1.1 0l1.1 0.8l1.1 0.9l1.1 0.8l1.2 0.4l1.1 0.1l1.1 -0.1l1.1 -0.2l1.1 -0.3l1.1 -0.4l1.1 -0.4l1.1 -0.1l1.2 0.3l1.1 0.8l1.1 0.9l1.1 0.3l1.1 -0.4l1.1 -0.9l1.1 -0.9l1.1 -0.3l1.1 0.5l1.2 0.9l1.1 0.6l1.1 0l1.1 -0.7l1.1 -1l1.1 -0.8l1.1 -0.3l1.1 0.1l1.2 0.2l1.1 -0.1l1.1 -0.1l1.1 0.3l1.1 0.7l1.1 1l1.1 0.6l1.1 -0.1l1.1 -1l1.2 -1.3l1.1 -0.9l1.1 0.2l1.1 1l1.1 1.2l1.1 0.7l1.1 -0.1l1.1 -0.6l1.2 -0.6l1.1 -0.3l1.1 -0.1l1.1 -0.1l1.1 -0.3l1.1 -0.5l1.1 -0.5l1.1 -0.2l1.2 0.1l1.1 0.5l1.1 0.8l1.1 0.9l1.1 0.6l1.1 0.2l1.1 -0.2l1.1 -0.5l1.1 -0.5l1.2 -0.1l1.1 0.2l1.1 0.2l1.1 0.1l1.1 -0.1l1.1 0l1.1 0.2l1.1 0.6l1.2 0.7l1.1 0.2l1.1 -0.6l1.1 -1.2l1.1 -1.5l1.1 -1.1l1.1 -0.3l1.1 0.4l1.2 0.9l1.1 0.9l1.1 0.6l1.1 0.3l1.1 0.2l1.1 0.3l1.1 0.4l1.1 0.5l1.1 0.3l1.2 -0.3l1.1 -0.8l1.1 -1l1.1 -0.5l1.1 0.1l1.1 0.9l1.1 1.1l1.1 1l1.2 0.3l1.1 -0.4l1.1 -0.8l1.1 -1l1.1 -0.9l1.1 -0.7l1.1 -0.4l1.1 -0.2l1.1 0.1l1.2 0.2l1.1 0.5l1.1 0.7l1.1 0.8l1.1 0.8l1.1 0.5l1.1 0l1.1 -0.6l1.2 -1l1.1 -0.9l1.1 -0.5l1.1 0.1l1.1 0.2l1.1 0.3l1.1 -0.1l1.1 -0.2l1.2 -0.2l1.1 0.3l1.1 0.5l1.1 0.4l1.1 -0.3l1.1 -1.1l1.1 -1.4l1.1 -1l1.1 0.1l1.2 1.3l1.1 1.9l1.1 1.4l1.1 0.5l1.1 -0.5l1.1 -0.5l1.1 0.1l1.1 0.7l1.2 0.7l1.1 -0.3l1.1 -1.6l1.1 -2.2l1.1 -1.5l1.1 0.3l1.1 1.9l1.1 2.5l1.2 1.6l1.1 -0.1l1.1 -1.6l1.1 -1.9l1.1 -1l1.1 0.3l1.1 1.2l1.1 1.1l1.1 0.4l1.2 -0.4l1.1 -0.9l1.1 -0.7l1.1 -0.1l1.1 0.5l1.1 0.8l1.1 0.7l1.1 0.6l1.2 0.4l1.1 0.2l1.1 -0.2l1.1 -0.8l1.1 -1.4l1.1 -1.7l1.1 -1.5l1.1 -0.7l1.2 0.3l1.1 1.1l1.1 1.2l1.1 0.9l1.1 0.5l1.1 0.4l1.1 0.4l1.1 0.7l1.1 0.7l1.2 0.6l1.1 0l1.1 -0.3l1.1 -0.6l1.1 -0.5l1.1 -0.5l1.1 -0.4l1.1 -0.5l1.2 -0.5l1.1 -0.3l1.1 0.2l1.1 0.3l1.1 0.1l1.1 -0.3l1.1 -0.7l1.1 -0.9l1.1 -0.6l1.2 0l1.1 0.4l1.1 0.5l1.1 0.6l1.1 0.3l1.1 0.4l1.1 0.3l1.1 0.3l1.2 0.1l1.1 -0.1l1.1 0l1.1 0.4l1.1 0.8l1.1 1.1l1.1 0.9l1.1 0.2l1.2 -0.8l1.1 -1.6l1.1 -1.7l1.1 -1.1l1.1 -0.1l1.1 0.7l1.1 1.1l1.1 0.8l1.1 0l1.2 -0.6l1.1 -0.8l1.1 -0.6l1.1 -0.1l1.1 0.1l1.1 0l1.1 -0.2l1.1 -0.3l1.2 0l1.1 0.5l1.1 1.1l1.1 1.2l1.1 0.9l1.1 0l1.1 -0.6l1.1 -1.1l1.2 -1.2l1.1 -0.8l1.1 -0.3l1.1 0.4l1.1 0.9l1.1 1l1.1 0.8l1.1 0.1l1.1 -0.4l1.2 -0.6l1.1 -0.5l1.1 -0.2l1.1 0.1l1.1 0l1.1 0l1.1 -0.2l1.1 0.1l1.2 0.4l1.1 0.5l1.1 0.5l1.1 0.1l1.1 -0.2l1.1 -0.4l1.1 -0.5l1.1 -0.4l1.1 -0.3l1.2 -0.1l1.1 0.3l1.1 0.6l1.1 1l1.1 1l1.1 0.4l1.1 -0.2l1.1 -0.9l1.2 -1.1l1.1 -1.1l1.1 -0.6l1.1 -0.4l1.1 0l1.1 0.1l1.1 0.3l1.1 0.5l1.2 0.7l1.1 0.7l1.1 0.6l1.1 0.4l1.1 0.3l1.1 0l1.1 -0.1l1.1 -0.2l1.1 -0.4l1.2 -0.5l1.1 -0.5l1.1 -0.6l1.1 -0.7l1.1 -0.8l1.1 -0.7l1.1 -0.4l1.1 0.1l1.2 0.9l1.1 1.5l1.1 1.4l1.1 0.9l1.1 -0.1l1.1 -0.6l1.1 -0.8l1.1 -0.2l1.2 0.5l1.1 0.8l1.1 0.6l1.1 -0.1l1.1 -0.8l1.1 -1.1l1.1 -0.7l1.1 -0.1l1.1 0.1l1.2 0l1.1 -0.5l1.1 -0.6l1.1 -0.4l1.1 0.4l1.1 1.2l1.1 1.6l1.1 1.3l1.2 0.4l1.1 -0.5l1.1 -1.2l1.1 -1.1l1.1 -0.4l1.1 0.3l1.1 0.9l1.1 0.9l1.2 0.2l1.1 -0.6l1.1 -1l1.1 -0.8l1.1 -0.3l1.1 0.3l1.1 0.5l1.1 0.1l1.1 -0.5l1.2 -0.9l1.1 -0.7l1.1 -0.1l1.1 0.9l1.1 1.5l1.1 1.4l1.1 0.8l1.1 0l1.2 -0.6l1.1 -0.8l1.1 -0.3l1.1 0.2l1.1 0.3l1.1 0.1l1.1 -0.7l1.1 -1.4l1.1 -1.4l1.2 -0.6l1.1 0.6l1.1 1.7l1.1 2l1.1 1.5l1.1 0.1l1.1 -0.9l1.1 -1.5l1.2 -1.3l1.1 -0.6l1.1 0.1l1.1 0.1l1.1 0l1.1 -0.2l1.1 -0.2l1.1 0.1l1.2 0.6l1.1 0.7l1.1 0.7l1.1 0.3l1.1 0.1l1.1 -0.1l1.1 -0.2l1.1 -0.1l1.1 -0.2l1.2 -0.3l1.1 -0.3l1.1 -0.2l1.1 -0.2l1.1 -0.2l1.1 -0.3l1.1 0l1.1 0.4l1.2 0.9l1.1 1.1l1.1 0.5l1.1 -0.4l1.1 -1.2l1.1 -1.4l1.1 -0.8l1.1 0.1l1.2 1l1.1 1" fill="none" stroke="#eec564" stroke-width="1.15" stroke-linejoin="round"/>
<path d="M1012.7 584.8l1.1 -2l1.1 -1.6l1.1 -1.1l1.1 -0.8l1.2 0l1.1 1.7l1.1 3.2l1.1 3.7l1.1 2.4l1.1 0.2l1.1 -1.2l1.1 -1.2l1.2 -0.6l1.1 -0.5l1.1 -1.5l1.1 -2.6l1.1 -2.5l1.1 -0.4l1.1 2.3l1.1 4l1.2 3.4l1.1 1.1l1.1 -1.7l1.1 -3.6l1.1 -3.9l1.1 -2.8l1.1 -0.5l1.1 2l1.1 3.7l1.2 3.8l1.1 2.2l1.1 -0.3l1.1 -2.1l1.1 -2.5l1.1 -1.5l1.1 0l1.1 0.9l1.2 0.7l1.1 0l1.1 -0.9l1.1 -1.2l1.1 -0.8l1.1 0.5l1.1 2l1.1 2.6l1.1 1.6l1.2 -0.3l1.1 -2l1.1 -2l1.1 -0.4l1.1 1.4l1.1 1.7l1.1 0.4l1.1 -1.1l1.2 -1l1.1 0.6l1.1 1.9l1.1 1l1.1 -2.3l1.1 -5.5l1.1 -5.8l1.1 -2.2l1.2 2.9l1.1 6.2l1.1 5.4l1.1 1.6l1.1 -2.7l1.1 -4.6l1.1 -3.4l1.1 -0.4l1.1 2.5l1.2 4.3l1.1 4.1l1.1 2.5l1.1 0.2l1.1 -2l1.1 -3l1.1 -2.3l1.1 -0.3l1.2 1.7l1.1 2.1l1.1 0.7l1.1 -1.4l1.1 -2.5l1.1 -2l1.1 -0.3l1.1 0.7l1.2 0.3l1.1 -1l1.1 -1.9l1.1 -1.4l1.1 0.4l1.1 1.9l1.1 2.3l1.1 1.5l1.1 0.3l1.2 -0.1l1.1 0.4l1.1 1.4l1.1 1.9l1.1 1.6l1.1 0.4l1.1 -1.1l1.1 -2.4l1.2 -3l1.1 -2.3l1.1 -0.7l1.1 1.2l1.1 2.1l1.1 1.9l1.1 0.5l1.1 -0.7l1.2 -1.4l1.1 -1.2l1.1 -0.8l1.1 -0.3l1.1 -0.2l1.1 -0.1l1.1 0.1l1.1 0.3l1.1 0.5l1.2 0.3l1.1 0l1.1 -0.8l1.1 -1.6l1.1 -1.7l1.1 -0.5l1.1 1.9l1.1 4.3l1.2 4.7l1.1 2.2l1.1 -1.8l1.1 -5l1.1 -4.9l1.1 -1.8l1.1 2.2l1.1 4.1l1.1 3.1l1.2 0l1.1 -2.8l1.1 -3.5l1.1 -2.2l1.1 0.5l1.1 2.9l1.1 4.2l1.1 3.6l1.2 1.5l1.1 -1.2l1.1 -3l1.1 -3l1.1 -1.3l1.1 0.5l1.1 1.1l1.1 0.4l1.2 -0.8l1.1 -0.8l1.1 0.2l1.1 0.9l1.1 0.1l1.1 -1.9l1.1 -3.6l1.1 -3l1.1 0.3l1.2 4l1.1 5.7l1.1 3.4l1.1 -1.1l1.1 -4.6l1.1 -4.3l1.1 -0.3l1.1 4.5l1.2 6.5l1.1 3.6l1.1 -2l1.1 -6.6l1.1 -7l1.1 -3l1.1 2.4l1.1 5.6l1.2 5l1.1 1.4l1.1 -2.3l1.1 -4l1.1 -3.2l1.1 -1l1.1 0.9l1.1 1.5l1.1 1.2l1.2 0.4l1.1 0l1.1 0l1.1 0.7l1.1 1l1.1 1l1.1 0.1l1.1 -1l1.2 -1.4l1.1 -1.4l1.1 -0.8l1.1 -0.4l1.1 -0.1l1.1 0.4l1.1 1.2l1.1 2.2l1.1 2.9l1.2 2.4l1.1 0.8l1.1 -0.9l1.1 -2.4l1.1 -2.9l1.1 -2.7l1.1 -2.1l1.1 -0.7l1.2 1.2l1.1 2.8l1.1 3l1.1 1.1l1.1 -1.8l1.1 -3.7l1.1 -2.9l1.1 0.3l1.2 3.5l1.1 4.2l1.1 1.7l1.1 -2.2l1.1 -4.2l1.1 -3.2l1.1 0.2l1.1 3.1l1.1 3.5l1.2 1.9l1.1 -0.2l1.1 -0.9l1.1 -0.1l1.1 0.8l1.1 0.7l1.1 -0.5l1.1 -1.6l1.2 -1.7l1.1 -0.8l1.1 -0.1l1.1 -0.4l1.1 -1.2l1.1 -2l1.1 -1.5l1.1 0l1.2 1.7l1.1 2.8l1.1 2.5l1.1 0.7l1.1 -1.3l1.1 -2.8l1.1 -2.4l1.1 -0.1l1.1 2.6l1.2 3.9l1.1 2.8l1.1 0.2l1.1 -1.7l1.1 -1.1l1.1 1.3l1.1 3l1.1 1.9l1.2 -1.9l1.1 -5.5l1.1 -6l1.1 -2.5l1.1 2.3l1.1 4.9l1.1 3.8l1.1 0.4l1.2 -2.7l1.1 -3.2l1.1 -1.9l1.1 -0.5l1.1 -0.4l1.1 -0.9l1.1 -0.8l1.1 0.8l1.1 3l1.2 4.5l1.1 4.1l1.1 2.1l1.1 -0.2l1.1 -1.7l1.1 -1.8l1.1 -1.2l1.1 -0.4l1.2 -0.1l1.1 -0.5l1.1 -1.5l1.1 -2.5l1.1 -2.8l1.1 -1.9l1.1 0.1l1.1 2.5l1.1 3.9l1.2 3.6l1.1 1.4l1.1 -1.2l1.1 -2.7l1.1 -2.5l1.1 -1.2l1.1 0.1l1.1 0.7l1.2 0.5l1.1 0.5l1.1 0.7l1.1 1.3l1.1 1.2l1.1 0.6l1.1 -0.5l1.1 -1l1.2 -0.8l1.1 -0.2l1.1 0.6l1.1 0.7l1.1 0l1.1 -1.1l1.1 -2.3l1.1 -2.8l1.1 -2.1l1.2 -0.1l1.1 2l1.1 3.4l1.1 3.2l1.1 1.9l1.1 0.9l1.1 0.6l1.1 0.7l1.2 0.2l1.1 -1.4l1.1 -3.3l1.1 -4.1l1.1 -2.7l1.1 -0.1l1.1 1.6l1.1 1.6l1.2 0.4l1.1 -0.7l1.1 0.1l1.1 2l1.1 3.7l1.1 3.6l1.1 1.8l1.1 -0.8l1.1 -2.9l1.2 -3.8l1.1 -3.5l1.1 -2l1.1 0.2l1.1 2.2l1.1 2.9l1.1 1.4l1.1 -1.4l1.2 -3.5l1.1 -3.6l1.1 -0.9l1.1 2.5l1.1 4.6l1.1 4l1.1 1.5l1.1 -0.8l1.1 -1.7l1.2 -1l1.1 0.1l1.1 0.4l1.1 -0.2l1.1 -1.4l1.1 -2.2l1.1 -2l1.1 -0.9l1.2 0.4l1.1 1.3l1.1 1.4l1.1 0.4l1.1 -0.9l1.1 -1.8l1.1 -1.1l1.1 0.9l1.2 3.1l1.1 3.9l1.1 2.6l1.1 0.1l1.1 -2.2l1.1 -2.8l1.1 -1.8l1.1 -0.3l1.1 0.3l1.2 -0.1l1.1 -0.6l1.1 -0.3l1.1 1l1.1 2l1.1 1.9l1.1 0.4l1.1 -1.4l1.2 -2.5l1.1 -1.9l1.1 -0.2l1.1 1.7l1.1 2.3l1.1 1.7l1.1 0.1l1.1 -1.2l1.2 -1.7l1.1 -1.2l1.1 -0.3l1.1 0l1.1 -0.4l1.1 -1.5l1.1 -2l1.1 -1.6l1.1 0.2l1.2 2.3l1.1 4.1l1.1 4.3l1.1 3.2l1.1 0.8l1.1 -1.7l1.1 -3.3l1.1 -3.5l1.2 -2.5l1.1 -1l1.1 0.1l1.1 0.3l1.1 0.1l1.1 0.4l1.1 1.6l1.1 2.9l1.2 2.7l1.1 0.4l1.1 -2.8l1.1 -4.7l1.1 -3.5l1.1 0.1l1.1 4l1.1 5.3l1.1 3.4l1.2 0l1.1 -2.4l1.1 -2.5l1.1 -1.2l1.1 0.3l1.1 0.5l1.1 0.1l1.1 -0.2l1.2 -0.3l1.1 -0.3l1.1 -0.9l1.1 -2l1.1 -2.3l1.1 -1.3l1.1 1l1.1 2.9l1.1 3.1l1.2 1.5l1.1 -1l1.1 -2.7l1.1 -2.2l1.1 -0.2l1.1 2.1l1.1 3l1.1 1.8l1.2 -0.8l1.1 -3.1l1.1 -3.6l1.1 -1.9l1.1 1.1l1.1 3l1.1 3l1.1 1.4l1.2 -0.6l1.1 -0.9l1.1 0.1l1.1 1.5l1.1 1.6l1.1 0l1.1 -2.2l1.1 -3.3l1.1 -2.3l1.2 0.4l1.1 3.1l1.1 3.9l1.1 2.4l1.1 -0.5l1.1 -3l1.1 -3.5l1.1 -1.9l1.2 0.5l1.1 2.1l1.1 1.9l1.1 0.1l1.1 -1.7l1.1 -2.6l1.1 -2.3l1.1 -1.1l1.2 0l1.1 1.1l1.1 1.8l1.1 2.3l1.1 2.2l1.1 1.6l1.1 1.1l1.1 0.9l1.1 0.8l1.2 0l1.1 -2.3l1.1 -4.8l1.1 -5.7l1.1 -3.5l1.1 0.7l1.1 4.3l1.1 4.6l1.2 2l1.1 -1l1.1 -1.5l1.1 0.7l1.1 3.2l1.1 3.4l1.1 1l1.1 -2l1.1 -3l1.2 -1.4l1.1 1.2l1.1 2.1l1.1 0.7l1.1 -2l1.1 -3.5l1.1 -2.6l1.1 0.4l1.2 3.2l1.1 3.9l1.1 1.8l1.1 -2.2l1.1 -5.7l1.1 -6.9l1.1 -4.8l1.1 -0.8l1.2 3.2l1.1 5.3l1.1 5l1.1 3.3l1.1 1.8l1.1 0.7l1.1 0.1l1.1 -0.4l1.1 -1.1l1.2 -1.5l1.1 -1.2l1.1 -0.4l1.1 0.3l1.1 0.5l1.1 0l1.1 -0.7l1.1 -1.1l1.2 -0.9l1.1 0.2l1.1 1.6l1.1 2.6l1.1 2.2l1.1 0.6l1.1 -1.9l1.1 -3.6l1.2 -3.5l1.1 -1.8l1.1 0.3l1.1 1.4l1.1 1.1l1.1 0.3l1.1 -0.1l1.1 0.4l1.1 1.3l1.2 2.1l1.1 1.9l1.1 1.1l1.1 0l1.1 -0.8l1.1 -1.4l1.1 -1.1l1.1 -0.2l1.2 1.1l1.1 1.6l1.1 0.9l1.1 -1.6l1.1 -4.2l1.1 -5.4l1.1 -4l1.1 -0.4l1.2 3.6l1.1 5.7l1.1 4.8l1.1 1.7l1.1 -1.9l1.1 -3.8l1.1 -3.1l1.1 -0.7l1.1 1.8l1.2 2.9l1.1 2.2l1.1 0.3l1.1 -1.3l1.1 -2l1.1 -1.5l1.1 -0.5l1.1 0.5l1.2 1.6l1.1 2.7l1.1 3.2l1.1 2.7l1.1 0.4l1.1 -2.6l1.1 -5.1l1.1 -5.3l1.1 -2.7l1.2 1.5l1.1 4.5l1.1 4.4l1.1 1.4l1.1 -2.4l1.1 -4.1l1.1 -2.5l1.1 0.9l1.2 3.3l1.1 2.9l1.1 0.5l1.1 -2l1.1 -2.3l1.1 -0.9l1.1 0.6l1.1 0.8l1.2 0.2l1.1 0.2l1.1 1.2l1.1 2.2l1.1 1.7l1.1 -0.8l1.1 -3.5l1.1 -4l1.1 -2l1.2 1.3l1.1 3l1.1 2.1l1.1 0l1.1 -1.3l1.1 -0.6l1.1 0.9l1.1 1.5l1.2 0.7l1.1 -0.5l1.1 -0.6l1.1 0.4l1.1 1.3l1.1 0.6l1.1 -1.8l1.1 -3.9l1.2 -4l1.1 -1.6" fill="none" stroke="#e18764" stroke-width="1.15" stroke-linejoin="round"/>
<path d="M1012.7 598.2l1.1 -0.3l1.1 -0.3l1.1 -0.2l1.1 0.1l1.2 0.2l1.1 0.1l1.1 0.1l1.1 0.2l1.1 0.4l1.1 0.6l1.1 0.4l1.1 -0.1l1.2 -0.5l1.1 -1l1.1 -1l1.1 -0.5l1.1 0.1l1.1 0.4l1.1 0.7l1.1 0.5l1.2 0.2l1.1 0l1.1 -0.1l1.1 -0.1l1.1 -0.1l1.1 -0.4l1.1 -0.5l1.1 -0.8l1.1 -0.7l1.2 -0.5l1.1 0.1l1.1 0.8l1.1 1.1l1.1 1.3l1.1 0.9l1.1 0.4l1.1 -0.3l1.2 -0.7l1.1 -0.9l1.1 -0.6l1.1 -0.1l1.1 0.4l1.1 0.7l1.1 0.6l1.1 0.3l1.1 -0.3l1.2 -0.4l1.1 -0.2l1.1 0.1l1.1 0.5l1.1 0.4l1.1 -0.1l1.1 -0.6l1.1 -1l1.2 -1l1.1 -0.5l1.1 0l1.1 0.4l1.1 0.5l1.1 0.3l1.1 0l1.1 -0.3l1.2 -0.3l1.1 0.2l1.1 0.8l1.1 1.4l1.1 1.3l1.1 0.7l1.1 -0.3l1.1 -1l1.1 -1.1l1.2 -0.7l1.1 0l1.1 0.3l1.1 0.2l1.1 0l1.1 -0.2l1.1 0l1.1 0l1.2 -0.3l1.1 -0.8l1.1 -1.3l1.1 -1.1l1.1 -0.1l1.1 0.9l1.1 1.5l1.1 1.4l1.2 0.4l1.1 -0.3l1.1 -0.7l1.1 -0.4l1.1 0l1.1 0.2l1.1 -0.1l1.1 -0.2l1.1 -0.3l1.2 0.1l1.1 0.4l1.1 0.5l1.1 0.3l1.1 0l1.1 -0.1l1.1 0.1l1.1 0.2l1.2 -0.1l1.1 -0.4l1.1 -0.6l1.1 -0.4l1.1 0.3l1.1 1.2l1.1 1.3l1.1 0.9l1.2 -0.1l1.1 -0.9l1.1 -1.3l1.1 -1l1.1 -0.5l1.1 0l1.1 -0.2l1.1 -0.5l1.1 -0.8l1.2 -0.6l1.1 0.3l1.1 1.1l1.1 1.7l1.1 1.4l1.1 0.6l1.1 -0.6l1.1 -1.3l1.2 -1.1l1.1 -0.4l1.1 0.5l1.1 1.1l1.1 0.9l1.1 0.4l1.1 -0.3l1.1 -0.8l1.1 -0.9l1.2 -0.6l1.1 -0.3l1.1 0.2l1.1 0.6l1.1 1l1.1 1.1l1.1 0.9l1.1 0.1l1.2 -0.6l1.1 -1.1l1.1 -1l1.1 -0.6l1.1 -0.3l1.1 -0.4l1.1 -0.6l1.1 -0.6l1.2 -0.1l1.1 0.7l1.1 1.4l1.1 1.4l1.1 0.8l1.1 -0.3l1.1 -1.1l1.1 -1l1.1 -0.2l1.2 0.7l1.1 1.3l1.1 1.4l1.1 1l1.1 0.3l1.1 -0.2l1.1 -0.5l1.1 -0.9l1.2 -1l1.1 -1l1.1 -0.8l1.1 -0.6l1.1 -0.6l1.1 -0.7l1.1 -0.7l1.1 -0.5l1.2 0.1l1.1 0.9l1.1 1.6l1.1 1.5l1.1 0.9l1.1 -0.1l1.1 -0.7l1.1 -1l1.1 -0.5l1.2 0.2l1.1 0.6l1.1 0.8l1.1 0.8l1.1 0.4l1.1 0l1.1 -0.3l1.1 -0.5l1.2 -0.5l1.1 -0.2l1.1 -0.1l1.1 0.1l1.1 0l1.1 -0.4l1.1 -0.5l1.1 -0.4l1.1 0l1.2 0.5l1.1 0.7l1.1 0.5l1.1 -0.1l1.1 -0.7l1.1 -1l1.1 -0.6l1.1 -0.1l1.2 0.6l1.1 1l1.1 1.1l1.1 0.7l1.1 0.1l1.1 -0.3l1.1 -0.6l1.1 -0.4l1.2 -0.1l1.1 0.2l1.1 0.4l1.1 0.2l1.1 0.1l1.1 -0.3l1.1 -0.5l1.1 -0.6l1.1 -0.6l1.2 -0.3l1.1 0.3l1.1 0.9l1.1 1l1.1 0.5l1.1 -0.4l1.1 -1.5l1.1 -1.8l1.2 -1l1.1 0.5l1.1 1.7l1.1 2l1.1 1l1.1 -0.5l1.1 -1.6l1.1 -1.4l1.2 -0.5l1.1 0.6l1.1 1.1l1.1 0.5l1.1 -0.5l1.1 -0.9l1.1 -0.5l1.1 0.4l1.1 1.3l1.2 1.5l1.1 0.9l1.1 -0.1l1.1 -0.8l1.1 -0.7l1.1 -0.2l1.1 0.3l1.1 0.4l1.2 0.1l1.1 -0.2l1.1 -0.6l1.1 -0.6l1.1 -0.4l1.1 0.1l1.1 0.4l1.1 0.7l1.2 0.6l1.1 0.3l1.1 -0.3l1.1 -0.6l1.1 -0.8l1.1 -0.5l1.1 0l1.1 0.2l1.1 0.1l1.2 -0.2l1.1 -0.8l1.1 -0.7l1.1 -0.4l1.1 0.3l1.1 0.9l1.1 1.1l1.1 0.8l1.2 0.1l1.1 -0.4l1.1 -0.7l1.1 -0.7l1.1 -0.4l1.1 -0.1l1.1 0l1.1 0.3l1.1 0.3l1.2 0.5l1.1 0.4l1.1 0.2l1.1 0l1.1 -0.2l1.1 0l1.1 0.2l1.1 0.4l1.2 0.1l1.1 -0.4l1.1 -0.9l1.1 -0.9l1.1 -0.4l1.1 0.5l1.1 1l1.1 1l1.2 0.5l1.1 -0.1l1.1 -0.4l1.1 -0.3l1.1 0.2l1.1 0.4l1.1 0.2l1.1 -0.1l1.1 -0.3l1.2 -0.3l1.1 -0.1l1.1 0.1l1.1 -0.1l1.1 -0.2l1.1 -0.4l1.1 -0.3l1.1 -0.1l1.2 -0.1l1.1 -0.3l1.1 -0.5l1.1 -0.3l1.1 0.1l1.1 0.6l1.1 0.9l1.1 0.8l1.2 0.3l1.1 0l1.1 -0.2l1.1 -0.2l1.1 0.1l1.1 0.2l1.1 0.4l1.1 0.4l1.1 0.5l1.2 0.4l1.1 0l1.1 -0.5l1.1 -0.9l1.1 -0.9l1.1 -0.7l1.1 -0.1l1.1 0.1l1.2 0l1.1 -0.5l1.1 -1l1.1 -1l1.1 -0.5l1.1 0.3l1.1 0.9l1.1 1.1l1.1 1l1.2 0.7l1.1 0.5l1.1 0.3l1.1 0.2l1.1 0l1.1 -0.3l1.1 -0.5l1.1 -0.5l1.2 -0.1l1.1 0.3l1.1 0.4l1.1 0.2l1.1 -0.3l1.1 -0.7l1.1 -1l1.1 -0.8l1.2 -0.4l1.1 0l1.1 0.2l1.1 0.4l1.1 0.7l1.1 0.9l1.1 1l1.1 0.7l1.1 -0.1l1.2 -0.9l1.1 -1.3l1.1 -0.9l1.1 0.1l1.1 1l1.1 1.4l1.1 0.9l1.1 -0.1l1.2 -0.8l1.1 -1.1l1.1 -0.6l1.1 -0.1l1.1 0.5l1.1 0.6l1.1 0.1l1.1 -0.4l1.2 -0.9l1.1 -0.8l1.1 -0.4l1.1 0.6l1.1 1.2l1.1 1.5l1.1 0.9l1.1 -0.1l1.1 -0.9l1.2 -1l1.1 -0.5l1.1 0.4l1.1 1l1.1 1.1l1.1 0.5l1.1 -0.2l1.1 -0.5l1.2 -0.6l1.1 -0.4l1.1 -0.3l1.1 -0.4l1.1 -0.5l1.1 -0.6l1.1 -0.5l1.1 -0.3l1.2 -0.1l1.1 0.1l1.1 0.3l1.1 0.5l1.1 0.5l1.1 0.4l1.1 0.4l1.1 0.1l1.1 0.1l1.2 -0.1l1.1 -0.4l1.1 -0.6l1.1 -0.8l1.1 -0.6l1.1 0l1.1 0.7l1.1 1.1l1.2 0.8l1.1 0.2l1.1 -0.4l1.1 -0.5l1.1 -0.1l1.1 0.5l1.1 0.7l1.1 0.3l1.1 -0.4l1.2 -0.8l1.1 -0.7l1.1 -0.1l1.1 0.5l1.1 0.5l1.1 0.1l1.1 -0.4l1.1 -0.7l1.2 -0.5l1.1 0.1l1.1 0.3l1.1 0.2l1.1 0.1l1.1 -0.2l1.1 0l1.1 0.3l1.2 0.4l1.1 0.2l1.1 -0.3l1.1 -0.6l1.1 -0.6l1.1 -0.2l1.1 0.3l1.1 0.3l1.1 0.4l1.2 0.3l1.1 0.5l1.1 1l1.1 1.1l1.1 1l1.1 0.2l1.1 -0.6l1.1 -1.3l1.2 -1.3l1.1 -0.8l1.1 0l1.1 0.5l1.1 0.5l1.1 0.2l1.1 -0.3l1.1 -0.8l1.2 -0.9l1.1 -0.8l1.1 -0.3l1.1 0.1l1.1 0.4l1.1 0.4l1.1 0.4l1.1 0.2l1.1 0.4l1.2 0.5l1.1 0.6l1.1 0.2l1.1 -0.3l1.1 -0.8l1.1 -0.9l1.1 -0.4l1.1 0.2l1.2 0.7l1.1 1l1.1 0.7l1.1 0.5l1.1 0.3l1.1 0.1l1.1 -0.1l1.1 -0.6l1.1 -1.2l1.2 -1.3l1.1 -0.8l1.1 0l1.1 0.7l1.1 1.1l1.1 1l1.1 0.5l1.1 -0.1l1.2 -0.6l1.1 -1l1.1 -1.1l1.1 -0.9l1.1 -0.6l1.1 0.1l1.1 0.7l1.1 0.8l1.2 0.7l1.1 0.5l1.1 0.3l1.1 0.5l1.1 0.9l1.1 1.1l1.1 0.9l1.1 0.4l1.1 -0.2l1.2 -0.5l1.1 -0.6l1.1 -0.9l1.1 -1.5l1.1 -1.9l1.1 -2.1l1.1 -1.5l1.1 -0.2l1.2 1.2l1.1 2l1.1 2l1.1 1.1l1.1 0l1.1 -0.7l1.1 -0.5l1.1 0.4l1.2 1.1l1.1 1.3l1.1 0.5l1.1 -0.6l1.1 -1.6l1.1 -2l1.1 -1.5l1.1 -0.5l1.1 0.6l1.2 1.2l1.1 1.4l1.1 1l1.1 0.6l1.1 0l1.1 -0.3l1.1 -0.5l1.1 -0.6l1.2 -0.4l1.1 -0.3l1.1 0l1.1 0.2l1.1 0.1l1.1 -0.1l1.1 -0.2l1.1 -0.4l1.2 -0.3l1.1 -0.1l1.1 0.3l1.1 0.7l1.1 0.9l1.1 1.1l1.1 0.8l1.1 0.3l1.1 -0.3l1.2 -0.9l1.1 -1.2l1.1 -0.9l1.1 -0.4l1.1 0.3l1.1 0.4l1.1 0.4l1.1 0.2l1.2 0l1.1 0.2l1.1 0.5l1.1 0.7l1.1 0.2l1.1 -0.5l1.1 -1.2l1.1 -1.3l1.1 -0.7l1.2 0.1l1.1 0.8l1.1 0.9l1.1 0.4l1.1 -0.4l1.1 -0.9l1.1 -0.9l1.1 -0.4l1.2 0.1l1.1 0.5l1.1 0.4l1.1 0.2l1.1 0l1.1 -0.1l1.1 0.1l1.1 0.4l1.2 0.6l1.1 0.5l1.1 0.2l1.1 -0.2l1.1 -0.6l1.1 -0.5l1.1 -0.2l1.1 0.4l1.1 0.6l1.2 0.6l1.1 0.1l1.1 -0.6l1.1 -0.9l1.1 -0.8l1.1 -0.2l1.1 0.5l1.1 1.3l1.2 1.5l1.1 1.3l1.1 0.6l1.1 -0.2l1.1 -0.8l1.1 -1.2l1.1 -1.2l1.1 -1l1.2 -0.6l1.1 -0.1" fill="none" stroke="#4893ca" stroke-width="1.15" stroke-linejoin="round"/>
<text transform="translate(1004.9 392.1) scale(0.92 1)" font-size="12" text-anchor="end" font-weight="bold">F7</text>
<text transform="translate(1004.9 403.7) scale(0.92 1)" font-size="12" text-anchor="end" font-weight="bold">F3</text>
<text transform="translate(1004.9 415.4) scale(0.92 1)" font-size="12" text-anchor="end" font-weight="bold">FP1</text>
<text transform="translate(1004.9 427) scale(0.92 1)" font-size="12" text-anchor="end" font-weight="bold">C2</text>
<text transform="translate(1004.9 438.6) scale(0.92 1)" font-size="12" text-anchor="end" font-weight="bold">C4</text>
<text transform="translate(1004.9 450.3) scale(0.92 1)" font-size="12" text-anchor="end" font-weight="bold">T6</text>
<text transform="translate(1004.9 461.9) scale(0.92 1)" font-size="12" text-anchor="end" font-weight="bold">P4</text>
<text transform="translate(1004.9 473.5) scale(0.92 1)" font-size="12" text-anchor="end" font-weight="bold">O2</text>
<text transform="translate(1004.9 485.2) scale(0.92 1)" font-size="12" text-anchor="end" font-weight="bold">O1</text>
<text transform="translate(1004.9 496.8) scale(0.92 1)" font-size="12" text-anchor="end" font-weight="bold">T5</text>
<text transform="translate(1004.9 508.4) scale(0.92 1)" font-size="12" text-anchor="end" font-weight="bold">P3</text>
<text transform="translate(1004.9 520.1) scale(0.92 1)" font-size="12" text-anchor="end" font-weight="bold">T3</text>
<text transform="translate(1004.9 531.7) scale(0.92 1)" font-size="12" text-anchor="end" font-weight="bold">C3</text>
<text transform="translate(1004.9 543.3) scale(0.92 1)" font-size="12" text-anchor="end" font-weight="bold">FPZ</text>
<text transform="translate(1004.9 555) scale(0.92 1)" font-size="12" text-anchor="end" font-weight="bold">Fz</text>
<text transform="translate(1004.9 566.6) scale(0.92 1)" font-size="12" text-anchor="end" font-weight="bold">F4</text>
<text transform="translate(1004.9 578.2) scale(0.92 1)" font-size="12" text-anchor="end" font-weight="bold">FP1</text>
<text transform="translate(1004.9 589.9) scale(0.92 1)" font-size="12" text-anchor="end" font-weight="bold">T4</text>
<text transform="translate(1004.9 601.5) scale(0.92 1)" font-size="12" text-anchor="end" font-weight="bold">F8</text>
<text transform="translate(1012.8 628.7) scale(0.87 1)" font-size="12.8" text-anchor="middle" stroke="#000" stroke-width="0.35">0</text>
<text transform="translate(1105.5 628.7) scale(0.87 1)" font-size="12.8" text-anchor="middle" stroke="#000" stroke-width="0.35">500</text>
<text transform="translate(1198.1 628.7) scale(0.87 1)" font-size="12.8" text-anchor="middle" stroke="#000" stroke-width="0.35">1000</text>
<text transform="translate(1290.8 628.7) scale(0.87 1)" font-size="12.8" text-anchor="middle" stroke="#000" stroke-width="0.35">1500</text>
<text transform="translate(1383.4 628.7) scale(0.87 1)" font-size="12.8" text-anchor="middle" stroke="#000" stroke-width="0.35">2000</text>
<text transform="translate(1476.1 628.7) scale(0.87 1)" font-size="12.8" text-anchor="middle" stroke="#000" stroke-width="0.35">2500</text>
<text transform="translate(1568.8 628.7) scale(0.87 1)" font-size="12.8" text-anchor="middle" stroke="#000" stroke-width="0.35">3000</text>
<text transform="translate(1661.4 628.7) scale(0.87 1)" font-size="12.8" text-anchor="middle" stroke="#000" stroke-width="0.35">3500</text>
<text transform="translate(1754.1 628.7) scale(0.87 1)" font-size="12.8" text-anchor="middle" stroke="#000" stroke-width="0.35">4000</text>
<text x="1383.8" y="654" font-size="12.4" text-anchor="middle" stroke="#000" stroke-width="0.35">Time [ms]</text>
<text transform="translate(968.2 482.3) rotate(-90)" font-size="12.8" text-anchor="middle" stroke="#000" stroke-width="0.35" textLength="138.8">EEG preprocessed [<tspan font-style="italic">μ</tspan>V]</text>
</svg></body></html>
